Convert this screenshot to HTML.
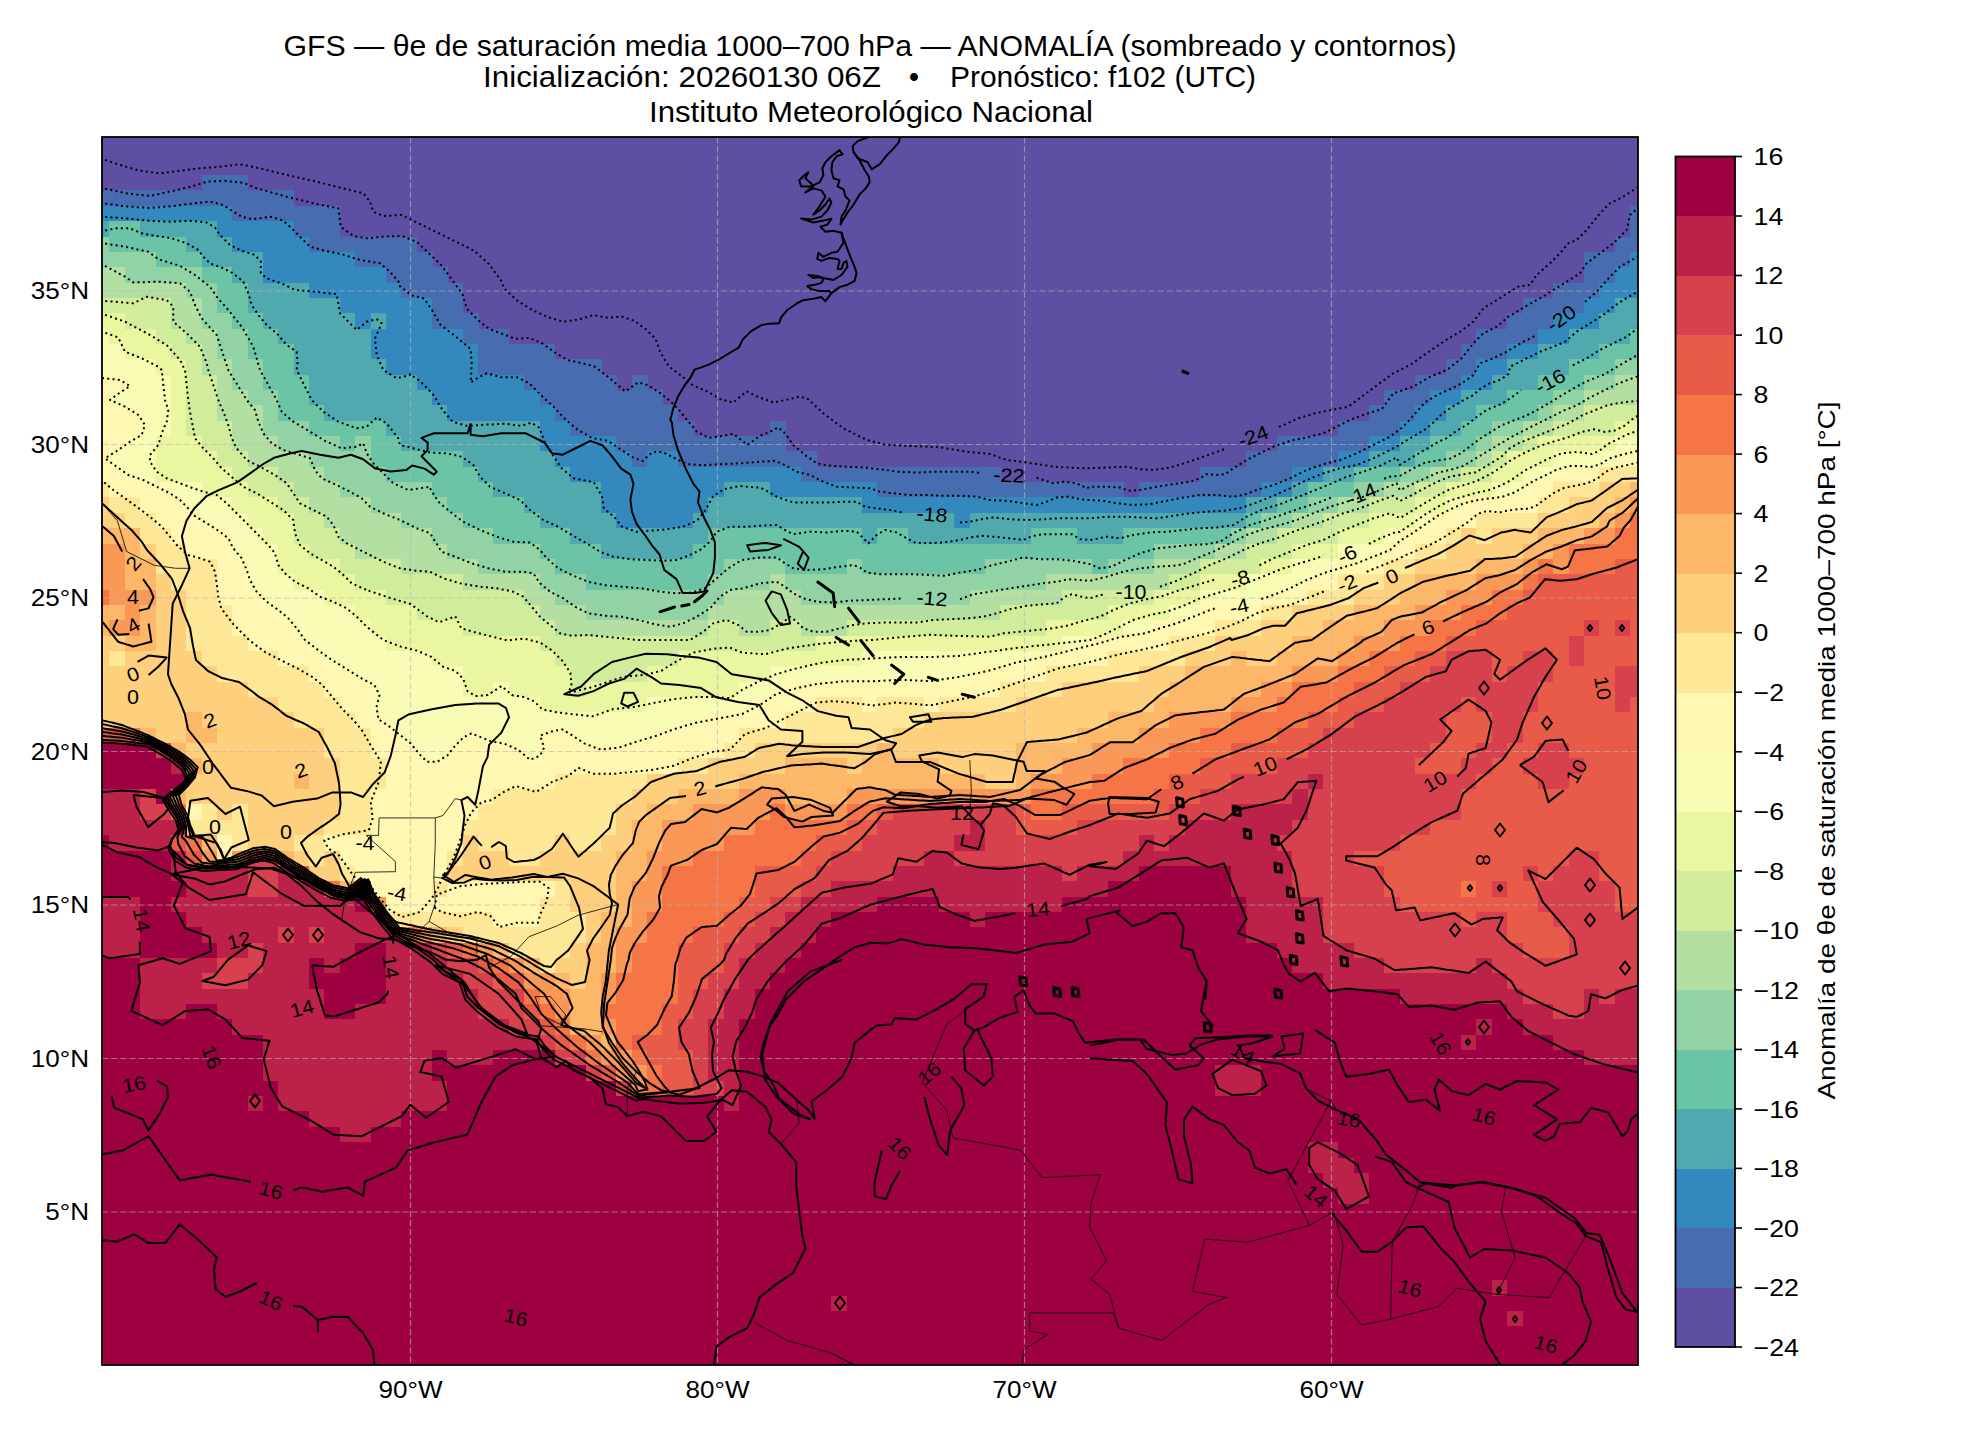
<!DOCTYPE html>
<html><head><meta charset="utf-8"><title>GFS</title>
<style>
html,body{margin:0;padding:0;background:#fff;}
body{width:1980px;height:1440px;overflow:hidden;font-family:"Liberation Sans",sans-serif;}
svg{display:block}
text{font-family:"Liberation Sans",sans-serif;fill:#000}
.cl{font-size:19.5px;text-anchor:middle;dominant-baseline:central}
.n{fill:none;stroke:#000;stroke-width:2;stroke-dasharray:2 3.3;stroke-linejoin:round}
.p{fill:none;stroke:#000;stroke-width:2;stroke-linejoin:round}
.c{fill:none;stroke:#000;stroke-width:2;stroke-linejoin:round;stroke-linecap:round}
.k{fill:none;stroke:#000;stroke-width:3;stroke-linejoin:round;stroke-linecap:round}
.b{fill:none;stroke:#000;stroke-width:0.8;stroke-linejoin:round}
.g line{stroke:#b8b8b8;stroke-width:1.2;stroke-dasharray:6.3 2.8;opacity:.6}
</style></head><body>
<svg width="1980" height="1440" viewBox="0 0 1980 1440">
<rect width="1980" height="1440" fill="#fff"/>
<text x="283.5" y="55.8" font-size="28.6" textLength="1173" lengthAdjust="spacingAndGlyphs">GFS — θe de saturación media 1000–700 hPa — ANOMALÍA (sombreado y contornos)</text>
<text x="483" y="86.6" font-size="28.6" textLength="398" lengthAdjust="spacingAndGlyphs">Inicialización: 20260130 06Z</text>
<text x="909" y="86.6" font-size="28.6">•</text>
<text x="950" y="86.6" font-size="28.6" textLength="306" lengthAdjust="spacingAndGlyphs">Pronóstico: f102 (UTC)</text>
<text x="649" y="121.8" font-size="28.6" textLength="444" lengthAdjust="spacingAndGlyphs">Instituto Meteorológico Nacional</text>
<defs><clipPath id="mc"><rect x="102" y="137" width="1536" height="1228"/></clipPath></defs>
<g clip-path="url(#mc)">
<rect x="102" y="137" width="1536" height="1228" fill="#5e4fa2"/>
<g shape-rendering="crispEdges">
<rect x="201.5" y="175.1" width="46.7" height="16.0" fill="#486cb0"/>
<rect x="101.7" y="190.4" width="192.6" height="16.0" fill="#486cb0"/>
<rect x="101.7" y="205.8" width="131.2" height="15.9" fill="#3389bd"/>
<rect x="232.3" y="205.8" width="108.1" height="15.9" fill="#486cb0"/>
<rect x="1630.0" y="205.8" width="8.3" height="15.9" fill="#486cb0"/>
<rect x="101.7" y="221.1" width="8.3" height="15.9" fill="#50a9af"/>
<rect x="109.4" y="221.1" width="31.3" height="15.9" fill="#6bc4a5"/>
<rect x="140.1" y="221.1" width="77.4" height="15.9" fill="#50a9af"/>
<rect x="216.9" y="221.1" width="77.4" height="15.9" fill="#3389bd"/>
<rect x="293.7" y="221.1" width="46.7" height="15.9" fill="#486cb0"/>
<rect x="1630.0" y="221.1" width="8.3" height="15.9" fill="#486cb0"/>
<rect x="101.7" y="236.5" width="8.3" height="16.0" fill="#91d3a4"/>
<rect x="109.4" y="236.5" width="77.4" height="16.0" fill="#6bc4a5"/>
<rect x="186.2" y="236.5" width="46.7" height="16.0" fill="#50a9af"/>
<rect x="232.3" y="236.5" width="77.4" height="16.0" fill="#3389bd"/>
<rect x="309.1" y="236.5" width="108.1" height="16.0" fill="#486cb0"/>
<rect x="1614.7" y="236.5" width="23.6" height="16.0" fill="#486cb0"/>
<rect x="101.7" y="251.8" width="54.4" height="15.9" fill="#91d3a4"/>
<rect x="155.5" y="251.8" width="46.7" height="15.9" fill="#6bc4a5"/>
<rect x="201.5" y="251.8" width="62.0" height="15.9" fill="#50a9af"/>
<rect x="263.0" y="251.8" width="92.8" height="15.9" fill="#3389bd"/>
<rect x="355.1" y="251.8" width="77.4" height="15.9" fill="#486cb0"/>
<rect x="1583.9" y="251.8" width="46.7" height="15.9" fill="#486cb0"/>
<rect x="1630.0" y="251.8" width="8.3" height="15.9" fill="#3389bd"/>
<rect x="101.7" y="267.2" width="23.6" height="15.9" fill="#b3e0a2"/>
<rect x="124.7" y="267.2" width="77.4" height="15.9" fill="#91d3a4"/>
<rect x="201.5" y="267.2" width="31.3" height="15.9" fill="#6bc4a5"/>
<rect x="232.3" y="267.2" width="31.3" height="15.9" fill="#50a9af"/>
<rect x="263.0" y="267.2" width="123.5" height="15.9" fill="#3389bd"/>
<rect x="385.9" y="267.2" width="62.0" height="15.9" fill="#486cb0"/>
<rect x="1583.9" y="267.2" width="31.3" height="15.9" fill="#486cb0"/>
<rect x="1614.7" y="267.2" width="23.6" height="15.9" fill="#3389bd"/>
<rect x="101.7" y="282.5" width="85.1" height="15.9" fill="#b3e0a2"/>
<rect x="186.2" y="282.5" width="31.3" height="15.9" fill="#91d3a4"/>
<rect x="216.9" y="282.5" width="31.3" height="15.9" fill="#6bc4a5"/>
<rect x="247.6" y="282.5" width="62.0" height="15.9" fill="#50a9af"/>
<rect x="309.1" y="282.5" width="92.8" height="15.9" fill="#3389bd"/>
<rect x="401.2" y="282.5" width="62.0" height="15.9" fill="#486cb0"/>
<rect x="1553.2" y="282.5" width="46.7" height="15.9" fill="#486cb0"/>
<rect x="1599.3" y="282.5" width="39.0" height="15.9" fill="#3389bd"/>
<rect x="101.7" y="297.9" width="69.7" height="16.0" fill="#d1ed9c"/>
<rect x="170.8" y="297.9" width="31.3" height="16.0" fill="#b3e0a2"/>
<rect x="201.5" y="297.9" width="16.0" height="16.0" fill="#91d3a4"/>
<rect x="216.9" y="297.9" width="31.3" height="16.0" fill="#6bc4a5"/>
<rect x="247.6" y="297.9" width="92.8" height="16.0" fill="#50a9af"/>
<rect x="339.8" y="297.9" width="92.8" height="16.0" fill="#3389bd"/>
<rect x="431.9" y="297.9" width="31.3" height="16.0" fill="#486cb0"/>
<rect x="1522.5" y="297.9" width="62.0" height="16.0" fill="#486cb0"/>
<rect x="1583.9" y="297.9" width="31.3" height="16.0" fill="#3389bd"/>
<rect x="1614.7" y="297.9" width="23.6" height="16.0" fill="#50a9af"/>
<rect x="101.7" y="313.2" width="23.6" height="15.9" fill="#ebf7a0"/>
<rect x="124.7" y="313.2" width="46.7" height="15.9" fill="#d1ed9c"/>
<rect x="170.8" y="313.2" width="31.3" height="15.9" fill="#b3e0a2"/>
<rect x="201.5" y="313.2" width="31.3" height="15.9" fill="#91d3a4"/>
<rect x="232.3" y="313.2" width="31.3" height="15.9" fill="#6bc4a5"/>
<rect x="263.0" y="313.2" width="92.8" height="15.9" fill="#50a9af"/>
<rect x="355.1" y="313.2" width="16.0" height="15.9" fill="#3389bd"/>
<rect x="370.5" y="313.2" width="16.0" height="15.9" fill="#50a9af"/>
<rect x="385.9" y="313.2" width="46.7" height="15.9" fill="#3389bd"/>
<rect x="431.9" y="313.2" width="46.7" height="15.9" fill="#486cb0"/>
<rect x="1507.1" y="313.2" width="46.7" height="15.9" fill="#486cb0"/>
<rect x="1553.2" y="313.2" width="46.7" height="15.9" fill="#3389bd"/>
<rect x="1599.3" y="313.2" width="39.0" height="15.9" fill="#50a9af"/>
<rect x="101.7" y="328.6" width="8.3" height="15.9" fill="#f8fcb4"/>
<rect x="109.4" y="328.6" width="46.7" height="15.9" fill="#ebf7a0"/>
<rect x="155.5" y="328.6" width="31.3" height="15.9" fill="#d1ed9c"/>
<rect x="186.2" y="328.6" width="31.3" height="15.9" fill="#b3e0a2"/>
<rect x="216.9" y="328.6" width="31.3" height="15.9" fill="#91d3a4"/>
<rect x="247.6" y="328.6" width="31.3" height="15.9" fill="#6bc4a5"/>
<rect x="278.3" y="328.6" width="92.8" height="15.9" fill="#50a9af"/>
<rect x="370.5" y="328.6" width="92.8" height="15.9" fill="#3389bd"/>
<rect x="462.7" y="328.6" width="46.7" height="15.9" fill="#486cb0"/>
<rect x="1476.4" y="328.6" width="62.0" height="15.9" fill="#486cb0"/>
<rect x="1537.9" y="328.6" width="31.3" height="15.9" fill="#3389bd"/>
<rect x="1568.6" y="328.6" width="62.0" height="15.9" fill="#50a9af"/>
<rect x="1630.0" y="328.6" width="8.3" height="15.9" fill="#6bc4a5"/>
<rect x="101.7" y="343.9" width="23.6" height="15.9" fill="#f8fcb4"/>
<rect x="124.7" y="343.9" width="46.7" height="15.9" fill="#ebf7a0"/>
<rect x="170.8" y="343.9" width="31.3" height="15.9" fill="#d1ed9c"/>
<rect x="201.5" y="343.9" width="16.0" height="15.9" fill="#b3e0a2"/>
<rect x="216.9" y="343.9" width="31.3" height="15.9" fill="#91d3a4"/>
<rect x="247.6" y="343.9" width="46.7" height="15.9" fill="#6bc4a5"/>
<rect x="293.7" y="343.9" width="77.4" height="15.9" fill="#50a9af"/>
<rect x="370.5" y="343.9" width="108.1" height="15.9" fill="#3389bd"/>
<rect x="478.0" y="343.9" width="77.4" height="15.9" fill="#486cb0"/>
<rect x="1461.1" y="343.9" width="46.7" height="15.9" fill="#486cb0"/>
<rect x="1507.1" y="343.9" width="31.3" height="15.9" fill="#3389bd"/>
<rect x="1537.9" y="343.9" width="62.0" height="15.9" fill="#50a9af"/>
<rect x="1599.3" y="343.9" width="39.0" height="15.9" fill="#6bc4a5"/>
<rect x="101.7" y="359.3" width="54.4" height="15.9" fill="#f8fcb4"/>
<rect x="155.5" y="359.3" width="31.3" height="15.9" fill="#ebf7a0"/>
<rect x="186.2" y="359.3" width="16.0" height="15.9" fill="#d1ed9c"/>
<rect x="201.5" y="359.3" width="31.3" height="15.9" fill="#b3e0a2"/>
<rect x="232.3" y="359.3" width="31.3" height="15.9" fill="#91d3a4"/>
<rect x="263.0" y="359.3" width="31.3" height="15.9" fill="#6bc4a5"/>
<rect x="293.7" y="359.3" width="92.8" height="15.9" fill="#50a9af"/>
<rect x="385.9" y="359.3" width="92.8" height="15.9" fill="#3389bd"/>
<rect x="478.0" y="359.3" width="123.5" height="15.9" fill="#486cb0"/>
<rect x="1445.7" y="359.3" width="31.3" height="15.9" fill="#486cb0"/>
<rect x="1476.4" y="359.3" width="31.3" height="15.9" fill="#3389bd"/>
<rect x="1507.1" y="359.3" width="62.0" height="15.9" fill="#50a9af"/>
<rect x="1568.6" y="359.3" width="46.7" height="15.9" fill="#6bc4a5"/>
<rect x="1614.7" y="359.3" width="23.6" height="15.9" fill="#91d3a4"/>
<rect x="101.7" y="374.6" width="23.6" height="16.0" fill="#fff7b2"/>
<rect x="124.7" y="374.6" width="46.7" height="16.0" fill="#f8fcb4"/>
<rect x="170.8" y="374.6" width="16.0" height="16.0" fill="#ebf7a0"/>
<rect x="186.2" y="374.6" width="31.3" height="16.0" fill="#d1ed9c"/>
<rect x="216.9" y="374.6" width="16.0" height="16.0" fill="#b3e0a2"/>
<rect x="232.3" y="374.6" width="31.3" height="16.0" fill="#91d3a4"/>
<rect x="263.0" y="374.6" width="46.7" height="16.0" fill="#6bc4a5"/>
<rect x="309.1" y="374.6" width="108.1" height="16.0" fill="#50a9af"/>
<rect x="416.6" y="374.6" width="108.1" height="16.0" fill="#3389bd"/>
<rect x="524.1" y="374.6" width="92.8" height="16.0" fill="#486cb0"/>
<rect x="631.6" y="374.6" width="16.0" height="16.0" fill="#486cb0"/>
<rect x="1415.0" y="374.6" width="46.7" height="16.0" fill="#486cb0"/>
<rect x="1461.1" y="374.6" width="31.3" height="16.0" fill="#3389bd"/>
<rect x="1491.8" y="374.6" width="46.7" height="16.0" fill="#50a9af"/>
<rect x="1537.9" y="374.6" width="46.7" height="16.0" fill="#6bc4a5"/>
<rect x="1583.9" y="374.6" width="31.3" height="16.0" fill="#91d3a4"/>
<rect x="1614.7" y="374.6" width="23.6" height="16.0" fill="#b3e0a2"/>
<rect x="101.7" y="390.0" width="8.3" height="15.9" fill="#fff7b2"/>
<rect x="109.4" y="390.0" width="62.0" height="15.9" fill="#f8fcb4"/>
<rect x="170.8" y="390.0" width="16.0" height="15.9" fill="#ebf7a0"/>
<rect x="186.2" y="390.0" width="31.3" height="15.9" fill="#d1ed9c"/>
<rect x="216.9" y="390.0" width="31.3" height="15.9" fill="#b3e0a2"/>
<rect x="247.6" y="390.0" width="31.3" height="15.9" fill="#91d3a4"/>
<rect x="278.3" y="390.0" width="31.3" height="15.9" fill="#6bc4a5"/>
<rect x="309.1" y="390.0" width="123.5" height="15.9" fill="#50a9af"/>
<rect x="431.9" y="390.0" width="108.1" height="15.9" fill="#3389bd"/>
<rect x="539.5" y="390.0" width="123.5" height="15.9" fill="#486cb0"/>
<rect x="1384.3" y="390.0" width="46.7" height="15.9" fill="#486cb0"/>
<rect x="1430.3" y="390.0" width="31.3" height="15.9" fill="#3389bd"/>
<rect x="1461.1" y="390.0" width="46.7" height="15.9" fill="#50a9af"/>
<rect x="1507.1" y="390.0" width="46.7" height="15.9" fill="#6bc4a5"/>
<rect x="1553.2" y="390.0" width="31.3" height="15.9" fill="#91d3a4"/>
<rect x="1583.9" y="390.0" width="54.4" height="15.9" fill="#b3e0a2"/>
<rect x="101.7" y="405.3" width="39.0" height="15.9" fill="#fff7b2"/>
<rect x="140.1" y="405.3" width="31.3" height="15.9" fill="#f8fcb4"/>
<rect x="170.8" y="405.3" width="16.0" height="15.9" fill="#ebf7a0"/>
<rect x="186.2" y="405.3" width="31.3" height="15.9" fill="#d1ed9c"/>
<rect x="216.9" y="405.3" width="46.7" height="15.9" fill="#b3e0a2"/>
<rect x="263.0" y="405.3" width="16.0" height="15.9" fill="#91d3a4"/>
<rect x="278.3" y="405.3" width="46.7" height="15.9" fill="#6bc4a5"/>
<rect x="324.4" y="405.3" width="123.5" height="15.9" fill="#50a9af"/>
<rect x="447.3" y="405.3" width="108.1" height="15.9" fill="#3389bd"/>
<rect x="554.8" y="405.3" width="123.5" height="15.9" fill="#486cb0"/>
<rect x="1368.9" y="405.3" width="46.7" height="15.9" fill="#486cb0"/>
<rect x="1415.0" y="405.3" width="31.3" height="15.9" fill="#3389bd"/>
<rect x="1445.7" y="405.3" width="31.3" height="15.9" fill="#50a9af"/>
<rect x="1476.4" y="405.3" width="62.0" height="15.9" fill="#6bc4a5"/>
<rect x="1537.9" y="405.3" width="16.0" height="15.9" fill="#91d3a4"/>
<rect x="1553.2" y="405.3" width="31.3" height="15.9" fill="#b3e0a2"/>
<rect x="1583.9" y="405.3" width="54.4" height="15.9" fill="#d1ed9c"/>
<rect x="101.7" y="420.7" width="39.0" height="16.0" fill="#fff7b2"/>
<rect x="140.1" y="420.7" width="31.3" height="16.0" fill="#f8fcb4"/>
<rect x="170.8" y="420.7" width="16.0" height="16.0" fill="#ebf7a0"/>
<rect x="186.2" y="420.7" width="46.7" height="16.0" fill="#d1ed9c"/>
<rect x="232.3" y="420.7" width="31.3" height="16.0" fill="#b3e0a2"/>
<rect x="263.0" y="420.7" width="46.7" height="16.0" fill="#91d3a4"/>
<rect x="309.1" y="420.7" width="77.4" height="16.0" fill="#6bc4a5"/>
<rect x="385.9" y="420.7" width="154.2" height="16.0" fill="#50a9af"/>
<rect x="539.5" y="420.7" width="31.3" height="16.0" fill="#3389bd"/>
<rect x="570.2" y="420.7" width="123.5" height="16.0" fill="#486cb0"/>
<rect x="769.9" y="420.7" width="16.0" height="16.0" fill="#486cb0"/>
<rect x="1338.2" y="420.7" width="62.0" height="16.0" fill="#486cb0"/>
<rect x="1399.6" y="420.7" width="31.3" height="16.0" fill="#3389bd"/>
<rect x="1430.3" y="420.7" width="31.3" height="16.0" fill="#50a9af"/>
<rect x="1461.1" y="420.7" width="31.3" height="16.0" fill="#6bc4a5"/>
<rect x="1491.8" y="420.7" width="31.3" height="16.0" fill="#91d3a4"/>
<rect x="1522.5" y="420.7" width="31.3" height="16.0" fill="#b3e0a2"/>
<rect x="1553.2" y="420.7" width="62.0" height="16.0" fill="#d1ed9c"/>
<rect x="1614.7" y="420.7" width="23.6" height="16.0" fill="#ebf7a0"/>
<rect x="101.7" y="436.0" width="23.6" height="16.0" fill="#fff7b2"/>
<rect x="124.7" y="436.0" width="31.3" height="16.0" fill="#f8fcb4"/>
<rect x="155.5" y="436.0" width="46.7" height="16.0" fill="#ebf7a0"/>
<rect x="201.5" y="436.0" width="31.3" height="16.0" fill="#d1ed9c"/>
<rect x="232.3" y="436.0" width="46.7" height="16.0" fill="#b3e0a2"/>
<rect x="278.3" y="436.0" width="62.0" height="16.0" fill="#91d3a4"/>
<rect x="339.8" y="436.0" width="16.0" height="16.0" fill="#6bc4a5"/>
<rect x="355.1" y="436.0" width="16.0" height="16.0" fill="#91d3a4"/>
<rect x="370.5" y="436.0" width="31.3" height="16.0" fill="#6bc4a5"/>
<rect x="401.2" y="436.0" width="138.8" height="16.0" fill="#50a9af"/>
<rect x="539.5" y="436.0" width="77.4" height="16.0" fill="#3389bd"/>
<rect x="616.3" y="436.0" width="169.6" height="16.0" fill="#486cb0"/>
<rect x="1276.7" y="436.0" width="92.8" height="16.0" fill="#486cb0"/>
<rect x="1368.9" y="436.0" width="31.3" height="16.0" fill="#3389bd"/>
<rect x="1399.6" y="436.0" width="31.3" height="16.0" fill="#50a9af"/>
<rect x="1430.3" y="436.0" width="46.7" height="16.0" fill="#6bc4a5"/>
<rect x="1476.4" y="436.0" width="16.0" height="16.0" fill="#91d3a4"/>
<rect x="1491.8" y="436.0" width="31.3" height="16.0" fill="#b3e0a2"/>
<rect x="1522.5" y="436.0" width="16.0" height="16.0" fill="#d1ed9c"/>
<rect x="1537.9" y="436.0" width="77.4" height="16.0" fill="#ebf7a0"/>
<rect x="1614.7" y="436.0" width="23.6" height="16.0" fill="#f8fcb4"/>
<rect x="101.7" y="451.4" width="8.3" height="15.9" fill="#fff7b2"/>
<rect x="109.4" y="451.4" width="46.7" height="15.9" fill="#f8fcb4"/>
<rect x="155.5" y="451.4" width="62.0" height="15.9" fill="#ebf7a0"/>
<rect x="216.9" y="451.4" width="31.3" height="15.9" fill="#d1ed9c"/>
<rect x="247.6" y="451.4" width="62.0" height="15.9" fill="#b3e0a2"/>
<rect x="309.1" y="451.4" width="62.0" height="15.9" fill="#91d3a4"/>
<rect x="370.5" y="451.4" width="92.8" height="15.9" fill="#6bc4a5"/>
<rect x="462.7" y="451.4" width="92.8" height="15.9" fill="#50a9af"/>
<rect x="554.8" y="451.4" width="77.4" height="15.9" fill="#3389bd"/>
<rect x="631.6" y="451.4" width="16.0" height="15.9" fill="#486cb0"/>
<rect x="647.0" y="451.4" width="31.3" height="15.9" fill="#3389bd"/>
<rect x="677.7" y="451.4" width="138.8" height="15.9" fill="#486cb0"/>
<rect x="1246.0" y="451.4" width="92.8" height="15.9" fill="#486cb0"/>
<rect x="1338.2" y="451.4" width="31.3" height="15.9" fill="#3389bd"/>
<rect x="1368.9" y="451.4" width="46.7" height="15.9" fill="#50a9af"/>
<rect x="1415.0" y="451.4" width="31.3" height="15.9" fill="#6bc4a5"/>
<rect x="1445.7" y="451.4" width="31.3" height="15.9" fill="#91d3a4"/>
<rect x="1476.4" y="451.4" width="16.0" height="15.9" fill="#b3e0a2"/>
<rect x="1491.8" y="451.4" width="16.0" height="15.9" fill="#d1ed9c"/>
<rect x="1507.1" y="451.4" width="46.7" height="15.9" fill="#ebf7a0"/>
<rect x="1553.2" y="451.4" width="62.0" height="15.9" fill="#f8fcb4"/>
<rect x="1614.7" y="451.4" width="23.6" height="15.9" fill="#fff7b2"/>
<rect x="101.7" y="466.7" width="23.6" height="16.0" fill="#fff7b2"/>
<rect x="124.7" y="466.7" width="31.3" height="16.0" fill="#f8fcb4"/>
<rect x="155.5" y="466.7" width="77.4" height="16.0" fill="#ebf7a0"/>
<rect x="232.3" y="466.7" width="46.7" height="16.0" fill="#d1ed9c"/>
<rect x="278.3" y="466.7" width="46.7" height="16.0" fill="#b3e0a2"/>
<rect x="324.4" y="466.7" width="62.0" height="16.0" fill="#91d3a4"/>
<rect x="385.9" y="466.7" width="92.8" height="16.0" fill="#6bc4a5"/>
<rect x="478.0" y="466.7" width="92.8" height="16.0" fill="#50a9af"/>
<rect x="570.2" y="466.7" width="231.0" height="16.0" fill="#3389bd"/>
<rect x="800.6" y="466.7" width="200.3" height="16.0" fill="#486cb0"/>
<rect x="1199.9" y="466.7" width="92.8" height="16.0" fill="#486cb0"/>
<rect x="1292.1" y="466.7" width="31.3" height="16.0" fill="#3389bd"/>
<rect x="1322.8" y="466.7" width="31.3" height="16.0" fill="#50a9af"/>
<rect x="1353.5" y="466.7" width="46.7" height="16.0" fill="#6bc4a5"/>
<rect x="1399.6" y="466.7" width="31.3" height="16.0" fill="#91d3a4"/>
<rect x="1430.3" y="466.7" width="31.3" height="16.0" fill="#b3e0a2"/>
<rect x="1461.1" y="466.7" width="31.3" height="16.0" fill="#d1ed9c"/>
<rect x="1491.8" y="466.7" width="31.3" height="16.0" fill="#ebf7a0"/>
<rect x="1522.5" y="466.7" width="31.3" height="16.0" fill="#f8fcb4"/>
<rect x="1553.2" y="466.7" width="46.7" height="16.0" fill="#fff7b2"/>
<rect x="1599.3" y="466.7" width="39.0" height="16.0" fill="#fee797"/>
<rect x="101.7" y="482.1" width="8.3" height="15.9" fill="#fee797"/>
<rect x="109.4" y="482.1" width="62.0" height="15.9" fill="#fff7b2"/>
<rect x="170.8" y="482.1" width="31.3" height="15.9" fill="#f8fcb4"/>
<rect x="201.5" y="482.1" width="46.7" height="15.9" fill="#ebf7a0"/>
<rect x="247.6" y="482.1" width="46.7" height="15.9" fill="#d1ed9c"/>
<rect x="293.7" y="482.1" width="46.7" height="15.9" fill="#b3e0a2"/>
<rect x="339.8" y="482.1" width="92.8" height="15.9" fill="#91d3a4"/>
<rect x="431.9" y="482.1" width="62.0" height="15.9" fill="#6bc4a5"/>
<rect x="493.4" y="482.1" width="108.1" height="15.9" fill="#50a9af"/>
<rect x="600.9" y="482.1" width="123.5" height="15.9" fill="#3389bd"/>
<rect x="723.8" y="482.1" width="46.7" height="15.9" fill="#50a9af"/>
<rect x="769.9" y="482.1" width="108.1" height="15.9" fill="#3389bd"/>
<rect x="877.4" y="482.1" width="246.4" height="15.9" fill="#486cb0"/>
<rect x="1138.5" y="482.1" width="123.5" height="15.9" fill="#486cb0"/>
<rect x="1261.4" y="482.1" width="31.3" height="15.9" fill="#3389bd"/>
<rect x="1292.1" y="482.1" width="16.0" height="15.9" fill="#50a9af"/>
<rect x="1307.5" y="482.1" width="46.7" height="15.9" fill="#6bc4a5"/>
<rect x="1353.5" y="482.1" width="31.3" height="15.9" fill="#91d3a4"/>
<rect x="1384.3" y="482.1" width="31.3" height="15.9" fill="#b3e0a2"/>
<rect x="1415.0" y="482.1" width="31.3" height="15.9" fill="#d1ed9c"/>
<rect x="1445.7" y="482.1" width="46.7" height="15.9" fill="#ebf7a0"/>
<rect x="1491.8" y="482.1" width="31.3" height="15.9" fill="#f8fcb4"/>
<rect x="1522.5" y="482.1" width="31.3" height="15.9" fill="#fff7b2"/>
<rect x="1553.2" y="482.1" width="46.7" height="15.9" fill="#fee797"/>
<rect x="1599.3" y="482.1" width="31.3" height="15.9" fill="#fed07e"/>
<rect x="1630.0" y="482.1" width="8.3" height="15.9" fill="#fdb768"/>
<rect x="101.7" y="497.4" width="8.3" height="16.0" fill="#fed07e"/>
<rect x="109.4" y="497.4" width="31.3" height="16.0" fill="#fee797"/>
<rect x="140.1" y="497.4" width="46.7" height="16.0" fill="#fff7b2"/>
<rect x="186.2" y="497.4" width="46.7" height="16.0" fill="#f8fcb4"/>
<rect x="232.3" y="497.4" width="46.7" height="16.0" fill="#ebf7a0"/>
<rect x="278.3" y="497.4" width="31.3" height="16.0" fill="#d1ed9c"/>
<rect x="309.1" y="497.4" width="62.0" height="16.0" fill="#b3e0a2"/>
<rect x="370.5" y="497.4" width="77.4" height="16.0" fill="#91d3a4"/>
<rect x="447.3" y="497.4" width="77.4" height="16.0" fill="#6bc4a5"/>
<rect x="524.1" y="497.4" width="77.4" height="16.0" fill="#50a9af"/>
<rect x="600.9" y="497.4" width="108.1" height="16.0" fill="#3389bd"/>
<rect x="708.4" y="497.4" width="154.2" height="16.0" fill="#50a9af"/>
<rect x="862.0" y="497.4" width="384.6" height="16.0" fill="#3389bd"/>
<rect x="1246.0" y="497.4" width="31.3" height="16.0" fill="#50a9af"/>
<rect x="1276.7" y="497.4" width="31.3" height="16.0" fill="#6bc4a5"/>
<rect x="1307.5" y="497.4" width="31.3" height="16.0" fill="#91d3a4"/>
<rect x="1338.2" y="497.4" width="31.3" height="16.0" fill="#b3e0a2"/>
<rect x="1368.9" y="497.4" width="46.7" height="16.0" fill="#d1ed9c"/>
<rect x="1415.0" y="497.4" width="31.3" height="16.0" fill="#ebf7a0"/>
<rect x="1445.7" y="497.4" width="16.0" height="16.0" fill="#f8fcb4"/>
<rect x="1461.1" y="497.4" width="77.4" height="16.0" fill="#fff7b2"/>
<rect x="1537.9" y="497.4" width="31.3" height="16.0" fill="#fee797"/>
<rect x="1568.6" y="497.4" width="46.7" height="16.0" fill="#fed07e"/>
<rect x="1614.7" y="497.4" width="16.0" height="16.0" fill="#fdb768"/>
<rect x="1630.0" y="497.4" width="8.3" height="16.0" fill="#fa9857"/>
<rect x="101.7" y="512.8" width="23.6" height="16.0" fill="#fed07e"/>
<rect x="124.7" y="512.8" width="31.3" height="16.0" fill="#fee797"/>
<rect x="155.5" y="512.8" width="46.7" height="16.0" fill="#fff7b2"/>
<rect x="201.5" y="512.8" width="46.7" height="16.0" fill="#f8fcb4"/>
<rect x="247.6" y="512.8" width="46.7" height="16.0" fill="#ebf7a0"/>
<rect x="293.7" y="512.8" width="31.3" height="16.0" fill="#d1ed9c"/>
<rect x="324.4" y="512.8" width="77.4" height="16.0" fill="#b3e0a2"/>
<rect x="401.2" y="512.8" width="62.0" height="16.0" fill="#91d3a4"/>
<rect x="462.7" y="512.8" width="77.4" height="16.0" fill="#6bc4a5"/>
<rect x="539.5" y="512.8" width="77.4" height="16.0" fill="#50a9af"/>
<rect x="616.3" y="512.8" width="77.4" height="16.0" fill="#3389bd"/>
<rect x="693.1" y="512.8" width="261.7" height="16.0" fill="#50a9af"/>
<rect x="954.2" y="512.8" width="16.0" height="16.0" fill="#3389bd"/>
<rect x="969.5" y="512.8" width="277.1" height="16.0" fill="#50a9af"/>
<rect x="1246.0" y="512.8" width="16.0" height="16.0" fill="#6bc4a5"/>
<rect x="1261.4" y="512.8" width="31.3" height="16.0" fill="#91d3a4"/>
<rect x="1292.1" y="512.8" width="31.3" height="16.0" fill="#b3e0a2"/>
<rect x="1322.8" y="512.8" width="46.7" height="16.0" fill="#d1ed9c"/>
<rect x="1368.9" y="512.8" width="46.7" height="16.0" fill="#ebf7a0"/>
<rect x="1415.0" y="512.8" width="16.0" height="16.0" fill="#f8fcb4"/>
<rect x="1430.3" y="512.8" width="46.7" height="16.0" fill="#fff7b2"/>
<rect x="1476.4" y="512.8" width="62.0" height="16.0" fill="#fee797"/>
<rect x="1537.9" y="512.8" width="62.0" height="16.0" fill="#fed07e"/>
<rect x="1599.3" y="512.8" width="16.0" height="16.0" fill="#fdb768"/>
<rect x="1614.7" y="512.8" width="16.0" height="16.0" fill="#fa9857"/>
<rect x="1630.0" y="512.8" width="8.3" height="16.0" fill="#f57547"/>
<rect x="101.7" y="528.1" width="39.0" height="15.9" fill="#fdb768"/>
<rect x="140.1" y="528.1" width="31.3" height="15.9" fill="#fee797"/>
<rect x="170.8" y="528.1" width="62.0" height="15.9" fill="#fff7b2"/>
<rect x="232.3" y="528.1" width="31.3" height="15.9" fill="#f8fcb4"/>
<rect x="263.0" y="528.1" width="31.3" height="15.9" fill="#ebf7a0"/>
<rect x="293.7" y="528.1" width="46.7" height="15.9" fill="#d1ed9c"/>
<rect x="339.8" y="528.1" width="92.8" height="15.9" fill="#b3e0a2"/>
<rect x="431.9" y="528.1" width="62.0" height="15.9" fill="#91d3a4"/>
<rect x="493.4" y="528.1" width="77.4" height="15.9" fill="#6bc4a5"/>
<rect x="570.2" y="528.1" width="138.8" height="15.9" fill="#50a9af"/>
<rect x="708.4" y="528.1" width="154.2" height="15.9" fill="#6bc4a5"/>
<rect x="862.0" y="528.1" width="16.0" height="15.9" fill="#50a9af"/>
<rect x="877.4" y="528.1" width="31.3" height="15.9" fill="#6bc4a5"/>
<rect x="908.1" y="528.1" width="123.5" height="15.9" fill="#50a9af"/>
<rect x="1031.0" y="528.1" width="46.7" height="15.9" fill="#6bc4a5"/>
<rect x="1077.1" y="528.1" width="46.7" height="15.9" fill="#50a9af"/>
<rect x="1123.1" y="528.1" width="108.1" height="15.9" fill="#6bc4a5"/>
<rect x="1230.7" y="528.1" width="16.0" height="15.9" fill="#91d3a4"/>
<rect x="1246.0" y="528.1" width="31.3" height="15.9" fill="#b3e0a2"/>
<rect x="1276.7" y="528.1" width="62.0" height="15.9" fill="#d1ed9c"/>
<rect x="1338.2" y="528.1" width="46.7" height="15.9" fill="#ebf7a0"/>
<rect x="1384.3" y="528.1" width="16.0" height="15.9" fill="#f8fcb4"/>
<rect x="1399.6" y="528.1" width="46.7" height="15.9" fill="#fff7b2"/>
<rect x="1445.7" y="528.1" width="16.0" height="15.9" fill="#fee797"/>
<rect x="1461.1" y="528.1" width="16.0" height="15.9" fill="#fed07e"/>
<rect x="1476.4" y="528.1" width="16.0" height="15.9" fill="#fee797"/>
<rect x="1491.8" y="528.1" width="46.7" height="15.9" fill="#fed07e"/>
<rect x="1537.9" y="528.1" width="46.7" height="15.9" fill="#fdb768"/>
<rect x="1583.9" y="528.1" width="31.3" height="15.9" fill="#fa9857"/>
<rect x="1614.7" y="528.1" width="23.6" height="15.9" fill="#f57547"/>
<rect x="101.7" y="543.5" width="23.6" height="16.0" fill="#fa9857"/>
<rect x="124.7" y="543.5" width="16.0" height="16.0" fill="#fdb768"/>
<rect x="140.1" y="543.5" width="16.0" height="16.0" fill="#fed07e"/>
<rect x="155.5" y="543.5" width="31.3" height="16.0" fill="#fee797"/>
<rect x="186.2" y="543.5" width="46.7" height="16.0" fill="#fff7b2"/>
<rect x="232.3" y="543.5" width="46.7" height="16.0" fill="#f8fcb4"/>
<rect x="278.3" y="543.5" width="31.3" height="16.0" fill="#ebf7a0"/>
<rect x="309.1" y="543.5" width="46.7" height="16.0" fill="#d1ed9c"/>
<rect x="355.1" y="543.5" width="92.8" height="16.0" fill="#b3e0a2"/>
<rect x="447.3" y="543.5" width="92.8" height="16.0" fill="#91d3a4"/>
<rect x="539.5" y="543.5" width="62.0" height="16.0" fill="#6bc4a5"/>
<rect x="600.9" y="543.5" width="92.8" height="16.0" fill="#50a9af"/>
<rect x="693.1" y="543.5" width="461.4" height="16.0" fill="#6bc4a5"/>
<rect x="1153.9" y="543.5" width="62.0" height="16.0" fill="#91d3a4"/>
<rect x="1215.3" y="543.5" width="31.3" height="16.0" fill="#b3e0a2"/>
<rect x="1246.0" y="543.5" width="46.7" height="16.0" fill="#d1ed9c"/>
<rect x="1292.1" y="543.5" width="46.7" height="16.0" fill="#ebf7a0"/>
<rect x="1338.2" y="543.5" width="46.7" height="16.0" fill="#f8fcb4"/>
<rect x="1384.3" y="543.5" width="31.3" height="16.0" fill="#fff7b2"/>
<rect x="1415.0" y="543.5" width="31.3" height="16.0" fill="#fee797"/>
<rect x="1445.7" y="543.5" width="77.4" height="16.0" fill="#fed07e"/>
<rect x="1522.5" y="543.5" width="31.3" height="16.0" fill="#fdb768"/>
<rect x="1553.2" y="543.5" width="16.0" height="16.0" fill="#fa9857"/>
<rect x="1568.6" y="543.5" width="69.7" height="16.0" fill="#f57547"/>
<rect x="101.7" y="558.8" width="23.6" height="15.9" fill="#fa9857"/>
<rect x="124.7" y="558.8" width="31.3" height="15.9" fill="#fdb768"/>
<rect x="155.5" y="558.8" width="62.0" height="15.9" fill="#fee797"/>
<rect x="216.9" y="558.8" width="31.3" height="15.9" fill="#fff7b2"/>
<rect x="247.6" y="558.8" width="31.3" height="15.9" fill="#f8fcb4"/>
<rect x="278.3" y="558.8" width="62.0" height="15.9" fill="#ebf7a0"/>
<rect x="339.8" y="558.8" width="62.0" height="15.9" fill="#d1ed9c"/>
<rect x="401.2" y="558.8" width="77.4" height="15.9" fill="#b3e0a2"/>
<rect x="478.0" y="558.8" width="77.4" height="15.9" fill="#91d3a4"/>
<rect x="554.8" y="558.8" width="169.6" height="15.9" fill="#6bc4a5"/>
<rect x="723.8" y="558.8" width="62.0" height="15.9" fill="#91d3a4"/>
<rect x="785.2" y="558.8" width="62.0" height="15.9" fill="#6bc4a5"/>
<rect x="846.7" y="558.8" width="16.0" height="15.9" fill="#91d3a4"/>
<rect x="862.0" y="558.8" width="123.5" height="15.9" fill="#6bc4a5"/>
<rect x="984.9" y="558.8" width="108.1" height="15.9" fill="#91d3a4"/>
<rect x="1092.4" y="558.8" width="16.0" height="15.9" fill="#6bc4a5"/>
<rect x="1107.8" y="558.8" width="46.7" height="15.9" fill="#91d3a4"/>
<rect x="1153.9" y="558.8" width="46.7" height="15.9" fill="#b3e0a2"/>
<rect x="1199.9" y="558.8" width="62.0" height="15.9" fill="#d1ed9c"/>
<rect x="1261.4" y="558.8" width="31.3" height="15.9" fill="#ebf7a0"/>
<rect x="1292.1" y="558.8" width="46.7" height="15.9" fill="#f8fcb4"/>
<rect x="1338.2" y="558.8" width="46.7" height="15.9" fill="#fff7b2"/>
<rect x="1384.3" y="558.8" width="31.3" height="15.9" fill="#fee797"/>
<rect x="1415.0" y="558.8" width="62.0" height="15.9" fill="#fed07e"/>
<rect x="1476.4" y="558.8" width="46.7" height="15.9" fill="#fdb768"/>
<rect x="1522.5" y="558.8" width="16.0" height="15.9" fill="#fa9857"/>
<rect x="1537.9" y="558.8" width="16.0" height="15.9" fill="#f57547"/>
<rect x="1553.2" y="558.8" width="16.0" height="15.9" fill="#fa9857"/>
<rect x="1568.6" y="558.8" width="46.7" height="15.9" fill="#f57547"/>
<rect x="1614.7" y="558.8" width="23.6" height="15.9" fill="#e85b48"/>
<rect x="101.7" y="574.2" width="23.6" height="16.0" fill="#fa9857"/>
<rect x="124.7" y="574.2" width="31.3" height="16.0" fill="#fdb768"/>
<rect x="155.5" y="574.2" width="16.0" height="16.0" fill="#fed07e"/>
<rect x="170.8" y="574.2" width="46.7" height="16.0" fill="#fee797"/>
<rect x="216.9" y="574.2" width="31.3" height="16.0" fill="#fff7b2"/>
<rect x="247.6" y="574.2" width="46.7" height="16.0" fill="#f8fcb4"/>
<rect x="293.7" y="574.2" width="62.0" height="16.0" fill="#ebf7a0"/>
<rect x="355.1" y="574.2" width="108.1" height="16.0" fill="#d1ed9c"/>
<rect x="462.7" y="574.2" width="77.4" height="16.0" fill="#b3e0a2"/>
<rect x="539.5" y="574.2" width="46.7" height="16.0" fill="#91d3a4"/>
<rect x="585.5" y="574.2" width="123.5" height="16.0" fill="#6bc4a5"/>
<rect x="708.4" y="574.2" width="62.0" height="16.0" fill="#91d3a4"/>
<rect x="769.9" y="574.2" width="16.0" height="16.0" fill="#b3e0a2"/>
<rect x="785.2" y="574.2" width="261.7" height="16.0" fill="#91d3a4"/>
<rect x="1046.3" y="574.2" width="123.5" height="16.0" fill="#b3e0a2"/>
<rect x="1169.2" y="574.2" width="31.3" height="16.0" fill="#d1ed9c"/>
<rect x="1199.9" y="574.2" width="46.7" height="16.0" fill="#ebf7a0"/>
<rect x="1246.0" y="574.2" width="62.0" height="16.0" fill="#f8fcb4"/>
<rect x="1307.5" y="574.2" width="31.3" height="16.0" fill="#fff7b2"/>
<rect x="1338.2" y="574.2" width="46.7" height="16.0" fill="#fee797"/>
<rect x="1384.3" y="574.2" width="31.3" height="16.0" fill="#fed07e"/>
<rect x="1415.0" y="574.2" width="62.0" height="16.0" fill="#fdb768"/>
<rect x="1476.4" y="574.2" width="46.7" height="16.0" fill="#fa9857"/>
<rect x="1522.5" y="574.2" width="16.0" height="16.0" fill="#f57547"/>
<rect x="1537.9" y="574.2" width="100.4" height="16.0" fill="#e85b48"/>
<rect x="101.7" y="589.5" width="8.3" height="16.0" fill="#f57547"/>
<rect x="109.4" y="589.5" width="46.7" height="16.0" fill="#fa9857"/>
<rect x="155.5" y="589.5" width="31.3" height="16.0" fill="#fed07e"/>
<rect x="186.2" y="589.5" width="31.3" height="16.0" fill="#fee797"/>
<rect x="216.9" y="589.5" width="46.7" height="16.0" fill="#fff7b2"/>
<rect x="263.0" y="589.5" width="62.0" height="16.0" fill="#f8fcb4"/>
<rect x="324.4" y="589.5" width="62.0" height="16.0" fill="#ebf7a0"/>
<rect x="385.9" y="589.5" width="138.8" height="16.0" fill="#d1ed9c"/>
<rect x="524.1" y="589.5" width="31.3" height="16.0" fill="#b3e0a2"/>
<rect x="554.8" y="589.5" width="169.6" height="16.0" fill="#91d3a4"/>
<rect x="723.8" y="589.5" width="77.4" height="16.0" fill="#b3e0a2"/>
<rect x="800.6" y="589.5" width="169.6" height="16.0" fill="#91d3a4"/>
<rect x="969.5" y="589.5" width="92.8" height="16.0" fill="#b3e0a2"/>
<rect x="1061.7" y="589.5" width="92.8" height="16.0" fill="#d1ed9c"/>
<rect x="1153.9" y="589.5" width="46.7" height="16.0" fill="#ebf7a0"/>
<rect x="1199.9" y="589.5" width="62.0" height="16.0" fill="#f8fcb4"/>
<rect x="1261.4" y="589.5" width="46.7" height="16.0" fill="#fff7b2"/>
<rect x="1307.5" y="589.5" width="46.7" height="16.0" fill="#fee797"/>
<rect x="1353.5" y="589.5" width="46.7" height="16.0" fill="#fed07e"/>
<rect x="1399.6" y="589.5" width="46.7" height="16.0" fill="#fdb768"/>
<rect x="1445.7" y="589.5" width="46.7" height="16.0" fill="#fa9857"/>
<rect x="1491.8" y="589.5" width="31.3" height="16.0" fill="#f57547"/>
<rect x="1522.5" y="589.5" width="115.8" height="16.0" fill="#e85b48"/>
<rect x="101.7" y="604.9" width="23.6" height="15.9" fill="#fdb768"/>
<rect x="124.7" y="604.9" width="16.0" height="15.9" fill="#fa9857"/>
<rect x="140.1" y="604.9" width="16.0" height="15.9" fill="#fdb768"/>
<rect x="155.5" y="604.9" width="31.3" height="15.9" fill="#fed07e"/>
<rect x="186.2" y="604.9" width="46.7" height="15.9" fill="#fee797"/>
<rect x="232.3" y="604.9" width="46.7" height="15.9" fill="#fff7b2"/>
<rect x="278.3" y="604.9" width="77.4" height="15.9" fill="#f8fcb4"/>
<rect x="355.1" y="604.9" width="62.0" height="15.9" fill="#ebf7a0"/>
<rect x="416.6" y="604.9" width="123.5" height="15.9" fill="#d1ed9c"/>
<rect x="539.5" y="604.9" width="46.7" height="15.9" fill="#b3e0a2"/>
<rect x="585.5" y="604.9" width="123.5" height="15.9" fill="#91d3a4"/>
<rect x="708.4" y="604.9" width="292.4" height="15.9" fill="#b3e0a2"/>
<rect x="1000.3" y="604.9" width="108.1" height="15.9" fill="#d1ed9c"/>
<rect x="1107.8" y="604.9" width="62.0" height="15.9" fill="#ebf7a0"/>
<rect x="1169.2" y="604.9" width="31.3" height="15.9" fill="#f8fcb4"/>
<rect x="1199.9" y="604.9" width="62.0" height="15.9" fill="#fff7b2"/>
<rect x="1261.4" y="604.9" width="31.3" height="15.9" fill="#fee797"/>
<rect x="1292.1" y="604.9" width="62.0" height="15.9" fill="#fed07e"/>
<rect x="1353.5" y="604.9" width="62.0" height="15.9" fill="#fdb768"/>
<rect x="1415.0" y="604.9" width="46.7" height="15.9" fill="#fa9857"/>
<rect x="1461.1" y="604.9" width="46.7" height="15.9" fill="#f57547"/>
<rect x="1507.1" y="604.9" width="131.2" height="15.9" fill="#e85b48"/>
<rect x="101.7" y="620.2" width="8.3" height="16.0" fill="#fdb768"/>
<rect x="109.4" y="620.2" width="31.3" height="16.0" fill="#fa9857"/>
<rect x="140.1" y="620.2" width="16.0" height="16.0" fill="#fdb768"/>
<rect x="155.5" y="620.2" width="31.3" height="16.0" fill="#fed07e"/>
<rect x="186.2" y="620.2" width="46.7" height="16.0" fill="#fee797"/>
<rect x="232.3" y="620.2" width="62.0" height="16.0" fill="#fff7b2"/>
<rect x="293.7" y="620.2" width="77.4" height="16.0" fill="#f8fcb4"/>
<rect x="370.5" y="620.2" width="92.8" height="16.0" fill="#ebf7a0"/>
<rect x="462.7" y="620.2" width="92.8" height="16.0" fill="#d1ed9c"/>
<rect x="554.8" y="620.2" width="154.2" height="16.0" fill="#b3e0a2"/>
<rect x="708.4" y="620.2" width="31.3" height="16.0" fill="#d1ed9c"/>
<rect x="739.1" y="620.2" width="31.3" height="16.0" fill="#b3e0a2"/>
<rect x="769.9" y="620.2" width="31.3" height="16.0" fill="#d1ed9c"/>
<rect x="800.6" y="620.2" width="46.7" height="16.0" fill="#b3e0a2"/>
<rect x="846.7" y="620.2" width="200.3" height="16.0" fill="#d1ed9c"/>
<rect x="1046.3" y="620.2" width="77.4" height="16.0" fill="#ebf7a0"/>
<rect x="1123.1" y="620.2" width="31.3" height="16.0" fill="#f8fcb4"/>
<rect x="1153.9" y="620.2" width="62.0" height="16.0" fill="#fff7b2"/>
<rect x="1215.3" y="620.2" width="46.7" height="16.0" fill="#fee797"/>
<rect x="1261.4" y="620.2" width="62.0" height="16.0" fill="#fed07e"/>
<rect x="1322.8" y="620.2" width="62.0" height="16.0" fill="#fdb768"/>
<rect x="1384.3" y="620.2" width="46.7" height="16.0" fill="#fa9857"/>
<rect x="1430.3" y="620.2" width="46.7" height="16.0" fill="#f57547"/>
<rect x="1476.4" y="620.2" width="108.1" height="16.0" fill="#e85b48"/>
<rect x="1583.9" y="620.2" width="16.0" height="16.0" fill="#d7414e"/>
<rect x="1599.3" y="620.2" width="16.0" height="16.0" fill="#e85b48"/>
<rect x="1614.7" y="620.2" width="16.0" height="16.0" fill="#d7414e"/>
<rect x="1630.0" y="620.2" width="8.3" height="16.0" fill="#e85b48"/>
<rect x="101.7" y="635.6" width="23.6" height="16.0" fill="#fed07e"/>
<rect x="124.7" y="635.6" width="31.3" height="16.0" fill="#fdb768"/>
<rect x="155.5" y="635.6" width="31.3" height="16.0" fill="#fed07e"/>
<rect x="186.2" y="635.6" width="62.0" height="16.0" fill="#fee797"/>
<rect x="247.6" y="635.6" width="62.0" height="16.0" fill="#fff7b2"/>
<rect x="309.1" y="635.6" width="77.4" height="16.0" fill="#f8fcb4"/>
<rect x="385.9" y="635.6" width="154.2" height="16.0" fill="#ebf7a0"/>
<rect x="539.5" y="635.6" width="277.1" height="16.0" fill="#d1ed9c"/>
<rect x="815.9" y="635.6" width="246.4" height="16.0" fill="#ebf7a0"/>
<rect x="1061.7" y="635.6" width="31.3" height="16.0" fill="#f8fcb4"/>
<rect x="1092.4" y="635.6" width="77.4" height="16.0" fill="#fff7b2"/>
<rect x="1169.2" y="635.6" width="46.7" height="16.0" fill="#fee797"/>
<rect x="1215.3" y="635.6" width="77.4" height="16.0" fill="#fed07e"/>
<rect x="1292.1" y="635.6" width="62.0" height="16.0" fill="#fdb768"/>
<rect x="1353.5" y="635.6" width="46.7" height="16.0" fill="#fa9857"/>
<rect x="1399.6" y="635.6" width="46.7" height="16.0" fill="#f57547"/>
<rect x="1445.7" y="635.6" width="123.5" height="16.0" fill="#e85b48"/>
<rect x="1568.6" y="635.6" width="16.0" height="16.0" fill="#d7414e"/>
<rect x="1583.9" y="635.6" width="54.4" height="16.0" fill="#e85b48"/>
<rect x="101.7" y="650.9" width="8.3" height="15.9" fill="#fed07e"/>
<rect x="109.4" y="650.9" width="16.0" height="15.9" fill="#fee797"/>
<rect x="124.7" y="650.9" width="77.4" height="15.9" fill="#fed07e"/>
<rect x="201.5" y="650.9" width="77.4" height="15.9" fill="#fee797"/>
<rect x="278.3" y="650.9" width="46.7" height="15.9" fill="#fff7b2"/>
<rect x="324.4" y="650.9" width="108.1" height="15.9" fill="#f8fcb4"/>
<rect x="431.9" y="650.9" width="123.5" height="15.9" fill="#ebf7a0"/>
<rect x="554.8" y="650.9" width="123.5" height="15.9" fill="#d1ed9c"/>
<rect x="677.7" y="650.9" width="184.9" height="15.9" fill="#ebf7a0"/>
<rect x="862.0" y="650.9" width="169.6" height="15.9" fill="#f8fcb4"/>
<rect x="1031.0" y="650.9" width="77.4" height="15.9" fill="#fff7b2"/>
<rect x="1107.8" y="650.9" width="77.4" height="15.9" fill="#fee797"/>
<rect x="1184.6" y="650.9" width="46.7" height="15.9" fill="#fed07e"/>
<rect x="1230.7" y="650.9" width="16.0" height="15.9" fill="#fdb768"/>
<rect x="1246.0" y="650.9" width="31.3" height="15.9" fill="#fed07e"/>
<rect x="1276.7" y="650.9" width="62.0" height="15.9" fill="#fdb768"/>
<rect x="1338.2" y="650.9" width="31.3" height="15.9" fill="#fa9857"/>
<rect x="1368.9" y="650.9" width="46.7" height="15.9" fill="#f57547"/>
<rect x="1415.0" y="650.9" width="31.3" height="15.9" fill="#e85b48"/>
<rect x="1445.7" y="650.9" width="46.7" height="15.9" fill="#d7414e"/>
<rect x="1491.8" y="650.9" width="31.3" height="15.9" fill="#e85b48"/>
<rect x="1522.5" y="650.9" width="31.3" height="15.9" fill="#d7414e"/>
<rect x="1553.2" y="650.9" width="16.0" height="15.9" fill="#e85b48"/>
<rect x="1568.6" y="650.9" width="16.0" height="15.9" fill="#d7414e"/>
<rect x="1583.9" y="650.9" width="54.4" height="15.9" fill="#e85b48"/>
<rect x="101.7" y="666.3" width="115.8" height="16.0" fill="#fed07e"/>
<rect x="216.9" y="666.3" width="92.8" height="16.0" fill="#fee797"/>
<rect x="309.1" y="666.3" width="46.7" height="16.0" fill="#fff7b2"/>
<rect x="355.1" y="666.3" width="108.1" height="16.0" fill="#f8fcb4"/>
<rect x="462.7" y="666.3" width="108.1" height="16.0" fill="#ebf7a0"/>
<rect x="570.2" y="666.3" width="77.4" height="16.0" fill="#d1ed9c"/>
<rect x="647.0" y="666.3" width="123.5" height="16.0" fill="#ebf7a0"/>
<rect x="769.9" y="666.3" width="200.3" height="16.0" fill="#f8fcb4"/>
<rect x="969.5" y="666.3" width="77.4" height="16.0" fill="#fff7b2"/>
<rect x="1046.3" y="666.3" width="92.8" height="16.0" fill="#fee797"/>
<rect x="1138.5" y="666.3" width="46.7" height="16.0" fill="#fed07e"/>
<rect x="1184.6" y="666.3" width="108.1" height="16.0" fill="#fdb768"/>
<rect x="1292.1" y="666.3" width="46.7" height="16.0" fill="#fa9857"/>
<rect x="1338.2" y="666.3" width="46.7" height="16.0" fill="#f57547"/>
<rect x="1384.3" y="666.3" width="46.7" height="16.0" fill="#e85b48"/>
<rect x="1430.3" y="666.3" width="62.0" height="16.0" fill="#d7414e"/>
<rect x="1491.8" y="666.3" width="16.0" height="16.0" fill="#e85b48"/>
<rect x="1507.1" y="666.3" width="46.7" height="16.0" fill="#d7414e"/>
<rect x="1553.2" y="666.3" width="62.0" height="16.0" fill="#e85b48"/>
<rect x="1614.7" y="666.3" width="23.6" height="16.0" fill="#d7414e"/>
<rect x="101.7" y="681.6" width="146.5" height="16.0" fill="#fed07e"/>
<rect x="247.6" y="681.6" width="77.4" height="16.0" fill="#fee797"/>
<rect x="324.4" y="681.6" width="46.7" height="16.0" fill="#fff7b2"/>
<rect x="370.5" y="681.6" width="92.8" height="16.0" fill="#f8fcb4"/>
<rect x="462.7" y="681.6" width="31.3" height="16.0" fill="#ebf7a0"/>
<rect x="493.4" y="681.6" width="16.0" height="16.0" fill="#f8fcb4"/>
<rect x="508.7" y="681.6" width="62.0" height="16.0" fill="#ebf7a0"/>
<rect x="570.2" y="681.6" width="16.0" height="16.0" fill="#d1ed9c"/>
<rect x="585.5" y="681.6" width="154.2" height="16.0" fill="#ebf7a0"/>
<rect x="739.1" y="681.6" width="46.7" height="16.0" fill="#f8fcb4"/>
<rect x="785.2" y="681.6" width="215.6" height="16.0" fill="#fff7b2"/>
<rect x="1000.3" y="681.6" width="62.0" height="16.0" fill="#fee797"/>
<rect x="1061.7" y="681.6" width="108.1" height="16.0" fill="#fed07e"/>
<rect x="1169.2" y="681.6" width="92.8" height="16.0" fill="#fdb768"/>
<rect x="1261.4" y="681.6" width="31.3" height="16.0" fill="#fa9857"/>
<rect x="1292.1" y="681.6" width="62.0" height="16.0" fill="#f57547"/>
<rect x="1353.5" y="681.6" width="46.7" height="16.0" fill="#e85b48"/>
<rect x="1399.6" y="681.6" width="138.8" height="16.0" fill="#d7414e"/>
<rect x="1537.9" y="681.6" width="77.4" height="16.0" fill="#e85b48"/>
<rect x="1614.7" y="681.6" width="23.6" height="16.0" fill="#d7414e"/>
<rect x="101.7" y="697.0" width="177.2" height="16.0" fill="#fed07e"/>
<rect x="278.3" y="697.0" width="62.0" height="16.0" fill="#fee797"/>
<rect x="339.8" y="697.0" width="31.3" height="16.0" fill="#fff7b2"/>
<rect x="370.5" y="697.0" width="169.6" height="16.0" fill="#f8fcb4"/>
<rect x="539.5" y="697.0" width="108.1" height="16.0" fill="#ebf7a0"/>
<rect x="647.0" y="697.0" width="108.1" height="16.0" fill="#f8fcb4"/>
<rect x="754.5" y="697.0" width="62.0" height="16.0" fill="#fff7b2"/>
<rect x="815.9" y="697.0" width="46.7" height="16.0" fill="#fee797"/>
<rect x="862.0" y="697.0" width="16.0" height="16.0" fill="#fff7b2"/>
<rect x="877.4" y="697.0" width="46.7" height="16.0" fill="#fee797"/>
<rect x="923.5" y="697.0" width="16.0" height="16.0" fill="#fff7b2"/>
<rect x="938.8" y="697.0" width="77.4" height="16.0" fill="#fee797"/>
<rect x="1015.6" y="697.0" width="138.8" height="16.0" fill="#fed07e"/>
<rect x="1153.9" y="697.0" width="77.4" height="16.0" fill="#fdb768"/>
<rect x="1230.7" y="697.0" width="46.7" height="16.0" fill="#fa9857"/>
<rect x="1276.7" y="697.0" width="62.0" height="16.0" fill="#f57547"/>
<rect x="1338.2" y="697.0" width="46.7" height="16.0" fill="#e85b48"/>
<rect x="1384.3" y="697.0" width="77.4" height="16.0" fill="#d7414e"/>
<rect x="1461.1" y="697.0" width="16.0" height="16.0" fill="#e85b48"/>
<rect x="1476.4" y="697.0" width="62.0" height="16.0" fill="#d7414e"/>
<rect x="1537.9" y="697.0" width="77.4" height="16.0" fill="#e85b48"/>
<rect x="1614.7" y="697.0" width="16.0" height="16.0" fill="#d7414e"/>
<rect x="1630.0" y="697.0" width="8.3" height="16.0" fill="#e85b48"/>
<rect x="101.7" y="712.3" width="85.1" height="16.0" fill="#fed07e"/>
<rect x="186.2" y="712.3" width="16.0" height="16.0" fill="#fdb768"/>
<rect x="201.5" y="712.3" width="92.8" height="16.0" fill="#fed07e"/>
<rect x="293.7" y="712.3" width="62.0" height="16.0" fill="#fee797"/>
<rect x="355.1" y="712.3" width="31.3" height="16.0" fill="#fff7b2"/>
<rect x="385.9" y="712.3" width="323.2" height="16.0" fill="#f8fcb4"/>
<rect x="708.4" y="712.3" width="77.4" height="16.0" fill="#fff7b2"/>
<rect x="785.2" y="712.3" width="138.8" height="16.0" fill="#fee797"/>
<rect x="923.5" y="712.3" width="184.9" height="16.0" fill="#fed07e"/>
<rect x="1107.8" y="712.3" width="62.0" height="16.0" fill="#fdb768"/>
<rect x="1169.2" y="712.3" width="62.0" height="16.0" fill="#fa9857"/>
<rect x="1230.7" y="712.3" width="77.4" height="16.0" fill="#f57547"/>
<rect x="1307.5" y="712.3" width="46.7" height="16.0" fill="#e85b48"/>
<rect x="1353.5" y="712.3" width="92.8" height="16.0" fill="#d7414e"/>
<rect x="1445.7" y="712.3" width="46.7" height="16.0" fill="#e85b48"/>
<rect x="1491.8" y="712.3" width="31.3" height="16.0" fill="#d7414e"/>
<rect x="1522.5" y="712.3" width="115.8" height="16.0" fill="#e85b48"/>
<rect x="101.7" y="727.7" width="23.6" height="15.9" fill="#e85b48"/>
<rect x="124.7" y="727.7" width="16.0" height="15.9" fill="#f57547"/>
<rect x="140.1" y="727.7" width="16.0" height="15.9" fill="#fdb768"/>
<rect x="155.5" y="727.7" width="31.3" height="15.9" fill="#fed07e"/>
<rect x="186.2" y="727.7" width="31.3" height="15.9" fill="#fdb768"/>
<rect x="216.9" y="727.7" width="108.1" height="15.9" fill="#fed07e"/>
<rect x="324.4" y="727.7" width="46.7" height="15.9" fill="#fee797"/>
<rect x="370.5" y="727.7" width="31.3" height="15.9" fill="#fff7b2"/>
<rect x="401.2" y="727.7" width="62.0" height="15.9" fill="#f8fcb4"/>
<rect x="462.7" y="727.7" width="16.0" height="15.9" fill="#fff7b2"/>
<rect x="478.0" y="727.7" width="62.0" height="15.9" fill="#f8fcb4"/>
<rect x="539.5" y="727.7" width="31.3" height="15.9" fill="#fff7b2"/>
<rect x="570.2" y="727.7" width="92.8" height="15.9" fill="#f8fcb4"/>
<rect x="662.3" y="727.7" width="77.4" height="15.9" fill="#fff7b2"/>
<rect x="739.1" y="727.7" width="154.2" height="15.9" fill="#fee797"/>
<rect x="892.7" y="727.7" width="184.9" height="15.9" fill="#fed07e"/>
<rect x="1077.1" y="727.7" width="62.0" height="15.9" fill="#fdb768"/>
<rect x="1138.5" y="727.7" width="62.0" height="15.9" fill="#fa9857"/>
<rect x="1199.9" y="727.7" width="77.4" height="15.9" fill="#f57547"/>
<rect x="1276.7" y="727.7" width="46.7" height="15.9" fill="#e85b48"/>
<rect x="1322.8" y="727.7" width="123.5" height="15.9" fill="#d7414e"/>
<rect x="1445.7" y="727.7" width="46.7" height="15.9" fill="#e85b48"/>
<rect x="1491.8" y="727.7" width="31.3" height="15.9" fill="#d7414e"/>
<rect x="1522.5" y="727.7" width="115.8" height="15.9" fill="#e85b48"/>
<rect x="101.7" y="743.0" width="54.4" height="16.0" fill="#9e0142"/>
<rect x="155.5" y="743.0" width="16.0" height="16.0" fill="#d7414e"/>
<rect x="170.8" y="743.0" width="16.0" height="16.0" fill="#fdb768"/>
<rect x="186.2" y="743.0" width="138.8" height="16.0" fill="#fed07e"/>
<rect x="324.4" y="743.0" width="46.7" height="16.0" fill="#fee797"/>
<rect x="370.5" y="743.0" width="46.7" height="16.0" fill="#fff7b2"/>
<rect x="416.6" y="743.0" width="31.3" height="16.0" fill="#f8fcb4"/>
<rect x="447.3" y="743.0" width="77.4" height="16.0" fill="#fff7b2"/>
<rect x="524.1" y="743.0" width="16.0" height="16.0" fill="#f8fcb4"/>
<rect x="539.5" y="743.0" width="184.9" height="16.0" fill="#fff7b2"/>
<rect x="723.8" y="743.0" width="31.3" height="16.0" fill="#fee797"/>
<rect x="754.5" y="743.0" width="123.5" height="16.0" fill="#fed07e"/>
<rect x="877.4" y="743.0" width="16.0" height="16.0" fill="#fdb768"/>
<rect x="892.7" y="743.0" width="123.5" height="16.0" fill="#fed07e"/>
<rect x="1015.6" y="743.0" width="77.4" height="16.0" fill="#fdb768"/>
<rect x="1092.4" y="743.0" width="77.4" height="16.0" fill="#fa9857"/>
<rect x="1169.2" y="743.0" width="62.0" height="16.0" fill="#f57547"/>
<rect x="1230.7" y="743.0" width="77.4" height="16.0" fill="#e85b48"/>
<rect x="1307.5" y="743.0" width="123.5" height="16.0" fill="#d7414e"/>
<rect x="1430.3" y="743.0" width="46.7" height="16.0" fill="#e85b48"/>
<rect x="1476.4" y="743.0" width="31.3" height="16.0" fill="#d7414e"/>
<rect x="1507.1" y="743.0" width="31.3" height="16.0" fill="#e85b48"/>
<rect x="1537.9" y="743.0" width="31.3" height="16.0" fill="#d7414e"/>
<rect x="1568.6" y="743.0" width="69.7" height="16.0" fill="#e85b48"/>
<rect x="101.7" y="758.4" width="69.7" height="16.0" fill="#9e0142"/>
<rect x="170.8" y="758.4" width="16.0" height="16.0" fill="#bc2249"/>
<rect x="186.2" y="758.4" width="16.0" height="16.0" fill="#fdb768"/>
<rect x="201.5" y="758.4" width="138.8" height="16.0" fill="#fed07e"/>
<rect x="339.8" y="758.4" width="46.7" height="16.0" fill="#fee797"/>
<rect x="385.9" y="758.4" width="292.4" height="16.0" fill="#fff7b2"/>
<rect x="677.7" y="758.4" width="31.3" height="16.0" fill="#fee797"/>
<rect x="708.4" y="758.4" width="77.4" height="16.0" fill="#fed07e"/>
<rect x="785.2" y="758.4" width="62.0" height="16.0" fill="#fdb768"/>
<rect x="846.7" y="758.4" width="16.0" height="16.0" fill="#fed07e"/>
<rect x="862.0" y="758.4" width="77.4" height="16.0" fill="#fdb768"/>
<rect x="938.8" y="758.4" width="77.4" height="16.0" fill="#fed07e"/>
<rect x="1015.6" y="758.4" width="46.7" height="16.0" fill="#fdb768"/>
<rect x="1061.7" y="758.4" width="62.0" height="16.0" fill="#fa9857"/>
<rect x="1123.1" y="758.4" width="77.4" height="16.0" fill="#f57547"/>
<rect x="1199.9" y="758.4" width="77.4" height="16.0" fill="#e85b48"/>
<rect x="1276.7" y="758.4" width="138.8" height="16.0" fill="#d7414e"/>
<rect x="1415.0" y="758.4" width="46.7" height="16.0" fill="#e85b48"/>
<rect x="1461.1" y="758.4" width="31.3" height="16.0" fill="#d7414e"/>
<rect x="1491.8" y="758.4" width="31.3" height="16.0" fill="#e85b48"/>
<rect x="1522.5" y="758.4" width="62.0" height="16.0" fill="#d7414e"/>
<rect x="1583.9" y="758.4" width="54.4" height="16.0" fill="#e85b48"/>
<rect x="101.7" y="773.7" width="85.1" height="16.0" fill="#9e0142"/>
<rect x="186.2" y="773.7" width="108.1" height="16.0" fill="#fed07e"/>
<rect x="293.7" y="773.7" width="16.0" height="16.0" fill="#fdb768"/>
<rect x="309.1" y="773.7" width="31.3" height="16.0" fill="#fed07e"/>
<rect x="339.8" y="773.7" width="46.7" height="16.0" fill="#fee797"/>
<rect x="385.9" y="773.7" width="169.6" height="16.0" fill="#fff7b2"/>
<rect x="554.8" y="773.7" width="92.8" height="16.0" fill="#fee797"/>
<rect x="647.0" y="773.7" width="92.8" height="16.0" fill="#fed07e"/>
<rect x="739.1" y="773.7" width="246.4" height="16.0" fill="#fdb768"/>
<rect x="984.9" y="773.7" width="31.3" height="16.0" fill="#fed07e"/>
<rect x="1015.6" y="773.7" width="16.0" height="16.0" fill="#fdb768"/>
<rect x="1031.0" y="773.7" width="62.0" height="16.0" fill="#fa9857"/>
<rect x="1092.4" y="773.7" width="77.4" height="16.0" fill="#f57547"/>
<rect x="1169.2" y="773.7" width="62.0" height="16.0" fill="#e85b48"/>
<rect x="1230.7" y="773.7" width="77.4" height="16.0" fill="#d7414e"/>
<rect x="1307.5" y="773.7" width="16.0" height="16.0" fill="#bc2249"/>
<rect x="1322.8" y="773.7" width="154.2" height="16.0" fill="#d7414e"/>
<rect x="1476.4" y="773.7" width="62.0" height="16.0" fill="#e85b48"/>
<rect x="1537.9" y="773.7" width="31.3" height="16.0" fill="#d7414e"/>
<rect x="1568.6" y="773.7" width="69.7" height="16.0" fill="#e85b48"/>
<rect x="101.7" y="789.1" width="39.0" height="16.0" fill="#bc2249"/>
<rect x="140.1" y="789.1" width="16.0" height="16.0" fill="#d7414e"/>
<rect x="155.5" y="789.1" width="16.0" height="16.0" fill="#9e0142"/>
<rect x="170.8" y="789.1" width="16.0" height="16.0" fill="#fdb768"/>
<rect x="186.2" y="789.1" width="154.2" height="16.0" fill="#fed07e"/>
<rect x="339.8" y="789.1" width="31.3" height="16.0" fill="#fee797"/>
<rect x="370.5" y="789.1" width="123.5" height="16.0" fill="#fff7b2"/>
<rect x="493.4" y="789.1" width="138.8" height="16.0" fill="#fee797"/>
<rect x="631.6" y="789.1" width="46.7" height="16.0" fill="#fed07e"/>
<rect x="677.7" y="789.1" width="62.0" height="16.0" fill="#fdb768"/>
<rect x="739.1" y="789.1" width="46.7" height="16.0" fill="#fa9857"/>
<rect x="785.2" y="789.1" width="62.0" height="16.0" fill="#fdb768"/>
<rect x="846.7" y="789.1" width="184.9" height="16.0" fill="#fa9857"/>
<rect x="1031.0" y="789.1" width="123.5" height="16.0" fill="#f57547"/>
<rect x="1153.9" y="789.1" width="46.7" height="16.0" fill="#e85b48"/>
<rect x="1199.9" y="789.1" width="92.8" height="16.0" fill="#d7414e"/>
<rect x="1292.1" y="789.1" width="16.0" height="16.0" fill="#bc2249"/>
<rect x="1307.5" y="789.1" width="154.2" height="16.0" fill="#d7414e"/>
<rect x="1461.1" y="789.1" width="177.2" height="16.0" fill="#e85b48"/>
<rect x="101.7" y="804.4" width="39.0" height="15.9" fill="#bc2249"/>
<rect x="140.1" y="804.4" width="31.3" height="15.9" fill="#d7414e"/>
<rect x="170.8" y="804.4" width="16.0" height="15.9" fill="#f57547"/>
<rect x="186.2" y="804.4" width="16.0" height="15.9" fill="#fff7b2"/>
<rect x="201.5" y="804.4" width="16.0" height="15.9" fill="#fee797"/>
<rect x="216.9" y="804.4" width="16.0" height="15.9" fill="#fed07e"/>
<rect x="232.3" y="804.4" width="16.0" height="15.9" fill="#fee797"/>
<rect x="247.6" y="804.4" width="92.8" height="15.9" fill="#fed07e"/>
<rect x="339.8" y="804.4" width="31.3" height="15.9" fill="#fee797"/>
<rect x="370.5" y="804.4" width="108.1" height="15.9" fill="#fff7b2"/>
<rect x="478.0" y="804.4" width="138.8" height="15.9" fill="#fee797"/>
<rect x="616.3" y="804.4" width="31.3" height="15.9" fill="#fed07e"/>
<rect x="647.0" y="804.4" width="46.7" height="15.9" fill="#fdb768"/>
<rect x="693.1" y="804.4" width="77.4" height="15.9" fill="#fa9857"/>
<rect x="769.9" y="804.4" width="16.0" height="15.9" fill="#f57547"/>
<rect x="785.2" y="804.4" width="62.0" height="15.9" fill="#fa9857"/>
<rect x="846.7" y="804.4" width="31.3" height="15.9" fill="#f57547"/>
<rect x="877.4" y="804.4" width="16.0" height="15.9" fill="#e85b48"/>
<rect x="892.7" y="804.4" width="123.5" height="15.9" fill="#d7414e"/>
<rect x="1015.6" y="804.4" width="16.0" height="15.9" fill="#e85b48"/>
<rect x="1031.0" y="804.4" width="31.3" height="15.9" fill="#f57547"/>
<rect x="1061.7" y="804.4" width="108.1" height="15.9" fill="#e85b48"/>
<rect x="1169.2" y="804.4" width="62.0" height="15.9" fill="#d7414e"/>
<rect x="1230.7" y="804.4" width="77.4" height="15.9" fill="#bc2249"/>
<rect x="1307.5" y="804.4" width="154.2" height="15.9" fill="#d7414e"/>
<rect x="1461.1" y="804.4" width="177.2" height="15.9" fill="#e85b48"/>
<rect x="101.7" y="819.8" width="85.1" height="16.0" fill="#bc2249"/>
<rect x="186.2" y="819.8" width="62.0" height="16.0" fill="#fee797"/>
<rect x="247.6" y="819.8" width="77.4" height="16.0" fill="#fed07e"/>
<rect x="324.4" y="819.8" width="46.7" height="16.0" fill="#fee797"/>
<rect x="370.5" y="819.8" width="92.8" height="16.0" fill="#fff7b2"/>
<rect x="462.7" y="819.8" width="154.2" height="16.0" fill="#fee797"/>
<rect x="616.3" y="819.8" width="16.0" height="16.0" fill="#fed07e"/>
<rect x="631.6" y="819.8" width="31.3" height="16.0" fill="#fdb768"/>
<rect x="662.3" y="819.8" width="92.8" height="16.0" fill="#fa9857"/>
<rect x="754.5" y="819.8" width="92.8" height="16.0" fill="#f57547"/>
<rect x="846.7" y="819.8" width="31.3" height="16.0" fill="#e85b48"/>
<rect x="877.4" y="819.8" width="92.8" height="16.0" fill="#d7414e"/>
<rect x="969.5" y="819.8" width="16.0" height="16.0" fill="#bc2249"/>
<rect x="984.9" y="819.8" width="31.3" height="16.0" fill="#d7414e"/>
<rect x="1015.6" y="819.8" width="62.0" height="16.0" fill="#e85b48"/>
<rect x="1077.1" y="819.8" width="108.1" height="16.0" fill="#d7414e"/>
<rect x="1184.6" y="819.8" width="108.1" height="16.0" fill="#bc2249"/>
<rect x="1292.1" y="819.8" width="138.8" height="16.0" fill="#d7414e"/>
<rect x="1430.3" y="819.8" width="208.0" height="16.0" fill="#e85b48"/>
<rect x="101.7" y="835.1" width="8.3" height="16.0" fill="#9e0142"/>
<rect x="109.4" y="835.1" width="62.0" height="16.0" fill="#bc2249"/>
<rect x="170.8" y="835.1" width="16.0" height="16.0" fill="#e85b48"/>
<rect x="186.2" y="835.1" width="16.0" height="16.0" fill="#f57547"/>
<rect x="201.5" y="835.1" width="16.0" height="16.0" fill="#fdb768"/>
<rect x="216.9" y="835.1" width="16.0" height="16.0" fill="#fff7b2"/>
<rect x="232.3" y="835.1" width="16.0" height="16.0" fill="#fee797"/>
<rect x="247.6" y="835.1" width="46.7" height="16.0" fill="#fed07e"/>
<rect x="293.7" y="835.1" width="31.3" height="16.0" fill="#fee797"/>
<rect x="324.4" y="835.1" width="138.8" height="16.0" fill="#fff7b2"/>
<rect x="462.7" y="835.1" width="16.0" height="16.0" fill="#fed07e"/>
<rect x="478.0" y="835.1" width="77.4" height="16.0" fill="#fee797"/>
<rect x="554.8" y="835.1" width="16.0" height="16.0" fill="#fed07e"/>
<rect x="570.2" y="835.1" width="31.3" height="16.0" fill="#fee797"/>
<rect x="600.9" y="835.1" width="31.3" height="16.0" fill="#fed07e"/>
<rect x="631.6" y="835.1" width="31.3" height="16.0" fill="#fdb768"/>
<rect x="662.3" y="835.1" width="62.0" height="16.0" fill="#fa9857"/>
<rect x="723.8" y="835.1" width="92.8" height="16.0" fill="#f57547"/>
<rect x="815.9" y="835.1" width="46.7" height="16.0" fill="#e85b48"/>
<rect x="862.0" y="835.1" width="92.8" height="16.0" fill="#d7414e"/>
<rect x="954.2" y="835.1" width="31.3" height="16.0" fill="#bc2249"/>
<rect x="984.9" y="835.1" width="154.2" height="16.0" fill="#d7414e"/>
<rect x="1138.5" y="835.1" width="16.0" height="16.0" fill="#bc2249"/>
<rect x="1153.9" y="835.1" width="16.0" height="16.0" fill="#d7414e"/>
<rect x="1169.2" y="835.1" width="108.1" height="16.0" fill="#bc2249"/>
<rect x="1276.7" y="835.1" width="123.5" height="16.0" fill="#d7414e"/>
<rect x="1399.6" y="835.1" width="238.7" height="16.0" fill="#e85b48"/>
<rect x="101.7" y="850.5" width="69.7" height="16.0" fill="#9e0142"/>
<rect x="170.8" y="850.5" width="16.0" height="16.0" fill="#bc2249"/>
<rect x="186.2" y="850.5" width="16.0" height="16.0" fill="#e85b48"/>
<rect x="201.5" y="850.5" width="16.0" height="16.0" fill="#fa9857"/>
<rect x="216.9" y="850.5" width="16.0" height="16.0" fill="#fee797"/>
<rect x="232.3" y="850.5" width="16.0" height="16.0" fill="#fa9857"/>
<rect x="247.6" y="850.5" width="31.3" height="16.0" fill="#d7414e"/>
<rect x="278.3" y="850.5" width="16.0" height="16.0" fill="#fdb768"/>
<rect x="293.7" y="850.5" width="16.0" height="16.0" fill="#fed07e"/>
<rect x="309.1" y="850.5" width="16.0" height="16.0" fill="#fee797"/>
<rect x="324.4" y="850.5" width="16.0" height="16.0" fill="#fed07e"/>
<rect x="339.8" y="850.5" width="108.1" height="16.0" fill="#fff7b2"/>
<rect x="447.3" y="850.5" width="16.0" height="16.0" fill="#fee797"/>
<rect x="462.7" y="850.5" width="46.7" height="16.0" fill="#fed07e"/>
<rect x="508.7" y="850.5" width="31.3" height="16.0" fill="#fee797"/>
<rect x="539.5" y="850.5" width="77.4" height="16.0" fill="#fed07e"/>
<rect x="616.3" y="850.5" width="31.3" height="16.0" fill="#fdb768"/>
<rect x="647.0" y="850.5" width="46.7" height="16.0" fill="#fa9857"/>
<rect x="693.1" y="850.5" width="108.1" height="16.0" fill="#f57547"/>
<rect x="800.6" y="850.5" width="31.3" height="16.0" fill="#e85b48"/>
<rect x="831.3" y="850.5" width="92.8" height="16.0" fill="#d7414e"/>
<rect x="923.5" y="850.5" width="31.3" height="16.0" fill="#bc2249"/>
<rect x="954.2" y="850.5" width="169.6" height="16.0" fill="#d7414e"/>
<rect x="1123.1" y="850.5" width="169.6" height="16.0" fill="#bc2249"/>
<rect x="1292.1" y="850.5" width="62.0" height="16.0" fill="#d7414e"/>
<rect x="1353.5" y="850.5" width="215.6" height="16.0" fill="#e85b48"/>
<rect x="1568.6" y="850.5" width="31.3" height="16.0" fill="#d7414e"/>
<rect x="1599.3" y="850.5" width="39.0" height="16.0" fill="#e85b48"/>
<rect x="101.7" y="865.8" width="69.7" height="16.0" fill="#9e0142"/>
<rect x="170.8" y="865.8" width="77.4" height="16.0" fill="#bc2249"/>
<rect x="247.6" y="865.8" width="31.3" height="16.0" fill="#d7414e"/>
<rect x="278.3" y="865.8" width="16.0" height="16.0" fill="#bc2249"/>
<rect x="293.7" y="865.8" width="16.0" height="16.0" fill="#e85b48"/>
<rect x="309.1" y="865.8" width="31.3" height="16.0" fill="#fed07e"/>
<rect x="339.8" y="865.8" width="16.0" height="16.0" fill="#fee797"/>
<rect x="355.1" y="865.8" width="92.8" height="16.0" fill="#fff7b2"/>
<rect x="447.3" y="865.8" width="169.6" height="16.0" fill="#fed07e"/>
<rect x="616.3" y="865.8" width="31.3" height="16.0" fill="#fdb768"/>
<rect x="647.0" y="865.8" width="16.0" height="16.0" fill="#fa9857"/>
<rect x="662.3" y="865.8" width="92.8" height="16.0" fill="#f57547"/>
<rect x="754.5" y="865.8" width="62.0" height="16.0" fill="#e85b48"/>
<rect x="815.9" y="865.8" width="77.4" height="16.0" fill="#d7414e"/>
<rect x="892.7" y="865.8" width="169.6" height="16.0" fill="#bc2249"/>
<rect x="1061.7" y="865.8" width="16.0" height="16.0" fill="#d7414e"/>
<rect x="1077.1" y="865.8" width="62.0" height="16.0" fill="#bc2249"/>
<rect x="1138.5" y="865.8" width="92.8" height="16.0" fill="#9e0142"/>
<rect x="1230.7" y="865.8" width="62.0" height="16.0" fill="#bc2249"/>
<rect x="1292.1" y="865.8" width="92.8" height="16.0" fill="#d7414e"/>
<rect x="1384.3" y="865.8" width="138.8" height="16.0" fill="#e85b48"/>
<rect x="1522.5" y="865.8" width="16.0" height="16.0" fill="#d7414e"/>
<rect x="1537.9" y="865.8" width="16.0" height="16.0" fill="#e85b48"/>
<rect x="1553.2" y="865.8" width="46.7" height="16.0" fill="#d7414e"/>
<rect x="1599.3" y="865.8" width="39.0" height="16.0" fill="#e85b48"/>
<rect x="101.7" y="881.2" width="85.1" height="15.9" fill="#9e0142"/>
<rect x="186.2" y="881.2" width="62.0" height="15.9" fill="#bc2249"/>
<rect x="247.6" y="881.2" width="31.3" height="15.9" fill="#d7414e"/>
<rect x="278.3" y="881.2" width="46.7" height="15.9" fill="#bc2249"/>
<rect x="324.4" y="881.2" width="16.0" height="15.9" fill="#f57547"/>
<rect x="339.8" y="881.2" width="16.0" height="15.9" fill="#fdb768"/>
<rect x="355.1" y="881.2" width="16.0" height="15.9" fill="#d7414e"/>
<rect x="370.5" y="881.2" width="62.0" height="15.9" fill="#fff7b2"/>
<rect x="431.9" y="881.2" width="16.0" height="15.9" fill="#fee797"/>
<rect x="447.3" y="881.2" width="108.1" height="15.9" fill="#fff7b2"/>
<rect x="554.8" y="881.2" width="16.0" height="15.9" fill="#fee797"/>
<rect x="570.2" y="881.2" width="46.7" height="15.9" fill="#fed07e"/>
<rect x="616.3" y="881.2" width="16.0" height="15.9" fill="#fdb768"/>
<rect x="631.6" y="881.2" width="31.3" height="15.9" fill="#fa9857"/>
<rect x="662.3" y="881.2" width="92.8" height="15.9" fill="#f57547"/>
<rect x="754.5" y="881.2" width="46.7" height="15.9" fill="#e85b48"/>
<rect x="800.6" y="881.2" width="31.3" height="15.9" fill="#d7414e"/>
<rect x="831.3" y="881.2" width="277.1" height="15.9" fill="#bc2249"/>
<rect x="1107.8" y="881.2" width="123.5" height="15.9" fill="#9e0142"/>
<rect x="1230.7" y="881.2" width="62.0" height="15.9" fill="#bc2249"/>
<rect x="1292.1" y="881.2" width="92.8" height="15.9" fill="#d7414e"/>
<rect x="1384.3" y="881.2" width="77.4" height="15.9" fill="#e85b48"/>
<rect x="1461.1" y="881.2" width="16.0" height="15.9" fill="#f57547"/>
<rect x="1476.4" y="881.2" width="16.0" height="15.9" fill="#e85b48"/>
<rect x="1491.8" y="881.2" width="16.0" height="15.9" fill="#d7414e"/>
<rect x="1507.1" y="881.2" width="31.3" height="15.9" fill="#e85b48"/>
<rect x="1537.9" y="881.2" width="77.4" height="15.9" fill="#d7414e"/>
<rect x="1614.7" y="881.2" width="23.6" height="15.9" fill="#e85b48"/>
<rect x="101.7" y="896.5" width="39.0" height="16.0" fill="#bc2249"/>
<rect x="140.1" y="896.5" width="31.3" height="16.0" fill="#9e0142"/>
<rect x="170.8" y="896.5" width="184.9" height="16.0" fill="#bc2249"/>
<rect x="355.1" y="896.5" width="16.0" height="16.0" fill="#9e0142"/>
<rect x="370.5" y="896.5" width="16.0" height="16.0" fill="#fa9857"/>
<rect x="385.9" y="896.5" width="154.2" height="16.0" fill="#fff7b2"/>
<rect x="539.5" y="896.5" width="31.3" height="16.0" fill="#fee797"/>
<rect x="570.2" y="896.5" width="46.7" height="16.0" fill="#fed07e"/>
<rect x="616.3" y="896.5" width="16.0" height="16.0" fill="#fdb768"/>
<rect x="631.6" y="896.5" width="31.3" height="16.0" fill="#fa9857"/>
<rect x="662.3" y="896.5" width="77.4" height="16.0" fill="#f57547"/>
<rect x="739.1" y="896.5" width="31.3" height="16.0" fill="#e85b48"/>
<rect x="769.9" y="896.5" width="31.3" height="16.0" fill="#d7414e"/>
<rect x="800.6" y="896.5" width="77.4" height="16.0" fill="#bc2249"/>
<rect x="877.4" y="896.5" width="62.0" height="16.0" fill="#9e0142"/>
<rect x="938.8" y="896.5" width="123.5" height="16.0" fill="#bc2249"/>
<rect x="1061.7" y="896.5" width="184.9" height="16.0" fill="#9e0142"/>
<rect x="1246.0" y="896.5" width="77.4" height="16.0" fill="#bc2249"/>
<rect x="1322.8" y="896.5" width="77.4" height="16.0" fill="#d7414e"/>
<rect x="1399.6" y="896.5" width="138.8" height="16.0" fill="#e85b48"/>
<rect x="1537.9" y="896.5" width="77.4" height="16.0" fill="#d7414e"/>
<rect x="1614.7" y="896.5" width="23.6" height="16.0" fill="#e85b48"/>
<rect x="101.7" y="911.9" width="39.0" height="16.0" fill="#bc2249"/>
<rect x="140.1" y="911.9" width="46.7" height="16.0" fill="#9e0142"/>
<rect x="186.2" y="911.9" width="200.3" height="16.0" fill="#bc2249"/>
<rect x="385.9" y="911.9" width="108.1" height="16.0" fill="#fee797"/>
<rect x="493.4" y="911.9" width="46.7" height="16.0" fill="#fff7b2"/>
<rect x="539.5" y="911.9" width="46.7" height="16.0" fill="#fee797"/>
<rect x="585.5" y="911.9" width="16.0" height="16.0" fill="#fed07e"/>
<rect x="600.9" y="911.9" width="31.3" height="16.0" fill="#fdb768"/>
<rect x="631.6" y="911.9" width="16.0" height="16.0" fill="#fa9857"/>
<rect x="647.0" y="911.9" width="77.4" height="16.0" fill="#f57547"/>
<rect x="723.8" y="911.9" width="31.3" height="16.0" fill="#e85b48"/>
<rect x="754.5" y="911.9" width="31.3" height="16.0" fill="#d7414e"/>
<rect x="785.2" y="911.9" width="46.7" height="16.0" fill="#bc2249"/>
<rect x="831.3" y="911.9" width="138.8" height="16.0" fill="#9e0142"/>
<rect x="969.5" y="911.9" width="16.0" height="16.0" fill="#bc2249"/>
<rect x="984.9" y="911.9" width="261.7" height="16.0" fill="#9e0142"/>
<rect x="1246.0" y="911.9" width="77.4" height="16.0" fill="#bc2249"/>
<rect x="1322.8" y="911.9" width="138.8" height="16.0" fill="#d7414e"/>
<rect x="1461.1" y="911.9" width="16.0" height="16.0" fill="#e85b48"/>
<rect x="1476.4" y="911.9" width="31.3" height="16.0" fill="#d7414e"/>
<rect x="1507.1" y="911.9" width="46.7" height="16.0" fill="#e85b48"/>
<rect x="1553.2" y="911.9" width="85.1" height="16.0" fill="#d7414e"/>
<rect x="101.7" y="927.2" width="39.0" height="16.0" fill="#bc2249"/>
<rect x="140.1" y="927.2" width="62.0" height="16.0" fill="#9e0142"/>
<rect x="201.5" y="927.2" width="77.4" height="16.0" fill="#bc2249"/>
<rect x="278.3" y="927.2" width="16.0" height="16.0" fill="#d7414e"/>
<rect x="293.7" y="927.2" width="16.0" height="16.0" fill="#bc2249"/>
<rect x="309.1" y="927.2" width="16.0" height="16.0" fill="#d7414e"/>
<rect x="324.4" y="927.2" width="77.4" height="16.0" fill="#bc2249"/>
<rect x="401.2" y="927.2" width="16.0" height="16.0" fill="#f57547"/>
<rect x="416.6" y="927.2" width="16.0" height="16.0" fill="#fa9857"/>
<rect x="431.9" y="927.2" width="16.0" height="16.0" fill="#fdb768"/>
<rect x="447.3" y="927.2" width="16.0" height="16.0" fill="#fed07e"/>
<rect x="462.7" y="927.2" width="123.5" height="16.0" fill="#fee797"/>
<rect x="585.5" y="927.2" width="16.0" height="16.0" fill="#fed07e"/>
<rect x="600.9" y="927.2" width="16.0" height="16.0" fill="#fdb768"/>
<rect x="616.3" y="927.2" width="31.3" height="16.0" fill="#fa9857"/>
<rect x="647.0" y="927.2" width="46.7" height="16.0" fill="#f57547"/>
<rect x="693.1" y="927.2" width="46.7" height="16.0" fill="#e85b48"/>
<rect x="739.1" y="927.2" width="31.3" height="16.0" fill="#d7414e"/>
<rect x="769.9" y="927.2" width="46.7" height="16.0" fill="#bc2249"/>
<rect x="815.9" y="927.2" width="430.7" height="16.0" fill="#9e0142"/>
<rect x="1246.0" y="927.2" width="77.4" height="16.0" fill="#bc2249"/>
<rect x="1322.8" y="927.2" width="184.9" height="16.0" fill="#d7414e"/>
<rect x="1507.1" y="927.2" width="62.0" height="16.0" fill="#e85b48"/>
<rect x="1568.6" y="927.2" width="69.7" height="16.0" fill="#d7414e"/>
<rect x="101.7" y="942.6" width="39.0" height="16.0" fill="#bc2249"/>
<rect x="140.1" y="942.6" width="77.4" height="16.0" fill="#9e0142"/>
<rect x="216.9" y="942.6" width="31.3" height="16.0" fill="#bc2249"/>
<rect x="247.6" y="942.6" width="16.0" height="16.0" fill="#d7414e"/>
<rect x="263.0" y="942.6" width="92.8" height="16.0" fill="#bc2249"/>
<rect x="355.1" y="942.6" width="31.3" height="16.0" fill="#9e0142"/>
<rect x="385.9" y="942.6" width="46.7" height="16.0" fill="#bc2249"/>
<rect x="431.9" y="942.6" width="16.0" height="16.0" fill="#d7414e"/>
<rect x="447.3" y="942.6" width="16.0" height="16.0" fill="#e85b48"/>
<rect x="462.7" y="942.6" width="16.0" height="16.0" fill="#f57547"/>
<rect x="478.0" y="942.6" width="16.0" height="16.0" fill="#fa9857"/>
<rect x="493.4" y="942.6" width="16.0" height="16.0" fill="#fdb768"/>
<rect x="508.7" y="942.6" width="62.0" height="16.0" fill="#fee797"/>
<rect x="570.2" y="942.6" width="16.0" height="16.0" fill="#fed07e"/>
<rect x="585.5" y="942.6" width="31.3" height="16.0" fill="#fdb768"/>
<rect x="616.3" y="942.6" width="16.0" height="16.0" fill="#fa9857"/>
<rect x="631.6" y="942.6" width="46.7" height="16.0" fill="#f57547"/>
<rect x="677.7" y="942.6" width="46.7" height="16.0" fill="#e85b48"/>
<rect x="723.8" y="942.6" width="31.3" height="16.0" fill="#d7414e"/>
<rect x="754.5" y="942.6" width="46.7" height="16.0" fill="#bc2249"/>
<rect x="800.6" y="942.6" width="476.8" height="16.0" fill="#9e0142"/>
<rect x="1276.7" y="942.6" width="77.4" height="16.0" fill="#bc2249"/>
<rect x="1353.5" y="942.6" width="169.6" height="16.0" fill="#d7414e"/>
<rect x="1522.5" y="942.6" width="46.7" height="16.0" fill="#e85b48"/>
<rect x="1568.6" y="942.6" width="69.7" height="16.0" fill="#d7414e"/>
<rect x="101.7" y="957.9" width="39.0" height="15.9" fill="#9e0142"/>
<rect x="140.1" y="957.9" width="77.4" height="15.9" fill="#bc2249"/>
<rect x="216.9" y="957.9" width="46.7" height="15.9" fill="#d7414e"/>
<rect x="263.0" y="957.9" width="46.7" height="15.9" fill="#bc2249"/>
<rect x="309.1" y="957.9" width="16.0" height="15.9" fill="#9e0142"/>
<rect x="324.4" y="957.9" width="16.0" height="15.9" fill="#bc2249"/>
<rect x="339.8" y="957.9" width="46.7" height="15.9" fill="#9e0142"/>
<rect x="385.9" y="957.9" width="62.0" height="15.9" fill="#bc2249"/>
<rect x="447.3" y="957.9" width="31.3" height="15.9" fill="#d7414e"/>
<rect x="478.0" y="957.9" width="16.0" height="15.9" fill="#e85b48"/>
<rect x="493.4" y="957.9" width="16.0" height="15.9" fill="#f57547"/>
<rect x="508.7" y="957.9" width="16.0" height="15.9" fill="#fa9857"/>
<rect x="524.1" y="957.9" width="16.0" height="15.9" fill="#fdb768"/>
<rect x="539.5" y="957.9" width="16.0" height="15.9" fill="#fee797"/>
<rect x="554.8" y="957.9" width="31.3" height="15.9" fill="#fed07e"/>
<rect x="585.5" y="957.9" width="31.3" height="15.9" fill="#fdb768"/>
<rect x="616.3" y="957.9" width="16.0" height="15.9" fill="#fa9857"/>
<rect x="631.6" y="957.9" width="46.7" height="15.9" fill="#f57547"/>
<rect x="677.7" y="957.9" width="46.7" height="15.9" fill="#e85b48"/>
<rect x="723.8" y="957.9" width="16.0" height="15.9" fill="#d7414e"/>
<rect x="739.1" y="957.9" width="46.7" height="15.9" fill="#bc2249"/>
<rect x="785.2" y="957.9" width="507.5" height="15.9" fill="#9e0142"/>
<rect x="1292.1" y="957.9" width="92.8" height="15.9" fill="#bc2249"/>
<rect x="1384.3" y="957.9" width="92.8" height="15.9" fill="#d7414e"/>
<rect x="1476.4" y="957.9" width="16.0" height="15.9" fill="#bc2249"/>
<rect x="1491.8" y="957.9" width="146.5" height="15.9" fill="#d7414e"/>
<rect x="101.7" y="973.3" width="39.0" height="16.0" fill="#9e0142"/>
<rect x="140.1" y="973.3" width="62.0" height="16.0" fill="#bc2249"/>
<rect x="201.5" y="973.3" width="46.7" height="16.0" fill="#d7414e"/>
<rect x="247.6" y="973.3" width="62.0" height="16.0" fill="#bc2249"/>
<rect x="309.1" y="973.3" width="77.4" height="16.0" fill="#9e0142"/>
<rect x="385.9" y="973.3" width="77.4" height="16.0" fill="#bc2249"/>
<rect x="462.7" y="973.3" width="31.3" height="16.0" fill="#d7414e"/>
<rect x="493.4" y="973.3" width="31.3" height="16.0" fill="#e85b48"/>
<rect x="524.1" y="973.3" width="31.3" height="16.0" fill="#fa9857"/>
<rect x="554.8" y="973.3" width="16.0" height="16.0" fill="#fdb768"/>
<rect x="570.2" y="973.3" width="16.0" height="16.0" fill="#fed07e"/>
<rect x="585.5" y="973.3" width="16.0" height="16.0" fill="#fdb768"/>
<rect x="600.9" y="973.3" width="16.0" height="16.0" fill="#fa9857"/>
<rect x="616.3" y="973.3" width="62.0" height="16.0" fill="#f57547"/>
<rect x="677.7" y="973.3" width="31.3" height="16.0" fill="#e85b48"/>
<rect x="708.4" y="973.3" width="31.3" height="16.0" fill="#d7414e"/>
<rect x="739.1" y="973.3" width="31.3" height="16.0" fill="#bc2249"/>
<rect x="769.9" y="973.3" width="553.6" height="16.0" fill="#9e0142"/>
<rect x="1322.8" y="973.3" width="184.9" height="16.0" fill="#bc2249"/>
<rect x="1507.1" y="973.3" width="131.2" height="16.0" fill="#d7414e"/>
<rect x="101.7" y="988.6" width="39.0" height="16.0" fill="#9e0142"/>
<rect x="140.1" y="988.6" width="184.9" height="16.0" fill="#bc2249"/>
<rect x="324.4" y="988.6" width="62.0" height="16.0" fill="#9e0142"/>
<rect x="385.9" y="988.6" width="92.8" height="16.0" fill="#bc2249"/>
<rect x="478.0" y="988.6" width="46.7" height="16.0" fill="#d7414e"/>
<rect x="524.1" y="988.6" width="16.0" height="16.0" fill="#f57547"/>
<rect x="539.5" y="988.6" width="31.3" height="16.0" fill="#fa9857"/>
<rect x="570.2" y="988.6" width="31.3" height="16.0" fill="#fdb768"/>
<rect x="600.9" y="988.6" width="16.0" height="16.0" fill="#fa9857"/>
<rect x="616.3" y="988.6" width="62.0" height="16.0" fill="#f57547"/>
<rect x="677.7" y="988.6" width="16.0" height="16.0" fill="#e85b48"/>
<rect x="693.1" y="988.6" width="31.3" height="16.0" fill="#d7414e"/>
<rect x="723.8" y="988.6" width="31.3" height="16.0" fill="#bc2249"/>
<rect x="754.5" y="988.6" width="645.7" height="16.0" fill="#9e0142"/>
<rect x="1399.6" y="988.6" width="123.5" height="16.0" fill="#bc2249"/>
<rect x="1522.5" y="988.6" width="62.0" height="16.0" fill="#d7414e"/>
<rect x="1583.9" y="988.6" width="16.0" height="16.0" fill="#bc2249"/>
<rect x="1599.3" y="988.6" width="16.0" height="16.0" fill="#d7414e"/>
<rect x="1614.7" y="988.6" width="23.6" height="16.0" fill="#bc2249"/>
<rect x="101.7" y="1004.0" width="39.0" height="16.0" fill="#9e0142"/>
<rect x="140.1" y="1004.0" width="46.7" height="16.0" fill="#bc2249"/>
<rect x="186.2" y="1004.0" width="31.3" height="16.0" fill="#9e0142"/>
<rect x="216.9" y="1004.0" width="108.1" height="16.0" fill="#bc2249"/>
<rect x="324.4" y="1004.0" width="31.3" height="16.0" fill="#9e0142"/>
<rect x="355.1" y="1004.0" width="123.5" height="16.0" fill="#bc2249"/>
<rect x="478.0" y="1004.0" width="46.7" height="16.0" fill="#d7414e"/>
<rect x="524.1" y="1004.0" width="16.0" height="16.0" fill="#e85b48"/>
<rect x="539.5" y="1004.0" width="16.0" height="16.0" fill="#f57547"/>
<rect x="554.8" y="1004.0" width="16.0" height="16.0" fill="#fa9857"/>
<rect x="570.2" y="1004.0" width="31.3" height="16.0" fill="#fdb768"/>
<rect x="600.9" y="1004.0" width="62.0" height="16.0" fill="#f57547"/>
<rect x="662.3" y="1004.0" width="31.3" height="16.0" fill="#e85b48"/>
<rect x="693.1" y="1004.0" width="31.3" height="16.0" fill="#d7414e"/>
<rect x="723.8" y="1004.0" width="31.3" height="16.0" fill="#bc2249"/>
<rect x="754.5" y="1004.0" width="753.2" height="16.0" fill="#9e0142"/>
<rect x="1507.1" y="1004.0" width="46.7" height="16.0" fill="#bc2249"/>
<rect x="1553.2" y="1004.0" width="31.3" height="16.0" fill="#d7414e"/>
<rect x="1583.9" y="1004.0" width="54.4" height="16.0" fill="#bc2249"/>
<rect x="101.7" y="1019.3" width="131.2" height="16.0" fill="#9e0142"/>
<rect x="232.3" y="1019.3" width="277.1" height="16.0" fill="#bc2249"/>
<rect x="508.7" y="1019.3" width="31.3" height="16.0" fill="#d7414e"/>
<rect x="539.5" y="1019.3" width="16.0" height="16.0" fill="#e85b48"/>
<rect x="554.8" y="1019.3" width="16.0" height="16.0" fill="#f57547"/>
<rect x="570.2" y="1019.3" width="31.3" height="16.0" fill="#fdb768"/>
<rect x="600.9" y="1019.3" width="16.0" height="16.0" fill="#fa9857"/>
<rect x="616.3" y="1019.3" width="46.7" height="16.0" fill="#f57547"/>
<rect x="662.3" y="1019.3" width="16.0" height="16.0" fill="#e85b48"/>
<rect x="677.7" y="1019.3" width="31.3" height="16.0" fill="#d7414e"/>
<rect x="708.4" y="1019.3" width="31.3" height="16.0" fill="#bc2249"/>
<rect x="739.1" y="1019.3" width="737.9" height="16.0" fill="#9e0142"/>
<rect x="1476.4" y="1019.3" width="16.0" height="16.0" fill="#bc2249"/>
<rect x="1491.8" y="1019.3" width="31.3" height="16.0" fill="#9e0142"/>
<rect x="1522.5" y="1019.3" width="115.8" height="16.0" fill="#bc2249"/>
<rect x="101.7" y="1034.7" width="161.9" height="15.9" fill="#9e0142"/>
<rect x="263.0" y="1034.7" width="277.1" height="15.9" fill="#bc2249"/>
<rect x="539.5" y="1034.7" width="16.0" height="15.9" fill="#d7414e"/>
<rect x="554.8" y="1034.7" width="16.0" height="15.9" fill="#e85b48"/>
<rect x="570.2" y="1034.7" width="16.0" height="15.9" fill="#f57547"/>
<rect x="585.5" y="1034.7" width="16.0" height="15.9" fill="#fa9857"/>
<rect x="600.9" y="1034.7" width="16.0" height="15.9" fill="#fdb768"/>
<rect x="616.3" y="1034.7" width="16.0" height="15.9" fill="#f57547"/>
<rect x="631.6" y="1034.7" width="46.7" height="15.9" fill="#e85b48"/>
<rect x="677.7" y="1034.7" width="31.3" height="15.9" fill="#d7414e"/>
<rect x="708.4" y="1034.7" width="31.3" height="15.9" fill="#bc2249"/>
<rect x="739.1" y="1034.7" width="722.5" height="15.9" fill="#9e0142"/>
<rect x="1461.1" y="1034.7" width="16.0" height="15.9" fill="#bc2249"/>
<rect x="1476.4" y="1034.7" width="77.4" height="15.9" fill="#9e0142"/>
<rect x="1553.2" y="1034.7" width="85.1" height="15.9" fill="#bc2249"/>
<rect x="101.7" y="1050.0" width="161.9" height="16.0" fill="#9e0142"/>
<rect x="263.0" y="1050.0" width="169.6" height="16.0" fill="#bc2249"/>
<rect x="431.9" y="1050.0" width="16.0" height="16.0" fill="#9e0142"/>
<rect x="447.3" y="1050.0" width="46.7" height="16.0" fill="#bc2249"/>
<rect x="493.4" y="1050.0" width="62.0" height="16.0" fill="#9e0142"/>
<rect x="554.8" y="1050.0" width="31.3" height="16.0" fill="#d7414e"/>
<rect x="585.5" y="1050.0" width="16.0" height="16.0" fill="#f57547"/>
<rect x="600.9" y="1050.0" width="31.3" height="16.0" fill="#fa9857"/>
<rect x="631.6" y="1050.0" width="16.0" height="16.0" fill="#f57547"/>
<rect x="647.0" y="1050.0" width="46.7" height="16.0" fill="#e85b48"/>
<rect x="693.1" y="1050.0" width="16.0" height="16.0" fill="#d7414e"/>
<rect x="708.4" y="1050.0" width="31.3" height="16.0" fill="#bc2249"/>
<rect x="739.1" y="1050.0" width="845.4" height="16.0" fill="#9e0142"/>
<rect x="1583.9" y="1050.0" width="54.4" height="16.0" fill="#bc2249"/>
<rect x="101.7" y="1065.4" width="161.9" height="16.0" fill="#9e0142"/>
<rect x="263.0" y="1065.4" width="169.6" height="16.0" fill="#bc2249"/>
<rect x="431.9" y="1065.4" width="154.2" height="16.0" fill="#9e0142"/>
<rect x="585.5" y="1065.4" width="16.0" height="16.0" fill="#d7414e"/>
<rect x="600.9" y="1065.4" width="16.0" height="16.0" fill="#e85b48"/>
<rect x="616.3" y="1065.4" width="31.3" height="16.0" fill="#fa9857"/>
<rect x="647.0" y="1065.4" width="16.0" height="16.0" fill="#f57547"/>
<rect x="662.3" y="1065.4" width="31.3" height="16.0" fill="#e85b48"/>
<rect x="693.1" y="1065.4" width="16.0" height="16.0" fill="#d7414e"/>
<rect x="708.4" y="1065.4" width="31.3" height="16.0" fill="#bc2249"/>
<rect x="739.1" y="1065.4" width="476.8" height="16.0" fill="#9e0142"/>
<rect x="1215.3" y="1065.4" width="46.7" height="16.0" fill="#bc2249"/>
<rect x="1261.4" y="1065.4" width="376.9" height="16.0" fill="#9e0142"/>
<rect x="101.7" y="1080.7" width="177.2" height="16.0" fill="#9e0142"/>
<rect x="278.3" y="1080.7" width="169.6" height="16.0" fill="#bc2249"/>
<rect x="447.3" y="1080.7" width="169.6" height="16.0" fill="#9e0142"/>
<rect x="616.3" y="1080.7" width="16.0" height="16.0" fill="#d7414e"/>
<rect x="631.6" y="1080.7" width="16.0" height="16.0" fill="#fa9857"/>
<rect x="647.0" y="1080.7" width="16.0" height="16.0" fill="#f57547"/>
<rect x="662.3" y="1080.7" width="31.3" height="16.0" fill="#e85b48"/>
<rect x="693.1" y="1080.7" width="31.3" height="16.0" fill="#d7414e"/>
<rect x="723.8" y="1080.7" width="16.0" height="16.0" fill="#bc2249"/>
<rect x="739.1" y="1080.7" width="476.8" height="16.0" fill="#9e0142"/>
<rect x="1215.3" y="1080.7" width="46.7" height="16.0" fill="#bc2249"/>
<rect x="1261.4" y="1080.7" width="376.9" height="16.0" fill="#9e0142"/>
<rect x="101.7" y="1096.1" width="146.5" height="16.0" fill="#9e0142"/>
<rect x="247.6" y="1096.1" width="16.0" height="16.0" fill="#bc2249"/>
<rect x="263.0" y="1096.1" width="16.0" height="16.0" fill="#9e0142"/>
<rect x="278.3" y="1096.1" width="169.6" height="16.0" fill="#bc2249"/>
<rect x="447.3" y="1096.1" width="277.1" height="16.0" fill="#9e0142"/>
<rect x="723.8" y="1096.1" width="16.0" height="16.0" fill="#bc2249"/>
<rect x="739.1" y="1096.1" width="899.2" height="16.0" fill="#9e0142"/>
<rect x="101.7" y="1111.4" width="208.0" height="15.9" fill="#9e0142"/>
<rect x="309.1" y="1111.4" width="92.8" height="15.9" fill="#bc2249"/>
<rect x="401.2" y="1111.4" width="1237.1" height="15.9" fill="#9e0142"/>
<rect x="101.7" y="1126.8" width="238.7" height="16.0" fill="#9e0142"/>
<rect x="339.8" y="1126.8" width="31.3" height="16.0" fill="#bc2249"/>
<rect x="370.5" y="1126.8" width="1267.8" height="16.0" fill="#9e0142"/>
<rect x="101.7" y="1142.1" width="1206.4" height="16.0" fill="#9e0142"/>
<rect x="1307.5" y="1142.1" width="31.3" height="16.0" fill="#bc2249"/>
<rect x="1338.2" y="1142.1" width="300.1" height="16.0" fill="#9e0142"/>
<rect x="101.7" y="1157.5" width="1206.4" height="16.0" fill="#9e0142"/>
<rect x="1307.5" y="1157.5" width="46.7" height="16.0" fill="#bc2249"/>
<rect x="1353.5" y="1157.5" width="284.8" height="16.0" fill="#9e0142"/>
<rect x="101.7" y="1172.8" width="1221.7" height="15.9" fill="#9e0142"/>
<rect x="1322.8" y="1172.8" width="46.7" height="15.9" fill="#bc2249"/>
<rect x="1368.9" y="1172.8" width="269.4" height="15.9" fill="#9e0142"/>
<rect x="101.7" y="1188.2" width="1237.1" height="16.0" fill="#9e0142"/>
<rect x="1338.2" y="1188.2" width="31.3" height="16.0" fill="#bc2249"/>
<rect x="1368.9" y="1188.2" width="269.4" height="16.0" fill="#9e0142"/>
<rect x="101.7" y="1203.5" width="1536.6" height="15.9" fill="#9e0142"/>
<rect x="101.7" y="1218.9" width="1536.6" height="15.9" fill="#9e0142"/>
<rect x="101.7" y="1234.2" width="1536.6" height="16.0" fill="#9e0142"/>
<rect x="101.7" y="1249.6" width="1536.6" height="15.9" fill="#9e0142"/>
<rect x="101.7" y="1264.9" width="1536.6" height="16.0" fill="#9e0142"/>
<rect x="101.7" y="1280.3" width="1390.7" height="15.9" fill="#9e0142"/>
<rect x="1491.8" y="1280.3" width="16.0" height="15.9" fill="#bc2249"/>
<rect x="1507.1" y="1280.3" width="131.2" height="15.9" fill="#9e0142"/>
<rect x="101.7" y="1295.6" width="730.2" height="15.9" fill="#9e0142"/>
<rect x="831.3" y="1295.6" width="16.0" height="15.9" fill="#bc2249"/>
<rect x="846.7" y="1295.6" width="791.6" height="15.9" fill="#9e0142"/>
<rect x="101.7" y="1311.0" width="1406.0" height="16.0" fill="#9e0142"/>
<rect x="1507.1" y="1311.0" width="16.0" height="16.0" fill="#bc2249"/>
<rect x="1522.5" y="1311.0" width="115.8" height="16.0" fill="#9e0142"/>
<rect x="101.7" y="1326.3" width="1536.6" height="15.9" fill="#9e0142"/>
<rect x="101.7" y="1341.7" width="1536.6" height="16.0" fill="#9e0142"/>
<rect x="101.7" y="1357.0" width="1536.6" height="8.3" fill="#9e0142"/>
</g>
<g class="g"><line x1="410.5" y1="137" x2="410.5" y2="1365"/><line x1="717.5" y1="137" x2="717.5" y2="1365"/><line x1="1024.5" y1="137" x2="1024.5" y2="1365"/><line x1="1331.5" y1="137" x2="1331.5" y2="1365"/><line x1="102" y1="291.0" x2="1638" y2="291.0"/><line x1="102" y1="444.5" x2="1638" y2="444.5"/><line x1="102" y1="598.0" x2="1638" y2="598.0"/><line x1="102" y1="751.5" x2="1638" y2="751.5"/><line x1="102" y1="905.0" x2="1638" y2="905.0"/><line x1="102" y1="1058.5" x2="1638" y2="1058.5"/><line x1="102" y1="1212.0" x2="1638" y2="1212.0"/></g>
<path class="n" d="M100.0 158.7 L103.3 159.3 L106.6 160.4 L110.0 161.6 L113.3 162.7 L116.7 163.9 L120.0 165.0 L123.3 165.9 L126.7 166.9 L130.0 167.8 L133.3 168.8 L136.7 169.8 L140.0 170.7 L143.3 171.1 L146.7 171.6 L150.0 172.0 L153.3 172.4 L156.7 172.9 L160.0 173.3 L163.3 172.9 L166.7 172.4 L170.0 172.0 L173.3 171.6 L176.7 171.1 L180.0 170.7 L183.3 170.3 L186.7 169.9 L190.0 169.5 L193.3 169.1 L196.7 168.7 L200.0 168.3 L203.3 168.0 L206.7 167.8 L210.0 167.5 L213.3 167.2 L216.7 167.0 L220.0 166.7 L223.3 166.3 L226.7 165.9 L230.0 165.5 L233.3 165.1 L236.7 164.7 L240.0 164.3 L243.3 165.0 L246.7 165.6 L250.0 166.3 L253.3 167.0 L256.7 167.6 L260.0 168.3 L263.0 169.0 L265.9 169.8 L268.9 170.5 L271.9 171.3 L274.8 172.0 L277.8 172.8 L280.8 173.5 L283.7 174.3 L286.7 175.0 L289.7 175.7 L292.7 176.3 L295.7 177.0 L298.7 177.7 L301.7 178.3 L304.7 179.0 L307.7 179.7 L310.7 180.4 L313.7 181.0 L316.7 181.7 L319.7 182.5 L322.7 183.2 L325.7 184.0 L328.7 184.7 L331.7 185.5 L334.7 186.3 L337.7 187.0 L340.7 187.8 L343.7 188.5 L346.7 189.3 L350.0 190.1 L353.3 190.9 L356.7 191.7 L360.0 192.5 L363.3 193.3 L365.5 196.1 L367.8 198.9 L370.0 201.7 L371.1 205.0 L372.2 208.4 L373.3 211.7 L376.6 213.1 L380.0 214.6 L383.3 216.0 L386.4 215.8 L389.4 215.7 L392.5 215.5 L395.6 215.3 L398.6 215.2 L401.7 215.0 L404.4 216.3 L407.1 217.7 L409.8 219.0 L412.5 220.3 L415.2 221.7 L417.9 223.0 L420.6 224.3 L423.3 225.7 L426.0 227.0 L428.7 228.3 L431.4 229.7 L434.1 231.0 L436.8 232.3 L439.6 233.7 L442.3 235.0 L445.0 236.3 L447.7 237.7 L450.4 239.0 L453.1 240.3 L455.8 241.7 L458.5 243.0 L461.2 244.3 L463.9 245.7 L466.6 247.0 L469.3 248.3 L472.0 249.7 L474.7 251.0 L477.1 253.2 L479.4 255.4 L481.8 257.6 L484.2 259.7 L486.5 261.9 L488.9 264.1 L490.9 266.8 L492.9 269.5 L494.9 272.2 L497.0 274.9 L499.0 277.6 L501.0 280.3 L502.5 284.4 L504.0 288.4 L506.6 290.8 L509.3 293.2 L511.9 295.7 L514.6 298.1 L517.2 300.5 L519.9 302.2 L522.6 303.9 L525.2 305.6 L527.9 307.2 L530.6 308.9 L533.3 310.6 L536.5 312.0 L539.8 313.4 L543.0 314.9 L546.3 316.3 L549.5 317.7 L553.0 318.7 L556.5 319.7 L560.1 320.7 L563.6 321.7 L567.1 321.2 L570.7 320.7 L574.2 320.2 L577.8 319.7 L580.8 318.8 L583.8 317.9 L586.9 316.9 L589.9 316.0 L592.9 315.1 L595.9 315.6 L599.0 316.1 L602.0 316.7 L605.1 317.2 L608.1 317.7 L611.6 317.4 L615.2 317.2 L618.7 316.9 L622.2 316.7 L625.2 317.7 L628.2 318.7 L631.3 319.7 L634.3 320.7 L636.7 322.5 L639.2 324.3 L641.6 326.2 L644.1 328.0 L646.5 329.8 L648.8 332.1 L651.0 334.4 L653.3 336.6 L655.6 338.9 L656.9 342.4 L658.1 345.9 L659.4 349.5 L660.6 353.0 L662.2 355.6 L663.8 358.3 L665.5 360.9 L667.1 363.6 L668.7 366.2 L671.1 368.0 L673.5 369.8 L676.0 371.7 L678.4 373.5 L680.8 375.3 L683.2 377.3 L685.6 379.3 L688.1 381.4 L690.5 383.4 L692.9 385.4 L695.7 386.6 L698.6 387.8 L701.4 389.0 L704.3 390.2 L707.1 391.4 L709.9 393.0 L712.7 394.6 L715.6 396.3 L718.4 397.9 L721.2 399.5 L724.2 400.2 L727.2 401.0 L730.3 401.8 L733.3 402.5 L735.9 400.3 L738.6 398.1 L741.2 395.8 L743.9 393.6 L746.5 391.4 L749.8 392.9 L753.0 394.4 L756.3 396.0 L759.6 397.5 L763.1 398.8 L766.7 400.0 L770.2 401.2 L773.7 402.5 L777.2 401.8 L780.8 401.0 L784.4 400.2 L787.9 399.5 L790.9 398.8 L794.0 398.0 L797.0 397.2 L800.0 396.5 L804.1 397.9 L808.3 399.3 L810.8 401.6 L813.3 404.0 L815.8 406.3 L818.3 408.6 L820.8 411.0 L823.3 413.3 L825.8 415.2 L828.3 417.1 L830.8 418.9 L833.3 420.8 L835.8 422.7 L838.3 424.6 L840.8 426.4 L843.3 428.3 L846.2 429.8 L849.1 431.2 L852.1 432.7 L855.0 434.1 L857.9 435.6 L860.9 437.1 L863.8 438.5 L866.7 440.0 L870.0 440.8 L873.4 441.7 L876.7 442.5 L880.0 443.3 L883.4 444.2 L886.7 445.0 L890.0 445.1 L893.4 445.2 L896.7 445.4 L900.0 445.5 L903.3 445.6 L906.6 445.8 L910.0 445.9 L913.3 446.0 L916.6 446.2 L920.0 446.3 L923.3 446.5 L926.6 446.6 L930.0 446.8 L933.3 447.0 L936.7 447.1 L940.0 447.3 L943.0 447.8 L945.9 448.3 L948.9 448.8 L951.9 449.3 L954.8 449.7 L957.8 450.2 L960.8 450.7 L963.7 451.2 L966.7 451.7 L970.0 452.0 L973.4 452.4 L976.7 452.7 L980.0 453.0 L983.3 453.3 L986.7 453.7 L990.0 454.0 L993.3 455.2 L996.7 456.4 L1000.0 457.6 L1003.4 458.8 L1006.7 460.0 L1010.0 460.4 L1013.4 460.8 L1016.7 461.1 L1020.0 461.5 L1023.4 461.9 L1026.7 462.3 L1030.0 462.9 L1033.3 463.4 L1036.7 463.9 L1040.0 464.5 L1043.3 465.1 L1046.7 465.6 L1050.0 466.1 L1053.3 466.7 L1056.3 466.9 L1059.3 467.0 L1062.3 467.2 L1065.3 467.3 L1068.3 467.5 L1071.3 467.7 L1074.3 467.8 L1077.3 468.0 L1080.3 468.1 L1083.3 468.3 L1086.7 468.3 L1090.0 468.3 L1093.3 468.1 L1096.7 468.0 L1100.0 467.8 L1103.4 467.7 L1106.7 467.5 L1110.0 467.4 L1113.4 467.2 L1116.7 467.1 L1120.0 467.0 L1123.4 466.8 L1126.7 466.7 L1130.0 467.3 L1133.3 467.9 L1136.7 468.6 L1140.0 469.2 L1143.3 469.4 L1146.7 469.6 L1150.0 469.8 L1153.3 470.0 L1156.6 469.5 L1160.0 469.0 L1163.3 468.5 L1166.7 468.0 L1170.0 467.5 L1173.3 466.5 L1176.7 465.5 L1180.0 464.5 L1183.4 463.5 L1186.7 462.5 L1190.0 461.3 L1193.3 460.2 L1196.7 459.0 L1200.0 457.9 L1203.3 456.7 L1206.6 455.5 L1210.0 454.3 L1213.3 453.2 L1216.7 452.0 L1220.0 450.8 L1223.3 449.5 L1226.7 448.2 M1278.9 426.9 L1281.7 425.8 L1284.5 424.6 L1287.2 423.3 L1290.0 422.1 L1292.8 420.8 L1295.5 419.6 L1298.3 418.3 L1301.6 417.3 L1305.0 416.3 L1308.3 415.3 L1311.7 414.3 L1315.0 413.3 L1318.3 412.6 L1321.7 412.0 L1325.0 411.3 L1328.4 410.7 L1331.7 410.0 L1335.0 409.3 L1338.3 408.7 L1341.7 408.0 L1345.0 407.4 L1348.3 406.7 L1350.7 404.9 L1353.2 403.1 L1355.6 401.2 L1358.0 399.4 L1360.4 397.6 L1362.9 395.8 L1365.3 394.0 L1367.7 392.2 L1370.1 390.3 L1372.6 388.5 L1375.0 386.7 L1377.6 384.8 L1380.2 382.9 L1382.8 381.0 L1385.5 379.0 L1388.1 377.1 L1390.7 375.2 L1393.3 373.3 L1396.1 371.9 L1398.9 370.5 L1401.7 369.1 L1404.4 367.8 L1407.2 366.4 L1410.0 365.0 L1412.8 363.1 L1415.6 361.1 L1418.3 359.1 L1421.1 357.2 L1423.9 355.2 L1426.7 353.3 L1429.5 351.4 L1432.2 349.4 L1435.0 347.5 L1437.8 345.6 L1440.5 343.6 L1443.3 341.7 L1446.1 340.0 L1448.9 338.4 L1451.7 336.7 L1454.4 335.0 L1457.2 333.4 L1460.0 331.7 L1462.7 329.7 L1465.3 327.7 L1468.0 325.7 L1470.6 323.7 L1473.3 321.7 L1475.3 319.0 L1477.3 316.3 L1479.3 313.7 L1481.3 311.0 L1483.3 308.3 L1486.0 306.6 L1488.7 305.0 L1491.3 303.3 L1494.0 301.7 L1496.7 300.0 L1499.4 298.3 L1502.0 296.7 L1504.7 295.0 L1507.3 293.4 L1510.0 291.7 L1512.8 290.0 L1515.5 288.4 L1518.3 286.7 L1522.2 286.1 L1526.1 285.6 L1530.0 285.0 L1531.7 282.5 L1533.3 280.0 L1535.0 277.5 L1536.7 275.0 L1539.4 272.7 L1542.0 270.3 L1544.7 268.0 L1547.3 265.6 L1550.0 263.3 L1552.5 260.8 L1555.0 258.3 L1557.5 255.8 L1560.0 253.3 L1562.1 250.8 L1564.2 248.3 L1566.2 245.8 L1568.3 243.3 L1571.1 242.2 L1573.9 241.1 L1576.7 240.0 L1579.2 237.5 L1581.7 235.0 L1584.2 232.5 L1586.7 230.0 L1588.6 227.6 L1590.5 225.2 L1592.4 222.8 L1594.3 220.5 L1596.2 218.1 L1598.1 215.7 L1600.0 213.3 L1602.5 210.8 L1605.0 208.3 L1607.5 205.8 L1610.0 203.3 L1613.3 201.7 L1616.7 200.0 L1620.0 198.3 L1623.3 196.7 L1626.1 194.9 L1629.0 193.0 L1631.8 191.2 L1634.7 189.3 L1637.5 187.5 L1640.0 185.8"/>
<path class="n" d="M100.0 187.3 L103.3 188.3 L106.6 189.0 L110.0 189.7 L113.3 190.4 L116.7 191.2 L120.0 191.9 L123.4 192.6 L126.7 193.3 L130.0 193.7 L133.4 194.1 L136.7 194.5 L140.0 194.8 L143.3 195.2 L146.7 195.6 L150.0 196.0 L153.0 195.3 L155.9 194.7 L158.9 194.0 L161.9 193.3 L164.8 192.7 L167.8 192.0 L170.8 191.3 L173.7 190.7 L176.7 190.0 L180.0 189.2 L183.4 188.3 L186.7 187.5 L190.0 186.7 L193.4 185.8 L196.7 185.0 L200.0 183.9 L203.4 182.8 L206.7 181.7 L210.0 181.5 L213.3 181.3 L216.7 181.1 L220.0 180.9 L223.3 180.7 L226.6 181.0 L230.0 181.4 L233.3 181.7 L236.6 182.0 L240.0 182.4 L243.3 182.7 L246.7 184.1 L250.0 185.5 L253.3 186.9 L256.7 188.3 L259.7 189.1 L262.7 190.0 L265.7 190.8 L268.7 191.7 L271.7 192.5 L274.7 193.3 L277.7 194.2 L280.7 195.0 L283.7 195.9 L286.7 196.7 L289.7 197.4 L292.7 198.2 L295.7 198.9 L298.7 199.6 L301.7 200.3 L304.7 201.1 L307.7 201.8 L310.7 202.5 L313.7 203.3 L316.7 204.0 L319.8 204.6 L322.9 205.2 L326.0 205.8 L329.0 206.5 L332.1 207.1 L335.2 207.7 L338.3 208.3 L338.7 211.4 L339.1 214.4 L339.5 217.5 L339.9 220.6 L340.3 223.6 L340.7 226.7 L343.2 228.6 L345.7 230.4 L348.3 232.3 L350.8 234.1 L353.3 236.0 L356.6 236.6 L360.0 237.2 L363.4 237.7 L366.7 238.3 L370.0 238.0 L373.3 237.7 L376.7 237.3 L380.0 237.0 L383.3 236.7 L386.4 236.6 L389.4 236.5 L392.5 236.3 L395.6 236.2 L398.6 236.1 L401.7 236.0 L404.7 237.1 L407.7 238.3 L410.7 239.4 L413.7 240.6 L416.7 241.7 L419.1 243.9 L421.4 246.2 L423.8 248.4 L426.2 250.7 L428.5 252.9 L430.9 255.1 L433.3 257.4 L435.7 259.6 L438.0 261.9 L440.4 264.1 L442.4 266.8 L444.4 269.5 L446.4 272.2 L448.5 274.9 L450.5 277.6 L452.5 280.3 L454.5 283.1 L456.5 285.9 L458.6 288.8 L460.6 291.6 L462.6 294.4 L463.6 297.9 L464.6 301.5 L465.7 305.1 L466.7 308.6 L469.1 311.0 L471.5 313.4 L474.0 315.9 L476.4 318.3 L478.8 320.7 L481.3 322.7 L483.9 324.8 L486.4 326.8 L488.9 328.8 L492.1 330.0 L495.4 331.2 L498.6 332.4 L501.9 333.6 L505.1 334.8 L508.5 336.2 L511.8 337.5 L515.2 338.9 L518.7 338.6 L522.2 338.4 L525.8 338.1 L529.3 337.9 L532.3 339.1 L535.3 340.4 L538.4 341.6 L541.4 342.9 L544.2 344.9 L547.1 346.9 L549.9 349.0 L552.8 351.0 L555.6 353.0 L558.6 354.8 L561.7 356.6 L564.7 358.3 L567.7 360.1 L571.2 360.9 L574.8 361.6 L578.3 362.4 L581.8 363.1 L584.8 363.9 L587.8 364.6 L590.9 365.4 L593.9 366.2 L596.3 368.0 L598.8 369.8 L601.2 371.7 L603.7 373.5 L606.1 375.3 L608.5 377.3 L610.9 379.3 L613.4 381.4 L615.8 383.4 L618.2 385.4 L620.6 387.4 L622.9 389.4 L625.3 391.4 L627.9 389.6 L630.5 387.8 L633.2 385.9 L635.8 384.1 L638.4 382.3 L641.8 383.3 L645.1 384.4 L648.5 385.4 L651.5 387.4 L654.5 389.4 L657.6 391.4 L660.6 393.4 L663.1 395.4 L665.7 397.4 L668.2 399.5 L670.7 401.5 L673.4 404.2 L676.1 406.9 L678.8 409.6 L680.8 412.1 L682.8 414.6 L684.9 417.2 L686.9 419.7 L688.9 422.1 L690.9 424.5 L693.0 427.0 L695.0 429.4 L697.0 431.8 L700.0 433.3 L703.0 434.9 L706.1 436.4 L709.1 437.9 L712.6 437.4 L716.2 436.9 L719.7 436.4 L723.2 435.9 L726.6 435.2 L729.9 434.5 L733.3 433.8 L735.7 435.6 L738.0 437.5 L740.4 439.4 L742.8 441.2 L745.1 443.0 L747.5 444.9 L750.0 443.1 L752.5 441.3 L755.0 439.4 L757.5 437.6 L760.0 435.8 L763.3 434.4 L766.7 433.1 L770.0 431.7 L772.8 430.3 L775.5 428.9 L778.3 427.5 L781.6 430.4 L785.0 433.3 L787.1 436.2 L789.1 439.1 L791.2 442.1 L793.3 445.0 L795.6 447.0 L798.0 449.0 L800.3 451.0 L802.7 453.0 L805.0 455.0 L807.9 457.1 L810.9 459.1 L813.8 461.2 L816.7 463.3 L820.0 463.9 L823.4 464.6 L826.7 465.2 L830.0 465.8 L833.3 466.0 L836.7 466.2 L840.0 466.3 L843.4 466.5 L846.7 466.7 L850.0 466.9 L853.3 467.0 L856.7 467.2 L860.0 467.3 L863.3 467.5 L866.6 467.8 L870.0 468.2 L873.3 468.5 L876.7 468.9 L880.0 469.2 L883.0 469.6 L886.1 470.0 L889.1 470.4 L892.2 470.9 L895.2 471.3 L898.3 471.7 L901.4 471.8 L904.4 472.0 L907.5 472.1 L910.6 472.2 L913.6 472.4 L916.7 472.5 L919.8 472.4 L922.8 472.2 L925.9 472.1 L928.9 472.0 L932.0 471.8 L935.0 471.7 L938.3 471.7 L941.7 471.7 L945.0 471.7 L948.4 471.7 L951.7 471.7 L954.8 471.7 L957.8 471.7 L960.9 471.7 L963.9 471.7 L967.0 471.7 L970.0 471.7 L973.3 472.1 L976.6 472.5 L980.0 472.9 M1036.6 477.8 L1040.0 478.9 L1043.3 480.0 L1046.6 481.1 L1050.0 482.2 L1053.3 483.3 L1057.2 482.8 L1061.1 482.2 L1065.0 481.7 L1068.9 482.2 L1072.8 482.8 L1076.7 483.3 L1080.0 485.0 L1083.4 486.6 L1086.7 488.3 L1090.0 486.7 L1093.3 486.7 L1096.7 486.7 L1100.0 486.7 L1103.4 486.7 L1106.7 486.7 L1110.0 486.9 L1113.3 487.1 L1116.7 487.3 L1120.0 487.5 L1124.2 489.1 L1128.3 490.8 L1132.2 490.5 L1136.1 490.3 L1140.0 490.0 L1143.3 489.3 L1146.7 488.7 L1150.0 488.0 L1153.4 487.4 L1156.7 486.7 L1160.0 486.2 L1163.3 485.7 L1166.7 485.2 L1170.0 484.7 L1173.3 484.2 L1176.6 483.7 L1180.0 483.2 L1183.3 482.7 L1186.7 482.2 L1190.0 481.7 L1193.3 480.6 L1196.7 479.4 L1200.0 478.3 L1203.3 476.2 L1206.7 474.2 L1210.0 474.5 L1213.4 474.7 L1216.7 475.0 L1220.8 474.6 L1225.0 474.2 L1227.8 472.2 L1230.5 470.3 L1233.3 468.3 L1236.0 466.6 L1238.7 465.0 L1241.3 463.3 L1244.0 461.7 L1246.7 460.0 L1250.0 458.3 L1253.3 456.6 L1256.7 455.0 L1260.0 453.3 L1263.3 451.6 L1266.7 450.0 L1270.0 448.4 L1273.3 446.7 L1276.6 445.5 L1280.0 444.3 L1283.3 443.2 L1286.7 442.0 L1290.0 440.8 L1293.3 440.1 L1296.7 439.5 L1300.0 438.8 L1303.4 438.2 L1306.7 437.5 L1310.0 436.7 L1313.3 435.8 L1316.7 435.0 L1320.0 434.1 L1323.3 433.3 L1326.7 431.6 L1330.0 430.0 L1333.3 428.4 L1336.7 426.7 L1340.0 425.0 L1343.3 423.4 L1346.7 421.7 L1350.0 420.0 L1353.0 418.8 L1356.0 417.7 L1359.0 416.5 L1362.0 415.4 L1365.0 414.2 L1368.3 413.2 L1371.7 412.2 L1375.0 411.2 L1378.4 410.2 L1381.7 409.2 L1383.6 406.6 L1385.6 403.9 L1387.5 401.2 L1389.4 398.6 L1391.4 395.9 L1393.3 393.3 L1396.2 392.4 L1399.0 391.4 L1401.9 390.5 L1404.7 389.5 L1407.6 388.6 L1410.4 387.6 L1413.3 386.7 L1416.1 385.0 L1418.9 383.4 L1421.7 381.7 L1424.4 380.0 L1427.2 378.4 L1430.0 376.7 L1433.3 375.4 L1436.7 374.0 L1440.0 372.7 L1443.4 371.3 L1446.7 370.0 L1449.2 368.1 L1451.7 366.1 L1454.2 364.1 L1456.7 362.2 L1459.2 360.2 L1461.7 358.3 L1463.6 355.8 L1465.6 353.3 L1467.5 350.8 L1469.4 348.3 L1471.4 345.8 L1473.3 343.3 L1475.8 340.8 L1478.3 338.3 L1480.8 335.8 L1483.3 333.3 L1486.7 331.6 L1490.0 330.0 L1493.3 328.4 L1496.7 326.7 L1499.0 324.7 L1501.3 322.7 L1503.7 320.7 L1506.0 318.7 L1508.3 316.7 L1511.1 315.0 L1513.9 313.4 L1516.7 311.7 L1519.4 310.0 L1522.2 308.4 L1525.0 306.7 L1528.0 305.0 L1531.0 303.3 L1534.0 301.7 L1537.0 300.0 L1540.0 298.3 L1542.7 296.6 L1545.3 295.0 L1548.0 293.3 L1550.6 291.7 L1553.3 290.0 L1556.0 288.3 L1558.7 286.7 L1561.3 285.0 L1564.0 283.4 L1566.7 281.7 L1569.4 280.0 L1572.0 278.3 L1574.7 276.7 L1577.3 275.0 L1580.0 273.3 L1581.7 270.8 L1583.3 268.3 L1585.0 265.8 L1586.7 263.3 L1589.4 261.3 L1592.0 259.3 L1594.7 257.3 L1597.3 255.3 L1600.0 253.3 L1602.7 251.3 L1605.3 249.3 L1608.0 247.3 L1610.6 245.3 L1613.3 243.3 L1615.5 241.1 L1617.8 238.9 L1620.0 236.7 L1622.2 234.4 L1624.5 232.2 L1626.7 230.0 L1627.4 227.0 L1628.0 224.0 L1628.7 221.0 L1629.3 218.0 L1630.0 215.0 L1632.5 212.8 L1635.0 210.5 L1637.5 208.3 L1640.0 206.7"/>
<path class="n" d="M100.0 203.0 L103.3 203.3 L106.4 203.7 L109.5 204.2 L112.6 204.6 L115.7 205.0 L118.8 205.4 L121.9 205.9 L125.0 206.3 L128.1 206.5 L131.2 206.7 L134.4 206.9 L137.5 207.2 L140.6 207.4 L143.8 207.6 L146.9 207.8 L150.0 208.0 L153.1 207.7 L156.2 207.4 L159.4 207.2 L162.5 206.9 L165.6 206.6 L168.8 206.4 L171.9 206.1 L175.0 205.8 L178.1 205.4 L181.2 205.0 L184.3 204.6 L187.4 204.2 L190.5 203.8 L193.6 203.4 L196.7 203.0 L200.0 202.7 L203.3 202.3 L206.7 202.0 L210.0 201.7 L213.3 202.5 L216.7 203.3 L220.0 204.2 L223.3 205.0 L225.8 206.7 L228.3 208.3 L230.8 210.0 L233.3 211.7 L236.1 213.4 L238.9 215.0 L241.7 216.7 L245.6 217.5 L249.4 218.4 L253.3 219.2 L256.4 218.8 L259.4 218.4 L262.5 217.9 L265.6 217.5 L268.6 217.1 L271.7 216.7 L274.6 217.7 L277.5 218.8 L280.4 219.8 L283.3 220.8 L286.1 223.3 L288.9 225.8 L291.7 228.3 L294.5 231.1 L297.2 233.9 L300.0 236.7 L302.5 239.2 L305.0 241.7 L307.5 244.2 L310.0 246.7 L313.0 247.5 L316.0 248.3 L319.0 249.2 L322.0 250.0 L325.0 250.8 L328.3 251.5 L331.7 252.2 L335.0 252.8 L338.4 253.5 L341.7 254.2 L344.8 255.2 L347.8 256.1 L350.9 257.1 L353.9 258.1 L356.9 259.0 L360.0 260.0 L363.3 260.6 L366.7 261.1 L370.0 261.6 L373.3 262.2 L376.7 262.8 L380.0 263.3 L382.5 265.4 L385.0 267.5 L387.5 269.6 L390.0 271.7 L392.0 274.0 L394.0 276.3 L396.0 278.7 L398.0 281.0 L400.0 283.3 L400.0 286.4 L402.4 288.2 L404.8 290.0 L407.3 291.9 L409.7 293.7 L412.1 295.5 L415.1 296.2 L418.1 297.0 L421.2 297.8 L424.2 298.5 L426.2 301.5 L428.2 304.6 L430.3 307.6 L432.3 310.6 L433.9 313.4 L435.5 316.2 L437.2 319.1 L438.8 321.9 L440.4 324.7 L443.0 326.7 L445.6 328.8 L448.2 330.8 L450.8 332.8 L453.4 334.8 L456.0 336.9 L458.6 338.9 L461.0 340.9 L463.4 342.9 L465.9 345.0 L468.3 347.0 L470.7 349.0 L470.9 352.5 L471.2 356.1 L471.4 359.6 L471.7 363.1 L471.5 366.3 L471.4 369.5 L471.2 372.7 L471.0 375.9 L470.9 379.1 L470.7 382.3 L473.4 380.6 L476.1 379.0 L478.8 377.3 L481.5 375.9 L484.2 374.6 L486.9 373.2 L490.4 374.2 L493.9 375.2 L497.5 376.3 L501.0 377.3 L504.2 377.3 L507.5 377.3 L510.7 377.3 L514.0 377.3 L517.2 377.3 L520.2 378.8 L523.2 380.3 L526.3 381.8 L529.3 383.3 L531.7 385.7 L534.1 388.2 L536.6 390.6 L539.0 393.1 L541.4 395.5 L543.8 397.7 L546.2 399.9 L548.7 402.2 L551.1 404.4 L553.5 406.6 L555.9 409.2 L558.4 411.8 L560.8 414.5 L563.3 417.1 L565.7 419.7 L568.1 421.7 L570.5 423.7 L573.0 425.8 L575.4 427.8 L577.8 429.8 L580.6 431.4 L583.4 433.0 L586.3 434.7 L589.1 436.3 L591.9 437.9 L595.1 438.5 L598.4 439.1 L601.6 439.7 L604.9 440.3 L608.1 440.9 L611.1 442.9 L614.2 444.9 L617.2 447.0 L620.2 449.0 L623.2 451.0 L626.2 453.1 L629.3 455.1 L632.3 457.1 L635.7 458.4 L639.0 459.8 L642.4 461.1 L644.9 458.8 L647.5 456.6 L650.0 454.3 L652.5 452.0 L655.9 452.0 L659.2 452.0 L662.6 452.0 L665.6 453.5 L668.7 455.1 L671.7 456.6 L674.7 458.1 L677.8 459.6 L680.8 461.1 L683.9 462.6 L686.9 464.1 L690.1 464.3 L693.3 464.5 L696.6 464.8 L699.8 465.0 L703.0 465.2 L706.4 465.0 L709.7 464.8 L713.1 464.6 L716.5 464.5 L719.8 464.3 L723.2 464.1 L726.6 463.9 L729.9 463.8 L733.3 463.6 L736.7 463.4 L740.0 463.3 L743.4 463.1 L746.7 462.8 L750.0 462.5 L753.4 462.3 L756.7 462.0 L760.0 461.7 L763.0 461.5 L766.0 461.3 L769.0 461.2 L772.0 461.0 L775.0 460.8 L778.3 462.2 L781.7 463.6 L785.0 465.0 L787.9 466.7 L790.9 468.4 L793.8 470.0 L796.7 471.7 L800.0 472.5 L803.4 473.4 L806.7 474.2 L810.0 475.0 L813.3 476.7 L816.6 478.4 L820.0 480.0 L823.3 481.7 L826.6 482.9 L830.0 484.2 L833.4 485.4 L836.7 486.7 L840.0 486.9 L843.3 487.0 L846.7 487.2 L850.0 487.3 L853.3 487.5 L856.6 487.7 L860.0 487.8 L863.3 488.0 L866.7 488.1 L870.0 488.3 L873.3 489.4 L876.7 490.6 L880.0 491.7 L883.3 492.1 L886.6 492.5 L890.0 492.9 L893.3 493.3 L896.6 493.6 L900.0 494.0 L903.3 494.3 L906.7 494.7 L910.0 495.0 L913.3 495.0 L916.7 495.0 L920.0 495.0 L923.4 495.0 L926.7 495.0 L930.0 495.2 L933.3 495.3 L936.7 495.5 L940.0 495.6 L943.3 495.8 L946.6 495.8 L950.0 495.8 L953.3 495.8 L956.7 495.8 L960.0 495.8 L963.3 496.0 L966.7 496.2 L970.0 496.3 L973.4 496.5 L976.7 496.7 L980.0 497.5 L983.4 498.4 L986.7 499.2 L990.0 500.0 L993.3 500.2 L996.7 500.3 L1000.0 500.5 L1003.4 500.6 L1006.7 500.8 L1010.0 501.3 L1013.3 501.8 L1016.7 502.3 L1020.0 502.8 L1023.3 503.3 L1026.7 503.7 L1030.0 504.1 L1033.3 504.6 L1036.7 505.0 L1040.0 503.9 L1043.4 502.8 L1046.7 501.7 L1050.0 500.3 L1053.4 498.9 L1056.7 497.5 L1060.6 497.2 L1064.4 497.0 L1068.3 496.7 L1072.2 497.5 L1076.1 498.4 L1080.0 499.2 L1083.3 499.5 L1086.7 499.7 L1090.0 500.0 L1093.3 500.2 L1096.7 500.4 L1100.0 500.6 L1103.3 500.8 L1106.7 501.4 L1110.0 502.1 L1113.3 502.7 L1116.7 503.3 L1120.0 503.6 L1123.3 504.0 L1126.7 504.3 L1130.0 504.7 L1133.3 505.0 L1136.6 504.8 L1140.0 504.7 L1143.3 504.5 L1146.7 504.4 L1150.0 504.2 L1153.3 503.5 L1156.7 502.8 L1160.0 502.2 L1163.4 501.5 L1166.7 500.8 L1170.0 500.1 L1173.3 499.5 L1176.7 498.8 L1180.0 498.2 L1183.3 497.5 L1186.6 497.0 L1190.0 496.5 L1193.3 496.0 L1196.7 495.5 L1200.0 495.0 L1203.3 495.0 L1206.7 495.0 L1210.0 495.0 L1213.4 495.0 L1216.7 495.0 L1220.0 495.3 L1223.3 495.7 L1226.7 496.0 L1230.0 496.4 L1233.3 496.7 L1236.6 496.1 L1240.0 495.6 L1243.3 495.0 L1246.7 493.8 L1250.0 492.5 L1253.3 491.2 L1256.7 490.0 L1260.0 489.0 L1263.3 488.0 L1266.7 487.0 L1270.0 486.0 L1273.3 485.0 L1276.6 483.7 L1280.0 482.3 L1283.3 481.0 L1286.7 479.6 L1290.0 478.3 L1292.8 476.9 L1295.6 475.5 L1298.3 474.1 L1301.1 472.8 L1303.9 471.4 L1306.7 470.0 L1310.0 468.8 L1313.3 467.7 L1316.7 466.5 L1320.0 465.4 L1323.3 464.2 L1326.6 463.4 L1330.0 462.5 L1333.3 461.7 L1336.7 460.8 L1340.0 460.0 L1343.3 458.7 L1346.7 457.3 L1350.0 456.0 L1353.4 454.6 L1356.7 453.3 L1359.5 451.9 L1362.2 450.5 L1365.0 449.1 L1367.8 447.8 L1370.5 446.4 L1373.3 445.0 L1376.1 443.6 L1378.9 442.2 L1381.7 440.9 L1384.4 439.5 L1387.2 438.1 L1390.0 436.7 L1392.7 434.7 L1395.3 432.7 L1398.0 430.7 L1400.6 428.7 L1403.3 426.7 L1405.5 424.2 L1407.7 421.8 L1409.9 419.3 L1412.1 416.9 L1414.3 414.4 L1416.5 412.0 L1418.7 409.6 L1420.9 407.1 L1423.1 404.6 L1425.3 402.2 L1428.5 400.3 L1431.6 398.4 L1434.8 396.5 L1437.9 394.6 L1441.1 393.2 L1444.2 391.8 L1447.3 390.3 L1450.5 388.9 L1453.7 387.3 L1456.8 385.8 L1459.9 384.2 L1463.1 382.6 L1465.6 380.7 L1468.2 378.9 L1470.7 377.0 L1473.2 375.1 L1474.9 372.2 L1476.6 369.2 L1478.3 366.2 L1480.0 363.3 L1483.3 362.1 L1486.7 360.8 L1490.0 359.6 L1493.3 358.3 L1496.7 356.6 L1500.0 355.0 L1503.3 353.4 L1506.7 351.7 L1509.5 350.0 L1512.2 348.4 L1515.0 346.7 L1517.8 345.0 L1520.5 343.4 L1523.3 341.7 L1526.7 340.0 L1530.0 338.4 L1533.3 336.7 L1536.7 335.0 M1585.0 301.7 L1587.3 299.7 L1589.7 297.7 L1592.0 295.7 L1594.4 293.7 L1596.7 291.7 L1598.9 289.2 L1601.1 286.7 L1603.3 284.2 L1605.6 281.7 L1607.8 279.2 L1610.0 276.7 L1612.5 274.2 L1615.0 271.7 L1617.5 269.2 L1620.0 266.7 L1622.9 265.0 L1625.8 263.4 L1628.8 261.7 L1631.7 260.0 L1634.6 258.4 L1637.5 256.7 L1640.0 255.0"/>
<path class="n" d="M100.0 215.8 L103.3 216.7 L106.4 216.9 L109.5 217.2 L112.6 217.4 L115.7 217.6 L118.8 217.8 L121.9 218.1 L125.0 218.3 L128.1 218.6 L131.2 218.9 L134.4 219.2 L137.5 219.6 L140.6 219.9 L143.8 220.2 L146.9 220.5 L150.0 220.8 L153.3 221.0 L156.7 221.1 L160.0 221.2 L163.3 221.4 L166.7 221.5 L170.0 221.7 L173.3 221.5 L176.7 221.4 L180.0 221.2 L183.3 221.1 L186.7 221.0 L190.0 220.8 L193.3 221.1 L196.7 221.5 L200.0 221.8 L203.4 222.2 L206.7 222.5 L209.5 224.2 L212.2 225.8 L215.0 227.5 L216.7 230.0 L218.3 232.5 L220.0 235.0 L222.5 237.5 L225.0 240.0 L227.5 242.5 L230.0 245.0 L232.9 246.4 L235.8 247.9 L238.8 249.4 L241.7 250.8 L245.0 251.9 L248.3 252.9 L251.7 253.9 L255.0 255.0 L257.9 258.4 L260.8 261.7 L260.8 265.6 L260.8 269.4 L260.8 273.3 L263.8 275.8 L266.7 278.3 L270.0 279.5 L273.3 280.7 L276.7 281.8 L280.0 283.0 L283.3 284.2 L286.2 285.6 L289.1 287.1 L292.1 288.6 L295.0 290.0 L298.3 290.3 L301.7 290.6 L305.0 290.9 L308.3 291.1 L311.7 291.4 L315.0 291.7 L318.1 292.1 L321.2 292.4 L324.3 292.8 L327.4 293.1 L330.5 293.5 L333.6 293.8 L336.7 294.2 L337.2 297.4 L337.8 300.6 L338.4 303.8 L338.9 306.9 L339.4 310.1 L340.0 313.3 L342.4 315.7 L344.8 318.1 L347.2 320.5 L349.5 322.8 L351.9 325.2 L354.3 327.6 L356.7 330.0 L359.2 327.9 L361.7 325.9 L364.2 323.8 L366.7 321.7 L370.0 320.9 L373.4 320.0 L376.7 319.2 L379.2 321.2 L381.7 323.3 L380.4 326.3 L379.0 329.3 L377.7 332.3 L376.3 335.3 L375.0 338.3 L375.3 341.6 L375.7 345.0 L376.0 348.3 L376.4 351.7 L376.7 355.0 L378.0 358.0 L379.3 361.0 L380.7 364.0 L382.0 367.0 L383.3 370.0 L383.3 370.0 L386.0 371.7 L388.7 373.3 L391.3 375.0 L394.0 376.6 L396.7 378.3 L400.0 377.5 L403.4 376.6 L406.7 375.8 L410.0 375.0 L410.1 374.2 L412.6 376.0 L415.1 377.8 L417.7 379.5 L420.2 381.3 L422.6 383.7 L425.0 386.1 L427.5 388.6 L429.9 391.0 L432.3 393.4 L434.0 396.1 L435.7 398.8 L437.4 401.5 L439.0 404.2 L440.7 406.9 L442.4 409.6 L444.4 412.0 L446.4 414.4 L448.5 416.9 L450.5 419.3 L452.5 421.7 L456.1 422.7 L459.6 423.8 L463.1 424.8 L466.7 425.8 L469.7 425.6 L472.7 425.4 L475.8 425.2 L478.8 425.1 L481.8 424.9 L484.8 424.7 L488.2 424.5 L491.6 424.4 L495.0 424.2 L498.3 424.0 L501.7 423.9 L505.1 423.7 L508.3 424.1 L511.5 424.5 L514.8 425.0 L518.0 425.4 L521.2 425.8 L524.6 424.8 L527.9 423.7 L531.3 422.7 L534.0 424.4 L536.7 426.1 L539.4 427.8 L540.6 431.0 L541.8 434.2 L543.1 437.5 L544.3 440.7 L545.5 443.9 L547.5 446.9 L549.5 450.0 L551.5 453.1 L553.5 456.1 L555.5 459.1 L557.5 462.1 L559.6 465.2 L561.6 468.2 L564.0 470.2 L566.4 472.2 L568.9 474.3 L571.3 476.3 L573.7 478.3 L577.1 479.0 L580.4 479.6 L583.8 480.3 L587.2 481.0 L590.5 481.6 L593.9 482.3 L595.5 485.1 L597.1 488.0 L598.8 490.8 L600.4 493.7 L602.0 496.5 L602.5 499.5 L603.0 502.6 L603.5 505.6 L604.0 508.6 L606.5 510.6 L609.0 512.7 L611.6 514.7 L614.1 516.7 L616.1 519.2 L618.2 521.8 L620.2 524.3 L622.2 526.8 L625.0 527.8 L627.9 528.8 L630.7 529.8 L633.6 530.8 L636.4 531.8 L639.7 531.5 L643.0 531.3 L646.2 531.0 L649.5 530.8 L652.8 530.5 L656.0 530.3 L659.3 530.0 L662.6 529.8 L666.0 529.3 L669.3 528.8 L672.7 528.3 L676.1 527.8 L679.4 527.3 L682.8 526.8 L685.6 525.6 L688.5 524.4 L691.3 523.1 L694.2 521.9 L697.0 520.7 L699.0 518.2 L701.0 515.7 L703.1 513.1 L705.1 510.6 L706.7 507.8 L708.3 505.0 L709.9 502.1 L711.5 499.3 L713.1 496.5 L715.6 494.7 L718.2 492.9 L720.7 491.2 L723.2 489.4 L726.4 488.7 L729.7 488.0 L732.9 487.4 L736.2 486.7 L739.4 486.0 L742.6 486.3 L745.9 486.6 L749.1 486.8 L752.4 487.1 L755.6 487.4 L760.0 487.5 L762.8 488.9 L765.5 490.3 L768.3 491.7 L771.1 493.4 L773.9 495.0 L776.7 496.7 L780.0 497.9 L783.3 499.0 L786.7 500.2 L790.0 501.3 L793.3 502.5 L796.6 502.5 L800.0 502.5 L803.3 502.5 L806.7 502.5 L810.0 502.5 L813.3 502.5 L816.7 502.5 L820.0 502.5 L823.4 502.5 L826.7 502.5 L830.0 502.3 L833.3 502.2 L836.7 502.0 L840.0 501.9 L843.3 501.7 L846.6 501.7 L850.0 501.7 L853.4 501.7 L856.7 501.7 L859.5 503.4 L862.2 505.0 L865.0 506.7 L868.9 507.2 L872.8 507.8 L876.7 508.3 L880.0 508.7 L883.4 509.1 L886.7 509.6 L890.0 510.0 L893.3 510.7 L896.7 511.3 L900.0 512.0 L903.4 512.6 M960.0 522.5 L963.3 522.2 L966.7 522.0 L970.0 521.7 L973.9 520.9 L977.8 520.0 L981.7 519.2 L985.6 518.6 L989.4 518.1 L993.3 517.5 L996.6 517.8 L1000.0 518.2 L1003.3 518.5 L1006.7 518.9 L1010.0 519.2 L1013.3 519.4 L1016.7 519.5 L1020.0 519.7 L1023.4 519.8 L1026.7 520.0 L1030.0 519.8 L1033.3 519.7 L1036.7 519.5 L1040.0 519.4 L1043.3 519.2 L1046.6 519.0 L1050.0 518.8 L1053.3 518.7 L1056.7 518.5 L1060.0 518.3 L1063.3 518.3 L1066.7 518.3 L1070.0 518.3 L1073.4 518.3 L1076.7 518.3 L1080.0 518.3 L1083.3 518.3 L1086.7 518.3 L1090.0 518.3 L1093.3 518.0 L1096.7 517.7 L1100.0 517.3 L1103.4 517.0 L1106.7 516.7 L1110.0 516.7 L1113.3 516.7 L1116.7 516.7 L1120.0 516.7 L1123.3 516.7 L1126.6 516.9 L1130.0 517.0 L1133.3 517.2 L1136.7 517.3 L1140.0 517.5 L1143.3 517.7 L1146.7 517.8 L1150.0 518.0 L1153.4 518.1 L1156.7 518.3 L1160.0 517.8 L1163.3 517.3 L1166.7 516.8 L1170.0 516.3 L1173.3 515.8 L1176.6 515.3 L1180.0 514.8 L1183.3 514.3 L1186.7 513.8 L1190.0 513.3 L1193.3 513.0 L1196.7 512.7 L1200.0 512.3 L1203.4 512.0 L1206.7 511.7 L1210.0 511.5 L1213.3 511.3 L1216.7 511.2 L1220.0 511.0 L1223.3 510.8 L1226.6 510.3 L1230.0 509.8 L1233.3 509.3 L1236.7 508.8 L1240.0 508.3 L1243.3 507.1 L1246.7 506.0 L1250.0 504.8 L1253.4 503.7 L1256.7 502.5 L1260.0 501.2 L1263.3 499.8 L1266.7 498.5 L1270.0 497.1 L1273.3 495.8 L1276.1 494.6 L1278.9 493.3 L1281.7 492.1 L1284.4 490.8 L1287.2 489.6 L1290.0 488.3 L1292.8 486.9 L1295.6 485.5 L1298.3 484.1 L1301.1 482.8 L1303.9 481.4 L1306.7 480.0 L1310.0 478.7 L1313.3 477.3 L1316.7 476.0 L1320.0 474.6 L1323.3 473.3 L1326.6 472.3 L1330.0 471.3 L1333.3 470.3 L1336.7 469.3 L1340.0 468.3 L1343.3 467.6 L1346.7 467.0 L1350.0 466.3 L1353.4 465.7 L1356.7 465.0 L1360.0 463.7 L1363.3 462.3 L1366.7 461.0 L1370.0 459.6 L1373.3 458.3 L1376.1 456.9 L1378.9 455.5 L1381.7 454.1 L1384.4 452.8 L1387.2 451.4 L1390.0 450.0 L1393.3 448.2 L1396.7 446.3 L1400.0 444.5 L1403.2 442.6 L1406.3 440.7 L1409.4 438.8 L1412.6 436.9 L1415.8 435.0 L1418.9 433.1 L1422.1 431.2 L1425.3 429.3 L1427.8 427.2 L1430.3 425.1 L1432.8 423.0 L1435.0 420.8 L1437.2 418.6 L1439.5 416.4 L1441.7 414.2 L1444.6 412.1 L1447.6 410.0 L1450.5 407.9 L1453.7 406.0 L1456.8 404.1 L1459.9 402.2 L1463.1 400.3 L1466.5 398.6 L1469.8 397.0 L1473.2 395.3 L1475.8 392.8 L1478.3 390.2 L1481.7 388.1 L1485.0 386.0 L1488.4 383.9 L1491.6 382.8 L1494.7 381.7 L1497.8 380.6 L1501.0 379.5 L1503.5 377.6 L1506.1 375.7 L1508.6 373.8 L1509.3 370.2 L1510.0 366.7 L1513.3 365.0 L1516.7 363.4 L1520.0 361.7 L1523.3 360.0 L1526.1 358.6 L1528.9 357.2 L1531.7 355.9 L1534.4 354.5 L1537.2 353.1 L1540.0 351.7 L1543.3 350.4 L1546.7 349.2 L1550.0 347.9 L1553.3 346.7 L1556.2 345.4 L1559.2 344.2 L1562.1 342.9 L1565.0 341.7 L1567.3 339.7 L1569.7 337.7 L1572.0 335.7 L1574.4 333.7 L1576.7 331.7 L1579.4 330.0 L1582.0 328.3 L1584.7 326.7 L1587.3 325.0 L1590.0 323.3 L1592.7 321.6 L1595.3 320.0 L1598.0 318.3 L1600.6 316.7 L1603.3 315.0 L1605.8 312.9 L1608.3 310.9 L1610.8 308.8 L1613.3 306.7 L1615.8 305.0 L1618.3 303.4 L1620.8 301.7 L1623.3 300.0 L1626.1 298.3 L1629.0 296.7 L1631.8 295.0 L1634.7 293.4 L1637.5 291.7 L1640.0 290.0"/>
<path class="n" d="M100.0 231.7 L103.3 230.8 L106.7 230.2 L110.0 229.6 L113.3 228.9 L116.7 228.3 L120.0 228.3 L123.3 228.3 L126.7 228.3 L130.0 228.3 L132.9 229.6 L135.8 230.8 L138.8 232.1 L141.7 233.3 L145.0 233.9 L148.3 234.6 L151.7 235.2 L155.0 235.8 L158.3 236.3 L161.7 236.8 L165.0 237.3 L168.4 237.8 L171.7 238.3 L174.7 239.3 L177.7 240.3 L180.7 241.3 L183.7 242.3 L186.7 243.3 L189.6 245.0 L192.5 246.7 L195.4 248.3 L198.3 250.0 L200.8 253.3 L203.3 256.7 L205.5 258.9 L207.8 261.1 L210.0 263.3 L213.3 264.6 L216.7 265.8 L220.0 267.1 L223.3 268.3 L226.6 270.0 L230.0 271.6 L233.3 273.3 L235.8 275.4 L238.3 277.5 L240.8 279.6 L243.3 281.7 L244.6 284.6 L245.8 287.5 L247.1 290.4 L248.3 293.3 L249.2 296.2 L250.0 299.1 L250.8 302.1 L251.7 305.0 L253.9 308.3 L256.1 311.7 L258.3 315.0 L260.4 317.5 L262.5 320.0 L264.6 322.5 L266.7 325.0 L269.2 327.1 L271.7 329.1 L274.2 331.2 L276.7 333.3 L278.7 335.6 L280.7 338.0 L282.7 340.3 L284.7 342.7 L286.7 345.0 L289.2 346.7 L291.7 348.4 L294.2 350.0 L296.7 351.7 L297.0 355.6 L297.2 359.4 L297.5 363.3 L297.1 366.6 L296.7 370.0 L298.1 372.7 L299.4 375.5 L300.8 378.2 L302.2 380.9 L303.5 383.6 L304.9 386.4 L306.2 389.1 L307.6 391.8 L309.0 394.5 L310.3 397.3 L311.7 400.0 L314.0 402.3 L316.3 404.7 L318.7 407.0 L321.0 409.4 L323.3 411.7 L325.8 413.4 L328.3 415.0 L330.8 416.7 L333.3 418.4 L335.8 420.0 L338.3 421.7 L341.4 422.8 L344.4 423.9 L347.5 425.0 L350.6 426.1 L353.6 427.2 L356.7 428.3 L360.0 427.8 L363.4 427.2 L366.7 426.7 L369.2 424.4 L371.7 422.1 L374.2 419.8 L376.7 417.5 L380.0 419.4 L383.4 421.4 L386.7 423.3 L388.6 425.8 L390.6 428.3 L392.5 430.8 L394.4 433.3 L396.4 435.8 L398.3 438.3 L399.1 441.6 L400.0 444.9 L403.0 445.7 L406.0 446.4 L409.0 447.2 L412.0 447.9 L415.0 448.7 L418.0 449.5 L421.0 450.2 L424.0 451.0 L427.0 451.7 L430.0 452.5 L433.3 452.7 L436.7 452.8 L440.0 453.0 L443.4 453.1 L446.7 453.3 L449.7 454.0 L452.7 454.7 L455.7 455.3 L458.7 456.0 L461.7 456.7 L464.6 458.8 L467.5 460.9 L470.4 462.9 L473.3 465.0 L475.0 467.9 L476.6 470.9 L478.3 473.8 L480.0 476.7 L482.5 479.2 L485.0 481.7 L487.5 484.2 L490.0 486.7 L493.0 488.0 L496.0 489.3 L499.0 490.7 L502.0 492.0 L505.0 493.3 L508.0 494.6 L511.0 496.0 L514.0 497.3 L517.0 498.7 L520.0 500.0 L522.5 502.5 L525.0 505.0 L527.5 507.5 L530.0 510.0 L532.7 512.0 L535.3 514.0 L538.0 516.0 L540.6 518.0 L543.3 520.0 L546.3 521.3 L549.3 522.7 L552.3 524.0 L555.3 525.4 L558.3 526.7 L561.0 528.4 L563.7 530.0 L566.3 531.7 L569.0 533.3 L571.7 535.0 L574.7 536.7 L577.7 538.3 L580.7 540.0 L583.7 541.6 L586.7 543.3 L589.4 545.0 L592.0 546.7 L594.7 548.3 L597.3 550.0 L600.0 551.7 L603.3 553.0 L606.6 554.2 L610.0 555.5 L613.3 556.7 L616.6 557.2 L620.0 557.7 L623.3 558.2 L626.7 558.7 L630.0 559.2 L633.3 559.4 L636.7 559.5 L640.0 559.7 L643.4 559.8 L646.7 560.0 L650.0 560.2 L653.3 560.3 L656.7 560.5 L660.0 560.6 L663.3 560.8 L666.6 560.6 L670.0 560.4 L673.4 560.2 L676.7 560.0 L680.0 558.8 L683.4 557.5 L686.7 556.2 L690.0 555.0 L693.3 553.3 L696.7 551.7 L700.0 550.0 L702.5 547.9 L705.0 545.9 L707.5 543.8 L710.0 541.7 L711.7 539.2 L713.4 536.7 L715.0 534.2 L716.7 531.7 L720.0 530.5 L723.4 529.2 L726.7 528.0 L730.0 526.7 L733.3 526.7 L736.7 526.7 L740.0 526.7 L743.4 526.7 L746.7 526.7 L750.0 526.5 L753.4 526.2 L756.7 526.0 L760.0 525.8 L763.3 525.6 L766.7 525.5 L770.0 525.3 L773.4 525.2 L776.7 525.0 L779.5 526.7 L782.2 528.3 L785.0 530.0 L787.8 531.4 L790.5 532.8 L793.3 534.2 L796.6 533.7 L800.0 533.2 L803.3 532.7 L806.7 532.2 L810.0 531.7 L813.3 531.9 L816.7 532.0 L820.0 532.2 L823.4 532.3 L826.7 532.5 L830.0 532.2 L833.3 531.8 L836.7 531.5 L840.0 531.1 L843.3 530.8 L846.6 531.0 L850.0 531.2 L853.4 531.5 L856.7 531.7 L858.9 533.9 L861.1 536.1 L863.3 538.3 L865.8 540.8 L868.3 543.3 L871.1 540.5 L873.9 537.8 L876.7 535.0 L879.5 533.3 L882.2 531.7 L885.0 530.0 L888.9 530.8 L892.8 531.7 L896.7 532.5 L900.0 534.4 L903.4 536.4 L906.7 538.3 L909.5 539.7 L912.2 541.1 L915.0 542.5 L918.9 542.8 L922.8 543.0 L926.7 543.3 L930.0 543.1 L933.3 543.0 L936.7 542.8 L940.0 542.7 L943.3 542.5 L946.6 542.0 L950.0 541.5 L953.3 541.0 L956.7 540.5 L960.0 540.0 L963.3 539.2 L966.7 538.3 L970.0 537.5 L973.9 536.9 L977.8 536.4 L981.7 535.8 L985.6 536.1 L989.4 536.4 L993.3 536.7 L996.6 537.0 L1000.0 537.3 L1003.3 537.7 L1006.7 538.0 L1010.0 538.3 L1013.3 538.7 L1016.6 539.1 L1020.0 539.6 L1023.3 540.0 L1026.6 538.6 L1030.0 537.2 L1033.3 535.8 L1036.6 535.3 L1040.0 534.7 L1043.3 534.2 L1046.6 534.2 L1050.0 534.2 L1053.3 534.2 L1056.7 534.2 L1060.0 534.2 L1063.9 534.2 L1067.8 534.2 L1071.7 534.2 L1074.5 535.9 L1077.2 537.5 L1080.0 539.2 L1083.3 539.5 L1086.7 539.7 L1090.0 540.0 L1093.3 539.3 L1096.7 538.7 L1100.0 538.0 L1103.4 537.4 L1106.7 536.7 L1110.0 537.1 L1113.3 537.5 L1116.7 537.9 L1120.0 538.3 L1123.3 537.5 L1126.7 536.6 L1130.0 535.8 L1133.3 535.0 L1136.6 534.5 L1140.0 534.0 L1143.3 533.5 L1146.7 533.0 L1150.0 532.5 L1153.3 532.3 L1156.7 532.2 L1160.0 532.0 L1163.4 531.9 L1166.7 531.7 L1170.0 531.4 L1173.3 531.0 L1176.7 530.7 L1180.0 530.3 L1183.3 530.0 L1186.6 529.7 L1190.0 529.3 L1193.3 529.0 L1196.7 528.6 L1200.0 528.3 L1203.3 528.1 L1206.7 528.0 L1210.0 527.8 L1213.4 527.7 L1216.7 527.5 L1220.0 527.0 L1223.3 526.5 L1226.7 526.0 L1230.0 525.5 L1233.3 525.0 L1236.0 523.3 L1238.7 521.7 L1241.3 520.0 L1244.0 518.4 L1246.7 516.7 L1249.5 515.5 L1252.2 514.2 L1255.0 513.0 L1257.8 511.7 L1260.5 510.4 L1263.3 509.2 L1266.6 508.2 L1270.0 507.2 L1273.3 506.2 L1276.7 505.2 L1280.0 504.2 L1283.3 502.9 L1286.7 501.5 L1290.0 500.2 L1293.4 498.8 L1296.7 497.5 L1300.0 496.2 L1303.3 494.8 L1306.7 493.5 L1310.0 492.1 L1313.3 490.8 L1316.6 489.5 L1320.0 488.2 L1323.3 486.8 L1326.7 485.5 L1330.0 484.2 L1332.8 482.9 L1335.6 481.7 L1338.3 480.4 L1341.1 479.2 L1343.9 477.9 L1346.7 476.7 L1350.0 475.7 L1353.3 474.7 L1356.7 473.7 L1360.0 472.7 L1363.3 471.7 L1366.6 470.5 L1370.0 469.3 L1373.3 468.2 L1376.7 467.0 L1380.0 465.8 L1382.8 464.4 L1385.6 463.0 L1388.3 461.6 L1391.1 460.3 L1393.9 458.9 L1396.7 457.5 L1398.3 461.1 L1400.0 464.7 L1403.2 462.8 L1406.3 460.9 L1409.4 459.0 L1412.6 457.1 L1415.8 455.2 L1418.9 453.3 L1422.1 451.4 L1425.3 449.5 L1428.5 447.6 L1431.6 445.8 L1434.8 443.9 L1437.9 442.0 L1440.8 440.7 L1443.8 439.5 L1446.7 438.2 L1449.2 436.3 L1451.8 434.4 L1454.3 432.5 L1456.8 430.6 L1460.0 428.7 L1463.1 426.8 L1466.2 424.9 L1469.4 423.0 L1472.4 420.5 L1475.3 418.0 L1478.3 415.5 L1481.7 413.4 L1485.0 411.2 L1488.4 409.1 L1491.6 407.9 L1494.7 406.6 L1497.8 405.4 L1501.0 404.1 L1504.4 402.0 L1507.7 399.9 L1511.1 397.8 L1513.6 395.9 L1516.2 394.0 L1518.7 392.1 L1521.2 390.2 M1572.8 365.3 L1575.6 363.9 L1578.3 362.5 L1581.1 361.1 L1583.9 359.7 L1586.7 358.3 L1589.4 356.6 L1592.0 355.0 L1594.7 353.3 L1597.3 351.7 L1600.0 350.0 L1603.3 348.3 L1606.7 346.6 L1610.0 345.0 L1613.3 343.3 L1616.7 341.6 L1620.0 340.0 L1623.3 338.4 L1626.7 336.7 L1629.4 334.6 L1632.1 332.5 L1634.8 330.4 L1637.5 328.3 L1640.0 326.7"/>
<path class="n" d="M100.0 242.5 L103.3 243.3 L106.4 243.8 L109.5 244.3 L112.6 244.8 L115.7 245.2 L118.8 245.7 L121.9 246.2 L125.0 246.7 L128.3 247.4 L131.7 248.1 L135.0 248.8 L138.3 249.6 L141.6 250.3 L145.0 251.0 L148.3 251.7 L150.8 253.6 L153.3 255.4 L155.8 257.3 L158.3 259.2 L161.4 260.1 L164.5 261.1 L167.6 262.0 L170.7 263.0 L173.8 263.9 L176.9 264.9 L180.0 265.8 L183.0 267.6 L186.0 269.5 L189.0 271.3 L192.0 273.2 L195.0 275.0 L197.5 276.9 L200.0 278.9 L202.5 280.9 L205.0 282.8 L207.5 284.8 L210.0 286.7 L211.7 289.2 L213.3 291.7 L215.0 294.2 L216.7 296.7 L219.0 299.4 L221.3 302.0 L223.7 304.7 L226.0 307.3 L228.3 310.0 L230.2 312.4 L232.1 314.8 L234.0 317.2 L236.0 319.5 L237.9 321.9 L239.8 324.3 L241.7 326.7 L243.4 329.6 L245.0 332.4 L246.7 335.3 L248.3 338.1 L250.0 341.0 L251.6 343.8 L253.3 346.7 L254.1 349.6 L255.0 352.5 L255.8 355.4 L256.6 358.4 L257.5 361.3 L258.3 364.2 L259.2 367.1 L260.0 370.0 L261.5 372.7 L263.0 375.5 L264.6 378.2 L266.1 380.9 L267.6 383.6 L269.1 386.4 L270.6 389.1 L272.1 391.8 L273.7 394.5 L275.2 397.3 L276.7 400.0 L277.9 402.9 L279.2 405.9 L280.4 408.8 L281.7 411.7 L284.0 413.7 L286.3 415.7 L288.7 417.7 L291.0 419.7 L293.3 421.7 L296.1 423.4 L298.9 425.0 L301.6 426.7 L304.4 428.4 L307.2 430.0 L310.0 431.7 L313.0 433.5 L316.0 435.3 L319.0 437.2 L322.0 439.0 L325.0 440.8 L327.8 442.1 L330.6 443.3 L333.4 444.6 L336.1 445.8 L338.9 447.1 L341.7 448.3 L344.7 448.0 L347.7 447.7 L350.7 447.3 L353.7 447.0 L356.7 446.7 L360.0 445.0 L363.3 443.3 L364.4 446.6 L365.6 450.0 L366.7 453.3 L368.9 456.6 L371.1 460.0 L373.3 463.3 L375.8 465.8 L378.3 468.3 L380.8 470.8 L383.3 473.3 L385.8 475.8 L388.3 478.3 L390.8 480.8 L393.3 483.3 L396.3 484.6 L399.3 486.0 L402.3 487.3 L405.3 488.7 L408.3 490.0 L412.2 489.4 L416.1 488.9 L420.0 488.3 L423.3 487.8 L426.7 487.2 L430.0 486.7 L430.0 488.3 L431.7 491.0 L433.3 493.7 L435.0 496.3 L436.6 499.0 L438.3 501.7 L440.6 503.7 L443.0 505.7 L445.3 507.7 L447.7 509.7 L450.0 511.7 L452.7 513.7 L455.3 515.7 L458.0 517.7 L460.6 519.7 L463.3 521.7 L466.1 523.1 L468.9 524.5 L471.6 525.9 L474.4 527.2 L477.2 528.6 L480.0 530.0 L483.3 531.3 L486.7 532.7 L490.0 534.0 L493.4 535.4 L496.7 536.7 L500.0 537.7 L503.3 538.7 L506.7 539.7 L510.0 540.7 L513.3 541.7 L516.6 541.9 L520.0 542.0 L523.3 542.2 L526.7 542.3 L530.0 542.5 L532.5 544.4 L535.0 546.2 L537.5 548.1 L540.0 550.0 L542.2 552.8 L544.5 555.5 L546.7 558.3 L549.0 560.3 L551.3 562.3 L553.7 564.3 L556.0 566.3 L558.3 568.3 L561.6 570.0 L565.0 571.6 L568.4 573.3 L571.7 575.0 L575.0 576.3 L578.3 577.7 L581.7 579.0 L585.0 580.4 L588.3 581.7 L591.3 582.4 L594.3 583.0 L597.3 583.7 L600.3 584.3 L603.3 585.0 L606.4 585.3 L609.4 585.6 L612.5 585.9 L615.6 586.1 L618.6 586.4 L621.7 586.7 L625.0 587.0 L628.4 587.2 L631.7 587.5 L635.0 587.8 L638.4 588.0 L641.7 588.3 L644.8 588.9 L647.8 589.4 L650.9 590.0 L653.9 590.6 L657.0 591.1 L660.0 591.7 L663.3 592.0 L666.7 592.3 L670.0 592.7 L673.4 593.0 L676.7 593.3 L679.7 593.1 L682.7 593.0 L685.7 592.8 L688.7 592.7 L691.7 592.5 L695.0 591.5 L698.4 590.4 L701.7 589.3 L705.0 588.3 L707.3 586.3 L709.7 584.3 L712.0 582.3 L714.4 580.3 L716.7 578.3 L719.0 576.3 L721.3 574.3 L723.7 572.3 L726.0 570.3 L728.3 568.3 L731.0 566.6 L733.7 565.0 L736.3 563.3 L739.0 561.7 L741.7 560.0 L744.8 559.6 L747.8 559.2 L750.9 558.8 L753.9 558.3 L757.0 557.9 L760.0 557.5 L763.3 557.5 L766.7 557.5 L770.0 557.5 L773.4 557.5 L776.7 557.5 L779.5 559.4 L782.2 561.4 L785.0 563.3 L787.8 565.0 L790.5 566.6 L793.3 568.3 L796.6 568.7 L800.0 569.1 L803.4 569.6 L806.7 570.0 L810.0 569.8 L813.3 569.7 L816.7 569.5 L820.0 569.4 L823.3 569.2 L826.6 568.7 L830.0 568.2 L833.3 567.7 L836.7 567.2 L840.0 566.7 L843.3 566.3 L846.6 565.9 L850.0 565.4 L853.3 565.0 L856.6 566.2 L860.0 567.5 L863.4 570.0 L866.7 572.5 L870.0 572.9 L873.4 573.4 L876.7 573.8 L880.0 574.2 L883.3 574.2 L886.7 574.2 L890.0 574.2 L893.4 574.2 L896.7 574.2 L900.0 574.2 L903.3 574.2 L906.7 574.2 L910.0 574.2 L913.3 574.2 L916.6 574.4 L920.0 574.5 L923.3 574.7 L926.7 574.8 L930.0 575.0 L933.0 575.2 L936.0 575.3 L939.0 575.5 L942.0 575.6 L945.0 575.8 L948.0 575.1 L951.0 574.5 L954.0 573.8 L957.0 573.2 L960.0 572.5 L963.3 572.0 L966.7 571.5 L970.0 571.0 L973.4 570.5 L976.7 570.0 L980.0 569.0 L983.4 567.9 L986.7 566.8 L990.0 565.8 L993.3 565.0 L996.7 564.2 L1000.0 563.3 L1003.4 562.5 L1006.7 561.7 L1010.0 560.9 L1013.3 560.0 L1016.7 559.2 L1020.0 558.3 L1023.3 557.5 L1026.6 557.8 L1030.0 558.2 L1033.3 558.5 L1036.7 558.9 L1040.0 559.2 L1043.3 559.2 L1046.7 559.2 L1050.0 559.2 L1053.4 559.2 L1056.7 559.2 L1060.0 559.5 L1063.3 559.8 L1066.7 560.2 L1070.0 560.5 L1073.3 560.8 L1076.6 561.5 L1080.0 562.2 L1083.3 562.8 L1086.7 563.5 L1090.0 564.2 L1093.3 565.6 L1096.7 566.9 L1100.0 568.3 L1103.9 567.8 L1107.8 567.2 L1111.7 566.7 L1114.6 565.2 L1117.5 563.8 L1120.4 562.3 L1123.3 560.8 L1126.1 559.5 L1128.9 558.3 L1131.7 557.0 L1134.4 555.8 L1137.2 554.5 L1140.0 553.3 L1143.3 552.3 L1146.7 551.3 L1150.0 550.3 L1153.4 549.3 L1156.7 548.3 L1160.0 548.0 L1163.3 547.7 L1166.7 547.3 L1170.0 547.0 L1173.3 546.7 L1176.6 546.4 L1180.0 546.0 L1183.3 545.7 L1186.7 545.3 L1190.0 545.0 L1193.3 544.8 L1196.7 544.7 L1200.0 544.5 L1203.4 544.4 L1206.7 544.2 L1210.0 543.6 L1213.3 543.0 L1216.7 542.3 L1220.0 541.7 L1222.7 540.0 L1225.3 538.3 L1228.0 536.7 L1230.6 535.0 L1233.3 533.3 L1236.1 531.9 L1238.9 530.5 L1241.7 529.1 L1244.4 527.8 L1247.2 526.4 L1250.0 525.0 L1253.3 524.0 L1256.7 523.0 L1260.0 522.0 L1263.4 521.0 L1266.7 520.0 L1270.0 518.8 L1273.3 517.7 L1276.7 516.5 L1280.0 515.4 L1283.3 514.2 L1286.6 513.0 L1290.0 511.8 L1293.3 510.7 L1296.7 509.5 L1300.0 508.3 L1303.3 507.3 L1306.7 506.3 L1310.0 505.3 L1313.4 504.3 L1316.7 503.3 L1320.0 502.0 L1323.3 500.7 L1326.7 499.3 L1330.0 498.0 L1333.3 496.7 M1384.2 478.7 L1387.1 477.7 L1390.0 476.7 L1393.3 476.4 L1396.7 476.1 L1400.0 475.8 L1403.2 474.1 L1406.3 472.3 L1409.4 470.6 L1412.6 468.8 L1415.8 467.2 L1418.9 465.6 L1422.1 464.1 L1425.3 462.5 L1428.5 462.0 L1431.6 461.5 L1434.8 461.0 L1437.9 460.4 L1441.0 459.9 L1444.2 459.4 L1447.3 458.9 L1450.5 458.4 L1453.9 456.7 L1457.2 455.0 L1460.6 453.3 L1463.1 451.4 L1465.7 449.6 L1468.2 447.7 L1470.7 445.8 L1473.2 443.9 L1475.8 442.0 L1478.3 440.1 L1480.8 438.2 L1484.2 436.1 L1487.5 434.0 L1490.9 431.9 L1494.3 429.8 L1497.6 427.7 L1501.0 425.6 L1504.2 424.3 L1507.3 423.1 L1510.4 421.8 L1513.6 420.5 L1516.8 419.2 L1519.9 418.0 L1523.1 416.8 L1526.3 415.5 L1529.5 413.9 L1532.6 412.3 L1535.8 410.7 L1538.9 409.1 L1542.1 407.2 L1545.2 405.4 L1548.3 403.5 L1551.5 401.6 L1554.7 399.7 L1557.8 397.8 L1560.9 395.9 L1564.1 394.0 L1567.3 392.1 L1570.4 390.2 L1573.6 388.3 L1576.8 386.4 L1580.0 384.8 L1583.1 383.2 L1586.2 381.7 L1589.4 380.1 L1592.6 378.9 L1595.7 377.6 L1598.8 376.4 L1602.0 375.1 L1603.3 375.0 L1606.1 373.3 L1608.9 371.7 L1611.7 370.0 L1614.4 368.3 L1617.2 366.7 L1620.0 365.0 L1622.9 363.3 L1625.8 361.7 L1628.8 360.0 L1631.7 358.3 L1634.6 356.7 L1637.5 355.0 L1640.0 353.3"/>
<path class="n" d="M100.0 264.2 L103.3 265.0 L106.0 266.5 L108.7 267.9 L111.4 269.4 L114.2 270.9 L116.9 272.3 L119.6 273.8 L122.3 275.2 L125.0 276.7 L127.8 278.6 L130.5 280.6 L133.3 282.5 L136.4 282.4 L139.6 282.3 L142.7 282.2 L145.8 282.1 L148.9 282.0 L152.1 281.9 L155.2 281.8 L158.3 281.7 L161.4 281.9 L164.5 282.2 L167.6 282.4 L170.7 282.6 L173.8 282.8 L176.9 283.1 L180.0 283.3 L182.5 285.4 L185.0 287.5 L187.5 289.6 L190.0 291.7 L191.2 295.0 L192.5 298.4 L193.8 301.7 L195.0 305.0 L196.7 308.3 L198.3 311.6 L200.0 315.0 L201.7 318.3 L203.8 320.7 L206.0 323.1 L208.1 325.5 L210.3 327.8 L212.4 330.2 L214.6 332.6 L216.7 335.0 L217.6 337.9 L218.6 340.7 L219.5 343.6 L220.5 346.4 L221.4 349.3 L222.4 352.1 L223.3 355.0 L224.3 358.0 L225.3 361.0 L226.3 364.0 L227.3 367.0 L228.3 370.0 L230.0 372.7 L231.6 375.5 L233.3 378.2 L235.0 380.9 L236.7 383.6 L238.3 386.4 L240.0 389.1 L241.7 391.8 L243.4 394.5 L245.0 397.3 L246.7 400.0 L248.8 402.5 L250.8 405.0 L252.9 407.5 L255.0 410.0 L255.8 412.9 L256.6 415.9 L257.5 418.8 L258.3 421.7 L259.6 424.6 L260.8 427.5 L262.1 430.4 L263.3 433.3 L265.4 435.8 L267.5 438.3 L269.6 440.8 L271.7 443.3 L274.6 445.0 L277.5 446.6 L280.4 448.3 L283.3 450.0 L286.6 451.0 L290.0 452.0 L293.3 453.0 L296.7 454.0 L300.0 455.0 L303.3 456.1 L306.7 457.2 L310.0 458.3 L311.2 461.2 L312.5 464.1 L313.8 467.1 L315.0 470.0 L317.2 472.8 L319.5 475.5 L321.7 478.3 L324.7 479.6 L327.7 481.0 L330.7 482.3 L333.7 483.7 L336.7 485.0 L340.0 486.7 L343.4 488.4 L346.7 490.0 L350.0 491.7 L352.9 493.4 L355.9 495.0 L358.8 496.6 L361.7 498.3 L364.5 501.1 L367.2 503.9 L370.0 506.7 L373.3 508.3 L376.6 510.0 L380.0 511.6 L383.3 513.3 L386.6 514.6 L390.0 516.0 L393.3 517.3 L396.7 518.7 L400.0 520.0 L402.8 521.4 L405.6 522.8 L408.4 524.1 L411.1 525.5 L413.9 526.9 L416.7 528.3 L420.0 529.5 L423.4 530.8 L426.7 532.0 L430.0 533.3 L431.7 535.9 L433.3 538.6 L435.0 541.2 L436.7 543.8 L438.4 546.4 L440.0 549.1 L441.7 551.7 L445.0 553.0 L448.4 554.2 L451.7 555.5 L455.0 556.7 L458.3 558.0 L461.7 559.3 L465.0 560.7 L468.4 562.0 L471.7 563.3 L475.0 564.3 L478.3 565.3 L481.7 566.3 L485.0 567.3 L488.3 568.3 L491.6 569.0 L495.0 569.7 L498.3 570.3 L501.7 571.0 L505.0 571.7 L508.1 571.7 L511.1 571.7 L514.1 571.7 L517.2 571.7 L520.2 571.7 L523.3 571.7 L526.6 572.2 L530.0 572.8 L533.3 573.3 L535.0 575.8 L536.6 578.3 L538.3 580.8 L540.0 583.3 L542.5 585.4 L545.0 587.5 L547.5 589.6 L550.0 591.7 L553.3 593.4 L556.6 595.0 L560.0 596.6 L563.3 598.3 L566.2 600.4 L569.1 602.5 L572.1 604.6 L575.0 606.7 L578.3 608.4 L581.6 610.0 L585.0 611.6 L588.3 613.3 L591.6 613.8 L595.0 614.3 L598.3 614.8 L601.7 615.3 L605.0 615.8 L608.3 616.0 L611.7 616.2 L615.0 616.3 L618.4 616.5 L621.7 616.7 L625.0 617.4 L628.3 618.0 L631.7 618.7 L635.0 619.3 L638.3 620.0 L641.6 620.8 L645.0 621.7 L648.3 622.5 L651.7 623.4 L655.0 624.2 L658.0 624.7 L661.0 625.2 L664.0 625.7 L667.0 626.2 L670.0 626.7 L673.3 625.9 L676.6 625.0 L680.0 624.1 L683.3 623.3 L686.6 621.6 L690.0 620.0 L693.4 618.4 L696.7 616.7 L699.4 615.0 L702.0 613.3 L704.7 611.7 L707.3 610.0 L710.0 608.3 L712.0 606.0 L714.0 603.7 L716.0 601.3 L718.0 599.0 L720.0 596.7 L722.5 595.0 L725.0 593.4 L727.5 591.7 L730.0 590.0 L733.3 589.6 L736.6 589.1 L740.0 588.7 L743.3 588.3 L746.6 587.3 L750.0 586.3 L753.3 585.3 L756.7 584.3 L760.0 583.3 L763.3 583.0 L766.7 582.7 L770.0 582.3 L773.4 582.0 L776.7 581.7 L779.5 583.4 L782.2 585.0 L785.0 586.7 L787.8 588.9 L790.5 591.1 L793.3 593.3 L796.6 595.0 L800.0 596.6 L803.3 598.3 L806.6 599.1 L810.0 600.0 L813.4 600.9 L816.7 601.7 L820.0 601.9 L823.3 602.0 L826.7 602.2 L830.0 602.3 L833.3 602.5 L836.6 602.2 L840.0 601.8 L843.3 601.5 L846.7 601.1 L850.0 600.8 L853.3 600.6 L856.7 600.5 L860.0 600.3 L863.4 600.2 L866.7 600.0 L870.0 599.9 L873.4 599.7 L876.7 599.6 L880.0 599.5 L883.4 599.3 L886.7 599.2 L890.0 599.1 L893.4 598.9 L896.7 598.8 L900.0 598.6 L903.4 598.4 M960.0 599.2 L963.3 598.0 L966.6 596.7 L970.0 595.5 L973.3 594.2 L976.6 593.7 L980.0 593.2 L983.3 592.7 L986.7 592.2 L990.0 591.7 L993.3 591.1 L996.7 590.6 L1000.0 590.0 L1003.3 589.4 L1006.7 588.9 L1010.0 588.3 L1013.3 587.8 L1016.7 587.3 L1020.0 586.8 L1023.4 586.3 L1026.7 585.8 L1030.0 585.3 L1033.3 584.8 L1036.7 584.3 L1040.0 583.8 L1043.3 583.3 L1046.7 582.9 L1050.0 582.5 L1053.3 582.1 L1056.7 581.7 L1060.6 580.9 L1064.4 580.0 L1068.3 579.2 L1072.2 579.5 L1076.1 579.7 L1080.0 580.0 L1083.3 580.3 L1086.7 580.5 L1090.0 580.8 L1093.3 580.0 L1096.7 579.2 L1100.0 578.3 L1103.4 577.5 L1106.7 576.7 L1110.0 575.7 L1113.3 574.7 L1116.7 573.7 L1120.0 572.7 L1123.3 571.7 L1126.6 571.0 L1130.0 570.3 L1133.3 569.7 L1136.7 569.0 L1140.0 568.3 L1143.3 568.0 L1146.7 567.7 L1150.0 567.3 L1153.4 567.0 L1156.7 566.7 L1160.0 566.5 L1163.3 566.3 L1166.7 566.2 L1170.0 566.0 L1173.3 565.8 L1176.6 565.3 L1180.0 564.7 L1183.3 564.2 L1186.7 562.7 L1190.0 561.2 L1193.3 559.8 L1196.7 558.3 L1200.0 557.0 L1203.3 555.7 L1206.7 554.3 L1210.0 553.0 L1213.3 551.7 L1216.1 550.3 L1218.9 548.9 L1221.7 547.5 L1224.4 546.1 L1227.2 544.7 L1230.0 543.3 L1232.8 541.9 L1235.6 540.5 L1238.3 539.1 L1241.1 537.8 L1243.9 536.4 L1246.7 535.0 L1250.0 533.8 L1253.3 532.7 L1256.7 531.5 L1260.0 530.4 L1263.3 529.2 L1266.6 528.4 L1270.0 527.5 L1273.3 526.7 L1276.7 525.8 L1280.0 525.0 L1283.3 524.0 L1286.7 523.0 L1290.0 522.0 L1293.4 521.0 L1296.7 520.0 L1300.0 518.7 L1303.3 517.3 L1306.7 516.0 L1310.0 514.6 L1313.3 513.3 L1316.6 512.0 L1320.0 510.7 L1323.3 509.3 L1326.7 508.0 L1330.0 506.7 L1333.3 505.7 L1336.7 504.7 L1340.0 503.7 L1343.4 502.7 L1346.7 501.7 L1350.0 500.7 L1353.3 499.7 L1356.7 498.7 L1360.0 497.7 L1363.3 496.7 L1366.6 495.4 L1370.0 494.0 L1373.3 492.7 L1376.7 491.3 L1380.0 490.0 L1383.3 488.7 L1386.7 487.3 L1390.0 486.0 L1393.4 484.6 L1396.7 483.3 L1398.3 486.8 L1400.0 490.3 L1403.2 488.7 L1406.3 487.1 L1409.4 485.6 L1412.6 484.0 L1415.8 482.6 L1418.9 481.1 L1422.1 479.7 L1425.3 478.3 L1428.5 476.9 L1431.6 475.5 L1434.8 474.0 L1437.9 472.6 L1441.1 471.9 L1444.2 471.1 L1447.3 470.4 L1450.5 469.7 L1453.7 468.8 L1456.8 467.9 L1459.9 466.9 L1463.1 466.0 L1466.3 464.1 L1469.4 462.2 L1472.6 460.3 L1475.8 458.4 L1479.0 456.5 L1482.1 454.6 L1485.2 452.7 L1488.4 450.8 L1491.6 448.9 L1494.7 447.0 L1497.8 445.1 L1501.0 443.2 L1504.2 441.3 L1507.3 439.4 L1510.4 437.6 L1513.6 435.7 L1516.8 434.1 L1519.9 432.5 L1523.1 430.9 L1526.3 429.3 L1529.5 427.7 L1532.6 426.1 L1535.8 424.6 L1538.9 423.0 L1542.1 421.4 L1545.2 419.9 L1548.3 418.3 L1551.5 416.7 L1554.7 415.1 L1557.8 413.5 L1560.9 412.0 L1564.1 410.4 L1567.3 409.1 L1570.4 407.9 L1573.6 406.6 L1576.8 405.4 L1580.0 403.5 L1583.1 401.6 L1586.2 399.7 L1589.4 397.8 L1592.6 396.2 L1595.7 394.6 L1598.8 393.1 L1602.0 391.5 L1605.2 389.9 L1608.3 388.4 L1611.4 386.8 L1614.6 385.2 L1617.8 383.9 L1620.9 382.6 L1624.1 381.4 L1627.3 380.1 L1630.9 378.8 L1634.4 377.6 L1638.0 376.3 L1642.4 374.4"/>
<path class="n" d="M100.0 300.3 L103.3 300.8 L106.3 301.1 L109.3 301.3 L112.3 301.6 L115.3 301.8 L118.3 302.1 L121.3 302.3 L124.3 302.6 L127.3 302.8 L130.3 303.1 L133.3 303.3 L136.7 301.6 L140.0 300.0 L143.3 298.4 L146.7 296.7 L150.0 297.2 L153.4 297.8 L156.7 298.4 L160.0 298.9 L163.4 299.4 L166.7 300.0 L168.9 302.2 L171.1 304.5 L173.3 306.7 L173.3 309.7 L173.3 312.7 L173.3 315.7 L173.3 318.7 L173.3 321.7 L176.0 324.0 L178.7 326.3 L181.3 328.7 L184.0 331.0 L186.7 333.3 L188.9 335.5 L191.1 337.8 L193.3 340.0 L195.6 342.2 L197.8 344.5 L200.0 346.7 L201.3 350.0 L202.7 353.3 L204.0 356.7 L205.4 360.0 L206.7 363.3 L207.5 366.6 L208.3 370.0 L209.3 373.0 L210.3 376.0 L211.3 379.0 L212.3 382.0 L213.3 385.0 L214.3 388.0 L215.3 391.0 L216.3 394.0 L217.3 397.0 L218.3 400.0 L219.6 402.9 L220.8 405.9 L222.1 408.8 L223.3 411.7 L224.6 415.0 L225.8 418.4 L227.1 421.7 L228.3 425.0 L229.2 428.3 L230.0 431.6 L230.8 435.0 L231.7 438.3 L233.4 441.6 L235.0 445.0 L236.7 448.3 L238.7 450.6 L240.7 453.0 L242.7 455.3 L244.7 457.7 L246.7 460.0 L250.0 461.7 L253.3 463.4 L256.7 465.0 L260.0 466.7 L263.0 468.4 L266.0 470.0 L269.0 471.7 L272.0 473.3 L275.0 475.0 L277.9 477.1 L280.9 479.1 L283.8 481.2 L286.7 483.3 L288.9 486.6 L291.1 490.0 L293.3 493.3 L295.0 495.8 L296.6 498.3 L298.3 500.8 L300.0 503.3 L303.3 505.0 L306.6 506.6 L310.0 508.3 L313.3 510.0 L316.6 511.7 L320.0 513.4 L323.4 515.0 L326.7 516.7 L328.9 519.5 L331.1 522.2 L333.3 525.0 L334.6 527.9 L335.8 530.9 L337.1 533.8 L338.3 536.7 L341.1 538.9 L343.9 541.1 L346.7 543.3 L350.0 545.0 L353.4 546.6 L356.7 548.3 L360.0 550.0 L363.3 551.7 L366.6 553.4 L370.0 555.0 L373.3 556.7 L376.6 558.4 L380.0 560.0 L383.4 561.6 L386.7 563.3 L390.0 564.5 L393.4 565.8 L396.7 567.0 L400.0 568.3 L403.3 568.8 L406.7 569.3 L410.0 569.8 L413.4 570.3 L416.7 570.8 L420.0 571.0 L423.4 571.2 L426.7 571.5 L430.0 571.7 L433.3 573.4 L436.6 575.0 L440.0 576.6 L443.3 578.3 L446.6 579.3 L450.0 580.3 L453.3 581.3 L456.7 582.3 L460.0 583.3 L463.3 583.9 L466.7 584.4 L470.0 585.0 L473.3 585.6 L476.7 586.1 L480.0 586.7 L483.3 587.0 L486.7 587.3 L490.0 587.7 L493.4 588.0 L496.7 588.3 L500.0 589.0 L503.3 589.7 L506.7 590.3 L510.0 591.0 L513.3 591.7 L516.6 593.4 L520.0 595.0 L523.3 596.7 L525.4 599.2 L527.5 601.7 L529.6 604.2 L531.7 606.7 L533.8 609.2 L535.9 611.7 L537.9 614.2 L540.0 616.7 L542.5 618.8 L545.0 620.9 L547.5 622.9 L550.0 625.0 L552.5 627.1 L555.0 629.1 L557.5 631.2 L560.0 633.3 L563.9 634.1 L567.8 635.0 L571.7 635.8 L575.0 635.6 L578.3 635.5 L581.7 635.3 L585.0 635.2 L588.3 635.0 L591.6 635.3 L595.0 635.7 L598.3 636.0 L601.7 636.4 L605.0 636.7 L608.3 637.0 L611.7 637.3 L615.0 637.7 L618.4 638.0 L621.7 638.3 L625.0 638.6 L628.3 639.0 L631.7 639.3 L635.0 639.7 L638.3 640.0 L641.3 640.0 L644.4 640.0 L647.4 640.0 L650.5 640.0 L653.5 640.0 L656.5 640.0 L659.6 640.0 L662.6 640.0 L665.7 640.0 L668.7 640.0 L671.8 640.0 L674.8 640.0 L677.8 640.0 L680.9 640.0 L683.9 640.0 L687.0 640.0 L690.0 640.0 L692.7 638.3 L695.3 636.7 L698.0 635.0 L700.6 633.4 L703.3 631.7 L705.8 629.6 L708.3 627.5 L710.8 625.4 L713.3 623.3 L716.6 622.5 L720.0 621.6 L723.4 620.8 L726.7 620.0 L729.6 621.2 L732.5 622.5 L735.4 623.8 L738.3 625.0 L741.1 627.2 L743.9 629.5 L746.7 631.7 L750.0 631.7 L753.4 631.7 L756.7 631.7 L760.0 631.7 L763.3 631.1 L766.7 630.6 L770.0 630.0 L772.9 628.3 L775.9 626.6 L778.8 625.0 L781.7 623.3 L784.5 621.1 L787.2 618.9 L790.0 616.7 L793.4 619.2 L796.7 621.7 L798.9 623.9 L801.1 626.1 L803.3 628.3 L806.6 629.4 L810.0 630.6 L813.3 631.7 L816.6 631.7 L820.0 631.7 L823.4 631.7 L826.7 631.7 L830.0 630.9 L833.4 630.0 L836.7 629.1 L840.0 628.3 L843.3 627.5 L846.6 626.6 L850.0 625.8 L853.3 625.0 L856.6 624.6 L860.0 624.1 L863.4 623.7 L866.7 623.3 L870.0 623.1 L873.3 623.0 L876.7 622.8 L880.0 622.7 L883.3 622.5 L886.6 622.5 L890.0 622.5 L893.3 622.5 L896.7 622.5 L900.0 622.5 L903.3 622.5 L906.7 622.5 L910.0 622.5 L913.4 622.5 L916.7 622.5 L920.0 622.0 L923.3 621.5 L926.7 621.0 L930.0 620.5 L933.3 620.0 L936.6 619.8 L940.0 619.7 L943.3 619.5 L946.7 619.4 L950.0 619.2 L953.3 619.0 L956.7 618.8 L960.0 618.7 L963.4 618.5 L966.7 618.3 L970.0 618.0 L973.3 617.7 L976.7 617.3 L980.0 617.0 L983.3 616.7 L986.6 615.9 L990.0 615.0 L993.4 614.1 L996.7 613.3 L1000.0 612.3 L1003.4 611.2 L1006.7 610.2 L1010.0 609.2 L1013.3 608.5 L1016.7 607.8 L1020.0 607.2 L1023.4 606.5 L1026.7 605.8 L1030.0 605.5 L1033.3 605.2 L1036.7 604.8 L1040.0 604.5 L1043.3 604.2 L1046.7 604.0 L1050.0 603.8 L1053.3 603.5 L1056.7 603.3 L1059.5 601.1 L1062.2 598.9 L1065.0 596.7 L1068.3 595.5 L1071.7 594.2 L1075.0 595.0 L1078.4 595.9 L1081.7 596.7 L1085.8 597.5 L1090.0 598.3 L1093.3 597.2 L1096.7 596.1 L1100.0 595.0 L1103.0 594.6 M1160.0 586.7 L1163.3 585.5 L1166.7 584.3 L1170.0 583.2 L1173.4 582.0 L1176.7 580.8 L1179.5 579.5 L1182.2 578.3 L1185.0 577.0 L1187.8 575.8 L1190.5 574.5 L1193.3 573.3 L1196.1 571.9 L1198.9 570.5 L1201.7 569.1 L1204.4 567.8 L1207.2 566.4 L1210.0 565.0 L1213.3 563.7 L1216.7 562.3 L1220.0 561.0 L1223.4 559.6 L1226.7 558.3 L1229.5 556.9 L1232.2 555.5 L1235.0 554.1 L1237.8 552.8 L1240.5 551.4 L1243.3 550.0 L1246.6 548.7 L1250.0 547.3 L1253.3 546.0 L1256.7 544.6 L1260.0 543.3 L1263.3 542.3 L1266.7 541.3 L1270.0 540.3 L1273.4 539.3 L1276.7 538.3 L1280.0 537.0 L1283.3 535.7 L1286.7 534.3 L1290.0 533.0 L1293.3 531.7 L1296.6 530.5 L1300.0 529.3 L1303.3 528.2 L1306.7 527.0 L1310.0 525.8 L1313.3 524.6 L1316.7 523.5 L1320.0 522.3 L1323.4 521.2 L1326.7 520.0 L1330.0 518.7 L1333.3 517.3 L1336.7 516.0 L1340.0 514.6 L1343.3 513.3 L1346.6 512.3 L1350.0 511.3 L1353.3 510.3 L1356.7 509.3 L1360.0 508.3 L1363.3 507.0 L1366.7 505.7 L1370.0 504.3 L1373.4 503.0 L1376.7 501.7 L1380.0 500.5 L1383.3 499.3 L1386.7 498.2 L1390.0 497.0 L1393.3 495.8 L1396.7 498.4 L1400.0 501.0 L1403.2 499.4 L1406.3 497.9 L1409.4 496.3 L1412.6 494.7 L1415.8 493.0 L1418.9 491.2 L1422.1 489.5 L1425.3 487.8 L1428.5 486.2 L1431.6 484.6 L1434.8 483.1 L1437.9 481.5 L1441.1 480.2 L1444.2 478.9 L1447.3 477.7 L1450.5 476.4 L1453.7 475.9 L1456.8 475.4 L1460.0 474.9 L1463.2 474.4 L1466.3 473.8 L1469.5 473.3 L1472.6 472.8 L1475.8 472.3 L1479.0 470.4 L1482.1 468.5 L1485.2 466.6 L1488.4 464.7 L1491.6 462.8 L1494.7 460.9 L1497.8 459.0 L1501.0 457.1 L1503.2 454.9 L1505.4 452.7 L1507.6 450.5 L1509.8 448.3 L1512.8 446.6 L1515.7 444.9 L1518.7 443.2 L1521.8 441.9 L1525.0 440.7 L1528.2 439.4 L1531.3 438.2 L1534.5 436.9 L1537.6 435.6 L1540.8 434.4 L1543.9 433.1 L1547.1 431.9 L1550.2 430.6 L1553.4 429.4 L1556.6 428.1 L1559.8 426.8 L1562.9 425.6 L1566.0 424.3 L1569.2 423.0 L1572.3 421.1 L1575.5 419.2 L1578.7 417.4 L1581.8 415.5 L1585.0 414.2 L1588.1 412.9 L1591.2 411.7 L1594.4 410.4 L1597.6 409.1 L1600.8 407.9 L1603.9 406.6 L1607.1 405.4 L1610.2 404.8 L1613.4 404.1 L1616.5 403.4 L1619.7 402.8 L1623.1 402.4 L1626.4 402.0 L1629.8 401.6 L1633.9 401.2 L1638.0 400.9 L1642.4 400.7"/>
<path class="n" d="M100.0 313.3 L103.3 314.2 L106.4 315.3 L109.5 316.3 L112.6 317.4 L115.7 318.5 L118.8 319.6 L121.9 320.6 L125.0 321.7 L127.8 323.2 L130.6 324.7 L133.3 326.1 L136.1 327.6 L138.9 329.1 L141.7 330.6 L144.4 332.0 L147.2 333.5 L150.0 335.0 L152.8 336.7 L155.6 338.3 L158.3 340.0 L161.1 341.7 L163.9 343.3 L166.7 345.0 L168.9 347.5 L171.1 350.0 L173.3 352.5 L175.6 355.0 L177.8 357.5 L180.0 360.0 L181.7 363.3 L183.3 366.7 L185.0 370.0 L185.3 373.0 L185.7 376.0 L186.0 379.0 L186.3 382.0 L186.7 385.0 L187.0 388.0 L187.3 391.0 L187.6 394.0 L188.0 397.0 L188.3 400.0 L188.9 403.9 L189.4 407.8 L190.0 411.7 L190.6 415.0 L191.2 418.4 L191.9 421.7 L192.5 425.0 L193.1 428.3 L193.8 431.6 L194.4 435.0 L195.0 438.3 L197.1 440.8 L199.2 443.3 L201.2 445.8 L203.3 448.3 L205.8 450.8 L208.3 453.3 L210.8 455.8 L213.3 458.3 L215.4 460.8 L217.5 463.3 L219.6 465.8 L221.7 468.3 L224.0 470.3 L226.3 472.3 L228.7 474.3 L231.0 476.3 L233.3 478.3 L235.8 480.4 L238.3 482.5 L240.8 484.6 L243.3 486.7 L246.7 488.4 L250.0 490.0 L253.3 491.6 L256.7 493.3 L259.4 495.0 L262.0 496.7 L264.7 498.3 L267.3 500.0 L270.0 501.7 L272.7 503.4 L275.3 505.0 L278.0 506.7 L280.6 508.3 L283.3 510.0 L285.8 512.5 L288.3 515.0 L290.8 517.5 L293.3 520.0 L293.7 523.3 L294.1 526.6 L294.6 530.0 L295.0 533.3 L296.2 536.2 L297.5 539.1 L298.8 542.1 L300.0 545.0 L302.5 547.1 L305.0 549.1 L307.5 551.2 L310.0 553.3 L312.9 555.0 L315.9 556.6 L318.8 558.3 L321.7 560.0 L324.6 561.7 L327.5 563.4 L330.4 565.0 L333.3 566.7 L336.1 568.9 L338.9 571.1 L341.7 573.3 L344.2 575.8 L346.7 578.3 L349.2 580.8 L351.7 583.3 L354.7 584.6 L357.7 586.0 L360.7 587.3 L363.7 588.7 L366.7 590.0 L366.4 590.0 L369.4 591.0 L372.4 592.0 L375.5 593.0 L378.5 594.0 L381.5 595.1 L384.6 596.1 L387.6 597.1 L390.6 598.1 L393.5 599.0 L396.4 599.8 L399.3 600.7 L402.1 601.5 L405.0 602.4 L407.9 603.2 L410.8 604.1 L413.5 606.1 L416.2 608.2 L418.9 610.2 L421.6 612.2 L424.3 614.3 L427.0 616.3 L430.0 617.8 L433.1 619.3 L436.1 620.8 L439.1 622.3 L442.3 621.1 L445.6 619.9 L448.8 618.7 L452.1 617.5 L455.3 616.3 L456.8 619.3 L458.3 622.3 L459.8 625.4 L461.3 628.4 L464.9 629.4 L468.4 630.4 L471.9 631.4 L475.5 632.4 L478.7 633.2 L481.9 634.0 L485.2 634.9 L488.4 635.7 L491.6 636.5 L494.8 637.3 L498.1 638.1 L501.3 638.9 L504.6 639.7 L507.8 640.5 L511.0 640.1 L514.2 639.7 L517.5 639.3 L520.7 638.9 L523.9 638.5 L527.1 639.3 L530.4 640.1 L533.6 640.9 L536.9 641.7 L540.1 642.5 L543.1 644.5 L546.2 646.5 L549.2 648.6 L552.2 650.6 L554.7 653.1 L557.2 655.7 L559.8 658.2 L562.3 660.7 L564.3 663.7 L566.3 666.8 L568.4 669.8 L570.4 672.8 L570.6 675.8 L570.9 678.8 L571.1 681.9 L571.4 684.9 L569.9 689.0 L568.4 693.0 L571.4 692.2 L574.5 691.5 L577.5 690.8 L580.5 690.0 L583.5 689.2 L586.5 688.5 L589.6 687.8 L592.6 687.0 L595.6 686.0 L598.7 685.0 L601.7 684.0 L604.7 683.0 L607.8 682.0 L610.8 680.9 L613.8 679.9 L616.8 678.9 L619.9 677.9 L622.9 676.9 L626.1 676.6 L629.3 676.3 L632.5 676.0 L635.6 675.7 L638.8 675.4 L642.0 675.1 L645.2 674.8 L648.4 674.0 L651.6 673.2 L654.9 672.4 L658.1 671.6 L661.3 670.8 L664.0 669.1 L666.7 667.4 L669.4 665.8 L672.1 664.1 L674.8 662.4 L677.5 660.7 L680.2 659.4 L682.9 658.0 L685.5 656.7 L688.2 655.3 L690.9 654.0 L693.6 652.6 L697.0 651.9 L700.3 651.3 L703.7 650.6 L707.1 649.9 L710.4 649.3 L713.8 648.6 L717.0 648.4 L720.3 648.2 L723.5 648.0 L726.8 647.8 L730.0 647.6 L733.0 648.9 L736.1 650.2 L739.2 651.4 L742.2 652.7 L745.5 652.9 L748.7 653.1 L752.0 653.3 L755.2 653.6 L758.5 653.8 L761.7 654.0 L765.0 654.2 L768.3 653.4 L771.5 652.6 L774.8 651.8 L778.0 650.9 L781.3 650.1 L784.5 649.3 L787.8 648.5 L791.0 648.0 L794.1 647.5 L797.3 647.1 L800.4 646.6 L803.6 646.1 L806.7 645.6 L809.9 645.2 L813.0 644.7 L816.2 644.2 L819.4 643.9 L822.5 643.6 L825.7 643.3 L828.9 643.0 L832.0 642.6 L835.2 642.3 L838.4 642.0 L841.5 641.7 L844.7 641.4 L847.9 641.2 L851.0 641.1 L854.2 640.9 L857.4 640.7 L860.5 640.6 L863.7 640.4 L866.9 640.2 L870.0 640.1 L873.2 639.9 L876.4 639.6 L879.5 639.3 L882.7 639.0 L885.8 638.7 L889.0 638.3 L892.1 638.0 L895.3 637.7 L898.4 637.4 L901.6 637.1 L904.8 636.8 L907.9 636.6 L911.1 636.3 L914.3 636.1 L917.4 635.8 L920.6 635.6 L923.8 635.3 L926.9 635.1 L930.1 634.8 L933.4 634.9 L936.7 635.1 L940.1 635.2 L943.4 635.3 L946.7 635.5 L950.0 635.6 L953.4 635.7 L956.7 635.9 L960.0 636.0 L963.0 636.1 L966.0 636.1 L969.0 636.2 L972.0 636.3 L975.0 636.4 L978.0 636.4 L981.0 636.5 L984.0 636.6 L987.0 636.6 L990.0 636.7 L993.3 635.9 L996.6 635.0 L1000.0 634.1 L1003.3 633.3 L1006.6 633.0 L1010.0 632.7 L1013.3 632.3 L1016.7 632.0 L1020.0 631.7 L1023.3 631.4 L1026.7 631.0 L1030.0 630.7 L1033.4 630.3 L1036.7 630.0 L1040.0 629.7 L1043.3 629.3 L1046.7 629.0 L1050.0 628.6 L1053.3 628.3 L1056.6 627.6 L1060.0 627.0 L1063.3 626.3 L1066.7 625.7 L1070.0 625.0 L1073.3 623.9 L1076.7 622.8 L1080.0 621.7 L1083.3 620.9 L1086.7 620.0 L1090.0 619.2 L1093.3 618.4 L1096.7 617.5 L1100.0 616.7 L1103.3 615.0 L1106.7 613.4 L1110.0 611.7 L1113.3 610.0 L1116.6 608.7 L1120.0 607.3 L1123.3 606.0 L1126.7 604.6 L1130.0 603.3 L1133.3 602.5 L1136.7 601.7 L1140.0 600.8 L1143.4 600.0 L1146.7 599.2 L1150.0 598.5 L1153.3 597.8 L1156.7 597.2 L1160.0 596.5 L1163.3 595.8 L1166.6 594.6 L1170.0 593.5 L1173.3 592.3 L1176.7 591.2 L1180.0 590.0 L1183.3 589.0 L1186.7 588.0 L1190.0 587.0 L1193.4 586.0 L1196.7 585.0 L1200.0 584.0 L1203.3 583.0 L1206.7 582.0 L1210.0 581.0 L1213.3 580.0 L1216.3 579.0 M1259.5 565.3 L1262.2 563.9 L1265.0 562.5 L1267.8 561.1 L1270.5 559.7 L1273.3 558.3 L1276.6 557.0 L1280.0 555.7 L1283.3 554.3 L1286.7 553.0 L1290.0 551.7 L1293.3 550.4 L1296.7 549.0 L1300.0 547.7 L1303.4 546.3 L1306.7 545.0 L1310.0 544.0 L1313.3 543.0 L1316.7 542.0 L1320.0 541.0 L1323.3 540.0 L1326.1 538.6 L1328.9 537.2 L1331.7 535.9 L1334.4 534.5 L1337.2 533.1 L1340.0 531.7 L1343.3 530.4 L1346.7 529.0 L1350.0 527.7 L1353.4 526.3 L1356.7 525.0 L1360.0 523.7 L1363.3 522.3 L1366.7 521.0 L1370.0 519.6 L1373.3 518.3 L1376.6 517.3 L1380.0 516.3 L1383.3 515.3 L1386.7 514.3 L1390.0 513.3 L1393.3 514.9 L1396.7 516.5 L1400.0 518.1 L1403.2 516.2 L1406.3 514.3 L1409.4 512.4 L1412.6 510.5 L1415.8 508.6 L1418.9 506.7 L1422.1 504.8 L1425.3 502.9 L1428.5 501.0 L1431.6 499.1 L1434.8 497.3 L1437.9 495.4 L1441.1 493.8 L1444.2 492.2 L1447.3 490.6 L1450.5 489.0 L1453.7 488.1 L1456.8 487.1 L1459.9 486.2 L1463.1 485.3 L1466.3 484.4 L1469.4 483.4 L1472.6 482.4 L1475.8 481.5 L1478.7 480.0 L1481.7 478.4 L1484.6 476.9 L1487.5 475.4 L1490.5 473.8 L1493.4 472.3 L1495.9 470.6 L1498.5 468.9 L1501.0 467.2 L1503.9 465.1 L1506.9 463.0 L1509.8 460.9 L1512.8 459.2 L1515.7 457.6 L1518.7 455.9 L1521.8 454.3 L1525.0 452.7 L1528.2 451.1 L1531.3 449.5 L1534.5 448.2 L1537.6 447.0 L1540.8 445.8 L1543.9 444.5 L1547.1 443.6 L1550.2 442.6 L1553.4 441.6 L1556.6 440.7 L1559.8 439.8 L1562.9 438.8 L1566.0 437.8 L1569.2 436.9 L1572.3 435.6 L1575.5 434.4 L1578.7 433.1 L1581.8 431.9 L1585.0 431.2 L1588.1 430.6 L1591.2 429.9 L1594.4 429.3 L1597.8 430.2 L1601.1 431.0 L1604.5 431.9 L1607.9 431.5 L1611.2 431.0 L1614.6 430.6 L1618.0 428.9 L1621.3 427.3 L1624.7 425.6 L1627.2 423.5 L1629.8 421.3 L1632.3 419.2 L1635.2 417.4 L1638.0 415.5 L1642.4 412.9"/>
<path class="n" d="M100.0 332.5 L103.3 332.9 L106.7 333.3 L109.6 334.4 L112.5 335.4 L115.4 336.4 L118.3 337.5 L119.6 340.3 L121.0 343.2 L122.3 346.0 L123.7 348.9 L125.0 351.7 L128.3 353.0 L131.7 354.3 L135.0 355.7 L138.4 357.0 L141.7 358.3 L144.5 359.7 L147.2 361.1 L150.0 362.5 L152.8 363.9 L155.5 365.3 L158.3 366.7 L161.7 370.0 L162.0 373.0 L162.4 376.0 L162.7 379.0 L163.0 382.0 L163.3 385.0 L163.7 388.0 L164.0 391.0 L164.3 394.0 L164.7 397.0 L165.0 400.0 L166.1 403.3 L167.2 406.7 L168.3 410.0 L167.8 413.9 L167.2 417.8 L166.7 421.7 L165.4 424.6 L164.2 427.5 L162.9 430.4 L161.7 433.3 L160.8 436.2 L160.0 439.1 L159.2 442.1 L158.3 445.0 L156.2 447.5 L154.2 450.0 L152.1 452.5 L150.0 455.0 L150.0 458.4 L150.0 461.7 L151.7 464.2 L153.3 466.7 L155.0 469.2 L156.7 471.7 L160.0 473.9 L163.4 476.1 L166.7 478.3 L170.0 479.6 L173.3 480.8 L176.7 482.1 L180.0 483.3 L183.3 484.6 L186.7 485.8 L190.0 487.1 L193.3 488.3 L196.6 489.4 L200.0 490.6 L203.3 491.7 L206.7 492.5 L210.0 493.4 L213.3 494.2 L216.7 495.0 L219.2 497.1 L221.7 499.1 L224.2 501.2 L226.7 503.3 L229.2 505.8 L231.7 508.3 L234.2 510.8 L236.7 513.3 L239.2 515.8 L241.7 518.3 L244.2 520.8 L246.7 523.3 L249.0 525.6 L251.3 528.0 L253.7 530.3 L256.0 532.7 L258.3 535.0 L260.8 537.5 L263.3 540.0 L265.8 542.5 L268.3 545.0 L270.5 547.8 L272.8 550.5 L275.0 553.3 L275.8 556.2 L276.6 559.1 L277.5 562.1 L278.3 565.0 L280.5 567.8 L282.8 570.5 L285.0 573.3 L287.5 575.4 L290.0 577.5 L292.5 579.6 L295.0 581.7 L298.3 583.4 L301.6 585.0 L305.0 586.6 L308.3 588.3 L311.2 590.4 L314.1 592.5 L317.1 594.6 L320.0 596.7 L323.3 598.0 L326.6 599.2 L330.0 600.5 L333.3 601.7 L336.6 603.4 L340.0 605.0 L343.4 606.6 L346.7 608.3 L349.2 610.4 L351.7 612.5 L354.2 614.6 L356.7 616.7 L359.2 619.2 L361.7 621.7 L364.2 624.2 L366.7 626.7 L369.5 628.9 L372.2 631.1 L375.0 633.3 L377.8 635.5 L380.5 637.8 L383.3 640.0 L386.2 641.1 L389.1 642.2 L392.0 643.3 L394.9 644.4 L397.8 645.5 L400.7 646.6 L403.9 647.4 L407.2 648.2 L410.4 649.0 L413.7 649.8 L416.9 650.6 L419.7 651.8 L422.5 653.0 L425.4 654.3 L428.2 655.5 L431.0 656.7 L433.4 658.7 L435.8 660.7 L438.3 662.8 L440.7 664.8 L443.1 666.8 L446.2 667.8 L449.2 668.8 L452.2 669.8 L455.3 670.8 L458.0 673.5 L460.6 676.2 L463.3 678.9 L464.3 681.9 L465.4 685.0 L466.4 688.0 L467.4 691.0 L470.1 692.7 L472.8 694.4 L475.5 696.1 L478.5 695.9 L481.6 695.6 L484.6 695.4 L487.6 695.1 L490.4 693.3 L493.2 691.5 L496.1 689.6 L498.9 687.8 L501.7 686.0 L504.2 688.3 L506.8 690.5 L509.3 692.8 L511.8 695.1 L514.8 695.6 L517.9 696.1 L520.9 696.6 L523.9 697.1 L527.3 698.4 L530.6 699.8 L534.0 701.1 L536.7 703.8 L539.4 706.5 L542.1 709.2 L545.6 710.0 L549.2 710.7 L552.8 711.5 L556.3 712.2 L559.5 712.6 L562.7 713.0 L566.0 713.4 L569.2 713.8 L572.4 714.2 L575.8 714.6 L579.1 714.9 L582.5 715.2 L585.9 715.6 L589.2 715.9 L592.6 716.3 L595.5 715.3 L598.4 714.3 L601.3 713.3 L604.1 712.2 L607.0 711.2 L609.9 710.2 L612.8 709.2 L616.2 708.9 L619.5 708.5 L622.9 708.2 L626.3 707.9 L629.6 707.5 L633.0 707.2 L636.4 706.5 L639.7 705.8 L643.1 705.2 L646.5 704.5 L649.8 703.8 L653.2 703.1 L656.6 702.4 L659.9 701.8 L663.3 701.1 L666.7 700.4 L670.0 699.8 L673.4 699.1 L676.8 698.8 L680.1 698.4 L683.5 698.1 L686.9 697.8 L690.2 697.4 L693.6 697.1 L697.0 697.1 L700.3 697.1 L703.7 697.1 L707.1 697.1 L710.4 697.1 L713.8 697.1 L717.0 697.3 L720.3 697.5 L723.5 697.7 L726.8 697.9 L730.0 698.1 L733.0 696.0 L736.1 694.0 L739.2 691.9 L742.2 689.8 L745.1 688.4 L747.9 686.9 L750.8 685.5 L753.6 684.1 L756.4 682.6 L759.3 681.2 L762.1 680.0 L765.0 678.8 L767.8 677.7 L770.7 676.5 L773.5 675.3 L776.4 674.1 L779.7 673.1 L783.0 672.2 L786.3 671.2 L789.7 670.3 L793.0 669.4 L796.3 668.4 L799.5 667.7 L802.7 667.0 L805.9 666.3 L809.1 665.5 L812.3 664.8 L815.5 664.1 L818.7 663.4 L821.9 662.7 L825.2 662.3 L828.4 661.9 L831.7 661.5 L834.9 661.1 L838.2 660.7 L841.4 660.3 L844.7 659.9 L847.9 659.7 L851.0 659.6 L854.2 659.4 L857.4 659.2 L860.5 659.1 L863.7 658.9 L866.9 658.7 L870.0 658.6 L873.2 658.4 L876.4 658.2 L879.5 658.1 L882.7 657.9 L885.8 657.8 L889.0 657.6 L892.1 657.5 L895.3 657.3 L898.4 657.2 L901.6 657.0 L904.8 657.0 L907.9 657.0 L911.1 657.0 L914.3 657.0 L917.4 657.0 L920.6 657.0 L923.8 657.0 L926.9 657.0 L930.1 657.0 L933.3 656.9 L936.4 656.8 L939.6 656.7 L942.8 656.6 L945.9 656.4 L949.1 656.3 L952.3 656.2 L955.4 656.1 L958.6 656.0 L961.8 655.6 L964.9 655.1 L968.1 654.7 L971.2 654.2 L974.4 653.8 L977.5 653.3 L980.7 652.9 L983.8 652.4 L987.0 652.0 L990.2 651.6 L993.3 651.1 L996.5 650.7 L999.7 650.2 L1002.8 649.8 L1006.0 649.3 L1009.2 648.9 L1012.3 648.4 L1015.5 648.0 L1018.7 647.7 L1021.8 647.3 L1025.0 647.0 L1028.2 646.7 L1031.3 646.3 L1034.5 646.0 L1037.7 645.7 L1040.8 645.3 L1044.0 645.0 L1047.2 644.7 L1050.3 644.3 L1053.5 644.0 L1056.7 643.7 L1059.8 643.3 L1063.0 643.0 L1066.2 642.7 L1069.3 642.3 L1072.5 642.0 L1076.0 641.6 L1079.5 641.2 L1083.0 640.8 L1086.5 640.4 L1090.0 640.0 L1093.3 638.8 L1096.7 637.5 L1100.0 636.2 L1103.3 635.0 L1106.7 633.3 L1110.0 631.6 L1113.3 630.0 L1116.7 628.3 L1119.5 626.9 L1122.2 625.5 L1125.0 624.1 L1127.8 622.8 L1130.5 621.4 L1133.3 620.0 L1136.6 619.0 L1140.0 618.0 L1143.3 617.0 L1146.7 616.0 L1150.0 615.0 L1153.3 614.3 L1156.7 613.7 L1160.0 613.0 L1163.4 612.4 L1166.7 611.7 L1170.0 610.5 L1173.3 609.3 L1176.7 608.2 L1180.0 607.0 L1183.3 605.8 L1186.1 604.5 L1188.9 603.3 L1191.7 602.0 L1194.4 600.8 L1197.2 599.5 L1200.0 598.3 L1203.3 597.3 L1206.7 596.3 L1210.0 595.3 L1213.4 594.3 L1216.7 593.3 L1220.0 592.3 L1223.3 591.3 L1226.7 590.3 L1230.0 589.3 L1233.3 588.3 L1236.6 587.0 L1240.0 585.7 L1243.3 584.3 L1246.7 583.0 L1250.0 581.7 L1253.3 580.4 L1256.7 579.0 L1260.0 577.7 L1263.4 576.3 L1266.7 575.0 L1270.0 573.7 L1273.3 572.3 L1276.7 571.0 L1280.0 569.6 L1283.3 568.3 L1286.6 567.3 L1290.0 566.3 L1293.3 565.3 L1296.7 564.3 L1300.0 563.3 L1303.3 562.3 L1306.7 561.3 L1310.0 560.3 L1313.4 559.3 L1316.7 558.3 L1320.0 557.0 L1323.3 555.7 M1368.9 543.9 L1371.7 542.5 L1374.4 541.1 L1377.2 539.7 L1380.0 538.3 L1383.3 537.0 L1386.7 535.7 L1390.0 534.3 L1393.4 533.0 L1396.7 531.7 L1400.0 532.0 L1402.5 530.2 L1405.0 528.4 L1407.6 526.7 L1410.1 524.9 L1412.6 523.1 L1415.1 521.3 L1417.7 519.6 L1420.2 517.8 L1422.8 516.1 L1425.3 514.3 L1428.5 512.4 L1431.6 510.5 L1434.8 508.6 L1437.9 506.7 L1441.1 505.1 L1444.2 503.5 L1447.3 502.0 L1450.5 500.4 L1453.7 499.4 L1456.8 498.5 L1459.9 497.6 L1463.1 496.6 L1466.3 495.7 L1469.4 494.7 L1472.6 493.8 L1475.8 492.8 L1479.0 492.2 L1482.1 491.6 L1485.2 490.9 L1488.4 490.3 L1491.6 489.1 L1494.7 487.8 L1497.8 486.6 L1501.0 485.3 L1504.4 483.6 L1507.7 481.9 L1511.1 480.2 L1513.6 478.4 L1516.2 476.6 L1518.7 474.8 L1521.2 473.1 L1523.8 471.4 L1526.3 469.7 L1529.7 468.0 L1533.0 466.4 L1536.4 464.7 L1539.6 463.1 L1542.7 461.5 L1545.8 460.0 L1549.0 458.4 L1552.2 457.1 L1555.3 455.9 L1558.4 454.6 L1561.6 453.3 L1564.8 453.0 L1567.9 452.7 L1571.0 452.4 L1574.2 452.1 L1578.7 452.4 L1583.1 452.7 L1587.5 453.4 L1591.9 454.0 L1595.7 452.4 L1599.5 450.8 L1602.0 448.7 L1604.6 446.6 L1607.1 444.5 L1610.5 442.8 L1613.8 441.1 L1617.2 439.4 L1620.6 437.7 L1623.9 436.1 L1627.3 434.4 L1630.9 433.1 L1634.4 431.9 L1638.0 430.6 L1642.4 428.7"/>
<path class="n" d="M102.0 378.0 L105.0 378.3 L108.0 378.7 L111.0 379.0 L114.0 379.3 L117.0 379.7 L120.0 380.0 L123.3 382.0 L126.7 384.0 L130.0 386.0 L127.0 388.0 L124.0 390.0 L121.0 392.0 L118.0 394.0 L115.3 396.0 L112.7 398.0 L110.0 400.0 L113.0 401.3 L116.0 402.7 L119.0 404.0 L122.0 405.4 L125.0 406.7 L127.7 408.4 L130.3 410.0 L133.0 411.7 L135.6 413.3 L138.3 415.0 L140.0 417.5 L141.7 420.0 L143.3 422.5 L145.0 425.0 L143.9 428.3 L142.8 431.7 L141.7 435.0 L138.8 436.7 L135.8 438.4 L132.9 440.0 L130.0 441.7 L127.1 443.8 L124.2 445.9 L121.2 447.9 L118.3 450.0 L115.6 451.7 L113.0 453.3 L110.3 455.0 L107.7 456.6 L105.0 458.3 L107.9 460.4 L110.8 462.5 L113.8 464.6 L116.7 466.7 L119.6 468.8 L122.5 470.9 L125.4 472.9 L128.3 475.0 L131.3 476.0 L134.3 477.0 L137.3 478.0 L140.3 479.0 L143.3 480.0 L146.7 481.7 L150.0 483.4 L153.3 485.0 L156.7 486.7 L160.0 488.4 L163.3 490.0 L166.7 491.6 L170.0 493.3 L172.5 495.0 L175.0 496.6 L177.5 498.3 L180.0 500.0 L182.2 502.2 L184.5 504.5 L186.7 506.7 L188.9 509.5 L191.1 512.2 L193.3 515.0 L196.0 516.7 L198.7 518.3 L201.3 520.0 L204.0 521.6 L206.7 523.3 L209.4 525.0 L212.0 526.7 L214.7 528.3 L217.3 530.0 L220.0 531.7 L222.8 533.9 L225.5 536.1 L228.3 538.3 L230.0 541.6 L231.6 545.0 L233.3 548.3 L235.4 550.8 L237.5 553.3 L239.6 555.8 L241.7 558.3 L242.9 561.2 L244.2 564.1 L245.4 567.1 L246.7 570.0 L247.8 573.3 L248.9 576.7 L250.0 580.0 L251.7 582.9 L253.3 585.9 L255.0 588.8 L256.7 591.7 L259.2 594.2 L261.7 596.7 L264.2 599.2 L266.7 601.7 L269.6 603.8 L272.5 605.9 L275.4 607.9 L278.3 610.0 L280.8 612.1 L283.3 614.1 L285.8 616.2 L288.3 618.3 L290.4 620.8 L292.5 623.3 L294.6 625.8 L296.7 628.3 L298.8 631.2 L300.9 634.1 L302.9 637.1 L305.0 640.0 L307.6 642.0 L310.2 644.0 L312.8 646.0 L315.4 648.0 L318.0 650.0 L321.0 652.2 L324.0 654.4 L327.0 656.5 L330.0 658.7 L332.7 660.4 L335.4 662.1 L338.1 663.8 L340.8 665.4 L343.5 667.1 L346.2 668.8 L348.9 670.5 L351.6 672.2 L354.2 673.8 L356.9 675.5 L359.6 677.2 L362.3 678.9 L365.3 680.4 L368.4 681.9 L371.4 683.4 L374.4 684.9 L376.1 688.3 L377.8 691.7 L379.5 695.1 L378.8 698.1 L378.0 701.2 L377.2 704.2 L376.5 707.2 L377.0 710.2 L377.5 713.2 L378.0 716.3 L378.5 719.3 L381.5 721.3 L384.6 723.3 L387.6 725.4 L390.6 727.4 L393.1 729.4 L395.6 731.5 L398.2 733.5 L400.7 735.5 L403.2 737.5 L405.8 739.5 L408.3 741.5 L410.8 743.5 L412.8 746.0 L414.9 748.5 L416.9 751.1 L418.9 753.6 L421.6 756.3 L424.3 759.0 L427.0 761.7 L430.4 761.7 L433.7 761.7 L437.1 761.7 L440.5 759.7 L443.8 757.7 L447.2 755.7 L449.2 753.2 L451.2 750.7 L453.3 748.1 L455.3 745.6 L458.0 742.9 L460.6 740.2 L463.3 737.5 L466.0 736.1 L468.7 734.8 L471.4 733.4 L474.8 734.8 L478.1 736.1 L481.5 737.5 L484.9 738.8 L488.2 740.2 L491.6 741.5 L494.6 742.0 L497.6 742.5 L500.7 743.0 L503.7 743.5 L506.5 744.7 L509.4 745.9 L512.2 747.2 L515.1 748.4 L517.9 749.6 L520.3 751.6 L522.7 753.6 L525.2 755.7 L527.6 757.7 L530.0 759.7 L533.4 758.4 L536.7 757.0 L540.1 755.7 L541.4 753.0 L542.8 750.3 L544.1 747.6 L543.1 744.6 L542.1 741.5 L541.1 738.5 L540.1 735.5 L543.1 734.5 L546.2 733.5 L549.2 732.4 L552.2 731.4 L555.6 730.7 L558.9 730.1 L562.3 729.4 L565.7 731.4 L569.0 733.5 L572.4 735.5 L575.4 737.5 L578.5 739.5 L581.5 741.5 L584.5 743.5 L587.7 744.7 L591.0 745.9 L594.2 747.2 L597.5 748.4 L600.7 749.6 L603.7 749.3 L606.8 748.9 L609.8 748.6 L612.8 748.3 L615.9 747.9 L618.9 747.6 L621.9 746.6 L625.0 745.6 L628.0 744.5 L631.0 743.5 L634.1 742.5 L637.1 741.5 L640.0 740.6 L642.9 739.8 L645.8 738.9 L648.6 738.1 L651.5 737.2 L654.4 736.4 L657.3 735.5 L660.5 734.3 L663.7 733.1 L667.0 731.8 L670.2 730.6 L673.4 729.4 L676.3 728.5 L679.2 727.7 L682.1 726.8 L684.9 725.9 L687.8 725.0 L690.7 724.2 L693.6 723.3 L697.0 722.6 L700.3 722.0 L703.7 721.3 L707.1 720.6 L710.4 720.0 L713.8 719.3 L717.0 718.7 L720.3 718.1 L723.5 717.5 L726.8 716.9 L730.0 716.3 L733.0 715.7 L736.1 715.1 L739.2 714.6 L742.2 714.0 L745.1 712.6 L747.9 711.1 L750.8 709.7 L753.6 708.3 L756.4 706.8 L759.3 705.4 L762.1 703.5 L765.0 701.6 L767.8 699.7 L770.7 697.8 L773.5 695.9 L776.4 694.0 L779.7 693.0 L783.0 692.1 L786.3 691.1 L789.7 690.2 L793.0 689.2 L796.3 688.3 L799.6 687.6 L802.9 686.9 L806.2 686.2 L809.6 685.5 L812.9 684.8 L816.2 684.1 L819.4 683.8 L822.5 683.5 L825.7 683.1 L828.9 682.8 L832.0 682.5 L835.2 682.2 L838.4 681.8 L841.5 681.5 L844.7 681.2 L847.9 681.2 L851.0 681.2 L854.2 681.2 L857.4 681.2 L860.5 681.2 L863.7 681.2 L866.9 681.2 L870.0 681.2 L873.2 681.2 L876.4 681.0 L879.5 680.9 L882.7 680.7 L885.8 680.6 L889.0 680.4 L892.1 680.3 L895.3 680.1 L898.4 680.0 L901.6 679.8 L904.8 680.0 L907.9 680.1 L911.1 680.3 L914.3 680.4 L917.4 680.6 L920.6 680.7 L923.8 680.9 L926.9 681.0 L930.1 681.2 L933.3 680.7 L936.4 680.2 L939.6 679.8 L942.8 679.3 L945.9 678.8 L949.1 678.3 L952.3 677.9 L955.4 677.4 L958.6 676.9 L961.8 676.3 L964.9 675.6 L968.1 675.0 L971.2 674.4 L974.4 673.7 L977.5 673.1 L980.7 672.5 L983.8 671.8 L987.0 671.2 L990.2 670.3 L993.3 669.3 L996.5 668.4 L999.7 667.4 L1002.8 666.5 L1006.0 665.5 L1009.2 664.6 L1012.3 663.6 L1015.5 662.7 L1018.7 662.1 L1021.8 661.4 L1025.0 660.8 L1028.2 660.2 L1031.3 659.5 L1034.5 658.9 L1037.7 658.3 L1040.8 657.6 L1044.0 657.0 L1047.2 656.2 L1050.3 655.4 L1053.5 654.6 L1056.7 653.8 L1059.8 653.1 L1063.0 652.3 L1066.2 651.5 L1069.3 650.7 L1072.5 649.9 L1075.7 649.1 L1078.8 648.3 L1082.0 647.5 L1085.1 646.7 L1088.3 646.0 L1091.4 645.2 L1094.6 644.4 L1097.7 643.6 L1100.9 642.8 L1104.1 641.8 L1107.3 640.9 L1110.5 639.9 L1113.6 638.9 L1116.8 638.0 L1120.0 637.0 L1123.1 636.5 L1126.2 636.1 L1129.4 635.6 L1132.5 635.1 L1135.6 634.7 L1138.8 634.2 L1141.9 633.8 L1145.0 633.3 L1148.0 632.3 L1151.0 631.3 L1154.0 630.3 L1157.0 629.3 L1160.0 628.3 L1163.3 627.3 L1166.7 626.3 L1170.0 625.3 L1173.4 624.3 L1176.7 623.3 L1180.0 622.0 L1183.3 620.7 L1186.7 619.3 L1190.0 618.0 L1193.3 616.7 L1196.6 615.4 L1200.0 614.0 L1203.3 612.7 L1206.7 611.3 L1210.0 610.0 L1213.3 609.0 L1216.7 608.0 M1261.3 599.0 L1264.3 598.0 L1267.3 597.0 L1270.3 596.0 L1273.3 595.0 L1276.6 593.7 L1280.0 592.3 L1283.3 591.0 L1286.7 589.6 L1290.0 588.3 L1292.8 586.9 L1295.6 585.5 L1298.3 584.1 L1301.1 582.8 L1303.9 581.4 L1306.7 580.0 L1310.0 578.7 L1313.3 577.3 L1316.7 576.0 L1320.0 574.6 L1323.3 573.3 L1326.6 572.3 L1330.0 571.3 L1333.3 570.3 L1336.7 569.3 L1340.0 568.3 L1343.3 567.3 L1346.7 566.3 L1350.0 565.3 L1353.4 564.3 L1356.7 563.3 L1360.0 562.0 L1363.3 560.7 L1366.7 559.3 L1370.0 558.0 L1373.3 556.7 L1376.6 555.4 L1380.0 554.0 L1383.3 552.7 L1386.7 551.3 L1390.0 550.0 L1392.5 547.7 L1395.0 545.4 L1397.5 543.1 L1400.0 540.8 L1403.2 538.9 L1406.3 537.0 L1409.4 535.1 L1412.6 533.2 L1415.1 531.4 L1417.7 529.7 L1420.2 527.9 L1422.8 526.2 L1425.3 524.4 L1427.8 522.6 L1430.3 520.9 L1432.9 519.1 L1435.4 517.4 L1437.9 515.6 L1441.1 514.0 L1444.2 512.4 L1447.3 510.8 L1450.5 509.2 L1453.7 507.8 L1456.8 506.4 L1459.9 505.0 L1463.1 503.6 L1466.3 502.8 L1469.4 502.0 L1472.6 501.2 L1475.8 500.4 L1479.0 499.9 L1482.1 499.4 L1485.2 499.0 L1488.4 498.5 L1491.6 498.2 L1494.7 497.9 L1497.8 497.5 L1501.0 497.2 L1504.2 496.1 L1507.3 495.0 L1510.4 493.9 L1513.6 492.8 L1517.0 490.9 L1520.3 489.0 L1523.7 487.1 L1527.1 485.0 L1530.4 482.9 L1533.8 480.8 L1537.0 479.3 L1540.2 477.8 L1543.3 476.3 L1546.5 474.8 L1549.9 473.1 L1553.2 471.4 L1556.6 469.7 L1559.8 468.8 L1562.9 467.9 L1566.0 466.9 L1569.2 466.0 L1572.3 466.0 L1575.5 466.0 L1578.7 466.0 L1581.8 466.0 L1585.6 466.6 L1589.4 467.2 L1592.8 466.4 L1596.1 465.5 L1599.5 464.7 L1602.9 462.6 L1606.2 460.5 L1609.6 458.4 L1612.8 457.4 L1615.9 456.5 L1619.0 455.6 L1622.2 454.6 L1625.4 453.8 L1628.5 453.1 L1631.7 452.3 L1634.8 451.6 L1638.0 450.8 L1642.4 449.5"/>
<path class="n" d="M100.0 479.2 L103.3 481.7 L105.8 483.8 L108.3 485.9 L110.8 487.9 L113.3 490.0 L116.2 492.1 L119.2 494.1 L122.1 496.2 L125.0 498.3 L127.9 500.4 L130.8 502.5 L133.8 504.6 L136.7 506.7 L139.4 508.7 L142.0 510.7 L144.7 512.7 L147.3 514.7 L150.0 516.7 L152.3 518.7 L154.7 520.7 L157.0 522.7 L159.4 524.7 L161.7 526.7 L163.8 529.2 L165.8 531.7 L167.9 534.2 L170.0 536.7 L172.1 539.2 L174.2 541.7 L176.2 544.2 L178.3 546.7 L180.8 548.8 L183.3 550.9 L185.8 552.9 L188.3 555.0 L191.2 555.8 L194.2 556.6 L197.1 557.5 L200.0 558.3 L203.3 559.4 L206.7 560.6 L210.0 561.7 L211.7 565.0 L213.3 568.4 L215.0 571.7 L215.6 575.6 L216.1 579.4 L216.7 583.3 L217.1 586.6 L217.5 590.0 L217.9 593.4 L218.3 596.7 L219.3 600.5 L220.2 604.3 L221.2 608.1 L223.2 610.8 L225.2 613.5 L227.2 616.2 L229.3 618.8 L231.3 621.5 L233.3 624.2 L235.6 626.5 L237.9 628.8 L240.2 631.1 L242.6 633.5 L244.9 635.8 L247.2 638.1 L249.5 640.4 L252.2 642.4 L254.9 644.4 L257.6 646.5 L260.3 648.5 L263.0 650.5 L265.7 652.5 L268.4 653.9 L271.1 655.2 L273.8 656.5 L276.4 657.9 L279.1 659.2 L281.8 660.6 L284.5 662.0 L287.2 663.3 L289.9 664.7 L292.6 666.0 L295.3 667.4 L298.0 668.7 L300.8 670.3 L303.6 671.9 L306.5 673.6 L309.3 675.2 L312.1 676.8 L314.6 678.8 L317.1 680.8 L319.7 682.8 L322.2 684.8 L324.2 687.2 L326.2 689.7 L328.3 692.1 L330.3 694.6 L332.3 697.0 L334.3 699.4 L336.3 701.8 L338.4 704.3 L340.4 706.7 L342.4 709.1 L344.8 711.5 L347.2 713.9 L349.7 716.4 L352.1 718.8 L354.5 721.2 L356.5 723.7 L358.6 726.2 L360.6 728.8 L362.6 731.3 L364.2 734.1 L365.8 737.0 L367.5 739.8 L369.1 742.7 L370.7 745.5 L372.4 748.2 L374.1 750.9 L375.8 753.5 L377.4 756.2 L379.1 758.9 L380.8 761.6 L380.5 765.0 L380.1 768.3 L379.8 771.7 L379.5 775.1 L379.1 778.4 L378.8 781.8 L377.6 784.7 L376.5 787.6 L375.3 790.5 L374.2 793.3 L373.0 796.2 L371.9 799.1 L370.7 802.0 L371.1 805.2 L371.5 808.5 L371.9 811.7 L372.3 815.0 L372.7 818.2 L371.7 821.2 L370.7 824.2 L369.7 827.3 L368.7 830.3 L365.4 830.8 L362.1 831.3 L358.8 831.8 L355.5 832.3 L352.3 832.8 L349.0 833.3 L345.7 833.8 L342.4 834.3 L339.4 835.3 L336.3 836.3 L333.3 837.3 L330.3 838.4 L327.2 839.4 L324.2 840.4 L325.6 843.1 L326.9 845.8 L328.3 848.5 L331.7 850.5 L335.0 852.5 L338.4 854.5 L340.4 857.3 L342.4 860.2 L344.5 863.0 L346.5 865.9 L348.5 868.7 L350.5 871.5 L352.5 874.3 L354.6 877.2 L356.6 880.0 L358.6 882.8 L362.3 881.4 L366.0 880.0 L368.0 882.7 L370.0 885.3 L372.0 888.0 L374.0 890.7 L376.0 893.3 L378.0 896.0 L380.0 898.3 L382.0 900.7 L384.0 903.0 L386.0 905.3 L388.0 907.7 L390.0 910.0 L393.0 911.8 L396.0 913.5 L399.0 915.2 L402.0 917.0 L405.0 916.2 L408.0 915.3 L411.0 914.5 L414.0 913.7 L417.0 912.8 L420.0 912.0 L422.0 909.7 L424.0 907.3 L426.0 905.0 L428.0 902.7 L430.0 900.3 L432.0 898.0 L434.0 894.7 L436.0 891.3 L438.0 888.0 L439.6 884.0 L441.1 880.1 L443.1 876.5 L445.2 872.8 L446.8 870.0 L448.4 867.2 L450.0 864.3 L451.6 861.5 L453.2 858.7 L454.4 855.5 L455.6 852.2 L456.9 849.0 L458.1 845.7 L459.3 842.5 L460.3 839.5 L461.3 836.4 L462.4 833.4 L463.4 830.4 L464.4 827.3 L465.4 824.3 L466.9 821.3 L468.4 818.2 L469.9 815.2 L471.4 812.2 L473.9 809.7 L476.4 807.2 L479.0 804.6 L481.5 802.1 L484.9 801.4 L488.2 800.8 L491.6 800.1 L494.6 798.1 L497.6 796.0 L500.7 794.0 L503.7 792.0 L506.8 790.5 L509.8 789.0 L512.9 787.5 L515.9 786.0 L518.8 786.9 L521.7 787.7 L524.6 788.6 L527.4 789.4 L530.3 790.3 L533.2 791.1 L536.1 792.0 L538.8 790.3 L541.5 788.6 L544.2 787.0 L546.8 785.3 L549.5 783.6 L552.2 781.9 L555.4 780.7 L558.7 779.5 L561.9 778.3 L565.2 777.1 L568.4 775.9 L570.9 773.9 L573.5 771.8 L576.0 769.8 L578.5 767.8 L581.3 769.0 L584.1 770.2 L587.0 771.4 L589.8 772.6 L592.6 773.8 L596.0 773.8 L599.3 773.8 L602.7 773.8 L606.1 773.8 L609.4 773.8 L612.8 773.8 L616.2 773.5 L619.5 773.1 L622.9 772.8 L626.3 772.5 L629.6 772.1 L633.0 771.8 L636.4 771.5 L639.7 771.1 L643.1 770.8 L646.5 770.5 L649.8 770.1 L653.2 769.8 L656.6 769.1 L659.9 768.5 L663.3 767.8 L666.7 767.1 L670.0 766.5 L673.4 765.8 L676.3 764.6 L679.2 763.5 L682.1 762.3 L684.9 761.2 L687.8 760.0 L690.7 758.9 L693.6 757.7 L696.5 756.8 L699.4 756.0 L702.3 755.1 L705.1 754.2 L708.0 753.3 L710.9 752.5 L713.8 751.6 L717.0 751.2 L720.3 750.8 L723.5 750.4 L726.8 750.0 L730.0 749.6 L732.2 747.4 L734.3 745.1 L736.5 742.9 L738.6 740.6 L740.8 738.4 L742.9 736.1 L745.1 733.9 L748.4 733.0 L751.7 732.0 L755.0 731.0 L758.4 730.1 L761.7 729.2 L765.0 728.2 L767.9 726.8 L770.7 725.4 L773.5 723.9 L776.4 722.5 L779.2 721.1 L782.1 719.6 L784.9 718.2 L787.8 716.8 L790.6 715.4 L793.5 714.0 L796.3 712.5 L799.1 711.1 L802.0 709.7 L804.8 708.3 L807.6 706.9 L810.5 705.5 L813.4 704.0 L816.2 702.6 L819.6 702.3 L823.0 702.0 L826.5 701.7 L829.9 701.4 L833.3 701.1 L836.7 701.4 L840.1 701.7 L843.6 702.0 L847.0 702.3 L850.4 702.6 L853.7 703.0 L856.9 703.4 L860.2 703.8 L863.4 704.2 L866.7 704.6 L869.9 705.0 L873.2 705.4 L876.4 705.0 L879.7 704.6 L882.9 704.2 L886.2 703.8 L889.4 703.4 L892.7 703.0 L895.9 702.6 L899.2 702.8 L902.6 703.1 L905.9 703.3 L909.2 703.5 L912.6 703.8 L915.9 704.0 L919.5 704.4 L923.0 704.7 L926.5 705.0 L930.1 705.4 L933.6 704.7 L937.2 704.0 L940.8 703.3 L944.3 702.6 L947.5 702.0 L950.6 701.3 L953.8 700.7 L957.0 700.1 L960.1 699.4 L963.3 698.8 L966.5 698.2 L969.6 697.5 L972.8 696.9 L976.0 695.9 L979.1 695.0 L982.3 694.0 L985.5 693.1 L988.6 692.1 L991.8 691.2 L995.0 690.2 L998.1 689.3 L1001.3 688.3 L1004.1 687.3 L1007.0 686.3 L1009.8 685.3 L1012.7 684.3 L1015.5 683.3 L1018.4 682.4 L1021.2 681.4 L1024.1 680.4 L1027.0 679.4 L1029.8 678.4 L1032.6 677.4 L1035.5 676.4 L1038.3 675.4 L1041.2 674.4 L1044.0 673.4 L1046.8 672.4 L1049.7 671.4 L1052.5 670.4 L1055.4 669.4 L1058.2 668.4 L1061.4 667.8 L1064.5 667.1 L1067.7 666.5 L1070.9 665.9 L1074.0 665.2 L1077.2 664.6 L1080.4 664.0 L1083.5 663.3 L1086.7 662.7 L1089.7 661.9 L1092.8 661.2 L1095.8 660.4 L1098.8 659.6 L1101.8 658.8 L1104.9 658.1 L1107.9 657.3 L1110.9 656.5 L1113.9 655.7 L1117.0 655.0 L1120.0 654.2 L1123.0 653.6 L1126.0 653.0 L1129.0 652.3 L1132.0 651.7 L1135.0 651.1 L1138.0 650.5 L1141.0 649.9 L1144.0 649.2 L1147.0 648.6 L1150.0 648.0 L1153.0 647.2 L1156.0 646.5 L1159.0 645.7 L1161.9 644.9 L1164.9 644.1 L1167.9 643.4 L1170.9 642.6 L1173.9 641.8 L1176.9 641.0 L1179.8 640.3 L1182.8 639.5 L1185.8 638.7 L1188.8 637.9 L1191.8 637.2 L1194.8 636.4 L1197.7 635.6 L1200.7 634.8 L1203.7 634.1 L1206.7 633.3 L1210.0 632.3 L1213.3 631.3 L1216.7 630.3 L1220.0 629.3 L1223.3 628.3 L1226.6 627.0 L1230.0 625.7 L1233.3 624.3 L1236.7 623.0 L1240.0 621.7 L1242.8 620.3 L1245.6 618.9 L1248.3 617.5 L1251.1 616.1 L1253.9 614.7 L1256.7 613.3 L1260.0 612.3 L1263.3 611.3 L1266.7 610.3 L1270.0 609.3 L1273.3 608.3 L1276.6 607.6 L1280.0 607.0 L1283.3 606.3 L1286.7 605.7 L1290.0 605.0 L1293.3 603.7 L1296.7 602.3 L1300.0 601.0 L1303.4 599.6 L1306.7 598.3 L1310.0 597.0 L1313.3 595.7 L1316.7 594.3 L1320.0 593.0 L1323.3 591.7 L1326.7 590.5 M1366.7 571.7 L1370.0 570.4 L1373.3 569.0 L1376.7 567.7 L1380.0 566.3 L1383.3 565.0 L1386.6 563.7 L1390.0 562.3 L1393.3 561.0 L1396.7 559.6 L1400.0 558.3 L1403.8 556.0 L1406.7 554.7 L1409.7 553.5 L1412.6 552.2 L1415.8 550.9 L1418.9 549.7 L1422.1 548.4 L1425.3 547.1 L1428.5 545.5 L1431.6 544.0 L1434.8 542.4 L1437.9 540.8 L1441.1 538.9 L1444.2 537.0 L1447.3 535.1 L1450.5 533.2 L1453.9 531.1 L1457.2 529.0 L1460.6 526.9 L1463.1 525.2 L1465.7 523.6 L1468.2 521.9 L1470.7 519.8 L1473.3 517.7 L1475.8 515.6 L1478.9 513.7 L1482.1 511.8 L1485.2 511.5 L1488.4 511.1 L1492.2 511.5 L1495.9 512.0 L1499.7 512.4 L1502.7 511.8 L1505.6 511.1 L1508.6 510.5 L1512.0 510.1 L1515.3 509.6 L1518.7 509.2 L1522.1 509.0 L1525.4 508.8 L1528.8 508.6 L1532.6 507.1 L1536.4 505.5 L1539.3 503.4 L1542.3 501.2 L1545.2 499.1 L1548.1 497.0 L1551.1 494.9 L1554.0 492.8 L1557.4 491.1 L1560.7 489.5 L1564.1 487.8 L1567.5 487.2 L1570.8 486.5 L1574.2 485.9 L1577.4 485.3 L1580.6 484.6 L1583.7 484.0 L1586.9 483.4 L1590.3 481.9 L1593.6 480.4 L1597.0 478.9 L1599.5 476.8 L1602.0 474.7 L1604.5 472.6 L1607.9 470.9 L1611.2 469.3 L1614.6 467.6 L1617.8 467.0 L1620.9 466.4 L1624.1 465.7 L1627.3 465.1 L1630.9 464.2 L1634.4 463.4 L1638.0 462.5 L1642.4 461.5"/>
<path class="p" d="M100.0 502.0 L102.8 504.0 L105.3 506.3 L107.9 508.7 L110.4 511.0 L112.9 513.3 L115.5 515.7 L118.0 518.0 L120.3 520.1 L122.7 522.2 L125.0 524.2 L127.3 526.3 L129.7 528.4 L132.0 530.5 L134.4 533.3 L136.8 536.1 L139.3 538.9 L141.7 541.7 L143.5 544.5 L145.2 547.2 L147.0 550.0 L149.3 552.5 L151.7 555.0 L154.0 557.5 L156.3 560.0 L158.7 562.5 L161.0 565.0 L163.2 567.8 L165.4 570.6 L167.6 573.4 L169.8 576.2 L172.0 579.0 L173.2 582.0 L174.3 585.0 L175.5 588.0 L176.6 591.0 L177.8 594.0 L178.8 597.4 L179.9 600.8 L180.9 604.2 L182.0 607.6 L183.0 611.0 L184.2 613.8 L185.3 616.7 L186.5 619.5 L187.7 622.3 L188.8 625.2 L190.0 628.0 L190.5 631.0 L191.0 634.0 L191.5 637.0 L192.0 640.0 L192.5 643.0 L193.0 646.0 L193.8 649.5 L194.5 653.0 L195.2 656.5 L196.0 660.0 L198.4 662.2 L200.8 664.4 L203.2 666.6 L205.6 668.8 L208.0 671.0 L210.8 672.4 L213.6 673.8 L216.4 675.2 L219.2 676.6 L222.0 678.0 L225.4 678.8 L228.8 679.6 L232.2 680.4 L235.6 681.2 L239.0 682.0 L241.8 684.0 L244.6 686.0 L247.4 688.0 L250.2 690.0 L253.0 692.0 L257.5 695.8 L260.4 697.6 L263.3 699.3 L266.2 701.1 L269.1 702.8 L272.0 704.6 L274.4 706.5 L276.9 708.4 L279.4 710.3 L281.8 712.2 L284.2 714.1 L286.7 716.0 L289.6 717.2 L292.5 718.5 L295.4 719.8 L298.2 721.0 L301.1 722.2 L304.0 723.5 L307.0 725.2 L309.9 726.9 L312.9 728.6 L315.8 730.3 L318.8 732.0 L320.2 734.7 L321.7 737.3 L323.1 740.0 L324.6 742.7 L326.1 745.3 L327.5 748.0 L329.0 751.0 L330.4 754.0 L331.9 757.0 L333.3 760.0 L334.8 763.0 L335.5 766.3 L336.2 769.7 L336.9 773.0 L337.6 776.3 L338.3 779.7 L339.0 783.0 L339.3 786.5 L339.5 789.9 L339.8 793.4 L340.1 796.9 L340.3 800.3 L340.6 803.8 L340.1 807.2 L339.5 810.6 L339.0 814.0 L336.0 816.3 L333.0 818.7 L330.0 821.0 L327.2 822.9 L324.4 824.8 L321.6 826.6 L318.8 828.5 L315.9 830.6 L312.9 832.8 L309.9 834.9 L307.0 837.0 L304.0 840.0 L301.0 843.0 L302.5 846.0 L304.0 848.9 L305.5 851.8 L307.0 854.8 L309.2 857.7 L311.4 860.6 L313.6 863.6 L315.8 866.5 L317.8 863.6 L319.7 860.6 L321.7 857.7 L325.5 856.5 L329.2 855.2 L333.0 854.0 L334.5 856.8 L336.0 859.5 L337.5 862.2 L339.0 865.0 L340.0 867.9 L341.0 870.8 L342.0 873.7 L344.0 877.1 L346.0 880.6 L348.0 884.0 L350.5 889.0 L353.4 887.0 L356.2 885.0 L359.1 883.0 L361.9 881.0 L364.8 879.0 L366.2 881.8 L367.7 884.6 L369.1 887.4 L370.6 890.2 L372.0 893.0 L373.8 895.7 L375.6 898.4 L377.4 901.1 L379.3 903.9 L381.1 906.6 L382.9 909.3 L384.7 912.0 L387.0 914.0 L389.2 916.0 L391.5 918.0 L393.7 920.0 L396.0 922.0 L399.1 922.7 L402.2 923.3 L405.2 924.0 L408.3 924.7 L411.4 925.3 L414.5 926.0 L417.6 926.7 L420.7 927.3 L423.8 928.0 L426.8 928.7 L429.9 929.3 L433.0 930.0 L436.1 930.5 L439.2 931.0 L442.2 931.5 L445.3 932.0 L448.4 932.5 L451.5 933.0 L454.6 933.5 L457.7 934.0 L460.8 934.5 L463.8 935.0 L466.9 935.5 L470.0 936.0 L473.2 936.8 L476.4 937.6 L479.5 938.3 L482.7 939.1 L485.9 939.9 L489.1 940.7 L492.2 941.4 L495.4 942.2 L498.6 943.0 L501.4 944.2 L504.2 945.5 L507.0 946.8 L509.8 948.0 L512.6 949.2 L515.4 950.5 L518.2 951.8 L521.0 953.0 L523.9 954.6 L526.8 956.2 L529.6 957.9 L532.5 959.5 L535.4 961.1 L538.2 962.8 L541.1 964.4 L544.0 966.0 L547.5 966.5 L551.0 967.0 L553.8 963.5 L556.5 960.0 L559.4 957.7 L562.2 955.4 L565.1 953.0 L568.0 950.7 L569.9 948.0 L571.8 945.3 L573.6 942.6 L575.5 939.9 L577.4 937.1 L579.2 934.4 L581.1 931.7 L583.0 929.0 L582.4 925.9 L581.9 922.9 L581.3 919.8 L580.7 916.8 L580.1 913.7 L579.6 910.7 L579.0 907.6 L577.7 904.5 L576.4 901.4 L575.1 898.3 L573.9 895.3 L572.6 892.2 L571.3 889.1 L570.0 886.0 L568.0 883.2 L566.0 880.3 L564.0 877.5 L560.6 877.4 L557.2 877.3 L553.8 877.2 L550.4 877.1 L547.0 877.0 L543.7 876.2 L540.4 875.5 L537.1 874.8 L533.8 874.0 L530.7 874.5 L527.6 875.0 L524.5 875.5 L521.3 876.0 L518.2 876.5 L515.1 877.0 L512.0 877.5 L509.0 877.8 L505.9 878.1 L502.9 878.4 L499.8 878.8 L496.8 879.1 L493.7 879.4 L490.7 879.7 L487.5 879.1 L484.3 878.5 L481.1 877.9 L477.9 877.4 L474.6 876.8 L471.4 876.2 L468.2 875.6 L465.0 875.0 L462.2 876.8 L459.5 878.5 L456.8 880.2 L454.0 882.0 L451.2 880.2 L448.5 878.5 L445.8 876.8 L443.0 875.0 L447.6 873.0 L449.5 870.6 L451.3 868.1 L453.2 865.7 L455.0 863.3 L456.9 860.9 L458.7 858.4 L460.6 856.0 L462.4 853.2 L464.3 850.5 L466.1 847.7 L468.0 844.9 L469.8 842.1 L471.7 839.4 L473.5 836.6 L475.6 838.9 L477.7 841.3 L479.8 843.6 L481.8 845.9 M491.2 847.2 L493.8 845.4 L496.4 843.7 L499.0 842.0 L502.4 844.0 L505.8 846.0 L506.1 849.0 L506.3 852.0 L506.6 855.0 L506.8 858.0 L510.4 860.0 L514.0 862.0 L517.3 861.7 L520.6 861.3 L523.9 861.0 L527.2 860.7 L530.5 860.3 L533.8 860.0 L536.9 858.5 L540.0 857.0 L543.0 855.0 L545.9 853.0 L548.8 851.0 L551.8 849.0 L553.7 846.5 L555.5 843.9 L557.4 841.4 L559.3 838.8 L561.1 836.2 L563.0 833.7 L564.9 836.7 L566.9 839.6 L568.8 842.5 L570.7 845.5 L572.6 848.3 L574.5 851.1 L576.5 853.9 L578.4 856.7 L580.8 854.6 L583.3 852.5 L585.7 850.4 L588.1 848.2 L590.6 846.1 L593.0 844.0 L595.4 841.7 L597.8 839.4 L600.2 837.1 L602.5 834.7 L604.9 832.4 L607.3 830.1 L609.7 827.8 L610.5 824.2 L611.4 820.7 L612.2 817.1 L613.0 813.6 L615.4 811.5 L617.8 809.3 L620.2 807.1 L622.6 805.0 L625.6 803.0 L628.5 801.0 L631.5 799.0 L634.5 797.0 L636.9 794.9 L639.2 792.7 L641.6 790.6 L643.9 788.4 L646.3 786.3 L648.6 784.1 L651.0 782.0 L653.9 781.0 L656.8 779.9 L659.6 778.9 L662.5 777.9 L665.4 776.8 L668.2 775.8 L671.1 774.7 L674.0 773.7 L677.2 773.3 L680.5 772.9 L683.7 772.5 L687.0 772.2 L690.2 771.8 L693.5 771.4 L696.7 771.0 L699.5 769.9 L702.4 768.8 L705.2 767.6 L708.0 766.5 L710.9 765.4 L713.7 764.2 L716.6 763.1 L719.4 762.0 L722.6 761.3 L725.8 760.7 L729.0 760.0 L732.2 759.4 L735.4 758.7 L738.6 758.0 L741.8 757.4 L745.0 756.7 L747.8 755.0 L750.6 753.2 L753.4 751.5 L756.2 749.7 L759.0 748.0 L762.3 747.3 L765.7 746.6 L769.0 745.9 L772.3 745.2 L775.7 744.5 L779.0 743.8 L782.1 744.1 L785.2 744.5 L788.3 744.8 L791.4 745.2 L794.5 745.5 L797.6 745.7 L800.6 745.8 L803.7 746.0 L806.7 746.2 L809.8 746.3 L812.8 746.5 L815.9 746.7 L818.9 746.8 L822.0 747.0 L825.0 747.0 L828.0 747.0 L831.0 747.0 L834.0 747.0 L837.0 747.0 L840.0 747.0 L843.0 747.0 L846.0 747.0 L849.0 747.0 L852.0 747.0 L855.0 747.0 L858.0 747.0 L860.9 746.0 L863.9 745.0 L866.8 744.0 L869.8 743.0 L872.7 742.0 L875.7 741.0 L878.6 740.0 L881.6 739.0 L884.5 738.0 L887.9 737.2 L891.3 736.4 L894.8 735.6 L898.2 734.8 L901.6 734.0 L904.5 732.2 L907.4 730.4 L910.2 728.6 L913.1 726.8 L916.0 725.0 L918.8 723.9 L921.6 722.8 L924.4 721.8 L927.2 720.7 L930.0 719.6 L933.5 719.2 L937.0 718.8 L940.5 718.4 L944.0 718.0 L947.2 717.9 L950.4 717.7 L953.6 717.6 L956.8 717.5 L960.0 717.3 L963.2 717.2 L966.4 717.1 L969.6 716.9 L972.8 716.8 L975.9 716.0 L979.1 715.2 L982.2 714.4 L985.3 713.6 L988.5 712.9 L991.6 712.1 L994.7 711.3 L997.9 710.5 L1001.0 709.7 L1003.9 708.7 L1006.8 707.7 L1009.6 706.7 L1012.5 705.7 L1015.4 704.7 L1018.3 703.7 L1021.2 702.7 L1024.0 701.7 L1026.9 700.7 L1029.8 699.7 L1032.9 698.6 L1036.1 697.5 L1039.2 696.4 L1042.3 695.3 L1045.5 694.2 L1048.6 693.1 L1051.7 692.0 L1054.9 690.9 L1058.0 689.8 L1061.2 689.2 L1064.4 688.5 L1067.6 687.9 L1070.8 687.2 L1073.9 686.6 L1077.1 685.9 L1080.3 685.3 L1083.5 684.6 L1086.7 684.0 L1089.9 683.3 L1093.1 682.6 L1096.2 681.9 L1099.4 681.2 L1102.6 680.5 L1105.8 679.7 L1109.0 679.0 L1112.1 678.3 L1115.3 677.6 L1118.5 676.9 L1121.7 676.2 L1124.8 675.6 L1128.0 674.9 L1131.2 674.3 L1134.3 673.6 L1137.5 673.0 L1140.7 672.3 L1143.8 671.7 L1147.0 671.0 L1149.8 669.8 L1152.7 668.7 L1155.5 667.5 L1158.3 666.3 L1161.2 665.2 L1164.0 664.0 L1166.8 662.8 L1169.7 661.7 L1172.5 660.5 L1175.3 659.3 L1178.2 658.2 L1181.0 657.0 L1183.9 656.0 L1186.7 655.0 L1189.6 654.0 L1192.4 653.0 L1195.3 652.0 L1198.2 651.0 L1201.0 650.0 L1203.9 649.0 L1206.7 648.0 L1209.6 647.0 L1212.5 645.7 L1215.4 644.4 L1218.3 643.1 L1221.3 641.9 L1224.2 640.6 L1227.1 639.3 L1230.0 638.0 L1231.7 640.0 L1235.0 639.0 L1238.3 638.0 L1241.7 637.0 L1245.0 636.0 L1248.3 635.0 L1251.3 633.7 L1254.3 632.3 L1257.3 631.0 L1260.3 629.6 L1263.3 628.3 L1266.6 627.5 L1270.0 626.6 L1273.3 625.8 L1277.2 625.8 L1281.1 625.8 L1285.0 625.8 L1287.3 623.3 L1289.7 620.8 L1292.0 618.3 L1294.4 615.8 L1296.7 613.3 L1300.0 612.5 L1303.3 611.7 L1306.7 610.8 L1310.0 610.0 L1313.3 609.2 L1316.6 608.4 L1320.0 607.5 L1323.3 606.7 L1326.7 605.8 L1330.0 605.0 L1333.0 603.9 L1336.1 602.8 L1339.2 601.6 L1342.2 600.5 L1345.2 599.4 L1348.3 598.3 L1350.8 596.6 L1353.3 595.0 L1355.8 593.3 L1358.3 591.6 L1360.8 590.0 L1363.3 588.3 L1366.3 587.1 L1369.3 586.0 L1372.3 584.8 L1375.3 583.7 L1378.3 582.5 M1405.1 568.0 L1408.0 566.7 L1411.0 565.5 L1413.9 564.2 L1416.8 562.9 L1419.8 561.7 L1422.7 560.4 L1425.7 559.1 L1428.8 557.9 L1431.8 556.6 L1434.9 555.4 L1437.9 554.1 L1440.9 552.5 L1443.9 550.8 L1447.0 549.2 L1450.0 547.5 L1453.0 545.9 L1455.7 544.2 L1458.5 542.4 L1461.2 540.7 L1463.9 539.0 L1466.7 537.2 L1469.4 535.5 L1472.4 536.4 L1475.5 537.4 L1478.5 538.3 L1481.6 539.3 L1484.6 540.2 L1487.3 538.9 L1490.1 537.7 L1492.8 536.4 L1495.5 535.1 L1498.3 533.9 L1501.0 532.6 L1504.5 531.9 L1508.0 531.2 L1511.4 530.5 L1514.9 529.8 L1518.1 530.4 L1521.2 530.9 L1524.4 531.5 L1527.5 532.0 L1530.7 532.6 L1533.0 530.4 L1535.2 528.3 L1537.5 526.1 L1539.7 523.9 L1542.0 521.7 L1544.2 519.6 L1546.5 517.4 L1549.5 516.1 L1552.5 514.9 L1555.6 513.6 L1558.6 512.4 L1561.6 511.1 L1564.6 509.7 L1567.7 508.3 L1570.7 507.0 L1573.8 505.6 L1576.8 504.2 L1579.8 503.4 L1582.8 502.7 L1585.9 501.9 L1588.9 501.2 L1591.9 500.4 L1594.4 498.6 L1597.0 496.8 L1599.5 495.0 L1602.0 493.3 L1604.6 491.5 L1607.1 489.7 L1609.6 487.9 L1612.1 486.1 L1614.7 484.3 L1617.2 482.5 L1619.7 480.7 L1622.2 478.9 L1625.4 478.8 L1628.5 478.7 L1631.7 478.5 L1634.8 478.4 L1638.0 478.3 L1642.4 478.3"/>
<path class="p" d="M98.0 719.2 L101.0 719.9 L104.0 720.7 L107.0 721.4 L110.0 722.1 L112.9 722.8 L115.9 723.5 L118.9 724.3 L121.9 725.0 L124.8 726.1 L127.7 727.3 L130.6 728.4 L133.5 729.5 L136.5 730.7 L139.4 731.8 L142.3 732.9 L145.2 734.1 L148.1 735.2 L151.0 736.7 L153.9 738.1 L156.8 739.6 L159.8 741.1 L162.7 742.5 L165.6 744.0 L168.2 745.5 L170.9 746.9 L173.5 748.4 L176.2 749.8 L178.8 751.3 L181.7 753.5 L184.6 755.6 L187.5 757.8 L190.4 760.0 L192.8 762.4 L195.3 764.9 L197.7 767.3 L196.7 770.7 L195.8 774.1 L194.8 777.5 L192.4 780.4 L189.9 783.4 L187.5 786.3 L185.3 788.5 L183.2 790.6 L181.0 792.8 L178.8 795.0 L179.8 798.4 L180.7 801.8 L181.7 805.2 L183.6 808.6 L185.6 812.0 L187.5 815.4 L188.5 818.8 L189.4 822.2 L190.4 825.6 L191.9 829.0 L193.3 832.4 L194.8 835.8 L198.0 835.5 L201.2 835.2 L204.4 835.0 L207.6 834.7 L210.8 834.4 L212.5 837.1 L214.2 839.7 L215.9 842.4 L217.6 845.1 L219.3 847.7 L221.0 850.4 L222.0 853.3 L223.0 856.3 L224.0 859.2 L227.7 858.5 L231.3 857.7 L234.9 855.9 L238.5 854.1 L241.4 852.9 L244.3 851.7 L247.3 850.6 L250.2 849.4 L253.1 848.2 L257.0 847.7 L260.9 847.3 L264.8 846.8 L268.2 847.5 L271.6 848.3 L275.0 849.0 L277.9 851.0 L280.8 853.1 L283.8 855.1 L286.7 857.2 L289.6 859.2 L292.5 860.9 L295.4 862.7 L298.4 864.4 L301.3 866.2 L304.2 867.9 L307.1 869.9 L310.0 872.0 L313.0 874.0 L315.9 876.1 L318.8 878.1 L321.7 879.6 L324.6 881.0 L327.5 882.5 L330.4 883.9 L333.3 885.4 L336.9 886.1 L340.6 886.8 L344.2 887.6 L347.9 888.3 L350.5 886.3 L353.1 884.2 L355.8 882.2 L358.4 880.1 L361.0 878.1 L363.2 880.6 L365.4 883.2 L367.6 885.8 L369.8 888.3 L366.6 888.8 L363.5 889.3 L360.3 889.7 L357.2 890.2 L354.0 890.7 L356.4 888.8 L358.7 886.9 L361.1 885.0 L363.5 883.2 L365.8 881.3 L368.2 879.4 L369.3 882.2 L370.5 885.1 L371.6 887.9 L372.8 890.8 L373.9 893.6 L375.7 896.1 L377.4 898.6 L379.2 901.1 L381.0 903.5 L382.8 906.0 L384.6 908.5 L386.3 911.0 L388.1 913.5 L390.0 915.9 L391.9 918.3 L393.8 920.6 L395.7 923.0 L397.6 925.4 L399.5 927.8 L402.5 928.2 L405.6 928.7 L408.6 929.1 L411.7 929.5 L414.7 930.0 L417.8 930.4 L420.8 930.9 L423.9 931.3 L426.9 931.7 L430.0 932.2 L433.0 932.6 L436.1 933.1 L439.2 933.6 L442.2 934.1 L445.3 934.6 L448.4 935.1 L451.5 935.5 L454.6 936.0 L457.7 936.5 L460.8 937.0 L463.8 937.5 L466.9 938.0 L470.0 938.5 L473.2 939.3 L476.4 940.2 L479.5 941.0 L482.7 941.8 L485.9 942.7 L489.1 943.5 L492.2 944.3 L495.4 945.2 L498.6 946.0 L501.4 947.4 L504.2 948.8 L507.0 950.1 L509.8 951.5 L512.6 952.9 L515.4 954.2 L518.2 955.6 L521.0 957.0 L523.9 958.8 L526.8 960.5 L529.6 962.2 L532.5 964.0 L535.4 965.8 L538.2 967.5 L541.1 969.2 L544.0 971.0 L547.0 972.8 L550.0 974.5 L553.0 976.2 L556.0 978.0 L559.2 979.4 L562.4 980.8 L565.6 982.2 L568.8 983.6 L572.0 985.0 L575.2 984.2 L578.5 983.5 L581.8 982.8 L585.0 982.0 L585.7 978.9 L586.3 975.7 L587.0 972.6 L587.6 969.4 L588.3 966.3 L588.9 963.1 L589.6 960.0 L588.7 956.9 L587.9 953.7 L587.0 950.6 L588.5 947.6 L590.0 944.7 L591.5 941.8 L593.0 938.8 L595.1 935.8 L597.2 932.9 L599.3 930.0 L601.4 927.0 L603.5 924.0 L605.5 921.0 L607.6 918.0 L609.7 915.0 L610.3 912.0 L610.9 909.0 L611.4 906.0 L612.0 903.0 L611.2 900.0 L610.5 897.0 L609.7 894.0 L609.5 890.8 L609.2 887.7 L609.0 884.5 L609.6 881.3 L610.2 878.2 L610.8 875.0 L612.4 871.9 L614.0 868.7 L615.6 865.6 L617.4 863.0 L619.1 860.3 L620.9 857.6 L622.6 855.0 L624.7 852.6 L626.8 850.2 L628.8 847.8 L630.9 845.4 L633.0 843.0 L633.6 840.0 L634.3 837.0 L635.0 834.0 L635.6 831.0 L636.7 828.0 L637.9 825.0 L639.0 822.0 L641.3 819.7 L643.7 817.3 L646.0 815.0 L649.0 812.9 L652.0 810.8 L655.0 808.6 L658.0 806.5 L661.0 804.4 L664.0 802.2 L667.0 800.1 L670.0 798.0 L673.2 797.6 L676.4 797.2 L679.6 796.8 L682.8 796.4 L686.0 796.0 M715.3 786.5 L718.2 785.5 L721.2 784.7 L724.1 783.9 L727.0 783.1 L730.0 782.3 L733.0 781.5 L735.9 780.7 L738.8 779.9 L741.8 779.1 L744.9 778.1 L748.0 777.0 L751.1 776.0 L754.3 774.9 L757.4 773.9 L760.5 772.8 L763.6 771.8 L766.6 771.1 L769.7 770.4 L772.7 769.7 L775.7 769.0 L778.8 768.3 L781.8 767.6 L784.8 766.9 L787.9 766.2 L790.9 765.5 L794.0 765.3 L797.1 765.1 L800.2 764.9 L803.3 764.7 L806.3 764.5 L809.4 764.4 L812.5 764.2 L815.6 764.0 L818.7 763.8 L821.8 763.6 L824.8 764.0 L827.7 764.4 L830.7 764.9 L833.7 765.3 L836.7 765.7 L839.6 766.1 L842.6 766.5 L845.6 766.9 L848.6 767.4 L851.5 767.8 L854.5 768.2 L857.2 766.6 L860.0 765.0 L862.8 763.4 L865.5 761.8 L868.5 759.4 L871.5 756.9 L874.5 754.5 L877.8 753.4 L881.1 752.3 L884.3 751.3 L887.6 750.2 L890.9 749.1 L892.2 752.3 L893.5 755.5 L894.7 758.8 L896.0 762.0 L899.1 762.0 L902.2 762.0 L905.3 762.0 L908.4 762.0 L911.5 762.0 L914.5 762.0 L917.6 762.0 L920.7 762.0 L923.8 762.0 L926.9 762.0 L930.0 762.0 L932.9 763.2 L935.7 764.3 L938.6 765.5 L941.4 766.7 L944.3 767.9 L947.2 769.0 L950.0 770.2 L952.9 771.4 L955.7 772.5 L958.6 773.7 L961.8 774.6 L964.9 775.5 L968.1 776.5 L971.2 777.4 L974.4 778.3 L977.5 779.2 L980.7 780.2 L983.8 781.1 L987.0 782.0 L990.2 782.0 L993.4 782.0 L996.6 782.0 L999.9 782.0 L1003.1 782.0 L1006.3 782.0 L1009.5 782.0 L1012.7 782.0 L1013.4 778.7 L1014.1 775.3 L1014.9 772.0 L1015.6 768.7 L1016.3 765.3 L1017.0 762.0 L1018.4 759.1 L1019.9 756.3 L1021.3 753.4 L1022.7 750.6 L1024.1 747.7 L1025.6 744.9 L1027.0 742.0 L1030.1 741.8 L1033.2 741.5 L1036.3 741.3 L1039.4 741.0 L1042.5 740.8 L1045.6 740.6 L1048.7 740.3 L1051.8 740.1 L1054.9 739.8 L1058.0 739.6 L1061.2 738.8 L1064.4 738.0 L1067.6 737.2 L1070.8 736.4 L1073.9 735.7 L1077.1 734.9 L1080.3 734.1 L1083.5 733.3 L1086.7 732.5 L1089.6 731.2 L1092.5 729.9 L1095.4 728.6 L1098.3 727.3 L1101.2 726.0 L1104.0 724.6 L1106.9 723.3 L1109.8 722.0 L1112.7 720.7 L1115.6 719.4 L1118.5 718.1 L1121.7 717.1 L1125.0 716.1 L1128.2 715.1 L1131.5 714.0 L1134.7 713.0 L1138.0 712.0 L1141.2 711.0 L1143.7 708.9 L1146.2 706.8 L1148.7 704.6 L1151.2 702.5 L1153.7 700.4 L1156.2 698.2 L1158.7 696.1 L1161.2 694.0 L1164.0 692.2 L1166.9 690.4 L1169.8 688.6 L1172.6 686.9 L1175.5 685.1 L1178.3 683.3 L1181.2 681.5 L1184.0 679.7 L1186.8 677.9 L1189.7 676.0 L1192.5 674.2 L1195.4 672.4 L1198.2 670.6 L1201.1 668.7 L1203.9 666.9 L1206.7 665.9 L1209.6 664.9 L1212.4 663.9 L1215.3 662.9 L1218.1 661.9 L1220.9 660.9 L1223.8 659.9 L1226.6 658.9 L1229.5 657.9 L1232.3 656.9 L1235.4 657.3 L1238.5 657.6 L1241.6 658.0 L1244.7 658.3 L1247.8 658.7 L1250.8 659.0 L1253.9 659.4 L1257.0 659.8 L1260.1 660.1 L1263.2 660.5 L1266.3 660.8 L1269.4 661.2 L1272.0 659.4 L1274.5 657.5 L1277.1 655.7 L1279.6 653.8 L1282.2 652.0 L1284.8 650.1 L1287.3 648.2 L1289.9 646.4 L1292.4 644.6 L1295.0 642.7 L1298.3 642.2 L1301.7 641.6 L1305.0 641.1 L1308.4 640.5 L1311.7 640.0 L1314.5 638.0 L1317.2 636.1 L1320.0 634.1 L1322.8 632.2 L1325.5 630.2 L1328.3 628.3 L1330.9 626.5 L1333.6 624.7 L1336.2 622.9 L1338.8 621.2 L1341.4 619.4 L1344.1 617.6 L1346.7 615.8 L1350.0 615.0 L1353.3 614.2 L1356.7 613.3 L1360.0 612.5 L1363.3 611.7 L1366.7 610.9 L1370.0 610.0 L1373.3 609.1 L1376.7 608.3 L1379.4 606.6 L1382.0 605.0 L1384.7 603.3 L1387.3 601.7 L1390.0 600.0 L1392.5 598.3 L1395.0 596.6 L1397.5 595.0 L1400.0 593.3 L1402.9 591.8 L1405.8 590.4 L1408.7 589.0 L1411.7 587.5 L1414.6 586.0 L1417.5 584.6 L1420.4 583.2 L1423.3 581.7 L1426.2 581.0 L1429.2 580.2 L1432.1 579.5 L1435.0 578.8 L1437.9 578.0 L1440.8 577.3 L1443.8 576.5 L1446.7 575.8 L1450.0 575.1 L1453.4 574.4 L1456.7 573.7 L1460.0 572.9 L1463.3 572.2 L1466.7 571.5 L1470.0 570.8 L1472.5 568.9 L1475.0 566.9 L1477.5 565.0 L1480.0 563.1 L1482.5 561.1 L1485.0 559.2 L1484.6 559.1 L1487.9 559.0 L1491.2 558.9 L1494.4 558.7 L1497.7 558.6 L1501.0 558.5 L1504.6 558.0 L1508.2 557.5 L1511.9 557.1 L1515.5 556.6 L1518.1 554.8 L1520.8 553.0 L1523.4 551.2 L1526.0 549.5 L1528.7 547.7 L1531.3 545.9 L1533.8 544.2 L1536.4 542.5 L1538.9 540.8 L1541.4 539.2 L1544.0 537.5 L1546.5 535.8 L1549.5 534.7 L1552.5 533.5 L1555.6 532.4 L1558.6 531.2 L1561.6 530.1 L1564.6 529.3 L1567.7 528.6 L1570.7 527.8 L1573.8 527.1 L1576.8 526.3 L1579.8 525.4 L1582.8 524.5 L1585.9 523.7 L1588.9 522.8 L1591.9 521.9 L1594.4 519.6 L1597.0 517.3 L1599.5 515.0 L1602.0 512.6 L1604.6 510.3 L1607.1 508.0 L1610.1 506.5 L1613.1 505.0 L1616.2 503.4 L1619.2 501.9 L1622.2 500.4 L1624.8 498.6 L1627.5 496.8 L1630.1 495.0 L1632.7 493.3 L1635.4 491.5 L1638.0 489.7 L1642.4 488.4"/>
<path class="p" d="M98.0 723.3 L101.0 723.9 L104.0 724.5 L107.0 725.1 L110.0 725.8 L112.9 726.4 L115.9 727.0 L118.9 727.6 L121.9 728.2 L124.8 729.2 L127.7 730.2 L130.6 731.1 L133.5 732.1 L136.5 733.1 L139.4 734.1 L142.3 735.0 L145.2 736.0 L148.1 737.0 L150.9 738.4 L153.6 739.8 L156.4 741.2 L159.2 742.7 L161.9 744.1 L164.7 745.5 L167.9 747.3 L171.1 749.1 L174.4 750.9 L177.6 752.7 L180.4 754.9 L183.2 757.1 L186.1 759.3 L188.9 761.5 L191.2 764.0 L193.4 766.5 L195.7 769.0 L194.6 772.2 L193.6 775.5 L192.5 778.7 L189.9 781.5 L187.2 784.4 L184.6 787.2 L182.4 789.3 L180.2 791.4 L178.1 793.5 L175.9 795.6 L177.1 798.9 L178.2 802.2 L179.4 805.5 L180.9 808.1 L182.4 810.8 L184.0 813.4 L185.5 816.0 L186.5 819.4 L187.4 822.8 L188.4 826.2 L189.1 829.5 L189.7 832.8 L190.4 836.1 L193.4 836.2 L196.5 836.4 L199.6 836.6 L202.6 836.7 L204.5 839.7 L206.4 842.8 L208.2 845.8 L210.1 848.9 L212.0 851.9 L213.6 854.7 L215.1 857.6 L216.7 860.4 L219.8 860.2 L222.9 860.1 L226.0 859.9 L229.1 859.1 L232.2 858.2 L235.4 857.4 L238.5 856.6 L241.4 855.4 L244.3 854.2 L247.3 853.1 L250.2 851.9 L253.1 850.7 L257.0 850.1 L260.9 849.6 L264.8 849.0 L268.2 849.8 L271.6 850.5 L275.0 851.3 L277.9 853.3 L280.8 855.4 L283.8 857.4 L286.7 859.5 L289.6 861.5 L292.5 863.2 L295.4 865.0 L298.4 866.7 L301.3 868.5 L304.2 870.2 L307.1 872.2 L310.0 874.2 L313.0 876.1 L315.9 878.1 L318.8 880.1 L321.7 881.6 L324.6 883.0 L327.5 884.5 L330.4 885.9 L333.3 887.4 L336.9 888.1 L340.6 888.8 L344.2 889.6 L347.9 890.3 L350.5 888.4 L353.0 886.5 L355.6 884.7 L358.1 882.8 L360.7 880.9 L362.7 883.2 L364.6 885.5 L366.6 887.8 L368.6 890.1 L365.4 890.5 L362.2 890.9 L359.0 891.3 L355.8 891.7 L352.6 892.1 L355.0 890.2 L357.3 888.3 L359.7 886.5 L362.1 884.6 L364.4 882.7 L366.8 880.8 L367.9 883.6 L369.1 886.5 L370.2 889.3 L371.4 892.2 L372.5 895.0 L374.3 897.5 L376.1 900.0 L377.8 902.5 L379.6 905.0 L381.4 907.4 L383.1 909.9 L384.9 912.4 L386.7 914.9 L388.6 917.3 L390.5 919.7 L392.4 922.0 L394.3 924.4 L396.2 926.8 L398.1 929.2 L401.3 929.8 L404.5 930.4 L407.7 931.1 L410.9 931.7 L414.1 932.3 L417.4 932.9 L420.6 933.5 L423.8 934.2 L427.0 934.8 L430.2 935.4 L433.3 935.9 L436.4 936.4 L439.5 937.0 L442.6 937.5 L445.7 938.0 L448.9 938.5 L452.0 939.0 L455.1 939.5 L458.2 940.1 L461.3 940.6 L464.4 941.1 L467.6 942.1 L470.7 943.0 L473.9 944.0 L477.1 944.9 L480.2 945.9 L483.4 946.8 L486.6 947.8 L489.7 948.7 L492.9 949.7 L495.8 951.1 L498.6 952.6 L501.4 954.0 L504.3 955.4 L507.2 956.8 L510.0 958.2 L512.9 959.7 L515.7 961.1 L518.5 962.9 L521.4 964.8 L524.2 966.6 L527.1 968.4 L529.9 970.2 L532.8 972.1 L535.6 973.9 L538.4 975.5 L541.3 977.2 L544.1 978.8 L547.0 980.4 L549.8 982.0 L552.7 983.7 L555.5 985.3 L558.4 987.4 L561.2 989.5 L564.0 991.7 L566.9 993.8 L568.0 996.6 L569.2 999.5 L570.3 1002.3 L571.5 1005.2 L572.6 1008.0 L570.7 1010.9 L568.8 1013.7 L566.9 1016.5 L565.0 1019.4 L563.1 1022.2 L561.2 1025.1 L564.5 1025.9 L567.7 1026.7 L571.0 1027.5 L574.2 1028.4 L577.5 1029.2 L580.7 1030.0 L584.0 1030.8 L586.4 1032.8 L588.9 1034.9 L591.3 1036.9 L593.8 1039.0 L596.2 1041.0 L598.7 1043.1 L601.1 1045.1 L603.2 1047.2 L605.4 1049.3 L607.5 1051.5 L609.6 1053.6 L611.7 1055.7 L613.9 1057.8 L616.0 1060.0 L618.1 1062.1 L620.2 1064.5 L622.2 1066.9 L624.3 1069.2 L626.4 1071.6 L628.4 1074.0 L630.5 1076.4 L632.6 1078.7 L634.6 1081.1 L636.7 1083.5 L639.5 1085.0 L642.2 1086.5 L645.0 1088.0 L642.3 1085.3 L639.7 1082.7 L637.0 1080.0 L634.9 1077.5 L632.7 1075.1 L630.6 1072.6 L628.4 1070.1 L626.3 1067.6 L624.1 1065.2 L622.0 1062.7 L620.1 1059.9 L618.3 1057.1 L616.4 1054.3 L614.6 1051.4 L612.7 1048.6 L610.9 1045.8 L609.0 1043.0 L608.0 1040.2 L607.0 1037.3 L606.0 1034.5 L605.0 1031.7 L604.0 1028.8 L603.0 1026.0 L603.1 1023.0 L603.3 1020.0 L603.4 1017.0 L603.6 1014.0 L603.7 1011.0 L603.9 1008.0 L604.0 1005.0 L604.5 1001.7 L605.0 998.3 L605.5 995.0 L606.0 991.7 L606.5 988.3 L607.0 985.0 L607.5 981.9 L608.0 978.8 L608.4 975.6 L608.9 972.5 L609.4 969.4 L609.8 966.2 L610.3 963.1 L610.8 960.0 L611.1 957.0 L611.4 954.0 L611.7 951.0 L612.0 948.0 L613.2 944.5 L614.4 941.1 L615.6 937.6 L617.1 934.4 L618.5 931.2 L620.0 928.0 L621.9 924.8 L623.7 921.5 L625.5 918.2 L627.4 915.0 L627.9 911.7 L628.3 908.4 L628.8 905.2 L629.2 901.9 L629.7 898.6 L630.9 895.6 L632.1 892.7 L633.3 889.8 L634.5 886.8 L636.4 884.4 L638.3 882.1 L640.2 879.7 L642.2 877.3 L644.1 875.0 L646.0 872.6 L647.4 869.8 L648.8 867.0 L650.2 864.1 L651.6 861.3 L653.0 858.5 L654.2 855.4 L655.4 852.3 L656.6 849.2 L657.8 846.1 L659.0 843.0 L660.5 840.0 L662.0 837.0 L663.5 834.0 L665.0 831.0 L667.0 828.7 L669.0 826.3 L671.0 824.0 L674.5 823.5 L678.0 823.0 L681.5 822.5 L685.0 822.0 L687.4 820.1 L689.8 818.3 L692.2 816.4 L694.5 814.6 L696.9 812.7 L699.3 810.9 L701.7 809.0 L704.8 809.7 L707.8 810.4 L710.9 811.0 L713.9 811.7 L717.0 812.4 L720.0 811.2 L723.0 810.0 L726.0 808.9 L729.0 807.7 L731.9 805.9 L734.9 804.1 L737.8 802.4 L740.7 800.6 L743.7 798.8 L746.6 797.0 L749.1 795.4 L751.7 793.8 L754.2 792.1 L756.7 790.5 L759.3 788.9 L761.8 787.3 L765.1 787.7 L768.4 788.0 L771.6 788.4 L774.9 788.7 L778.2 789.1 L780.6 790.9 L783.1 792.7 L785.5 794.5 L787.0 797.2 L788.5 800.0 L790.0 802.7 L791.5 805.4 L793.0 808.2 L794.5 810.9 L797.4 809.6 L800.3 808.3 L803.3 807.1 L806.2 805.8 L809.1 804.5 L812.0 805.8 L814.9 807.1 L817.8 808.3 L820.7 809.6 L823.6 810.9 L826.6 811.5 L829.7 812.1 L832.7 812.7 L834.9 810.5 L837.1 808.3 L839.2 806.2 L841.4 804.0 L843.6 801.8 L845.7 799.7 L847.9 797.6 L850.0 795.5 L852.1 793.3 L854.3 791.2 L856.4 789.1 L859.6 788.6 L862.8 788.2 L865.9 787.8 L869.1 787.3 L872.4 787.8 L875.7 788.4 L878.9 788.9 L882.2 789.5 L885.5 790.0 L888.5 791.5 L891.5 793.0 L894.5 794.5 L897.7 794.7 L901.0 795.0 L904.2 795.2 L907.4 795.4 L910.6 795.6 L913.9 795.9 L917.1 796.1 L920.3 796.3 L923.5 796.5 L926.8 796.8 L930.0 797.0 L933.0 796.8 L936.0 796.6 L939.0 796.4 L942.0 796.2 L945.0 796.0 L948.0 795.8 L951.0 795.6 L954.0 795.4 L957.0 795.2 L960.0 795.0 L963.0 795.2 L966.0 795.4 L969.0 795.6 L972.0 795.8 L975.0 796.0 L978.0 796.2 L981.0 796.4 L984.0 796.6 L987.0 796.8 L990.0 797.0 L993.0 796.3 L996.0 795.6 L999.0 794.9 L1002.0 794.2 L1005.0 793.5 L1008.0 792.8 L1011.0 792.1 L1014.0 791.4 L1017.0 790.7 L1020.0 790.0 L1022.5 788.1 L1025.0 786.2 L1027.5 784.4 L1030.0 782.5 L1032.5 780.6 L1035.0 778.8 L1037.5 776.9 L1040.0 775.0 L1042.8 773.6 L1045.6 772.1 L1048.3 770.7 L1051.1 769.2 L1053.9 767.8 L1056.7 766.3 L1059.4 764.9 L1062.2 763.4 L1065.0 762.0 L1068.1 761.1 L1071.2 760.2 L1074.4 759.4 L1077.5 758.5 L1080.6 757.6 L1083.8 756.8 L1086.9 755.9 L1090.0 755.0 L1092.8 753.2 L1095.7 751.4 L1098.5 749.6 L1101.4 747.7 L1104.2 745.9 L1107.1 744.1 L1109.9 742.3 L1113.2 742.3 L1116.4 742.3 L1119.7 742.3 L1122.9 742.3 L1126.2 742.3 L1129.4 742.3 L1132.7 742.3 L1135.2 740.4 L1137.8 738.5 L1140.3 736.6 L1142.8 734.7 L1145.4 732.9 L1147.9 731.0 L1150.4 729.1 L1153.0 727.2 L1155.5 725.3 L1158.3 723.9 L1161.2 722.4 L1164.0 721.0 L1166.9 719.6 L1169.7 718.2 L1172.6 716.7 L1175.4 715.3 L1178.7 714.9 L1181.9 714.5 L1185.2 714.1 L1188.4 713.7 L1191.7 713.3 L1194.9 712.9 L1198.2 712.5 L1201.4 712.1 L1204.6 711.8 L1207.8 711.4 L1211.0 711.0 L1214.2 710.7 L1217.4 710.3 L1220.6 710.0 L1223.8 709.6 L1226.3 707.6 L1228.8 705.7 L1231.3 703.8 L1233.8 701.8 L1236.2 699.9 L1238.7 697.9 L1241.2 696.0 L1243.7 694.0 L1246.5 692.9 L1249.4 691.9 L1252.2 690.8 L1255.1 689.7 L1258.0 688.6 L1260.8 687.5 L1263.7 686.5 L1266.5 685.4 L1269.3 684.3 L1272.2 683.1 L1275.0 682.0 L1277.9 680.8 L1280.8 679.7 L1283.6 678.6 L1286.5 677.4 L1289.3 676.3 L1292.2 675.1 L1295.0 674.0 L1297.5 672.3 L1300.1 670.5 L1302.6 668.8 L1305.1 667.1 L1307.7 665.3 L1310.2 663.6 L1312.7 661.9 L1315.3 660.1 L1317.8 658.4 L1321.3 659.1 L1324.9 659.8 L1328.5 660.5 L1332.0 661.2 L1334.6 659.5 L1337.2 657.8 L1339.8 656.2 L1342.4 654.5 L1345.0 652.8 L1347.5 651.1 L1350.1 649.4 L1352.7 647.7 L1355.3 646.1 L1357.9 644.4 L1360.5 642.7 L1363.3 640.0 L1366.4 638.6 L1369.4 637.2 L1372.5 635.9 L1375.6 634.5 L1378.6 633.1 L1381.7 631.7 L1383.7 629.4 L1385.7 627.0 L1387.7 624.7 L1389.7 622.3 L1391.7 620.0 L1395.8 618.4 L1400.0 616.7 L1403.1 616.1 L1406.2 615.5 L1409.3 614.9 L1412.4 614.3 L1415.5 613.7 L1418.6 613.1 L1421.7 612.5 L1424.6 611.0 L1427.4 609.4 L1430.3 607.9 L1433.1 606.3 L1436.0 604.8 L1438.8 603.2 L1441.7 601.7 L1444.5 600.4 L1447.3 599.1 L1450.0 597.8 L1452.8 596.5 L1455.6 595.2 L1458.4 593.9 L1461.1 592.6 L1463.9 591.3 L1466.7 590.0 L1469.3 588.3 L1471.9 586.7 L1474.5 585.0 L1477.2 583.3 L1479.8 581.6 L1482.4 580.0 L1485.0 578.3 L1488.0 577.6 L1491.0 577.0 L1494.0 576.3 L1497.0 575.7 L1500.0 575.0 L1503.0 574.0 L1506.0 573.0 L1509.0 572.0 L1512.0 571.0 L1515.0 570.0 L1517.7 568.3 L1520.4 566.6 L1523.2 564.9 L1525.9 563.1 L1528.6 561.4 L1531.3 559.7 L1534.3 558.1 L1537.4 556.4 L1540.4 554.8 L1543.5 553.1 L1546.5 551.5 L1549.5 550.5 L1552.5 549.5 L1555.6 548.5 L1558.6 547.5 L1561.6 546.5 L1564.6 545.2 L1567.7 544.0 L1570.7 542.7 L1573.8 541.5 L1576.8 540.2 L1579.8 539.4 L1582.8 538.7 L1585.9 537.9 L1588.9 537.2 L1591.9 536.4 L1594.4 534.7 L1597.0 533.0 L1599.5 531.3 L1602.0 529.7 L1604.6 528.0 L1607.1 526.3 L1608.3 523.5 L1609.6 520.6 L1612.8 518.7 L1615.9 516.8 L1619.0 514.9 L1622.2 513.0 L1624.5 510.9 L1626.7 508.9 L1629.0 506.8 L1631.2 504.7 L1633.5 502.6 L1635.7 500.6 L1638.0 498.5 L1642.4 496.6"/>
<path class="p" d="M98.0 727.4 L101.0 727.9 L104.0 728.4 L107.0 728.9 L110.0 729.4 L112.9 729.9 L115.9 730.4 L118.9 730.9 L121.9 731.4 L124.8 732.2 L127.7 733.0 L130.6 733.8 L133.5 734.6 L136.5 735.5 L139.4 736.3 L142.3 737.1 L145.2 737.9 L148.1 738.7 L151.3 740.3 L154.4 742.0 L157.6 743.6 L160.7 745.3 L163.9 746.9 L167.0 748.7 L170.2 750.5 L173.3 752.4 L176.4 754.2 L179.2 756.4 L181.9 758.5 L184.7 760.7 L187.5 762.9 L189.5 765.5 L191.6 768.2 L193.6 770.8 L192.4 773.8 L191.3 776.8 L190.1 779.8 L187.3 782.5 L184.5 785.3 L181.7 788.0 L178.8 790.7 L175.9 793.5 L173.0 796.2 L174.3 799.4 L175.7 802.6 L177.0 805.8 L178.6 808.5 L180.2 811.2 L181.8 813.9 L183.4 816.6 L184.4 820.0 L185.3 823.4 L186.3 826.8 L186.2 830.0 L186.1 833.2 L186.0 836.4 L190.2 837.7 L194.5 839.0 L196.2 841.9 L197.9 844.7 L199.5 847.6 L201.2 850.4 L202.9 853.3 L205.1 856.0 L207.2 858.8 L209.4 861.5 L213.2 861.7 L217.0 861.9 L220.8 862.1 L224.3 861.5 L227.9 860.9 L231.4 860.3 L235.0 859.7 L238.5 859.1 L241.4 857.9 L244.3 856.7 L247.3 855.6 L250.2 854.4 L253.1 853.2 L257.0 852.5 L260.9 851.9 L264.8 851.2 L268.2 852.0 L271.6 852.8 L275.0 853.6 L277.9 855.6 L280.8 857.7 L283.8 859.7 L286.7 861.8 L289.6 863.8 L292.5 865.6 L295.4 867.3 L298.4 869.1 L301.3 870.8 L304.2 872.6 L307.1 874.5 L310.0 876.4 L313.0 878.4 L315.9 880.3 L318.8 882.2 L321.7 883.7 L324.6 885.1 L327.5 886.6 L330.4 888.0 L333.3 889.5 L336.9 890.2 L340.6 891.0 L344.2 891.7 L347.9 892.4 L350.4 890.7 L352.9 888.9 L355.4 887.2 L357.9 885.4 L360.4 883.7 L362.8 886.4 L365.1 889.1 L367.5 891.8 L364.2 892.1 L361.0 892.5 L357.7 892.8 L354.5 893.2 L351.2 893.5 L353.6 891.6 L356.0 889.7 L358.4 887.8 L360.7 885.9 L363.1 884.0 L365.5 882.1 L366.6 884.9 L367.7 887.8 L368.9 890.6 L370.0 893.5 L371.1 896.3 L372.9 898.8 L374.7 901.3 L376.5 903.8 L378.2 906.3 L380.0 908.8 L381.8 911.3 L383.6 913.8 L385.4 916.3 L387.3 918.7 L389.2 921.0 L391.1 923.4 L393.0 925.8 L394.9 928.1 L396.8 930.5 L399.9 931.3 L402.9 932.1 L406.0 932.8 L409.0 933.6 L412.1 934.4 L415.2 935.2 L418.2 936.0 L421.3 936.7 L424.3 937.5 L427.4 938.3 L430.5 938.9 L433.7 939.4 L436.8 940.0 L439.9 940.6 L443.0 941.1 L446.2 941.7 L449.3 942.3 L452.4 942.9 L455.6 943.4 L458.7 944.0 L461.6 945.0 L464.4 946.0 L467.2 947.0 L470.1 948.0 L472.9 949.0 L475.8 950.0 L478.6 951.0 L481.5 952.0 L484.3 953.0 L487.2 954.0 L490.1 955.4 L492.9 956.8 L495.8 958.2 L498.6 959.6 L501.4 961.1 L504.3 962.5 L507.1 963.9 L510.0 965.3 L512.4 967.3 L514.9 969.4 L517.3 971.4 L519.7 973.5 L522.1 975.5 L524.6 977.6 L527.0 979.6 L529.4 981.6 L531.9 983.7 L534.3 985.7 L536.8 987.7 L539.2 989.7 L541.7 991.8 L544.1 993.8 L545.8 996.6 L547.5 999.5 L549.3 1002.3 L551.0 1005.2 L552.7 1008.0 L554.7 1010.4 L556.8 1012.9 L558.8 1015.3 L560.8 1017.8 L562.8 1020.2 L564.9 1022.7 L566.9 1025.1 L569.4 1027.0 L572.0 1028.9 L574.5 1030.8 L577.0 1032.7 L579.6 1034.6 L582.1 1036.5 L584.6 1038.4 L587.2 1040.3 L589.7 1042.2 L592.0 1044.5 L594.3 1046.8 L596.5 1049.0 L598.8 1051.3 L601.1 1053.6 L603.4 1055.9 L605.7 1058.2 L607.9 1060.4 L610.2 1062.7 L612.5 1065.0 L614.8 1067.0 L617.0 1069.0 L619.3 1071.0 L621.6 1073.0 L623.9 1075.0 L626.1 1076.9 L628.4 1078.9 L630.7 1080.9 L632.9 1082.9 L635.2 1084.9 L636.7 1088.1 L638.1 1091.2 L641.2 1090.6 L644.4 1090.1 L647.5 1089.5 L646.2 1085.8 L645.0 1082.0 L643.5 1079.2 L642.0 1076.5 L640.5 1073.8 L639.0 1071.0 L637.0 1067.8 L635.0 1064.7 L633.0 1061.5 L631.1 1059.1 L629.3 1056.8 L627.5 1054.4 L625.6 1052.0 L623.5 1049.2 L621.3 1046.5 L619.1 1043.8 L617.0 1041.0 L615.5 1037.6 L614.0 1034.2 L612.5 1030.9 L611.0 1027.5 L609.8 1024.4 L608.5 1021.2 L607.2 1018.1 L606.0 1015.0 L606.4 1012.0 L606.7 1009.0 L607.0 1006.0 L607.4 1003.0 L609.5 1000.2 L611.6 997.5 L613.8 994.8 L615.9 992.0 L617.7 989.0 L619.5 986.0 L621.4 983.0 L623.2 980.0 L623.9 976.9 L624.6 973.7 L625.4 970.6 L626.1 967.4 L626.8 964.3 L628.5 960.0 L629.1 956.5 L629.7 953.0 L631.3 949.8 L632.9 946.7 L634.5 943.5 L636.5 940.5 L638.6 937.6 L640.7 934.7 L642.7 931.7 L644.8 929.4 L646.8 927.0 L648.9 924.7 L650.9 922.3 L653.0 920.0 L654.8 917.0 L656.5 914.0 L658.2 911.0 L660.0 908.0 L659.8 905.0 L659.5 902.0 L659.2 899.0 L659.0 896.0 L659.9 892.9 L660.7 889.9 L661.6 886.8 L663.1 883.8 L664.5 880.9 L666.0 878.0 L667.5 875.0 L668.7 871.9 L669.8 868.7 L671.0 865.6 L674.3 864.4 L677.6 863.2 L681.0 862.1 L684.3 860.9 L687.6 859.7 L690.4 857.8 L693.2 855.8 L696.1 853.9 L698.9 851.9 L701.7 850.0 L704.8 848.8 L707.8 847.6 L710.9 846.4 L713.9 845.2 L717.0 844.0 L719.0 841.7 L721.0 839.4 L723.0 837.1 L725.0 834.7 L727.0 832.4 L729.0 830.1 L731.0 827.8 L734.1 828.0 L737.2 828.3 L740.4 828.5 L743.5 828.8 L746.6 829.0 L748.9 826.8 L751.2 824.6 L753.4 822.4 L755.7 820.2 L758.0 818.0 L761.1 816.4 L764.1 814.7 L767.2 813.1 L770.3 811.5 L773.3 809.8 L776.4 808.2 L778.7 810.2 L781.0 812.3 L783.2 814.4 L785.5 816.4 L787.8 819.1 L790.0 821.8 L792.2 824.6 L794.5 827.3 L797.5 827.0 L800.6 826.7 L803.6 826.4 L806.6 826.1 L809.7 825.8 L812.7 825.5 L815.7 825.0 L818.8 824.5 L821.8 824.0 L824.8 823.5 L827.9 822.9 L830.9 822.4 L833.9 821.9 L837.0 821.4 L840.0 820.9 L842.9 818.9 L845.8 816.9 L848.7 814.9 L851.6 812.9 L854.5 810.9 L857.4 809.1 L860.3 807.3 L863.3 805.4 L866.2 803.6 L869.1 801.8 L872.4 801.1 L875.7 800.4 L878.9 799.6 L882.2 798.9 L885.5 798.2 L888.7 798.4 L891.9 798.6 L895.0 798.8 L898.2 799.0 L901.4 799.2 L904.6 799.4 L907.8 799.6 L910.9 799.8 L914.1 800.0 L917.3 800.2 L920.5 800.4 L923.6 800.6 L926.8 800.8 L930.0 801.0 L933.0 800.8 L936.0 800.6 L939.0 800.4 L942.0 800.2 L945.0 800.0 L948.0 799.8 L951.0 799.6 L954.0 799.4 L957.0 799.2 L960.0 799.0 L963.0 799.2 L966.0 799.4 L969.0 799.6 L972.0 799.8 L975.0 800.0 L978.0 800.2 L981.0 800.4 L984.0 800.6 L987.0 800.8 L990.0 801.0 L993.0 800.9 L996.0 800.8 L999.0 800.7 L1002.0 800.6 L1005.0 800.5 L1008.0 800.4 L1011.0 800.3 L1014.0 800.2 L1017.0 800.1 L1020.0 800.0 L1023.0 799.2 L1026.0 798.4 L1029.0 797.6 L1032.0 796.8 L1035.0 796.0 L1038.0 795.2 L1041.0 794.4 L1044.0 793.6 L1047.0 792.8 L1050.0 792.0 L1053.1 791.2 L1056.2 790.5 L1059.2 789.7 L1062.3 788.9 L1065.4 788.2 L1068.5 787.4 L1071.5 786.6 L1074.6 785.8 L1077.7 785.1 L1080.8 784.3 L1083.8 783.5 L1086.9 782.8 L1090.0 782.0 L1093.5 781.7 L1097.1 781.4 L1100.7 781.1 L1104.2 780.8 L1107.1 779.0 L1109.9 777.1 L1112.8 775.3 L1115.6 773.5 L1118.5 771.7 L1121.3 769.8 L1124.2 768.0 L1127.0 766.9 L1129.9 765.9 L1132.7 764.8 L1135.6 763.7 L1138.4 762.6 L1141.2 761.5 L1144.1 760.5 L1146.9 759.4 L1149.8 758.0 L1152.6 756.5 L1155.5 755.1 L1158.3 753.7 L1161.2 752.3 L1164.0 750.9 L1166.9 749.4 L1169.7 748.0 L1172.5 746.9 L1175.4 745.9 L1178.2 744.8 L1181.1 743.8 L1184.0 742.7 L1186.8 741.6 L1189.7 740.6 L1192.5 739.5 L1195.8 738.7 L1199.0 737.9 L1202.3 737.1 L1205.5 736.2 L1208.8 735.4 L1212.0 734.6 L1215.3 733.8 L1218.1 732.0 L1221.0 730.2 L1223.8 728.5 L1226.7 726.7 L1229.5 724.9 L1232.3 723.1 L1235.2 721.4 L1238.0 719.6 L1240.8 718.4 L1243.7 717.1 L1246.5 715.9 L1249.4 714.6 L1252.2 713.4 L1255.1 712.1 L1258.0 710.9 L1260.8 709.6 L1264.1 708.6 L1267.3 707.6 L1270.6 706.6 L1273.8 705.5 L1277.1 704.5 L1280.3 703.5 L1283.6 702.5 L1286.0 700.3 L1288.5 698.0 L1290.9 695.8 L1293.4 693.5 L1295.8 691.3 L1298.3 689.0 L1300.7 686.8 L1303.9 686.3 L1307.1 685.8 L1310.3 685.2 L1313.5 684.7 L1316.7 684.2 L1319.9 683.6 L1323.1 683.1 L1326.3 682.6 L1329.1 681.0 L1332.0 679.4 L1334.8 677.8 L1337.7 676.2 L1340.5 674.7 L1343.4 673.1 L1346.2 671.5 L1349.1 669.9 L1351.9 668.3 L1354.8 666.9 L1357.6 665.4 L1360.5 664.0 L1363.3 662.6 L1366.2 661.2 L1369.0 659.8 L1371.9 658.3 L1374.7 656.9 L1377.5 655.1 L1380.4 653.4 L1383.2 651.6 L1386.1 649.8 L1389.0 648.0 L1391.8 646.2 L1394.7 644.5 L1397.5 642.7 L1400.3 641.3 L1403.2 639.9 L1406.0 638.4 L1408.9 637.0 L1411.7 635.6 L1414.5 634.3 M1443.0 621.4 L1445.9 620.0 L1448.8 618.6 L1451.7 617.2 L1454.6 615.9 L1457.5 614.5 L1460.4 613.1 L1463.3 611.7 L1466.2 610.5 L1469.2 609.2 L1472.1 608.0 L1475.0 606.7 L1477.9 605.5 L1480.8 604.2 L1483.8 603.0 L1486.7 601.7 L1489.4 599.9 L1492.0 598.0 L1494.7 596.2 L1497.3 594.3 L1500.0 592.5 L1502.8 591.1 L1505.6 589.7 L1508.3 588.4 L1511.1 587.0 L1513.9 585.6 L1516.7 584.2 L1519.2 582.2 L1521.7 580.3 L1524.2 578.4 L1526.7 576.4 L1529.2 574.5 L1531.7 572.5 L1534.7 570.8 L1537.7 569.2 L1540.7 567.5 L1543.7 565.9 L1546.7 564.2 L1546.5 564.2 L1549.5 565.2 L1552.5 566.2 L1555.6 567.2 L1558.6 568.2 L1561.6 569.2 L1564.8 568.0 L1567.9 566.7 L1569.3 563.4 L1570.7 560.1 L1572.1 556.9 L1573.5 553.6 L1574.9 550.3 L1578.3 549.9 L1581.7 549.5 L1585.1 549.2 L1588.5 548.8 L1591.9 548.4 L1594.9 548.0 L1598.0 547.6 L1601.0 547.3 L1604.1 546.9 L1607.1 546.5 L1609.6 544.4 L1612.1 542.2 L1614.7 540.1 L1617.2 537.9 L1619.7 535.8 L1621.6 532.0 L1623.5 528.2 L1626.0 525.2 L1628.6 522.3 L1631.1 519.3 L1632.8 516.1 L1634.5 513.0 L1636.3 509.8 L1638.0 506.7 L1642.4 502.9"/>
<path class="p" d="M98.0 731.4 L101.0 731.8 L104.0 732.2 L107.0 732.6 L110.0 733.0 L112.9 733.4 L115.9 733.8 L118.9 734.2 L121.9 734.6 L125.2 735.3 L128.4 736.1 L131.7 736.8 L135.0 737.5 L138.3 738.3 L141.6 739.0 L144.8 739.8 L148.1 740.5 L151.1 742.1 L154.1 743.7 L157.0 745.2 L160.0 746.8 L163.0 748.4 L166.1 750.2 L169.2 752.0 L172.2 753.8 L175.3 755.6 L178.0 757.8 L180.7 760.0 L183.3 762.2 L186.0 764.4 L187.9 767.1 L189.7 769.8 L191.6 772.5 L190.3 775.3 L189.1 778.2 L187.8 781.0 L185.5 783.0 L183.2 785.0 L181.0 786.9 L178.7 788.9 L175.8 791.5 L172.9 794.1 L170.0 796.7 L171.6 799.8 L173.1 803.0 L174.7 806.1 L176.4 808.9 L178.1 811.6 L179.7 814.4 L181.4 817.1 L182.4 820.5 L183.3 823.9 L184.3 827.3 L183.4 830.4 L182.6 833.6 L181.7 836.7 L184.0 839.0 L186.3 841.4 L187.8 844.1 L189.3 846.8 L190.9 849.4 L192.4 852.1 L193.9 854.8 L196.6 857.4 L199.4 860.1 L202.1 862.7 L205.4 863.1 L208.8 863.5 L212.2 863.8 L215.5 864.2 L218.8 863.8 L222.1 863.4 L225.4 863.0 L228.6 862.7 L231.9 862.3 L235.2 861.9 L238.5 861.5 L241.4 860.3 L244.3 859.1 L247.3 858.0 L250.2 856.8 L253.1 855.6 L257.0 854.8 L260.9 854.1 L264.8 853.3 L268.2 854.2 L271.6 855.1 L275.0 856.0 L277.9 858.0 L280.8 860.1 L283.8 862.1 L286.7 864.2 L289.6 866.2 L292.5 867.9 L295.4 869.7 L298.4 871.4 L301.3 873.2 L304.2 874.9 L307.1 876.8 L310.0 878.6 L313.0 880.5 L315.9 882.3 L318.8 884.2 L321.7 885.7 L324.6 887.1 L327.5 888.6 L330.4 890.0 L333.3 891.5 L336.9 892.2 L340.6 893.0 L344.2 893.7 L347.9 894.4 L351.0 892.4 L354.0 890.4 L357.1 888.4 L360.2 886.4 L362.2 888.8 L364.3 891.2 L366.3 893.6 L363.0 893.8 L359.7 894.1 L356.5 894.3 L353.2 894.6 L349.9 894.8 L352.3 892.9 L354.6 891.0 L357.0 889.1 L359.4 887.3 L361.7 885.4 L364.1 883.5 L365.2 886.3 L366.4 889.2 L367.5 892.0 L368.7 894.9 L369.8 897.7 L371.6 900.2 L373.4 902.7 L375.1 905.2 L376.9 907.7 L378.7 910.1 L380.4 912.6 L382.2 915.1 L384.0 917.6 L385.9 920.0 L387.8 922.4 L389.7 924.8 L391.6 927.1 L393.5 929.5 L395.4 931.9 L398.3 932.8 L401.2 933.7 L404.2 934.7 L407.1 935.6 L410.0 936.5 L412.9 937.4 L415.8 938.3 L418.8 939.3 L421.7 940.2 L424.6 941.1 L427.8 941.9 L430.9 942.7 L434.1 943.5 L437.2 944.3 L440.4 945.1 L443.5 945.9 L446.7 946.7 L449.8 947.5 L453.0 948.3 L456.2 949.4 L459.4 950.4 L462.6 951.5 L465.8 952.5 L469.0 953.6 L472.2 954.7 L475.4 955.7 L478.6 956.8 L481.5 958.4 L484.3 960.1 L487.2 961.7 L490.0 963.3 L492.9 964.9 L495.7 966.6 L498.6 968.2 L501.1 970.0 L503.6 971.8 L506.1 973.5 L508.6 975.3 L511.0 977.1 L513.5 978.9 L516.0 980.6 L518.5 982.4 L520.4 984.8 L522.3 987.2 L524.2 989.5 L526.1 991.9 L528.0 994.3 L529.9 996.7 L531.8 999.5 L533.7 1002.4 L535.6 1005.2 L537.5 1008.0 L539.4 1010.9 L541.3 1013.7 L543.7 1016.1 L546.0 1018.5 L548.4 1020.9 L550.8 1023.2 L553.1 1025.6 L555.5 1028.0 L557.8 1030.0 L560.1 1032.0 L562.3 1034.0 L564.6 1036.0 L566.9 1038.0 L569.2 1039.9 L571.5 1041.9 L573.7 1043.9 L576.0 1045.9 L578.3 1047.9 L580.8 1049.8 L583.4 1051.7 L585.9 1053.6 L588.4 1055.5 L591.0 1057.4 L593.5 1059.3 L596.0 1061.2 L598.6 1063.1 L601.1 1065.0 L603.7 1066.7 L606.2 1068.4 L608.8 1070.1 L611.3 1071.8 L613.9 1073.5 L616.5 1075.3 L619.0 1077.0 L621.6 1078.7 L624.1 1080.4 L626.7 1082.1 L629.0 1084.5 L631.3 1086.9 L633.5 1089.2 L635.8 1091.6 L638.1 1094.0 L641.2 1093.8 L644.4 1093.6 L647.5 1093.4 L650.6 1093.2 L653.8 1093.0 L656.9 1092.8 L660.0 1092.6 L663.1 1092.4 L666.3 1092.2 L669.4 1092.0 L667.3 1089.5 L665.1 1087.1 L663.0 1084.6 L660.7 1081.4 L658.3 1078.2 L656.0 1075.0 L654.5 1072.2 L653.0 1069.5 L651.5 1066.8 L650.0 1064.0 L648.5 1061.2 L646.9 1058.5 L645.3 1055.8 L643.8 1053.0 L642.3 1050.2 L640.8 1047.5 L639.3 1044.8 L637.8 1042.0 L640.2 1040.2 L642.6 1038.4 L645.1 1036.6 L647.5 1034.8 L649.9 1032.3 L652.2 1029.9 L654.6 1027.5 L657.0 1025.0 L658.5 1021.8 L660.0 1018.6 L661.5 1015.4 L663.0 1012.2 L664.5 1009.0 L666.3 1005.8 L668.1 1002.5 L670.0 999.2 L671.8 996.0 L672.2 992.8 L672.7 989.6 L673.1 986.4 L673.6 983.2 L674.0 980.0 L674.3 976.8 L674.6 973.6 L674.8 970.4 L675.1 967.2 L675.4 964.0 L677.0 960.0 L677.9 957.0 L678.8 954.0 L679.6 951.0 L680.5 948.0 L682.5 944.5 L684.4 941.1 L686.4 937.6 L689.0 935.8 L691.5 934.1 L694.0 932.3 L696.6 930.5 L699.2 928.8 L701.7 927.0 L704.8 926.8 L707.8 926.5 L710.9 926.3 L713.9 926.0 L717.0 925.8 L719.4 923.6 L721.8 921.5 L724.2 919.3 L726.6 917.2 L729.0 915.0 L731.9 912.7 L734.9 910.4 L737.8 908.0 L740.7 905.7 L743.0 902.8 L745.4 899.9 L747.7 896.9 L750.0 894.0 L751.0 890.9 L752.0 887.8 L753.0 884.7 L754.0 881.6 L755.0 878.5 L756.4 873.6 L759.5 873.1 L762.6 872.6 L765.7 872.1 L768.9 871.5 L772.0 871.0 L775.1 870.5 L778.2 870.0 L780.9 868.6 L783.6 867.3 L786.4 865.9 L789.1 864.5 L791.8 863.2 L794.5 861.8 L796.8 859.8 L799.0 857.7 L801.3 855.7 L803.6 853.6 L805.9 851.6 L808.2 849.6 L810.4 847.5 L812.7 845.5 L815.4 843.2 L818.2 841.0 L820.9 838.7 L823.6 836.4 L826.9 835.7 L830.2 834.9 L833.4 834.2 L836.7 833.4 L840.0 832.7 L843.0 831.2 L846.1 829.7 L849.1 828.2 L852.1 826.6 L855.2 825.1 L858.2 823.6 L860.6 821.5 L863.0 819.4 L865.5 817.2 L867.9 815.1 L870.3 813.0 L872.7 810.9 L876.3 809.7 L880.0 808.5 L883.6 807.3 L886.9 807.4 L890.3 807.6 L893.6 807.8 L896.9 807.9 L900.3 808.1 L903.6 808.2 L906.9 807.7 L910.2 807.2 L913.5 806.6 L916.8 806.1 L920.1 805.6 L923.4 805.0 L926.7 804.5 L930.0 804.0 L933.2 803.8 L936.4 803.6 L939.5 803.3 L942.7 803.1 L945.9 802.9 L949.1 802.7 L952.2 802.4 L955.4 802.2 L958.6 802.0 L961.9 802.0 L965.2 802.0 L968.5 802.0 L971.8 802.0 L975.1 802.0 L978.4 802.0 L981.7 802.0 L985.0 802.0 L988.2 801.5 L991.3 801.0 L994.5 800.5 L997.7 800.0 L1000.8 799.5 L1004.0 799.0 L1007.2 800.4 L1010.4 801.8 L1013.6 803.2 L1016.8 804.6 L1020.0 806.0 L1023.0 807.8 L1026.0 809.6 L1029.0 811.4 L1032.0 813.2 L1035.0 815.0 L1038.1 815.0 L1041.2 815.0 L1044.4 815.0 L1047.5 815.0 L1050.6 815.0 L1053.8 815.0 L1056.9 815.0 L1060.0 815.0 L1062.7 813.7 L1065.5 812.4 L1068.2 811.1 L1070.9 809.8 L1073.6 808.5 L1076.4 807.2 L1079.1 805.9 L1081.8 804.6 L1084.5 803.3 L1087.3 802.0 L1090.0 800.7 L1093.3 800.2 L1096.6 799.8 L1100.0 799.3 L1103.3 798.8 L1106.6 798.4 L1109.9 797.9 L1113.0 798.0 L1116.1 798.1 L1119.2 798.2 L1122.2 798.4 L1125.3 798.5 L1128.4 798.6 L1131.5 798.7 L1134.6 798.8 L1137.7 798.9 L1140.7 799.1 L1143.8 799.2 L1146.9 799.3 L1149.8 797.3 L1152.6 795.3 L1155.5 793.3 L1158.3 791.3 L1161.2 789.3 M1192.5 773.7 L1195.3 771.9 L1198.2 770.1 L1201.0 768.3 L1203.9 766.5 L1206.8 764.8 L1209.6 763.0 L1212.5 761.2 L1215.3 759.4 L1218.1 758.3 L1221.0 757.3 L1223.8 756.2 L1226.7 755.1 L1229.5 754.1 L1232.3 753.0 L1235.2 752.0 L1238.0 750.9 L1240.9 749.9 L1243.7 748.8 L1246.6 747.8 L1249.4 746.8 L1252.3 745.7 L1255.1 744.7 L1258.0 743.6 L1260.8 742.6 L1263.7 741.6 L1266.5 740.5 L1269.4 739.5 L1272.0 737.8 L1274.5 736.1 L1277.1 734.4 L1279.6 732.7 L1282.2 731.0 L1284.8 729.2 L1287.3 727.5 L1289.9 725.8 L1292.4 724.1 L1295.0 722.4 L1297.8 721.3 L1300.7 720.3 L1303.5 719.2 L1306.4 718.1 L1309.2 717.1 L1312.1 716.0 L1315.0 715.0 L1317.8 713.9 L1320.4 712.3 L1323.0 710.8 L1325.5 709.2 L1328.1 707.7 L1330.7 706.1 L1333.3 704.6 L1335.9 703.0 L1338.5 701.5 L1341.0 699.9 L1343.6 698.4 L1346.2 696.8 L1349.0 695.4 L1351.9 694.0 L1354.8 692.5 L1357.6 691.1 L1360.5 689.7 L1363.3 688.3 L1366.2 686.9 L1369.0 685.4 L1371.9 684.0 L1374.7 682.6 L1377.3 681.0 L1379.9 679.5 L1382.5 677.9 L1385.1 676.4 L1387.7 674.8 L1390.2 673.3 L1392.8 671.7 L1395.4 670.2 L1398.0 668.6 L1400.6 667.1 L1403.2 665.5 L1406.0 664.4 L1408.9 663.2 L1411.7 662.1 L1414.6 660.9 L1417.4 659.8 L1420.2 658.7 L1423.1 657.5 L1425.9 656.4 L1428.8 655.2 L1431.6 654.1 L1434.4 652.3 L1437.3 650.5 L1440.2 648.8 L1443.0 647.0 L1445.8 645.2 L1448.7 643.5 L1451.6 641.7 L1454.4 639.9 L1457.0 638.2 L1459.6 636.6 L1462.2 634.9 L1464.9 633.2 L1467.5 631.6 L1470.1 629.9 L1473.4 628.6 L1476.7 627.3 L1480.1 625.9 L1483.4 624.6 L1486.7 623.3 L1489.4 621.3 L1492.0 619.3 L1494.7 617.3 L1497.3 615.3 L1500.0 613.3 L1502.8 611.6 L1505.6 610.0 L1508.3 608.3 L1511.1 606.6 L1513.9 605.0 L1516.7 603.3 L1520.0 601.8 L1523.3 600.4 L1526.7 599.0 L1530.0 597.5 L1532.1 594.9 L1534.3 592.3 L1536.4 589.7 L1538.6 587.0 L1540.7 584.4 L1542.9 581.8 L1545.0 579.2 L1548.0 579.5 L1551.0 579.8 L1554.0 580.2 L1557.0 580.5 L1560.0 580.8 L1563.3 580.5 L1566.7 580.2 L1570.0 579.8 L1573.4 579.5 L1576.7 579.2 L1579.7 578.2 L1582.7 577.2 L1585.7 576.2 L1588.7 575.2 L1591.7 574.2 L1594.8 573.4 L1598.0 572.5 L1601.1 571.7 L1604.2 570.9 L1607.3 570.0 L1610.5 569.2 L1613.6 568.3 L1616.7 567.5 L1619.7 566.3 L1622.7 565.1 L1625.7 563.9 L1628.8 562.8 L1631.8 561.6 L1634.8 560.4 L1637.8 559.2 L1641.7 558.0"/>
<path class="p" d="M98.0 735.5 L101.0 735.8 L104.0 736.1 L107.0 736.4 L110.0 736.6 L112.9 736.9 L115.9 737.2 L118.9 737.5 L121.9 737.8 L125.2 738.3 L128.4 738.9 L131.7 739.5 L135.0 740.0 L138.3 740.5 L141.6 741.1 L144.8 741.7 L148.1 742.2 L150.9 743.7 L153.7 745.2 L156.6 746.8 L159.4 748.3 L162.2 749.8 L165.2 751.6 L168.1 753.5 L171.1 755.3 L174.1 757.1 L176.7 759.3 L179.3 761.5 L182.0 763.6 L184.6 765.8 L186.2 768.6 L187.9 771.5 L189.5 774.3 L187.4 778.2 L185.4 782.1 L183.0 784.0 L180.6 785.9 L178.2 787.8 L175.8 789.7 L172.9 792.2 L170.0 794.8 L167.1 797.3 L168.8 800.3 L170.6 803.4 L172.3 806.4 L174.1 809.2 L175.8 812.0 L177.6 814.9 L179.3 817.7 L180.3 821.1 L181.2 824.5 L182.2 827.9 L180.6 830.9 L178.9 834.0 L177.3 837.0 L177.8 840.4 L178.2 843.7 L179.8 846.8 L181.5 850.0 L183.2 853.1 L184.8 856.2 L187.3 858.1 L189.8 860.0 L192.3 861.9 L194.8 863.8 L197.9 864.3 L201.0 864.8 L204.1 865.4 L207.2 865.9 L210.3 866.4 L213.4 866.1 L216.6 865.9 L219.7 865.6 L222.8 865.3 L226.0 865.1 L229.1 864.8 L232.2 864.5 L235.4 864.3 L238.5 864.0 L241.4 862.8 L244.3 861.6 L247.3 860.5 L250.2 859.3 L253.1 858.1 L257.0 857.2 L260.9 856.4 L264.8 855.5 L268.2 856.4 L271.6 857.4 L275.0 858.3 L277.9 860.3 L280.8 862.4 L283.8 864.4 L286.7 866.5 L289.6 868.5 L292.5 870.3 L295.4 872.0 L298.4 873.8 L301.3 875.5 L304.2 877.3 L307.1 879.1 L310.0 880.9 L313.0 882.7 L315.9 884.5 L318.8 886.3 L321.7 887.8 L324.6 889.2 L327.5 890.7 L330.4 892.1 L333.3 893.6 L336.9 894.3 L340.6 895.0 L344.2 895.8 L347.9 896.5 L350.9 894.7 L353.9 892.9 L356.9 891.0 L359.9 889.2 L362.5 892.2 L365.2 895.3 L361.9 895.5 L358.5 895.7 L355.2 895.8 L351.8 896.0 L348.5 896.2 L350.9 894.3 L353.3 892.4 L355.6 890.5 L358.0 888.6 L360.4 886.7 L362.8 884.8 L363.9 887.6 L365.0 890.5 L366.2 893.3 L367.3 896.2 L368.4 899.0 L370.2 901.5 L372.0 904.0 L373.8 906.5 L375.5 909.0 L377.3 911.5 L379.1 914.0 L380.9 916.5 L382.7 919.0 L384.6 921.4 L386.5 923.7 L388.4 926.1 L390.3 928.5 L392.2 930.8 L394.1 933.2 L397.2 934.4 L400.3 935.6 L403.4 936.7 L406.5 937.9 L409.6 939.1 L412.7 940.2 L415.8 941.4 L418.9 942.6 L421.7 943.7 L424.6 944.7 L427.4 945.8 L430.2 946.9 L433.1 947.9 L435.9 949.0 L438.8 950.0 L441.6 951.1 L444.5 952.2 L447.3 953.2 L450.1 954.3 L453.0 955.4 L455.9 956.4 L458.7 957.5 L461.5 958.5 L464.4 959.6 L467.2 961.0 L470.1 962.5 L472.9 963.9 L475.8 965.3 L478.6 966.8 L481.5 968.2 L484.4 970.1 L487.2 972.0 L490.1 973.9 L492.9 975.8 L495.8 977.7 L498.6 979.6 L501.0 981.6 L503.5 983.7 L505.9 985.7 L508.4 987.7 L510.8 989.7 L513.3 991.8 L515.7 993.8 L516.8 996.6 L518.0 999.5 L519.1 1002.3 L520.3 1005.2 L521.4 1008.0 L523.8 1010.4 L526.1 1012.8 L528.5 1015.1 L530.9 1017.5 L533.2 1019.9 L535.6 1022.3 L537.7 1024.4 L539.9 1026.5 L542.0 1028.7 L544.1 1030.8 L546.5 1032.8 L549.0 1034.9 L551.4 1036.9 L553.9 1039.0 L556.3 1041.0 L558.8 1043.1 L561.2 1045.1 L563.8 1046.9 L566.4 1048.7 L569.0 1050.5 L571.6 1052.3 L574.2 1054.1 L576.7 1056.0 L579.3 1057.8 L581.9 1059.6 L584.5 1061.4 L587.1 1063.2 L589.7 1065.0 L592.3 1066.6 L594.9 1068.1 L597.4 1069.7 L600.0 1071.2 L602.6 1072.8 L605.2 1074.3 L607.8 1075.9 L610.4 1077.4 L612.9 1079.0 L615.5 1080.5 L618.1 1082.1 L620.6 1083.8 L623.1 1085.5 L625.6 1087.2 L628.1 1088.9 L630.6 1090.6 L633.1 1092.3 L635.6 1094.0 L638.1 1095.7 L641.2 1095.3 L644.3 1094.9 L647.3 1094.5 L650.4 1094.2 L653.5 1093.8 L656.6 1093.4 L659.7 1093.0 L662.7 1092.6 L665.8 1092.2 L668.9 1091.8 L672.0 1091.5 L675.1 1091.1 L678.1 1090.7 L681.2 1090.3 L684.3 1089.9 L687.4 1089.5 L690.5 1089.2 L693.5 1088.8 L696.6 1088.4 L699.7 1088.0 L698.5 1085.2 L697.3 1082.3 L696.1 1079.5 L694.9 1076.7 L693.7 1073.8 L692.5 1071.0 L691.8 1067.6 L691.0 1064.2 L690.3 1060.8 L689.5 1057.4 L688.8 1054.0 L687.0 1051.0 L685.1 1048.0 L683.3 1045.0 L681.5 1042.0 L680.9 1038.4 L680.2 1034.8 L679.6 1031.1 L679.0 1027.5 L681.0 1024.6 L682.9 1021.7 L684.9 1018.8 L686.8 1015.9 L688.8 1013.0 L690.2 1009.8 L691.7 1006.6 L693.1 1003.4 L694.6 1000.2 L696.0 997.0 L697.0 994.0 L698.0 991.0 L699.0 988.0 L700.0 985.0 L701.0 982.0 L702.0 979.0 L704.6 976.9 L707.3 974.7 L709.9 972.6 L712.5 970.4 L715.1 968.3 L717.8 966.1 L720.4 964.0 L724.0 960.0 L725.2 956.5 L726.5 953.0 L728.1 950.4 L729.7 947.9 L731.2 945.3 L732.8 942.7 L734.4 940.2 L736.0 937.6 L738.0 935.2 L739.9 932.9 L741.9 930.5 L743.9 928.1 L745.8 925.8 L747.8 923.4 L750.7 921.6 L753.5 919.8 L756.4 918.0 L759.1 916.2 L761.9 914.4 L764.6 912.6 L767.3 910.8 L770.0 909.0 L772.8 907.2 L775.5 905.4 L778.2 903.6 L780.5 901.5 L782.9 899.5 L785.2 897.4 L787.5 895.3 L789.8 893.2 L792.2 891.2 L794.5 889.1 L797.4 887.5 L800.2 886.0 L803.1 884.4 L805.9 882.9 L808.8 881.3 L811.6 879.8 L814.5 878.2 L816.6 875.6 L818.7 873.0 L820.8 870.4 L822.8 867.8 L824.9 865.2 L827.0 862.6 L829.1 860.0 L832.1 858.5 L835.2 857.0 L838.2 855.5 L841.2 853.9 L844.3 852.4 L847.3 850.9 L849.7 848.8 L852.1 846.7 L854.5 844.5 L857.0 842.4 L859.4 840.3 L861.8 838.2 L863.9 835.8 L866.0 833.3 L868.1 830.9 L870.3 828.5 L872.4 826.0 L874.5 823.6 L876.8 820.9 L879.0 818.2 L881.3 815.4 L883.6 812.7 L886.8 812.5 L890.1 812.2 L893.3 812.0 L896.5 811.7 L899.8 811.5 L903.0 811.2 L906.2 811.0 L909.5 810.7 L912.7 810.5 L915.7 810.4 L918.8 810.2 L921.8 810.0 L924.8 809.9 L927.9 809.8 L930.9 809.6 L933.9 809.5 L937.0 809.3 L940.0 809.2 L943.0 809.0 L946.1 808.9 L949.1 808.7 L952.1 808.6 L955.2 808.5 L958.2 808.4 L961.2 808.2 L964.3 808.1 L967.3 808.0 L970.3 807.9 L973.4 807.8 L976.4 807.6 L979.4 807.5 L982.5 807.4 L985.5 807.3 L988.6 807.1 L991.7 806.9 L994.8 806.6 L997.8 806.4 L1000.9 806.2 L1004.0 806.0 L1006.3 808.1 L1008.6 810.2 L1010.9 812.3 L1013.2 814.4 L1015.5 816.5 L1017.4 819.3 L1019.3 822.2 L1021.2 825.0 L1023.2 827.8 L1025.1 830.7 L1027.0 833.5 L1030.2 834.3 L1033.5 835.1 L1036.7 835.9 L1040.0 836.6 L1043.2 837.4 L1046.5 838.2 L1049.7 839.0 L1052.5 838.0 L1055.4 836.9 L1058.2 835.9 L1061.1 834.9 L1064.0 833.8 L1066.8 832.8 L1069.7 831.7 L1072.5 830.7 L1075.4 829.8 L1078.3 828.8 L1081.2 827.9 L1084.2 826.9 L1087.1 826.0 L1090.0 825.0 L1092.8 823.9 L1095.7 822.7 L1098.5 821.5 L1101.4 820.4 L1104.2 819.2 L1107.1 818.1 L1110.0 817.0 L1112.8 815.8 L1115.7 814.6 L1118.5 813.5 L1121.7 814.0 L1124.8 814.5 L1128.0 814.9 L1131.1 815.4 L1134.3 815.9 L1137.4 816.4 L1140.6 816.8 L1143.7 817.3 L1146.9 817.8 L1150.2 817.2 L1153.4 816.6 L1156.7 816.0 L1159.9 815.3 L1163.2 814.7 L1166.4 814.1 L1169.7 813.5 L1172.2 811.7 L1174.7 810.0 L1177.2 808.2 L1179.7 806.4 L1182.1 804.6 L1184.6 802.8 L1187.1 801.1 L1189.6 799.3 L1192.8 798.3 L1195.9 797.4 L1199.1 796.4 L1202.3 795.5 L1205.4 794.5 L1208.6 793.6 L1211.8 792.6 L1214.9 791.7 L1218.1 790.7 L1220.9 789.1 L1223.8 787.5 L1226.6 785.9 L1229.5 784.2 L1232.3 782.6 L1235.2 781.0 L1238.0 779.4 L1240.8 778.2 L1243.7 777.0 M1286.5 759.2 L1289.3 758.0 L1292.1 756.6 L1295.0 755.1 L1297.8 753.7 L1300.7 752.3 L1303.5 750.9 L1306.4 749.4 L1309.2 748.0 L1312.0 746.2 L1314.9 744.5 L1317.8 742.7 L1320.6 740.9 L1323.5 739.1 L1326.3 737.3 L1329.2 735.6 L1332.0 733.8 L1334.5 731.9 L1337.1 730.0 L1339.6 728.1 L1342.1 726.2 L1344.7 724.3 L1347.2 722.4 L1349.7 720.5 L1352.3 718.6 L1354.8 716.7 L1357.6 715.3 L1360.5 713.9 L1363.3 712.4 L1366.2 711.0 L1369.0 709.6 L1371.9 708.2 L1374.7 706.8 L1377.6 705.4 L1380.4 703.9 L1383.3 702.5 L1386.1 701.1 L1388.9 699.4 L1391.8 697.8 L1394.7 696.1 L1397.5 694.4 L1400.3 692.8 L1403.2 691.1 L1406.0 689.3 L1408.9 687.5 L1411.7 685.8 L1414.6 684.0 L1417.4 682.2 L1420.2 680.5 L1423.1 678.7 L1425.9 676.9 L1429.2 676.0 L1432.6 675.0 L1435.9 674.0 L1439.2 673.1 L1442.6 672.2 L1445.9 671.2 L1447.3 668.4 L1448.8 665.5 L1450.2 662.6 L1451.6 659.8 L1454.4 658.4 L1457.3 656.9 L1460.1 655.5 L1462.9 654.1 L1465.8 652.6 L1468.6 651.2 L1472.0 650.9 L1475.4 650.6 L1478.9 650.4 L1482.3 650.1 L1485.7 649.8 L1488.6 651.8 L1491.4 653.8 L1494.3 655.8 L1497.1 657.8 L1500.0 659.8 L1498.9 662.6 L1497.7 665.5 L1496.6 668.3 L1495.4 671.2 L1494.3 674.0 L1497.2 676.9 L1500.0 679.7 L1502.6 677.9 L1505.1 676.0 L1507.7 674.2 L1510.2 672.3 L1512.8 670.5 L1515.4 668.6 L1517.9 666.8 L1520.5 664.9 L1523.0 663.1 L1525.6 661.2 L1528.4 659.4 L1531.3 657.5 L1534.1 655.7 L1537.0 653.9 L1539.8 652.1 L1542.7 650.2 L1545.5 648.4 L1547.8 650.7 L1550.1 653.0 L1552.3 655.2 L1554.6 657.5 L1556.9 659.8 L1555.0 662.6 L1553.1 665.5 L1551.2 668.3 L1549.3 671.2 L1547.4 674.0 L1545.5 676.9 L1543.9 679.7 L1542.2 682.6 L1540.6 685.4 L1539.0 688.3 L1537.4 691.1 L1535.7 694.0 L1534.1 696.8 L1532.8 699.6 L1531.6 702.5 L1530.3 705.3 L1529.0 708.2 L1527.8 711.0 L1526.5 713.9 L1525.2 716.7 L1524.0 719.6 L1522.7 722.4 L1521.8 725.2 L1520.8 728.1 L1519.8 731.0 L1518.9 733.8 L1518.0 736.6 L1517.0 739.5 L1515.2 742.0 L1513.5 744.5 L1511.7 747.0 L1509.9 749.5 L1508.1 751.9 L1506.3 754.4 L1504.6 756.9 L1502.8 759.4 L1500.3 761.5 L1497.8 763.7 L1495.3 765.8 L1492.8 768.0 L1490.4 770.1 L1487.9 772.2 L1485.4 774.4 L1482.9 776.5 L1480.4 778.6 L1477.9 780.8 L1475.4 782.9 L1473.0 785.0 L1470.5 787.2 L1468.0 789.3 L1465.5 791.5 L1463.0 793.6 L1462.0 796.5 L1461.1 799.3 L1460.2 802.2 L1459.2 805.0 L1458.2 807.9 L1457.3 810.7 L1454.4 812.0 L1451.6 813.2 L1448.7 814.5 L1445.9 815.8 L1443.0 817.0 L1440.2 818.3 L1437.3 819.6 L1434.5 820.8 L1431.6 822.1 L1428.8 823.9 L1425.9 825.6 L1423.1 827.4 L1420.2 829.2 L1417.4 831.0 L1414.6 832.8 L1411.7 834.5 L1408.9 836.3 L1406.1 838.2 L1403.2 840.1 L1400.3 842.0 L1397.5 843.9 L1394.7 845.8 L1391.8 847.7 L1388.9 849.4 L1386.1 851.1 L1383.2 852.8 L1380.4 854.5 L1377.5 856.2 L1374.4 856.2 L1371.2 856.2 L1368.1 856.2 L1365.0 856.2 L1361.8 856.2 L1358.7 856.2 L1355.6 856.2 L1352.5 856.2 L1349.3 856.2 L1346.2 856.2 L1346.2 860.5 L1349.4 861.3 L1352.5 862.1 L1355.7 862.9 L1358.9 863.7 L1362.0 864.4 L1365.2 865.2 L1368.4 866.0 L1371.5 866.8 L1374.7 867.6 L1376.6 870.5 L1378.5 873.3 L1380.4 876.2 L1382.3 879.0 L1384.2 881.9 L1386.1 884.7 L1388.9 887.5 L1391.8 890.4 L1392.5 893.7 L1393.2 897.0 L1393.9 900.3 L1394.6 903.7 L1395.3 907.0 L1396.0 910.3 L1399.1 909.8 L1402.2 909.4 L1405.3 908.9 L1408.4 908.4 L1411.5 908.0 L1414.6 907.5 L1416.0 910.7 L1417.4 913.9 L1418.8 917.1 L1420.2 920.3 L1423.3 919.7 L1426.4 919.0 L1429.5 918.4 L1432.6 917.7 L1435.7 917.1 L1438.9 916.4 L1442.0 915.8 L1445.1 915.1 L1448.2 914.5 L1451.3 913.8 L1454.4 913.2 L1457.2 915.1 L1460.1 917.0 L1463.0 918.9 L1465.8 920.8 L1468.7 922.7 L1471.5 924.6 L1474.3 923.2 L1477.2 921.8 L1480.1 920.3 L1482.9 918.9 L1486.2 918.6 L1489.5 918.4 L1492.8 918.1 L1496.2 917.9 L1499.5 917.6 L1502.8 917.4 L1501.4 920.6 L1499.9 923.8 L1498.5 927.0 L1497.1 930.2 L1499.4 932.5 L1501.7 934.8 L1503.9 937.0 L1506.2 939.3 L1508.5 941.6 L1511.3 943.6 L1514.2 945.6 L1517.0 947.6 L1519.9 949.6 L1522.7 951.6 L1525.5 953.4 L1528.4 955.1 L1531.2 956.9 L1534.1 958.7 L1537.0 960.5 L1539.8 962.2 L1542.7 964.0 L1545.5 965.8 L1548.3 964.8 L1551.2 963.7 L1554.0 962.7 L1556.9 961.7 L1559.7 960.6 L1562.6 959.6 L1565.4 958.5 L1568.3 957.5 L1571.1 956.5 L1574.0 955.4 L1576.8 954.4 L1576.2 951.3 L1575.7 948.2 L1575.1 945.0 L1574.6 941.9 L1574.0 938.8 L1572.0 936.4 L1569.9 933.9 L1567.9 931.5 L1565.9 929.0 L1563.9 926.6 L1561.8 924.1 L1559.8 921.7 L1557.7 919.2 L1555.5 916.7 L1553.4 914.2 L1551.2 911.8 L1549.1 909.3 L1547.0 906.8 L1544.8 904.3 L1542.7 901.8 L1541.4 899.0 L1540.1 896.1 L1538.8 893.3 L1537.5 890.4 L1536.2 887.6 L1534.9 884.7 L1533.6 881.9 L1532.3 879.0 L1531.0 876.2 L1529.7 873.3 L1528.4 870.5 L1531.2 871.9 L1534.1 873.3 L1537.0 874.8 L1539.8 876.2 L1542.7 877.6 L1545.5 879.0 L1547.9 876.6 L1550.3 874.3 L1552.7 871.9 L1555.0 869.5 L1557.4 867.2 L1559.8 864.8 L1561.9 862.7 L1564.0 860.5 L1566.2 858.4 L1568.3 856.2 L1570.4 854.1 L1572.5 852.0 L1574.7 849.8 L1576.8 847.7 L1579.7 849.6 L1582.5 851.5 L1585.3 853.4 L1588.2 855.3 L1591.1 857.2 L1593.9 859.1 L1595.8 861.5 L1597.7 863.8 L1599.6 866.2 L1601.5 868.6 L1603.4 870.9 L1605.3 873.3 L1607.7 875.7 L1610.0 878.0 L1612.4 880.4 L1614.8 882.8 L1617.1 885.1 L1619.5 887.5 L1619.8 890.6 L1620.1 893.8 L1620.4 896.9 L1620.7 900.1 L1621.0 903.2 L1621.2 906.3 L1621.5 909.5 L1621.8 912.6 L1622.1 915.8 L1622.4 918.9 L1625.0 917.0 L1627.6 915.1 L1630.2 913.2 L1632.8 911.3 L1635.4 909.4 L1638.0 907.5 L1642.3 906.0"/>
<path class="p" d="M98.0 739.6 L101.4 739.8 L104.8 740.0 L108.2 740.2 L111.7 740.4 L115.1 740.6 L118.5 740.8 L121.9 741.0 L125.2 741.4 L128.4 741.8 L131.7 742.1 L135.0 742.5 L138.3 742.9 L141.6 743.2 L144.8 743.6 L148.1 744.0 L150.7 745.5 L153.4 746.9 L156.0 748.4 L158.7 749.8 L161.3 751.3 L164.2 753.1 L167.1 754.9 L170.0 756.7 L172.9 758.5 L175.4 760.7 L178.0 762.9 L180.6 765.1 L183.1 767.3 L184.6 770.2 L186.0 773.1 L187.5 776.0 L185.3 779.6 L183.1 783.3 L180.6 785.1 L178.0 787.0 L175.4 788.8 L172.9 790.6 L170.0 793.0 L167.1 795.5 L164.2 797.9 L166.1 800.8 L168.1 803.8 L170.0 806.7 L171.8 809.6 L173.7 812.5 L175.5 815.4 L177.3 818.3 L178.3 821.7 L179.2 825.1 L180.2 828.5 L177.8 831.4 L175.3 834.4 L172.9 837.3 L171.9 840.2 L171.0 843.1 L170.0 846.0 L171.4 848.9 L172.9 851.9 L174.4 854.8 L175.8 857.7 L178.7 859.5 L181.7 861.4 L184.6 863.2 L187.5 865.0 L191.0 865.7 L194.5 866.4 L198.0 867.2 L201.5 867.9 L205.0 868.6 L208.0 868.4 L211.1 868.2 L214.1 868.0 L217.2 867.8 L220.2 867.6 L223.3 867.5 L226.3 867.3 L229.4 867.1 L232.4 866.9 L235.5 866.7 L238.5 866.5 L241.4 865.3 L244.3 864.1 L247.3 863.0 L250.2 861.8 L253.1 860.6 L256.0 859.9 L258.9 859.2 L261.9 858.4 L264.8 857.7 L268.2 858.7 L271.6 859.6 L275.0 860.6 L277.9 862.6 L280.8 864.7 L283.8 866.7 L286.7 868.8 L289.6 870.8 L292.5 872.6 L295.4 874.3 L298.4 876.1 L301.3 877.8 L304.2 879.6 L307.1 881.3 L310.0 883.1 L313.0 884.8 L315.9 886.6 L318.8 888.3 L321.7 889.8 L324.6 891.2 L327.5 892.7 L330.4 894.1 L333.3 895.6 L336.9 896.3 L340.6 897.0 L344.2 897.8 L347.9 898.5 L350.8 896.9 L353.8 895.2 L356.7 893.6 L359.6 892.0 L361.8 894.5 L364.0 897.1 L360.6 897.2 L357.2 897.3 L353.9 897.4 L350.5 897.5 L347.1 897.6 L349.5 895.7 L351.9 893.8 L354.2 891.9 L356.6 890.0 L359.0 888.1 L361.4 886.2 L362.5 889.0 L363.6 891.9 L364.8 894.7 L365.9 897.6 L367.0 900.4 L368.8 902.9 L370.6 905.4 L372.4 907.9 L374.1 910.4 L375.9 912.9 L377.7 915.4 L379.5 917.9 L381.3 920.4 L383.2 922.8 L385.1 925.1 L387.0 927.5 L388.9 929.9 L390.8 932.2 L392.7 934.6 L395.6 936.1 L398.6 937.7 L401.5 939.2 L404.4 940.8 L407.3 942.3 L410.3 943.9 L413.2 945.4 L415.7 947.2 L418.2 949.0 L420.7 950.7 L423.1 952.5 L425.6 954.3 L428.1 956.0 L430.6 957.8 L433.1 959.6 L435.4 961.9 L437.7 964.2 L439.9 966.4 L442.2 968.7 L444.5 971.0 L447.4 972.4 L450.2 973.9 L453.1 975.3 L455.9 976.7 L458.8 978.2 L461.6 979.6 L462.6 982.5 L463.5 985.3 L464.5 988.2 L465.4 991.0 L466.4 993.9 L467.3 996.7 L469.6 999.0 L471.8 1001.2 L474.1 1003.5 L476.3 1005.7 L478.6 1008.0 L481.1 1010.0 L483.6 1011.9 L486.1 1013.9 L488.6 1015.9 L491.1 1017.8 L493.6 1019.8 L496.1 1021.7 L498.6 1023.7 L501.4 1025.1 L504.3 1026.6 L507.1 1028.0 L510.0 1029.4 L512.8 1030.8 L515.7 1032.3 L518.5 1033.7 L521.8 1034.2 L525.1 1034.6 L528.5 1035.1 L531.8 1035.6 L535.1 1036.0 L538.4 1036.5 L540.3 1039.4 L542.2 1042.2 L544.1 1045.1 L546.4 1047.4 L548.7 1049.6 L550.9 1051.9 L553.2 1054.1 L555.5 1056.4 L558.4 1057.8 L561.2 1059.3 L564.0 1060.7 L566.9 1062.1 L569.8 1063.6 L572.6 1065.0 L575.5 1066.4 L578.3 1067.8 L581.1 1069.3 L584.0 1070.7 L586.9 1072.1 L589.7 1073.5 L592.5 1075.0 L595.4 1076.4 L598.2 1077.8 L601.1 1079.2 L604.0 1080.6 L606.8 1082.1 L609.6 1083.5 L612.5 1084.9 L615.3 1086.3 L618.2 1087.7 L621.0 1089.2 L623.9 1090.6 L626.7 1092.0 L629.6 1093.4 L632.4 1094.9 L635.3 1096.3 L638.1 1097.7 L641.2 1097.5 L644.4 1097.3 L647.5 1097.0 L650.6 1096.8 L653.8 1096.6 L656.9 1096.4 L660.0 1096.2 L663.1 1095.9 L666.3 1095.7 L669.4 1095.5 L672.4 1095.7 L675.5 1095.8 L678.5 1096.0 L681.5 1096.2 L684.6 1096.3 L687.6 1096.5 L690.7 1096.6 L693.7 1096.8 L697.0 1096.4 L700.3 1096.0 L703.6 1095.6 L706.9 1095.2 L710.2 1094.8 L713.5 1094.4 L716.8 1094.0 L719.2 1091.0 L721.6 1088.0 L720.2 1085.2 L718.7 1082.3 L717.3 1079.5 L715.9 1076.7 L714.4 1073.8 L713.0 1071.0 L712.8 1067.6 L712.6 1064.2 L712.4 1060.8 L712.2 1057.4 L712.0 1054.0 L712.5 1051.0 L713.0 1048.0 L713.5 1045.0 L714.0 1042.0 L713.2 1038.4 L712.4 1034.8 L711.5 1031.1 L710.7 1027.5 L712.2 1024.6 L713.6 1021.7 L715.1 1018.8 L716.5 1015.9 L718.0 1013.0 L719.4 1009.8 L720.8 1006.5 L722.2 1003.2 L723.6 1000.0 L725.2 997.1 L726.7 994.3 L728.3 991.4 L729.8 988.6 L731.4 985.7 L732.9 982.9 L734.5 980.0 L736.3 977.3 L738.1 974.5 L740.0 971.8 L741.8 969.1 L743.6 966.4 L745.5 963.7 L747.3 960.9 L749.1 958.2 L751.4 956.2 L753.6 954.1 L755.9 952.0 L758.2 950.0 L760.5 948.0 L762.8 945.9 L765.0 943.8 L767.3 941.8 L769.6 939.8 L771.8 937.7 L774.1 935.7 L776.4 933.6 L778.7 931.6 L781.0 929.6 L783.2 927.5 L785.5 925.5 L787.8 923.5 L790.0 921.4 L792.3 919.4 L794.5 917.3 L796.8 915.2 L799.1 913.2 L801.3 911.1 L803.6 909.1 L805.9 907.1 L808.1 905.0 L810.4 903.0 L812.7 900.9 L815.0 898.9 L817.2 896.8 L819.5 894.8 L821.8 892.7 L824.8 892.0 L827.7 891.4 L830.7 890.7 L833.6 890.0 L836.6 889.3 L839.6 888.6 L842.5 888.0 L845.5 887.3 L848.7 886.8 L851.9 886.4 L855.0 885.9 L858.2 885.5 L861.4 885.0 L864.5 884.5 L867.7 884.1 L870.9 883.6 L874.0 882.3 L877.1 881.0 L880.2 879.7 L883.4 878.4 L886.5 877.1 L889.6 875.8 L892.7 874.5 L893.8 871.2 L894.9 868.0 L896.0 864.7 L897.1 861.5 L898.2 858.2 L901.2 858.8 L904.3 859.4 L907.3 860.0 L910.3 860.6 L913.4 861.2 L916.4 861.8 L919.1 860.0 L921.8 858.2 L924.5 856.3 L927.3 854.5 L930.0 852.7 L932.7 850.9 L936.4 851.4 L940.0 851.8 L943.6 852.2 L947.3 852.7 L949.7 854.5 L952.1 856.3 L954.5 858.2 L957.0 860.0 L959.4 861.8 L961.8 863.6 L965.1 864.3 L968.4 865.1 L971.6 865.8 L974.9 866.6 L978.2 867.3 L981.3 867.6 L984.4 867.8 L987.5 868.1 L990.7 868.3 L993.8 868.6 L996.9 868.8 L1000.0 869.1 L1003.1 868.8 L1006.2 868.5 L1009.3 868.3 L1012.4 868.0 L1015.5 867.7 L1018.7 867.2 L1021.8 866.7 L1025.0 866.3 L1028.2 865.8 L1031.3 865.3 L1034.5 864.8 L1037.7 864.4 L1040.8 863.9 L1044.0 863.4 L1046.8 864.7 L1049.7 865.9 L1052.5 867.2 L1055.4 868.5 L1058.2 869.7 L1061.1 871.0 L1063.9 872.3 L1066.8 873.5 L1069.6 874.8 L1072.4 873.4 L1075.3 871.9 L1078.1 870.5 L1081.0 869.1 L1083.8 867.7 L1086.7 866.2 L1089.5 864.8 L1092.9 864.2 L1096.3 863.7 L1099.8 863.1 L1103.2 862.6 L1106.6 862.0 L1103.3 862.8 L1100.0 863.7 L1096.6 864.5 L1093.3 865.4 L1090.0 866.2 L1093.2 866.6 L1096.4 866.9 L1099.6 867.2 L1102.8 867.6 L1106.0 868.0 L1109.2 868.3 L1112.4 868.6 L1115.6 869.0 L1118.1 867.3 L1120.7 865.5 L1123.2 863.8 L1125.7 862.1 L1128.3 860.3 L1130.8 858.6 L1133.3 856.9 L1135.9 855.1 L1138.4 853.4 L1140.1 850.8 L1141.8 848.3 L1143.5 845.7 L1145.2 843.2 L1146.9 840.6 L1149.8 841.5 L1152.6 842.5 L1155.5 843.5 L1158.3 844.4 L1161.2 845.3 L1164.0 846.3 L1166.5 844.3 L1169.0 842.4 L1171.5 840.4 L1174.0 838.5 L1176.5 836.5 L1179.0 834.5 L1181.5 832.6 L1184.0 830.6 L1186.5 828.5 L1189.0 826.3 L1191.5 824.2 L1194.0 822.0 L1196.4 819.9 L1198.9 817.8 L1201.4 815.6 L1203.9 813.5 L1206.7 814.5 L1209.6 815.5 L1212.4 816.5 L1215.3 817.6 L1218.1 818.6 L1221.0 819.6 L1223.8 820.6 L1226.2 818.7 L1228.5 816.8 L1230.9 815.0 L1233.3 813.1 L1235.6 811.2 L1238.0 809.3 L1241.3 808.7 L1244.5 808.1 L1247.8 807.5 L1251.0 806.8 L1254.3 806.2 L1257.5 805.6 L1260.8 805.0 L1264.1 804.2 L1267.3 803.4 L1270.6 802.6 L1273.8 801.7 L1277.1 800.9 L1280.3 800.1 L1283.6 799.3 L1285.6 796.9 L1287.7 794.4 L1289.7 792.0 L1291.7 789.5 L1293.7 787.1 L1295.8 784.6 L1297.8 782.2 L1300.9 782.0 L1304.0 781.7 L1307.0 781.5 L1310.1 781.3 L1313.2 781.0 L1316.3 780.8 L1315.3 783.8 L1314.3 786.8 L1313.3 789.8 L1312.3 792.8 L1311.3 795.8 L1310.4 798.7 L1309.4 801.7 L1308.4 804.7 L1307.4 807.7 L1306.4 810.7 L1305.0 813.6 L1303.5 816.4 L1302.1 819.2 L1300.7 822.1 L1299.2 824.9 L1297.8 827.8 L1295.4 830.0 L1292.9 832.3 L1290.5 834.5 L1288.0 836.7 L1285.6 838.9 L1283.1 841.2 L1280.7 843.4 L1282.4 846.5 L1284.1 849.7 L1285.9 852.8 L1287.6 856.0 L1289.3 859.1 L1290.4 861.9 L1291.6 864.8 L1292.7 867.6 L1293.9 870.5 L1295.0 873.3 L1295.5 876.3 L1296.0 879.2 L1296.6 882.2 L1297.1 885.2 L1297.6 888.2 L1298.1 891.1 L1298.6 894.1 L1299.1 897.1 L1299.7 900.1 L1300.2 903.0 L1300.7 906.0 L1303.5 904.8 L1306.4 903.6 L1309.2 902.5 L1312.1 901.3 L1315.0 900.1 L1317.8 898.9 L1318.3 902.0 L1318.8 905.1 L1319.2 908.1 L1319.7 911.2 L1320.2 914.3 L1320.7 917.4 L1321.1 920.5 L1321.6 923.6 L1322.1 926.6 L1322.5 929.7 L1323.0 932.8 L1323.5 935.9 L1326.3 937.7 L1329.2 939.5 L1332.0 941.3 L1334.8 943.0 L1337.7 944.8 L1340.5 946.6 L1343.4 948.4 L1346.2 950.2 L1349.4 951.1 L1352.5 952.1 L1355.7 953.0 L1358.9 954.0 L1362.0 954.9 L1365.2 955.9 L1368.4 956.8 L1371.5 957.8 L1374.7 958.7 L1377.5 960.3 L1380.4 962.0 L1383.2 963.6 L1386.1 965.2 L1388.9 966.8 L1391.8 968.5 L1394.6 970.1 L1397.7 969.9 L1400.8 969.6 L1403.8 969.4 L1406.9 969.2 L1410.0 968.9 L1413.1 968.7 L1416.2 968.5 L1419.3 968.2 L1422.3 968.0 L1425.4 967.8 L1428.5 967.5 L1431.6 967.3 L1434.7 967.8 L1437.8 968.2 L1440.8 968.7 L1443.9 969.2 L1447.0 969.7 L1450.1 970.1 L1453.2 970.6 L1456.3 971.1 L1459.3 971.6 L1462.4 972.0 L1465.5 972.5 L1468.6 973.0 L1471.4 971.1 L1474.3 969.2 L1477.2 967.3 L1480.0 965.4 L1482.8 963.5 L1485.7 961.6 L1488.3 963.6 L1490.8 965.6 L1493.4 967.6 L1496.0 969.6 L1498.6 971.5 L1501.1 973.5 L1503.7 975.5 L1506.3 977.5 L1508.8 979.5 L1511.4 981.5 L1513.3 984.8 L1515.1 988.0 L1517.0 991.3 L1519.8 992.7 L1522.7 994.1 L1525.5 995.6 L1528.4 997.0 L1531.2 998.4 L1534.1 999.9 L1537.0 1001.3 L1539.8 1002.7 L1542.6 1004.0 L1545.5 1005.3 L1548.3 1006.5 L1551.2 1007.8 L1554.0 1009.1 L1556.9 1010.4 L1559.8 1011.7 L1562.6 1012.9 L1565.5 1014.2 L1568.3 1015.5 L1572.5 1016.2 L1576.8 1016.9 L1579.7 1015.5 L1582.5 1014.0 L1585.3 1012.6 L1588.2 1011.2 L1588.8 1007.8 L1589.4 1004.4 L1589.9 1001.0 L1590.5 997.6 L1591.1 994.2 L1594.6 995.2 L1598.2 996.3 L1601.8 997.4 L1605.3 998.4 L1608.2 997.0 L1611.0 995.6 L1613.8 994.1 L1616.7 992.7 L1619.6 991.3 L1622.4 989.9 L1625.5 989.0 L1628.6 988.2 L1631.8 987.3 L1634.9 986.5 L1638.0 985.6 L1642.3 985.1"/>
<path class="p" d="M96.5 742.1 L99.9 742.3 L103.3 742.5 L106.7 742.7 L110.2 742.9 L113.6 743.1 L117.0 743.3 L120.4 743.5 L123.7 743.9 L127.0 744.2 L130.2 744.6 L133.5 745.0 L136.8 745.4 L140.1 745.8 L143.3 746.1 L146.6 746.5 L149.2 748.0 L151.9 749.4 L154.5 750.9 L157.2 752.3 L159.8 753.8 L162.7 755.6 L165.6 757.4 L168.5 759.2 L171.4 761.0 L173.9 763.2 L176.5 765.4 L179.1 767.6 L181.6 769.8 L183.1 772.7 L184.5 775.6 L186.0 778.5 L183.8 782.1 L181.6 785.8 L179.1 787.6 L176.5 789.5 L173.9 791.3 L171.4 793.1 L168.5 795.5 L165.6 798.0 L162.7 800.4 L164.6 803.3 L166.6 806.3 L168.5 809.2 L170.3 812.1 L172.2 815.0 L174.0 817.9 L175.8 820.8 L176.8 824.2 L177.7 827.6 L178.7 831.0 L176.3 833.9 L173.8 836.9 L171.4 839.8 L170.4 842.7 L169.5 845.6 L168.5 848.5 L169.9 851.4 L171.4 854.4 L172.9 857.3 L174.3 860.2 L177.2 862.0 L180.2 863.9 L183.1 865.7 L186.0 867.5 L189.5 868.2 L193.0 868.9 L196.5 869.7 L200.0 870.4 L203.5 871.1 L206.5 870.9 L209.6 870.7 L212.6 870.5 L215.7 870.3 L218.7 870.1 L221.8 870.0 L224.8 869.8 L227.9 869.6 L230.9 869.4 L234.0 869.2 L237.0 869.0 L239.9 867.8 L242.8 866.6 L245.8 865.5 L248.7 864.3 L251.6 863.1 L254.5 862.4 L257.4 861.7 L260.4 860.9 L263.3 860.2 L266.7 861.2 L270.1 862.1 L273.5 863.1 L276.4 865.1 L279.3 867.2 L282.3 869.2 L285.2 871.3 L288.1 873.3 L291.0 875.1 L293.9 876.8 L296.9 878.6 L299.8 880.3 L302.7 882.1 L305.6 883.8 L308.5 885.6 L311.5 887.3 L314.4 889.1 L317.3 890.8 L320.2 892.3 L323.1 893.7 L326.0 895.2 L328.9 896.6 L331.8 898.1 L335.4 898.8 L339.1 899.5 L342.8 900.3 L346.4 901.0 L349.3 899.4 L352.2 897.8 L355.2 896.1 L358.1 894.5 L360.3 897.0 L362.5 899.6 L359.1 899.7 L355.7 899.8 L352.4 899.9 L349.0 900.0 L345.6 900.1 L348.0 898.2 L350.4 896.3 L352.8 894.4 L355.1 892.5 L357.5 890.6 L359.9 888.7 L361.0 891.5 L362.1 894.4 L363.3 897.2 L364.4 900.1 L365.5 902.9 L367.3 905.4 L369.1 907.9 L370.9 910.4 L372.6 912.9 L374.4 915.4 L376.2 917.9 L378.0 920.4 L379.8 922.9 L381.7 925.3 L383.6 927.6 L385.5 930.0 L387.4 932.4 L389.3 934.7 L391.2 937.1 L394.1 938.7 L396.9 940.3 L399.8 941.9 L402.6 943.6 L405.5 945.2 L408.3 946.8 L411.2 948.4 L413.7 950.2 L416.2 952.0 L418.7 953.7 L421.1 955.5 L423.6 957.3 L426.1 959.0 L428.6 960.8 L431.1 962.6 L433.4 964.9 L435.7 967.2 L437.9 969.4 L440.2 971.7 L442.5 974.0 L445.4 975.4 L448.2 976.9 L451.1 978.3 L453.9 979.7 L456.8 981.2 L459.6 982.6 L460.6 985.5 L461.5 988.3 L462.5 991.2 L463.4 994.0 L464.4 996.9 L465.3 999.7 L467.6 1002.0 L469.8 1004.2 L472.1 1006.5 L474.3 1008.7 L476.6 1011.0 L479.1 1013.0 L481.6 1014.9 L484.1 1016.9 L486.6 1018.9 L489.1 1020.8 L491.6 1022.8 L494.1 1024.7 L496.6 1026.7 L499.4 1028.1 L502.3 1029.6 L505.1 1031.0 L508.0 1032.4 L510.8 1033.8 L513.7 1035.3 L516.5 1036.7 L519.8 1037.2 L523.1 1037.6 L526.5 1038.1 L529.8 1038.6 L533.1 1039.0 L536.4 1039.5 L538.3 1042.4 L540.2 1045.2 L542.1 1048.1 L544.4 1050.4 L546.7 1052.6 L548.9 1054.9 L551.2 1057.1 L553.5 1059.4 L556.4 1060.8 L559.2 1062.3 L562.0 1063.7 L564.9 1065.1 L567.8 1066.6 L570.6 1068.0 L573.5 1069.4 L576.3 1070.8 L579.1 1072.3 L582.0 1073.7 L584.9 1075.1 L587.7 1076.5 L590.5 1078.0 L593.4 1079.4 L596.2 1080.8 L599.1 1082.2 L602.0 1083.6 L604.8 1085.1 L607.6 1086.5 L610.5 1087.9 L613.3 1089.3 L616.2 1090.7 L619.0 1092.2 L621.9 1093.6 L624.7 1095.0 L627.6 1096.4 L630.4 1097.9 L633.3 1099.3 L636.1 1100.7 L639.1 1100.1 L642.0 1099.6 L645.0 1099.0 L648.0 1099.5 L651.0 1100.0 L654.0 1100.5 L657.0 1101.0 L660.1 1101.3 L663.1 1101.7 L666.2 1102.0 L669.2 1102.4 L672.3 1102.8 L675.4 1103.1 L678.4 1103.5 L681.5 1103.8 L684.5 1103.6 L687.6 1103.5 L690.6 1103.3 L693.6 1103.2 L696.7 1103.0 L699.7 1102.9 L702.8 1102.8 L705.8 1102.6 L709.2 1102.1 L712.6 1101.6 L716.0 1101.0 L719.4 1100.5 L722.8 1100.0 L726.1 1101.7 L729.3 1103.3 L732.6 1105.0 L734.0 1101.8 L735.4 1098.6 L736.8 1095.4 L738.2 1092.2 L739.6 1089.0 L741.0 1085.8 L740.0 1082.8 L739.0 1079.9 L738.0 1076.9 L737.0 1074.0 L736.0 1071.0 L735.1 1067.4 L734.3 1063.8 L733.5 1060.3 L732.6 1056.7 L733.3 1053.8 L734.0 1050.8 L734.6 1047.9 L735.3 1044.9 L736.0 1042.0 L737.7 1039.1 L739.5 1036.2 L741.2 1033.3 L743.0 1030.4 L744.7 1027.5 L746.2 1024.6 L747.6 1021.7 L749.1 1018.8 L750.5 1015.9 L752.0 1013.0 L753.0 1009.8 L754.0 1006.5 L755.0 1003.2 L756.0 1000.0 L757.6 997.4 L759.2 994.8 L760.8 992.2 L762.5 989.6 L764.1 987.0 L765.7 984.4 L767.3 981.8 L769.3 979.6 L771.3 977.4 L773.4 975.1 L775.4 972.9 L777.4 970.7 L779.4 968.5 L781.5 966.2 L783.5 964.0 L785.5 961.8 L787.8 959.8 L790.0 957.7 L792.3 955.7 L794.5 953.6 L796.8 951.6 L799.1 949.6 L801.3 947.5 L803.6 945.5 L805.6 943.1 L807.6 940.6 L809.7 938.2 L811.7 935.8 L813.7 933.3 L815.7 930.9 L817.8 928.5 L819.8 926.0 L821.8 923.6 L824.8 922.7 L827.9 921.8 L830.9 920.9 L833.9 920.0 L837.0 919.1 L840.0 918.2 L842.8 917.0 L845.6 915.7 L848.4 914.5 L851.2 913.2 L854.0 912.0 L856.9 910.7 L859.7 909.5 L862.5 908.2 L865.3 907.0 L868.1 905.7 L870.9 904.5 L873.9 903.7 L876.8 902.9 L879.8 902.1 L882.7 901.4 L885.6 900.6 L888.6 899.8 L891.5 899.0 L894.5 898.2 L897.7 897.4 L900.9 896.6 L904.1 895.8 L907.2 895.0 L910.4 894.2 L913.6 893.4 L916.8 892.6 L920.0 891.8 L923.2 891.1 L926.4 890.5 L929.5 889.8 L932.7 889.1 L933.9 892.1 L935.1 895.2 L936.4 898.2 L937.6 901.2 L938.8 904.3 L940.0 907.3 L943.3 908.7 L946.6 910.2 L949.8 911.6 L953.1 913.1 L956.4 914.5 L959.4 915.6 L962.4 916.6 L965.5 917.7 L968.5 918.8 L971.5 919.8 L974.5 920.9 L977.7 920.3 L980.9 919.8 L984.1 919.2 L987.2 918.6 L990.4 918.1 L993.6 917.5 L996.8 917.0 L1000.0 916.4 L1003.1 915.8 L1006.2 915.1 L1009.3 914.5 L1012.4 913.8 L1015.5 913.2 M1061.1 906.1 L1064.3 905.2 L1067.5 904.3 L1070.7 903.4 L1073.9 902.5 L1077.1 901.7 L1080.3 900.8 L1083.5 899.9 L1086.7 899.0 L1090.0 896.1 L1093.2 895.1 L1096.3 894.2 L1099.5 893.2 L1102.7 892.3 L1105.8 891.3 L1109.0 890.4 L1112.2 889.4 L1115.3 888.5 L1118.5 887.5 L1121.3 885.7 L1124.2 884.0 L1127.0 882.2 L1129.8 880.4 L1132.7 878.6 L1135.5 876.8 L1138.4 875.1 L1141.2 873.3 L1144.1 871.5 L1146.9 869.6 L1149.8 867.8 L1152.6 866.0 L1155.5 864.2 L1158.3 862.3 L1161.2 860.5 L1164.4 860.1 L1167.6 859.8 L1170.8 859.5 L1174.0 859.1 L1177.2 858.8 L1180.4 858.4 L1183.6 858.1 L1186.8 857.7 L1189.6 858.9 L1192.5 860.2 L1195.3 861.4 L1198.2 862.7 L1201.0 863.9 L1203.9 865.1 L1206.8 866.4 L1209.6 867.6 L1213.1 866.5 L1216.7 865.5 L1220.2 864.4 L1223.8 863.3 L1225.0 866.4 L1226.2 869.4 L1227.4 872.5 L1228.7 875.5 L1229.9 878.6 L1231.1 881.6 L1232.3 884.7 L1233.4 887.5 L1234.6 890.4 L1235.7 893.2 L1236.9 896.1 L1238.0 898.9 L1239.2 901.8 L1240.5 904.6 L1241.7 907.5 L1242.9 910.3 L1244.1 913.2 L1245.4 916.0 L1246.6 918.9 L1244.9 921.7 L1243.2 924.6 L1241.4 927.4 L1239.7 930.3 L1238.0 933.1 L1240.8 934.2 L1243.7 935.2 L1246.5 936.3 L1249.4 937.4 L1252.2 938.4 L1255.1 939.5 L1258.0 940.5 L1260.8 941.6 L1263.7 943.0 L1266.5 944.5 L1269.3 945.9 L1272.2 947.3 L1275.1 948.8 L1277.9 950.2 L1279.0 953.0 L1280.2 955.9 L1281.3 958.7 L1282.5 961.6 L1283.6 964.4 L1285.5 967.7 L1287.4 970.9 L1289.3 974.2 L1292.2 976.0 L1295.0 977.8 L1297.8 979.6 L1300.7 981.4 L1303.5 979.7 L1306.4 978.0 L1309.2 976.2 L1312.1 974.5 L1314.9 972.8 L1316.9 975.4 L1319.0 978.1 L1321.0 980.7 L1323.0 983.4 L1325.0 986.0 L1327.1 988.7 L1329.1 991.3 L1332.5 990.7 L1335.9 990.2 L1339.4 989.6 L1342.8 989.1 L1346.2 988.5 L1349.4 988.8 L1352.5 989.1 L1355.7 989.4 L1358.9 989.7 L1362.0 990.1 L1365.2 990.4 L1368.4 990.7 L1371.5 991.0 L1374.7 991.3 L1378.0 991.7 L1381.2 992.1 L1384.5 992.5 L1387.7 993.0 L1391.0 993.4 L1394.2 993.8 L1397.5 994.2 L1399.8 996.8 L1402.1 999.3 L1404.3 1001.9 L1406.6 1004.4 L1408.9 1007.0 L1412.1 1006.8 L1415.4 1006.6 L1418.6 1006.4 L1421.9 1006.2 L1425.1 1006.0 L1428.4 1005.8 L1431.6 1005.6 L1434.9 1006.2 L1438.1 1006.8 L1441.4 1007.4 L1444.6 1008.0 L1447.9 1008.6 L1451.1 1009.2 L1454.4 1009.8 L1457.7 1008.8 L1460.9 1007.8 L1464.2 1006.8 L1467.4 1005.7 L1470.7 1004.7 L1473.9 1003.7 L1477.2 1002.7 L1480.5 1002.5 L1483.7 1002.3 L1487.0 1002.1 L1490.2 1001.9 L1493.5 1001.7 L1496.7 1001.5 L1500.0 1001.3 L1501.9 1003.9 L1503.8 1006.5 L1505.7 1009.1 L1507.6 1011.7 L1509.5 1014.3 L1511.4 1016.9 L1513.8 1018.9 L1516.3 1021.0 L1518.7 1023.0 L1521.1 1025.1 L1523.5 1027.1 L1526.0 1029.2 L1528.4 1031.2 L1531.2 1032.6 L1534.1 1034.0 L1537.0 1035.5 L1539.8 1036.9 L1542.7 1038.3 L1545.5 1039.8 L1548.4 1041.2 L1551.2 1042.6 L1554.0 1044.0 L1556.9 1045.4 L1559.8 1046.9 L1562.6 1048.3 L1565.5 1049.7 L1568.3 1051.2 L1571.2 1052.6 L1574.0 1054.0 L1576.8 1055.0 L1579.7 1056.0 L1582.5 1057.0 L1585.4 1058.0 L1588.2 1059.0 L1591.1 1059.9 L1594.0 1060.9 L1596.8 1061.9 L1599.7 1062.9 L1602.5 1063.9 L1605.5 1064.6 L1608.4 1065.3 L1611.4 1066.1 L1614.3 1066.8 L1617.3 1067.5 L1620.2 1068.2 L1623.2 1068.9 L1626.2 1069.6 L1629.1 1070.3 L1632.1 1071.1 L1635.0 1071.8 L1638.0 1072.5 L1642.3 1073.3"/>
<path class="p" d="M810.0 1119.0 L800.0 1115.0 L791.0 1107.7 L778.7 1098.0 L773.9 1085.8 L764.0 1071.0 L760.5 1056.7 L764.0 1042.0 L769.0 1027.5 L778.7 1013.0 L785.5 1000.0 L803.6 981.8 L821.8 969.1 L840.0 956.4 L854.5 947.3 L870.9 942.7 L887.3 943.6 L901.8 939.1 L923.6 944.5 L949.1 947.3 L976.4 948.2 L1000.0 950.9 L1015.5 953.1 L1044.0 944.6 L1072.5 941.7 L1089.5 933.2 L1086.7 918.9 L1120.0 910.4 L1115.6 911.7 L1132.7 926.0 L1146.9 921.7 L1161.2 913.2 L1175.4 913.2 L1184.0 927.4 L1181.1 947.3 L1192.5 950.2 L1198.2 967.3 L1206.7 981.5 L1205.3 998.6 L1206.7 979.9 L1201.0 1011.2 L1212.4 1025.5 L1209.6 1031.2"/>
<path class="p" d="M1090.0 1045.4 L1118.5 1039.7 L1144.1 1039.7 L1158.3 1054.0 L1175.4 1069.6 L1198.2 1065.3 L1203.9 1058.2 L1189.6 1045.4 L1195.3 1038.3 L1226.7 1036.9 L1249.4 1035.4 L1272.2 1035.4"/>
<path class="p" d="M1090.0 1058.2 L1093.0 1058.4 L1096.1 1058.6 L1099.2 1058.8 L1102.2 1059.0 L1105.2 1059.2 L1108.3 1059.4 L1111.3 1059.7 L1114.4 1059.9 L1117.5 1060.1 L1120.5 1060.3 L1123.5 1060.5 L1126.6 1060.7 L1129.7 1060.9 L1132.7 1061.1 L1135.1 1063.2 L1137.4 1065.4 L1139.8 1067.5 L1142.2 1069.6 L1144.5 1071.8 L1146.9 1073.9 L1148.7 1076.5 L1150.5 1079.1 L1152.4 1081.6 L1154.2 1084.2 L1156.0 1086.8 L1157.8 1089.4 L1159.6 1092.0 L1161.4 1094.6 L1163.3 1097.1 L1165.1 1099.7 L1166.9 1102.3 L1166.7 1105.6 L1166.5 1108.8 L1166.3 1112.1 L1166.0 1115.3 L1165.8 1118.6 L1165.6 1121.8 L1165.4 1125.1 L1166.2 1128.3 L1167.0 1131.4 L1167.8 1134.6 L1168.6 1137.8 L1169.4 1140.9 L1170.2 1144.1 L1171.0 1147.3 L1171.8 1150.4 L1172.6 1153.6 L1173.3 1156.8 L1174.0 1160.0 L1174.7 1163.2 L1175.4 1166.4 L1176.2 1169.6 L1176.9 1172.8 L1177.6 1176.0 L1178.3 1179.2 L1181.8 1180.3 L1185.4 1181.3 L1189.0 1182.4 L1192.5 1183.5 L1192.3 1180.4 L1192.0 1177.3 L1191.8 1174.2 L1191.6 1171.2 L1191.3 1168.1 L1191.1 1165.0 L1190.3 1161.8 L1189.5 1158.7 L1188.7 1155.5 L1187.9 1152.3 L1187.2 1149.2 L1186.4 1146.0 L1185.6 1142.8 L1184.8 1139.7 L1184.0 1136.5 L1184.0 1133.1 L1184.0 1129.7 L1184.0 1126.2 L1184.0 1122.8 L1184.0 1119.4 L1185.7 1116.8 L1187.4 1114.3 L1189.1 1111.7 L1190.8 1109.2 L1192.5 1106.6 L1194.9 1108.4 L1197.4 1110.3 L1199.8 1112.1 L1202.3 1113.9 L1204.7 1115.7 L1207.2 1117.6 L1209.6 1119.4 L1212.4 1120.5 L1215.3 1121.7 L1218.1 1122.8 L1221.0 1124.0 L1223.8 1125.1 L1225.8 1127.5 L1227.9 1130.0 L1229.9 1132.4 L1231.9 1134.9 L1233.9 1137.3 L1236.0 1139.8 L1238.0 1142.2 L1240.8 1144.3 L1243.7 1146.5 L1246.6 1148.6 L1249.4 1150.7 L1250.4 1153.5 L1251.3 1156.4 L1252.2 1159.2 L1253.2 1162.1 L1254.1 1165.0 L1255.1 1167.8 L1258.0 1168.9 L1260.8 1170.1 L1263.7 1171.2 L1266.5 1172.4 L1269.4 1173.5 L1272.8 1172.7 L1276.2 1171.8 L1279.6 1171.0 L1283.0 1170.1 L1286.4 1169.3 L1288.1 1171.9 L1289.8 1174.4 L1291.6 1177.0 L1293.3 1179.5 L1295.0 1182.1 L1296.1 1184.9"/>
<path class="p" d="M1332.0 1213.4 L1334.0 1215.8 L1336.1 1218.3 L1338.1 1220.7 L1340.1 1223.2 L1342.1 1225.6 L1344.2 1228.1 L1346.2 1230.5 L1348.2 1233.2 L1350.1 1235.8 L1352.1 1238.5 L1354.1 1241.2 L1356.0 1243.8 L1358.0 1246.5 L1359.9 1249.1 L1361.9 1251.8 L1365.0 1251.8 L1368.1 1251.8 L1371.3 1251.8 L1374.4 1251.8 L1377.5 1251.8 L1380.4 1249.8 L1383.2 1247.8 L1386.1 1245.9 L1388.9 1243.9 L1391.8 1241.9 L1394.2 1239.5 L1396.5 1237.1 L1398.9 1234.8 L1401.3 1232.4 L1403.6 1230.0 L1406.0 1227.6 L1409.4 1227.3 L1412.8 1227.0 L1416.3 1226.8 L1419.7 1226.5 L1423.1 1226.2 L1425.0 1228.6 L1426.9 1230.9 L1428.8 1233.3 L1430.7 1235.7 L1432.6 1238.0 L1434.5 1240.4 L1436.4 1242.8 L1438.3 1245.1 L1440.2 1247.5 L1442.6 1249.9 L1444.9 1252.3 L1447.3 1254.7 L1449.7 1257.0 L1452.0 1259.4 L1454.4 1261.8 L1456.2 1264.3 L1458.0 1266.8 L1459.7 1269.3 L1461.5 1271.8 L1463.3 1274.2 L1465.0 1276.7 L1466.8 1279.2 L1468.6 1281.7 L1470.7 1284.2 L1472.9 1286.7 L1475.0 1289.2 L1477.2 1291.7 L1479.3 1294.1 L1481.4 1296.6 L1483.6 1299.1 L1485.7 1301.6 L1484.8 1304.4 L1483.8 1307.3 L1482.8 1310.2 L1481.9 1313.0 L1481.0 1315.8 L1480.0 1318.7 L1480.8 1322.0 L1481.6 1325.2 L1482.4 1328.5 L1483.3 1331.7 L1484.1 1335.0 L1484.9 1338.2 L1485.7 1341.5 L1487.5 1344.3 L1489.3 1347.2 L1491.1 1350.0 L1492.8 1352.9 L1494.6 1355.8 L1496.4 1358.6 L1498.2 1361.5 L1500.0 1364.3"/>
<path class="p" d="M1314.9 1029.8 L1334.8 1042.6 L1340.5 1062.5 L1346.2 1076.7 L1369.0 1073.9 L1388.9 1069.6 L1397.5 1085.3 L1408.9 1102.3 L1425.9 1099.5 L1440.2 1110.9 L1434.5 1089.5 L1438.8 1079.6 L1451.6 1091.0 L1468.6 1095.2 L1485.7 1083.8 L1500.0 1089.5 L1517.0 1081.0 L1545.5 1082.4 L1558.3 1089.5 L1534.1 1105.2 L1556.9 1119.4 L1534.1 1135.1 L1545.5 1140.8 L1554.1 1136.5 L1559.8 1123.7 L1579.7 1122.3 L1591.1 1108.0 L1608.1 1112.3 L1622.4 1136.5 L1628.1 1130.8 L1630.9 1119.4 L1638.0 1113.7"/>
<path class="p" d="M1374.7 1156.4 L1391.8 1162.1 L1406.0 1182.1 L1417.4 1187.8 L1425.9 1183.5 L1451.6 1187.8 L1457.3 1184.9 L1482.9 1182.1 L1511.4 1187.8 L1545.5 1197.7 L1574.0 1217.7 L1586.8 1233.3 L1599.6 1234.7 L1611.0 1261.8 L1622.4 1293.1 L1638.0 1313.0"/>
<path class="p" d="M1417.4 1187.8 L1448.7 1202.0 L1454.4 1227.6 L1470.1 1257.5 L1484.3 1249.0 L1511.4 1250.4 L1545.5 1257.5 L1568.3 1273.2 L1579.7 1287.4 L1582.5 1301.6 L1591.1 1321.6 L1585.4 1341.5 L1574.0 1355.7 L1562.6 1364.3"/>
<path class="p" d="M100.0 1154.7 L103.3 1154.1 L106.5 1153.5 L109.8 1152.9 L113.0 1152.2 L116.3 1151.6 L119.5 1151.0 L122.8 1150.4 L125.6 1148.8 L128.5 1147.2 L131.3 1145.7 L134.2 1144.1 L137.0 1142.5 L139.9 1140.9 L142.7 1139.4 L145.6 1137.8 L148.4 1136.2 L150.1 1138.7 L151.9 1141.1 L153.6 1143.5 L155.4 1146.0 L157.1 1148.5 L158.8 1150.9 L160.6 1153.3 L162.3 1155.8 L164.0 1158.2 L165.8 1160.7 L167.5 1163.2 L169.3 1165.6 L171.0 1168.0 L172.7 1170.5 L174.5 1173.0 L176.2 1175.4 L178.0 1177.8 L179.7 1180.3 L182.8 1179.7 L186.0 1179.2 L189.1 1178.6 L192.2 1178.0 L195.3 1177.4 L198.5 1176.9 L201.6 1176.3 L204.7 1175.7 L207.9 1175.2 L211.0 1174.6 L214.1 1175.1 L217.1 1175.7 L220.2 1176.2 L223.3 1176.8 L226.3 1177.3 L229.4 1177.9 L232.5 1178.4 L235.6 1179.0 L238.6 1179.5 L241.7 1180.1 L244.8 1180.6 L247.8 1181.2 L250.9 1181.7"/>
<path class="p" d="M293.6 1190.2 L297.9 1188.8 L302.1 1187.4 L305.4 1188.1 L308.8 1188.8 L312.1 1189.6 L315.4 1190.3 L318.8 1191.0 L322.1 1191.7 L325.3 1191.2 L328.5 1190.6 L331.7 1190.1 L334.9 1189.6 L338.1 1189.0 L341.3 1188.5 L344.5 1187.9 L347.7 1187.4 L350.8 1189.1 L353.9 1190.8 L357.1 1192.5 L360.2 1194.2 L363.3 1195.9 L363.7 1192.4 L364.1 1188.8 L364.4 1185.2 L364.8 1181.7 L367.6 1180.4 L370.5 1179.1 L373.3 1177.8 L376.2 1176.5 L379.0 1175.2 L381.9 1174.0 L384.7 1172.7 L387.6 1171.4 L390.4 1170.1 L393.3 1168.8 L396.1 1167.5 L398.0 1164.7 L399.9 1161.8 L401.8 1159.0 L403.7 1156.1 L405.6 1153.2 L407.5 1150.4 L410.7 1149.5 L413.8 1148.5 L417.0 1147.6 L420.1 1146.6 L423.3 1145.7 L426.4 1144.7 L429.6 1143.8 L432.7 1142.8 L435.9 1141.9 L439.0 1141.2 L442.2 1140.5 L445.3 1139.7 L448.5 1139.0 L451.6 1138.3 L454.7 1137.6 L457.9 1136.9 L461.0 1136.1 L464.2 1135.4 L467.3 1134.7 L468.6 1131.7 L469.9 1128.8 L471.2 1125.8 L472.5 1122.8 L473.8 1119.8 L475.0 1116.9 L476.3 1113.9 L477.6 1110.9 L478.9 1107.9 L480.2 1105.0 L481.5 1102.0 L483.1 1099.2 L484.7 1096.3 L486.2 1093.5 L487.8 1090.6 L489.4 1087.8 L491.0 1084.9 L492.5 1082.1 L494.1 1079.2 L495.7 1076.4 L498.5 1074.5 L501.4 1072.6 L504.2 1070.7 L507.1 1068.8 L509.9 1066.9 L512.8 1065.0 L516.1 1064.2 L519.3 1063.4 L522.6 1062.6 L525.8 1061.7 L529.1 1060.9 L532.3 1060.1 L535.6 1059.3"/>
<path class="p" d="M111.4 1096.3 L114.2 1107.7 L128.5 1113.4 L142.7 1119.1 L148.4 1130.5 L159.8 1113.4 L168.3 1096.3 L166.9 1086.3 L156.9 1080.6"/>
<path class="p" d="M100.0 1240.1 L117.1 1241.5 L134.2 1234.4 L148.4 1242.9 L165.5 1242.9 L179.7 1224.4 L196.8 1238.6 L216.7 1257.2 L213.9 1270.0"/>
<path class="p" d="M924.4 1096.7 L930.1 1119.4 L938.6 1145.1 L947.2 1155.0 L950.0 1130.8 L964.3 1105.2 L961.4 1088.1 L951.5 1076.7"/>
<path class="p" d="M881.7 1150.7 L874.6 1182.1 L874.6 1196.3 L886.0 1199.1 L891.7 1184.9 L900.2 1170.7"/>
<path class="p" d="M841.9 960.0 L810.5 971.4 L787.8 991.3 L770.7 1022.6 L762.1 1054.0 L765.0 1079.6 L776.4 1096.7 L793.5 1113.7 L810.5 1119.4"/>
<path class="p" d="M100.0 792.1 L121.9 790.6 L143.8 792.1 L164.2 797.9 L170.0 806.7 L177.3 818.3 L180.2 828.5 L172.9 837.3 L170.0 846.0 L158.3 850.4 L136.5 847.5 L114.6 843.1 L100.0 841.7Z"/>
<path class="p" d="M133.5 795.0 L162.7 797.9 L170.0 806.7 L164.2 814.0 L148.1 827.1 L136.5 806.7Z"/>
<path class="p" d="M172.9 850.4 L187.5 865.0 L224.0 869.4 L253.1 860.6 L275.0 860.6 L304.2 879.6 L333.3 895.6 L347.9 898.5 L340.6 905.8 L304.2 905.8 L282.3 894.2 L253.1 872.3 L245.8 894.2 L209.4 900.0 L187.5 886.9 L175.8 872.3Z"/>
<path class="p" d="M171.2 874.2 L213.9 865.7 L270.8 868.5 L313.5 882.8 L356.2 899.9 L393.2 931.2 L430.2 954.0 L464.4 982.4 L478.6 1005.2 L498.6 1022.3 L532.7 1039.4 L555.5 1056.4 L535.6 1059.3 L515.7 1049.3 L492.9 1056.4 L455.9 1067.8 L441.6 1057.9 L424.6 1060.7 L420.3 1072.1 L441.6 1076.4 L448.8 1102.0 L426.0 1117.7 L410.3 1104.8 L401.8 1116.2 L361.9 1136.2 L333.5 1134.7 L310.7 1120.5 L282.2 1106.3 L270.8 1087.8 L263.7 1059.3 L269.4 1040.8 L242.3 1037.9 L225.3 1019.4 L208.2 1009.5 L185.4 1010.9 L162.6 1025.1 L131.3 1010.9 L139.9 982.4 L138.4 965.3 L162.6 958.2 L179.7 963.9 L211.0 951.1 L209.6 936.9 L185.4 928.3 L174.0 905.6 L182.6 882.8Z"/>
<path class="p" d="M97.2 897.0 L100.3 897.0 L103.5 897.0 L106.6 897.0 L109.7 897.0 L112.9 897.0 L116.0 897.0 L119.1 897.0 L122.2 897.0 L125.4 897.0 L128.5 897.0 L130.4 899.4"/>
<path class="p" d="M139.9 941.8 L139.9 944.8 L139.9 947.9 L139.9 950.9 L139.9 954.0 L136.9 954.4 L133.9 954.8 L130.9 955.3 L127.9 955.7 L125.0 956.1 L122.0 956.5 L119.0 956.9 L116.0 957.4 L113.0 957.8 L110.0 958.2 L106.8 957.2 L103.6 956.1 L100.4 955.0 L97.2 954.0 L97.2 951.0 L97.2 948.0 L97.2 945.0 L97.2 942.0 L97.2 939.0 L97.2 936.0 L97.2 933.0 L97.2 930.0 L97.2 927.0 L97.2 924.0 L97.2 921.0 L97.2 918.0 L97.2 915.0 L97.2 912.0 L97.2 909.0 L97.2 906.0 L97.2 903.0 L97.2 900.0 L97.2 897.0"/>
<path class="p" d="M312.1 965.3 L315.2 965.5 L318.2 965.7 L321.3 965.9 L324.3 966.2 L327.4 966.4 L330.4 966.6 L333.5 966.8 L336.3 965.2 L339.2 963.6 L342.0 962.0 L344.9 960.4 L347.7 958.8 L350.5 957.2 L353.4 955.6 L356.2 954.0 L359.1 952.6 L361.9 951.1 L364.8 949.7 L367.6 948.3 L370.4 946.9 L373.3 945.4 L376.1 944.0 L379.0 942.6 L381.8 941.1 L384.7 939.7 L388.9 938.3 L393.2 936.9 L393.2 940.2 L393.2 943.5"/>
<path class="p" d="M388.0 990.7 L387.5 993.8 L385.4 995.9 L383.2 998.0 L381.1 1000.2 L379.0 1002.3 L375.7 1003.3 L372.5 1004.4 L369.2 1005.4 L366.0 1006.4 L362.7 1007.4 L359.5 1008.5 L356.2 1009.5 L353.0 1010.5 L349.7 1011.5 L346.5 1012.5 L343.2 1013.6 L340.0 1014.6 L336.7 1015.6 L333.5 1016.6 L329.2 1015.9 L324.9 1015.2 L324.0 1012.2 L323.0 1009.2 L322.1 1006.2 L321.1 1003.2 L320.2 1000.1 L319.2 997.1 L318.3 994.1 L317.3 991.1 L316.4 988.1 L315.8 984.8 L315.2 981.6 L314.6 978.3 L313.9 975.1 L313.3 971.8 L312.7 968.6 L312.1 965.3"/>
<path class="p" d="M202.5 981.0 L213.9 976.7 L228.1 959.6 L248.0 945.4 L266.5 951.1 L262.3 965.3 L248.0 979.6 L225.3 985.3Z"/>
<path class="p" d="M435.9 965.3 L470.1 973.9 L498.6 993.8 L521.4 1019.4 L527.0 1033.7 L504.3 1025.1 L481.5 1008.0 L464.4 985.3Z"/>
<path class="p" d="M1418.8 765.1 L1421.0 763.0 L1423.2 761.0 L1425.4 758.9 L1427.6 756.8 L1429.8 754.7 L1432.0 752.7 L1434.2 750.6 L1436.4 748.5 L1438.6 746.4 L1440.8 744.4 L1443.0 742.3 L1445.2 739.5 L1447.3 736.6 L1449.4 733.8 L1451.6 731.0 L1449.3 728.7 L1447.0 726.4 L1444.8 724.2 L1442.5 721.9 L1440.2 719.6 L1442.8 717.8 L1445.4 716.0 L1447.9 714.1 L1450.5 712.3 L1453.1 710.5 L1455.7 708.7 L1458.3 706.9 L1460.9 705.1 L1463.4 703.2 L1466.0 701.4 L1468.6 699.6 L1471.4 701.5 L1474.3 703.4 L1477.2 705.3 L1480.0 707.2 L1482.8 709.1 L1485.7 711.0 L1487.1 713.9 L1488.6 716.7 L1490.0 719.5 L1491.4 722.4 L1490.7 725.6 L1490.0 728.8 L1489.3 732.0 L1488.6 735.2 L1487.8 738.4 L1487.1 741.6 L1486.4 744.8 L1485.7 748.0 L1482.8 749.0 L1480.0 749.9 L1477.2 750.9 L1474.3 751.8 L1471.4 752.8 L1468.6 753.7 L1467.9 757.3 L1467.2 760.9 L1466.5 764.4 L1465.8 768.0 L1463.7 770.1 L1461.5 772.2 L1459.4 774.4 L1457.3 776.5"/>
<path class="p" d="M1519.9 765.1 L1522.7 763.4 L1525.6 761.7 L1528.4 760.0 L1531.3 758.3 L1534.1 756.6 L1536.0 754.0 L1537.9 751.4 L1539.8 748.8 L1541.7 746.1 L1543.6 743.5 L1545.5 740.9 L1548.9 740.6 L1552.3 740.3 L1555.8 740.1 L1559.2 739.8 L1562.6 739.5 L1564.0 742.4 L1565.4 745.2 L1566.8 748.0 L1568.3 750.9"/>
<path class="p" d="M1563.8 790.2 L1561.2 792.2 L1558.6 794.1 L1556.1 796.1 L1553.5 798.1 L1551.0 800.1 L1548.4 802.1 L1547.5 798.8 L1546.5 795.5 L1545.6 792.2 L1544.6 788.8 L1543.7 785.5 L1542.7 782.2 L1540.2 780.3 L1537.6 778.4 L1535.1 776.5 L1532.6 774.6 L1530.0 772.7 L1527.5 770.8 L1525.0 768.9 L1522.4 767.0 L1519.9 765.1"/>
<path class="p" d="M963.6 834.2 L962.8 837.8 L962.1 841.4 L961.4 844.9 L964.8 845.8 L968.2 846.6 L971.7 847.5 L975.1 848.3 L978.5 849.2 L979.5 846.1 L980.4 843.0 L981.4 840.0 L982.3 836.9 L983.2 833.8 L984.2 830.7 L982.3 827.8 L980.4 825.0"/>
<path class="p" d="M1212.4 1073.9 L1232.3 1059.6 L1260.8 1071.0 L1266.5 1085.3 L1255.1 1093.8 L1232.3 1095.2 L1218.1 1088.1Z"/>
<path class="p" d="M1309.2 1147.9 L1317.8 1142.2 L1340.5 1153.6 L1357.6 1165.0 L1369.0 1196.3 L1346.2 1209.1 L1334.8 1190.6 L1317.8 1179.2 L1309.2 1165.0Z"/>
<path class="p" d="M190.4 800.8 L207.9 797.9 L225.4 814.0 L240.0 806.7 L248.8 840.2 L231.3 847.5 L224.0 859.2 L216.7 843.1 L193.3 835.8 L187.5 821.3Z"/>
<path class="n" d="M434.7 907.6 L436.9 894.7 L460.6 886.1 L482.1 884.0 L503.6 882.9 L525.1 881.8 L540.2 881.8 L548.8 888.3 L546.7 901.2 L540.2 914.1 L538.1 922.7 L516.5 922.7 L499.3 927.0 L490.7 916.3 L477.8 911.9 L460.6 916.3 L441.2 911.9Z"/>
<path class="p" d="M241.0 1291.0 L256.7 1283.0"/>
<path class="p" d="M214.0 1270.0 L215.6 1289.0 L225.6 1297.0 L241.0 1291.0"/>
<path class="p" d="M293.0 1306.0 L302.0 1306.7 L317.8 1320.0 L333.0 1316.7 L347.8 1317.0 L363.0 1333.0 L373.0 1350.0 L374.4 1365.0"/>
<path class="p" d="M317.8 1320.0 L318.0 1332.0"/>
<path class="p" d="M102.8 526.4 L113.9 536.1 L122.2 551.4"/>
<path class="p" d="M143.1 579.2 L145.4 582.4 L147.7 585.7 L150.0 588.9 L151.2 591.7 L152.3 594.4 L153.5 597.2 L152.3 600.0 L151.1 602.8 L149.8 605.5 L148.6 608.3 L145.4 609.1 L142.1 609.9 L138.9 610.8"/>
<path class="p" d="M148.6 623.6 L149.1 626.6 L149.5 629.6 L150.0 632.7 L150.5 635.7 L150.9 638.7 L151.4 641.7 L148.4 642.5 L145.4 643.3 L142.4 644.1 L139.3 644.9 L136.3 645.7 L133.3 646.5 L130.3 645.5 L127.2 644.6 L124.2 643.6 L121.1 642.7 L118.1 641.7 L116.2 639.3 L114.3 636.8 L112.4 634.4 L110.4 632.0 L108.5 629.5 L106.6 627.1 L104.7 624.6 L102.8 622.2"/>
<path class="p" d="M117.4 619.4 L113.2 629.2 L118.1 634.7 L129.2 634.0"/>
<path class="p" d="M137.5 661.8 L148.6 655.6 L166.7 657.6 L158.3 666.7 L148.6 675.0"/>
<path class="p" d="M1479.0 688.0 L1484.0 681.5 L1489.0 688.0 L1484.0 694.5Z"/>
<path class="p" d="M1542.0 723.0 L1547.0 716.5 L1552.0 723.0 L1547.0 729.5Z"/>
<path class="p" d="M1495.0 830.0 L1500.0 823.5 L1505.0 830.0 L1500.0 836.5Z"/>
<path class="p" d="M1450.0 930.0 L1455.0 923.5 L1460.0 930.0 L1455.0 936.5Z"/>
<path class="p" d="M1585.0 885.0 L1590.0 878.5 L1595.0 885.0 L1590.0 891.5Z"/>
<path class="p" d="M1585.0 920.0 L1590.0 913.5 L1595.0 920.0 L1590.0 926.5Z"/>
<path class="p" d="M1620.0 968.0 L1625.0 961.5 L1630.0 968.0 L1625.0 974.5Z"/>
<path class="p" d="M1479.0 1027.0 L1484.0 1020.5 L1489.0 1027.0 L1484.0 1033.5Z"/>
<path class="p" d="M835.0 1303.0 L840.0 1296.5 L845.0 1303.0 L840.0 1309.5Z"/>
<path class="p" d="M283.0 935.0 L288.0 928.5 L293.0 935.0 L288.0 941.5Z"/>
<path class="p" d="M313.0 935.0 L318.0 928.5 L323.0 935.0 L318.0 941.5Z"/>
<path class="p" d="M250.0 1101.0 L255.0 1094.5 L260.0 1101.0 L255.0 1107.5Z"/>
<path class="p" d="M1587.8 628.0 L1590.0 625.1 L1592.2 628.0 L1590.0 630.9Z"/>
<path class="p" d="M1619.8 628.0 L1622.0 625.1 L1624.2 628.0 L1622.0 630.9Z"/>
<path class="p" d="M1467.8 888.0 L1470.0 885.1 L1472.2 888.0 L1470.0 890.9Z"/>
<path class="p" d="M1497.8 888.0 L1500.0 885.1 L1502.2 888.0 L1500.0 890.9Z"/>
<path class="p" d="M1465.8 1042.0 L1468.0 1039.1 L1470.2 1042.0 L1468.0 1044.9Z"/>
<path class="p" d="M1496.8 1290.0 L1499.0 1287.1 L1501.2 1290.0 L1499.0 1292.9Z"/>
<path class="p" d="M1512.8 1319.0 L1515.0 1316.1 L1517.2 1319.0 L1515.0 1321.9Z"/>
<path class="c" d="M841.5 232.7 L843.5 238.7 L849.6 254.8 L854.6 266.9 L856.6 273.0 L854.6 281.0 L847.5 284.7 L839.5 287.1 L831.4 293.1 L825.4 301.2 L821.4 297.1 L813.3 298.7 L803.2 300.2 L797.2 303.2 L787.1 310.2 L781.1 317.3 L779.1 323.3 L769.0 323.7 L761.0 325.3 L750.9 331.4 L742.8 339.4 L738.8 347.5 L728.7 353.5 L718.7 359.6 L708.6 364.6 L700.5 367.6 L694.5 369.6 L690.5 377.7 L684.4 385.7 L678.4 395.8 L673.4 407.9 L670.3 420.0 L671.9 422.5 L673.4 434.8 L678.0 450.1 L685.7 468.6 L693.4 483.9 L699.5 491.6 L698.0 502.3 L704.1 517.7 L710.3 530.0 L714.9 542.2 L714.9 557.6 L713.3 572.9 L707.2 585.2 L704.1 591.4 L694.9 592.9 L682.6 592.9 L676.5 579.1 L664.2 569.9 L659.6 554.5 L651.9 545.3 L645.7 536.1 L636.5 523.8 L631.9 511.5 L630.4 499.3 L633.5 483.9 L630.4 474.7 L621.2 468.6 L612.0 456.3 L602.7 445.5 L590.4 440.9 L581.2 445.5 L562.8 454.7 L552.0 453.2 L544.4 442.5 L525.9 433.3 L501.4 433.3 L482.9 436.3 L470.6 434.8 L470.6 424.0 L467.6 433.3 L452.2 433.3 L433.8 433.3 L421.5 437.9 L427.6 442.5 L427.6 450.1 L421.5 456.3 L430.7 465.5 L436.8 471.6 L433.8 474.7 L424.6 468.6 L412.3 465.5 L406.1 470.1 L390.8 471.6 L375.4 468.6 L363.1 459.3 L350.8 454.7 L338.5 457.8 L320.1 454.7 L301.7 451.1 L290.9 453.2 L274.0 457.8 L263.3 464.0 L252.5 471.6 L237.2 482.4 L218.7 490.1 L206.4 496.2 L194.2 508.5 L186.5 520.8 L181.9 536.1 L184.9 551.5 L189.6 568.3 L181.9 585.2 L172.7 603.6 L171.1 628.2 L169.6 649.7 L168.0 674.2 L171.1 683.5 L178.8 698.8 L184.9 714.2 L188.0 729.5 L200.3 744.9 L212.6 763.3 L221.8 775.6 L231.0 787.8 L246.4 790.9 L261.7 795.5 L274.0 806.3 L292.5 801.7 L317.0 798.6 L332.4 792.4 L350.8 792.4 L363.1 797.0 L372.3 784.8 L384.6 772.5 L390.8 755.6 L395.4 735.6 L398.4 720.3 L409.2 714.2 L430.7 709.6 L455.3 704.9 L476.8 703.4 L498.3 703.4 L506.0 708.0 L509.0 717.2 L501.4 732.6 L489.1 744.9 L487.5 757.1 L482.9 766.4 L478.3 790.9 L475.2 804.7 L467.6 797.0 L461.4 800.1 L464.5 815.5 L463.0 827.8 L461.4 843.1 L455.3 858.4 L447.6 873.8 L443.0 878.4 L452.2 883.0 L464.5 882.4 L473.7 878.4 L486.0 879.9 L501.4 880.6 L516.7 879.9 L532.1 876.9 L547.4 876.9 L562.8 873.8 L578.2 878.4 L593.5 886.1 L605.8 895.3 L618.1 904.5 L615.0 919.9 L612.0 935.2 L608.9 950.5 L607.3 965.9 L605.8 981.2 L602.7 996.6 L601.2 1011.9 L602.7 1027.3 L612.0 1042.7 L622.7 1058.0 L636.5 1071.8 L648.8 1082.6 L661.1 1090.2 L679.5 1094.8 L694.9 1088.7 L713.3 1079.5 L728.7 1070.3 L747.1 1071.8 L762.5 1076.4 L777.8 1082.6 L796.3 1099.4 L808.6 1110.2 L814.7 1119.4 L811.6 1101.0 L827.0 1090.2 L842.4 1076.4 L851.6 1058.0 L854.6 1042.7 L870.0 1030.4 L876.1 1025.8 L891.5 1024.2 L894.6 1018.1 L916.1 1019.6 L934.5 1010.4 L952.9 999.7 L971.4 984.3 L986.7 984.3 L983.7 996.6 L965.2 1008.9 L965.2 1024.2 L974.4 1030.4 L983.7 1027.3 L999.0 1018.1 L1017.5 1011.9 L1014.4 996.6 L1023.6 990.5 L1029.7 1005.8 L1035.9 1013.5 L1054.3 1013.5 L1072.8 1021.2 L1078.9 1033.4 L1085.0 1042.7 L1115.8 1039.6 L1140.3 1039.6 L1146.5 1048.8 L1171.1 1054.9 L1186.4 1053.4 L1201.8 1044.2 L1217.1 1039.6 L1244.8 1036.5 L1272.4 1036.5 L1254.0 1042.7 L1238.6 1045.7 L1244.8 1058.0 L1260.1 1061.1 L1281.6 1064.1 L1300.1 1073.3 L1306.2 1088.7 L1318.5 1101.0 L1336.9 1110.2 L1358.4 1119.4 L1376.9 1140.9 L1386.1 1154.7 L1407.6 1171.6 L1419.9 1182.3 L1438.3 1183.9 L1456.8 1185.4 L1481.3 1182.3 L1505.9 1186.9 L1518.2 1190.0 L1536.6 1196.1 L1558.1 1211.5 L1576.6 1223.8 L1585.8 1236.1 L1601.1 1242.2 L1607.3 1266.8 L1616.5 1297.5 L1625.7 1309.7 L1644.1 1312.8"/>
<path class="c" d="M95.9 843.1 L102.0 844.6 L117.4 852.3 L138.9 856.9 L157.3 867.7 L175.7 875.3 L194.2 878.4 L209.5 884.5 L224.9 881.5 L243.3 873.8 L255.6 869.2 L274.0 867.7 L286.3 873.8 L301.7 886.1 L317.0 901.4 L332.4 913.7 L341.6 919.9 L360.0 932.1 L378.5 938.3 L396.9 939.8 L415.3 947.5 L430.7 952.1 L446.1 959.8 L461.4 961.3 L476.8 959.8 L486.0 955.2 L489.1 967.4 L498.3 981.2 L510.6 993.5 L525.9 1008.9 L538.2 1021.2 L541.3 1028.8 L536.7 1042.7 L541.3 1058.0 L556.7 1067.2 L565.9 1061.1 L573.6 1070.3 L590.4 1078.0 L602.7 1088.7 L605.8 1104.0 L618.1 1107.1 L627.3 1116.3 L642.7 1111.7 L661.1 1116.3 L673.4 1128.6 L685.7 1140.9 L704.1 1140.9 L716.4 1131.7 L707.2 1116.3 L719.5 1101.0 L731.8 1090.2 L747.1 1091.8 L765.6 1107.1 L771.7 1119.4 L768.6 1131.7 L780.9 1144.0 L796.3 1162.4 L796.3 1186.9 L799.3 1211.5 L802.4 1236.1 L805.5 1248.3 L793.2 1272.9 L774.8 1285.2 L759.4 1297.5 L753.3 1315.9 L747.1 1328.2 L728.7 1337.4 L716.4 1346.6 L713.3 1371.1"/>
<path class="c" d="M564.3 694.2 L581.2 686.5 L593.5 674.2 L612.0 662.0 L630.4 657.4 L645.7 653.7 L667.2 654.3 L679.5 655.8 L698.0 657.4 L716.4 662.0 L731.8 674.2 L750.2 677.3 L768.6 680.4 L787.1 692.7 L802.4 700.3 L817.8 711.1 L836.2 715.7 L848.5 717.2 L851.6 728.0 L870.0 729.5 L885.4 740.3 L896.1 743.3 L891.5 749.5 L870.0 754.1 L845.4 752.5 L823.9 752.5 L802.4 754.1 L787.1 756.2 L802.4 741.8 L802.4 731.0 L780.9 729.5 L768.6 720.3 L759.4 704.9 L737.9 701.9 L716.4 697.3 L701.0 688.1 L679.5 685.0 L661.1 683.5 L651.9 677.3 L636.5 668.7 L624.2 678.9 L608.9 683.5 L593.5 691.1 L578.2 695.7Z"/>
<path class="c" d="M638.1 701.9 L627.3 706.5 L621.2 703.4 L624.2 692.7 L633.5 692.7Z"/>
<path class="c" d="M886.9 801.7 L900.7 792.4 L919.2 794.0 L937.6 798.6 L949.9 795.5 L951.4 790.9 L937.6 781.7 L939.1 769.4 L922.2 761.7 L919.2 755.6 L937.6 752.5 L962.2 757.1 L974.4 754.1 L992.9 755.6 L1008.2 758.7 L1023.6 761.7 L1026.7 771.0 L1045.1 771.0 L1035.9 778.6 L1054.3 781.7 L1063.5 787.8 L1074.3 794.0 L1066.6 804.7 L1054.3 800.1 L1026.7 798.6 L1008.2 806.3 L992.9 803.2 L989.8 813.9 L980.6 824.7 L971.4 817.0 L962.2 806.3 L937.6 807.8 L919.2 806.3 L900.7 806.3Z"/>
<path class="c" d="M767.1 804.7 L771.7 798.6 L793.2 797.0 L811.6 800.1 L830.1 807.8 L833.1 815.5 L811.6 817.0 L802.4 821.6 L784.0 817.0 L774.8 809.3Z"/>
<path class="c" d="M1109.6 797.0 L1146.5 798.0 L1158.8 801.7 L1155.7 812.4 L1131.1 813.9 L1109.6 813.9 L1108.1 803.2Z"/>
<path class="c" d="M771.7 591.4 L780.9 594.4 L787.1 609.8 L790.1 623.6 L780.9 625.1 L771.7 612.8 L765.6 600.6Z"/>
<path class="c" d="M747.1 545.3 L765.6 542.9 L780.9 545.3 L768.6 549.9 L750.2 551.5Z"/>
<path class="c" d="M784.0 539.2 L799.3 546.8 L808.6 557.6 L804.0 569.9 L797.8 563.7 L802.4 553.0"/>
<path class="k" d="M817.8 582.1 L833.1 592.9 L834.7 606.7"/>
<path class="k" d="M848.5 608.2 L859.2 622.1"/>
<path class="k" d="M860.8 640.5 L873.1 655.8"/>
<path class="k" d="M836.2 637.4 L848.5 645.1"/>
<path class="k" d="M891.5 665.0 L903.8 674.2 L894.6 683.5"/>
<path class="c" d="M909.9 717.2 L928.4 714.2 L931.4 721.8 L913.0 721.8Z"/>
<path class="k" d="M928.4 677.3 L937.6 680.4"/>
<path class="k" d="M962.2 694.2 L974.4 697.3"/>
<path class="c" d="M1272.4 1056.5 L1300.1 1053.4 L1303.2 1033.4 L1281.6 1036.5 L1284.7 1048.8Z"/>
<path class="k" d="M1183.3 371.9 L1188.0 373.4"/>
<path class="k" d="M1274.9 863.1 L1281.0 864.6 L1281.6 872.3 L1275.5 871.3Z"/>
<path class="k" d="M1287.2 887.6 L1293.3 889.1 L1293.9 896.8 L1287.8 895.9Z"/>
<path class="k" d="M1296.4 910.6 L1302.5 912.2 L1303.2 919.9 L1297.0 918.9Z"/>
<path class="k" d="M1296.4 933.7 L1302.5 935.2 L1303.2 942.9 L1297.0 942.0Z"/>
<path class="k" d="M1290.2 955.2 L1296.4 956.7 L1297.0 964.4 L1290.9 963.4Z"/>
<path class="k" d="M1274.9 988.9 L1281.0 990.5 L1281.6 998.1 L1275.5 997.2Z"/>
<path class="k" d="M1340.9 956.7 L1347.1 958.2 L1347.7 965.9 L1341.6 965.0Z"/>
<path class="k" d="M1271.8 835.4 L1278.0 837.0 L1278.6 844.6 L1272.4 843.7Z"/>
<path class="k" d="M1244.2 829.3 L1250.3 830.8 L1250.9 838.5 L1244.8 837.6Z"/>
<path class="k" d="M1233.4 806.3 L1239.6 807.8 L1240.2 815.5 L1234.0 814.5Z"/>
<path class="k" d="M1179.7 815.5 L1185.8 817.0 L1186.4 824.7 L1180.3 823.8Z"/>
<path class="k" d="M1176.6 797.7 L1182.7 799.2 L1183.3 806.9 L1177.2 806.0Z"/>
<path class="k" d="M1053.7 987.4 L1059.8 988.9 L1060.5 996.6 L1054.3 995.7Z"/>
<path class="k" d="M1072.1 987.4 L1078.3 988.9 L1078.9 996.6 L1072.8 995.7Z"/>
<path class="k" d="M1019.9 976.6 L1026.1 978.2 L1026.7 985.9 L1020.5 984.9Z"/>
<path class="k" d="M1204.2 1022.7 L1210.4 1024.2 L1211.0 1031.9 L1204.8 1031.0Z"/>
<path class="c" d="M974.4 1030.4 L963.7 1048.8 L965.2 1070.3 L983.7 1085.6 L992.9 1076.4 L991.3 1058.0 L980.6 1036.5 L977.5 1028.8"/>
<path class="c" d="M899.9 137.0 L898.9 142.1 L893.9 148.1 L887.8 154.2 L879.8 164.2 L871.7 169.3 L867.7 162.2 L857.6 158.2 L853.6 152.2 L852.6 146.1 L857.6 141.1 L868.7 137.0"/>
<path class="c" d="M853.6 152.2 L859.6 160.2 L864.7 170.3 L868.7 176.3 L869.7 182.4 L865.7 188.4 L859.6 194.4 L853.6 204.5 L847.5 212.6 L842.5 220.6 L840.5 224.6 L841.5 216.6 L845.5 210.5 L849.6 200.5 L845.5 196.5 L843.5 189.4 L837.5 186.4 L839.5 180.3 L833.5 178.3 L831.4 170.3 L832.4 162.2 L836.5 156.2 L842.5 154.2 L839.5 150.1 L831.4 156.2 L825.4 162.2 L822.4 168.3 L823.4 175.3 L819.4 182.4 L813.3 185.4 L805.3 178.3 L808.3 172.3 L803.2 176.3 L799.2 180.3 L801.2 186.4 L813.3 186.4 L805.3 192.4 L813.3 188.4 L821.4 190.4 L825.4 196.5 L819.4 206.5 L813.3 214.6 L819.4 210.5 L825.4 204.5 L829.4 198.5 L831.4 202.5 L827.4 210.5 L821.4 216.6 L811.3 219.6 L801.2 218.6 L813.3 222.6 L823.4 220.6 L831.4 218.6 L827.4 224.6 L820.4 226.7 L825.4 231.7 L833.5 230.7 L841.5 232.7"/>
<path class="c" d="M841.5 232.7 L843.5 242.8 L837.5 251.8 L831.4 252.8 L823.4 256.9 L818.3 252.8 L817.3 258.9 L821.4 260.9 L829.4 257.9 L837.5 258.9 L839.5 260.9 L837.5 268.9 L841.5 268.9 L843.5 262.9 L846.5 260.9 L847.5 266.9 L841.5 275.0 L833.5 280.0 L823.4 278.0 L817.3 276.0 L808.3 275.0 L813.3 278.0 L819.4 277.0 L823.4 279.0 L821.4 283.0 L813.3 285.1 L807.3 286.1 L811.3 289.1 L819.4 291.1 L829.4 291.1 L831.4 293.1"/>
<path class="k" d="M660.0 611.8 L674.5 607.0"/>
<path class="k" d="M681.8 606.0 L689.0 604.5"/>
<path class="k" d="M694.5 601.8 L702.0 596.0 L707.0 591.0"/>
<path class="k" d="M1183.0 371.0 L1187.0 373.0"/>
<path class="b" d="M535.2 996.6 L550.5 996.6 L565.9 1015.0 L559.7 1024.2 L541.3 1015.0Z"/>
<path class="b" d="M95.9 496.2 L117.4 520.8 L126.6 551.5 L154.2 565.3 L175.7 568.3 L189.6 568.3"/>
<path class="b" d="M341.6 919.9 L344.7 901.4 L355.4 872.3 L395.4 871.7 L395.4 861.5 L366.2 835.4 L378.5 835.4 L379.1 817.9 L435.3 817.9 L435.3 843.1 L433.8 876.9 L443.0 878.4"/>
<path class="b" d="M435.3 817.9 L443.0 815.5 L455.3 798.6 L461.4 800.1"/>
<path class="b" d="M433.8 876.9 L435.3 903.0 L429.2 921.4 L406.1 942.9"/>
<path class="b" d="M429.2 921.4 L455.3 936.7 L476.8 938.3 L476.8 953.6"/>
<path class="b" d="M489.1 967.4 L510.6 956.7 L529.0 936.7 L556.7 926.0 L578.2 915.2 L618.1 904.5"/>
<path class="b" d="M541.3 1025.8 L562.8 1027.3 L584.3 1028.8 L602.7 1031.9"/>
<path class="b" d="M627.3 1116.3 L627.3 1088.7 L636.5 1071.8"/>
<path class="b" d="M796.3 1099.4 L799.3 1122.5 L780.9 1144.0"/>
<path class="b" d="M983.7 996.6 L946.8 1024.2 L922.2 1082.6 L946.8 1110.2 L952.9 1137.8 L1020.5 1150.1 L1042.0 1177.7 L1100.4 1174.7 L1091.2 1202.3 L1089.6 1226.8 L1106.5 1260.6 L1091.2 1279.0 L1109.6 1294.4 L1118.8 1328.2"/>
<path class="b" d="M1306.2 1088.7 L1330.8 1101.0 L1287.8 1180.8 L1300.1 1205.4 L1309.3 1225.3 L1247.9 1242.2 L1204.8 1239.1 L1192.6 1291.3 L1226.4 1297.5 L1207.9 1305.1 L1161.8 1340.4 L1118.8 1328.2"/>
<path class="b" d="M1330.8 1101.0 L1336.9 1110.2"/>
<path class="b" d="M1419.9 1182.3 L1413.7 1202.3 L1392.2 1242.2 L1390.7 1319.0 L1438.3 1306.7"/>
<path class="b" d="M1309.3 1225.3 L1333.9 1211.5 L1343.1 1245.3 L1336.9 1294.4 L1361.5 1325.1 L1390.7 1319.0"/>
<path class="b" d="M1505.9 1186.9 L1501.3 1211.5 L1515.1 1257.5 L1496.7 1294.4 L1456.8 1288.2 L1438.3 1306.7"/>
<path class="b" d="M1585.8 1236.1 L1576.6 1251.4 L1548.9 1297.5 L1496.7 1294.4"/>
<path class="b" d="M753.3 1322.0 L787.1 1340.4 L830.1 1352.7 L860.8 1368.1"/>
<path class="b" d="M969.8 760.2 L971.4 790.9 L969.8 810.9"/>
<path class="b" d="M1118.8 1328.2 L1112.7 1312.8 L1029.7 1312.8 L1029.7 1331.2 L1048.2 1334.3 L1023.6 1349.6 L1022.1 1371.1"/>
<path class="b" d="M860.8 1368.1 L851.6 1363.5 L830.1 1352.7"/>
<text class="cl" transform="translate(1253.0 436.0) rotate(-20.0) scale(1.1 1)">-24</text>
<text class="cl" transform="translate(1009.0 475.0) rotate(3.0) scale(1.1 1)">-22</text>
<text class="cl" transform="translate(1561.0 318.0) rotate(-35.0) scale(1.1 1)">-20</text>
<text class="cl" transform="translate(932.0 514.0) rotate(5.0) scale(1.1 1)">-18</text>
<text class="cl" transform="translate(1550.0 381.0) rotate(-28.0) scale(1.1 1)">-16</text>
<text class="cl" transform="translate(1361.0 494.0) rotate(-22.0) scale(1.1 1)">-14</text>
<text class="cl" transform="translate(932.0 598.0) rotate(5.0) scale(1.1 1)">-12</text>
<text class="cl" transform="translate(1131.0 592.0) rotate(0.0) scale(1.1 1)">-10</text>
<text class="cl" transform="translate(1240.0 578.0) rotate(-15.0) scale(1.1 1)">-8</text>
<text class="cl" transform="translate(1347.0 554.0) rotate(-25.0) scale(1.1 1)">-6</text>
<text class="cl" transform="translate(1239.0 606.0) rotate(-12.0) scale(1.1 1)">-4</text>
<text class="cl" transform="translate(1347.0 583.0) rotate(-22.0) scale(1.1 1)">-2</text>
<text class="cl" transform="translate(1392.0 576.0) rotate(-25.0) scale(1.1 1)">0</text>
<text class="cl" transform="translate(1428.0 627.0) rotate(-20.0) scale(1.1 1)">6</text>
<text class="cl" transform="translate(1177.0 782.0) rotate(-25.0) scale(1.1 1)">8</text>
<text class="cl" transform="translate(1265.0 766.0) rotate(-22.0) scale(1.1 1)">10</text>
<text class="cl" transform="translate(1435.0 781.0) rotate(-30.0) scale(1.1 1)">10</text>
<text class="cl" transform="translate(1576.0 771.0) rotate(-60.0) scale(1.1 1)">10</text>
<text class="cl" transform="translate(1603.0 688.0) rotate(80.0) scale(1.1 1)">10</text>
<text class="cl" transform="translate(962.0 813.0) rotate(0.0) scale(1.1 1)">12</text>
<text class="cl" transform="translate(1038.0 909.0) rotate(-5.0) scale(1.1 1)">14</text>
<text class="cl" transform="translate(700.0 788.0) rotate(-15.0) scale(1.1 1)">2</text>
<text class="cl" transform="translate(485.0 862.0) rotate(-20.0) scale(1.1 1)">0</text>
<text class="cl" transform="translate(365.0 843.0) rotate(0.0) scale(1.1 1)">-4</text>
<text class="cl" transform="translate(397.0 893.0) rotate(10.0) scale(1.1 1)">-4</text>
<text class="cl" transform="translate(210.0 720.0) rotate(-20.0) scale(1.1 1)">2</text>
<text class="cl" transform="translate(301.0 770.0) rotate(-20.0) scale(1.1 1)">2</text>
<text class="cl" transform="translate(208.0 767.0) rotate(0.0) scale(1.1 1)">0</text>
<text class="cl" transform="translate(215.0 827.0) rotate(0.0) scale(1.1 1)">0</text>
<text class="cl" transform="translate(286.0 832.0) rotate(0.0) scale(1.1 1)">0</text>
<text class="cl" transform="translate(133.0 674.0) rotate(-20.0) scale(1.1 1)">0</text>
<text class="cl" transform="translate(133.0 697.0) rotate(0.0) scale(1.1 1)">0</text>
<text class="cl" transform="translate(133.0 563.0) rotate(-50.0) scale(1.1 1)">2</text>
<text class="cl" transform="translate(133.0 597.0) rotate(0.0) scale(1.1 1)">4</text>
<text class="cl" transform="translate(133.0 625.0) rotate(-30.0) scale(1.1 1)">4</text>
<text class="cl" transform="translate(142.0 920.0) rotate(80.0) scale(1.1 1)">14</text>
<text class="cl" transform="translate(239.0 940.0) rotate(-15.0) scale(1.1 1)">12</text>
<text class="cl" transform="translate(391.0 967.0) rotate(80.0) scale(1.1 1)">14</text>
<text class="cl" transform="translate(302.0 1008.0) rotate(-15.0) scale(1.1 1)">14</text>
<text class="cl" transform="translate(212.0 1057.0) rotate(70.0) scale(1.1 1)">16</text>
<text class="cl" transform="translate(134.0 1084.0) rotate(-10.0) scale(1.1 1)">16</text>
<text class="cl" transform="translate(271.0 1190.0) rotate(15.0) scale(1.1 1)">16</text>
<text class="cl" transform="translate(271.0 1300.0) rotate(25.0) scale(1.1 1)">16</text>
<text class="cl" transform="translate(516.0 1317.0) rotate(15.0) scale(1.1 1)">16</text>
<text class="cl" transform="translate(929.0 1073.0) rotate(-40.0) scale(1.1 1)">16</text>
<text class="cl" transform="translate(900.0 1148.0) rotate(45.0) scale(1.1 1)">16</text>
<text class="cl" transform="translate(1316.0 1196.0) rotate(40.0) scale(1.1 1)">14</text>
<text class="cl" transform="translate(1349.0 1119.0) rotate(10.0) scale(1.1 1)">16</text>
<text class="cl" transform="translate(1484.0 1116.0) rotate(15.0) scale(1.1 1)">16</text>
<text class="cl" transform="translate(1441.0 1043.0) rotate(60.0) scale(1.1 1)">16</text>
<text class="cl" transform="translate(1410.0 1288.0) rotate(15.0) scale(1.1 1)">16</text>
<text class="cl" transform="translate(1546.0 1344.0) rotate(15.0) scale(1.1 1)">16</text>
<text class="cl" transform="translate(1243.0 1053.0) rotate(30.0) scale(1.1 1)">14</text>
<text class="cl" transform="translate(1483.0 860.0) rotate(90.0) scale(1.1 1)">8</text>
</g>
<rect x="102" y="137" width="1536" height="1228" fill="none" stroke="#000" stroke-width="1.8"/>
<text transform="translate(410.5 1397.5) scale(1.100 1)" font-size="23.7" text-anchor="middle">90°W</text><text transform="translate(717.5 1397.5) scale(1.100 1)" font-size="23.7" text-anchor="middle">80°W</text><text transform="translate(1024.5 1397.5) scale(1.100 1)" font-size="23.7" text-anchor="middle">70°W</text><text transform="translate(1331.5 1397.5) scale(1.100 1)" font-size="23.7" text-anchor="middle">60°W</text><text transform="translate(89.0 299.2) scale(1.100 1)" font-size="23.7" text-anchor="end">35°N</text><text transform="translate(89.0 452.7) scale(1.100 1)" font-size="23.7" text-anchor="end">30°N</text><text transform="translate(89.0 606.2) scale(1.100 1)" font-size="23.7" text-anchor="end">25°N</text><text transform="translate(89.0 759.7) scale(1.100 1)" font-size="23.7" text-anchor="end">20°N</text><text transform="translate(89.0 913.2) scale(1.100 1)" font-size="23.7" text-anchor="end">15°N</text><text transform="translate(89.0 1066.7) scale(1.100 1)" font-size="23.7" text-anchor="end">10°N</text><text transform="translate(89.0 1220.2) scale(1.100 1)" font-size="23.7" text-anchor="end">5°N</text>
<g shape-rendering="crispEdges"><rect x="1675.5" y="1287.47" width="59.5" height="59.92" fill="#5e4fa2"/><rect x="1675.5" y="1227.95" width="59.5" height="59.92" fill="#486cb0"/><rect x="1675.5" y="1168.42" width="59.5" height="59.92" fill="#3389bd"/><rect x="1675.5" y="1108.90" width="59.5" height="59.92" fill="#50a9af"/><rect x="1675.5" y="1049.38" width="59.5" height="59.92" fill="#6bc4a5"/><rect x="1675.5" y="989.85" width="59.5" height="59.92" fill="#91d3a4"/><rect x="1675.5" y="930.33" width="59.5" height="59.92" fill="#b3e0a2"/><rect x="1675.5" y="870.80" width="59.5" height="59.92" fill="#d1ed9c"/><rect x="1675.5" y="811.27" width="59.5" height="59.92" fill="#ebf7a0"/><rect x="1675.5" y="751.75" width="59.5" height="59.92" fill="#f8fcb4"/><rect x="1675.5" y="692.23" width="59.5" height="59.92" fill="#fff7b2"/><rect x="1675.5" y="632.70" width="59.5" height="59.92" fill="#fee797"/><rect x="1675.5" y="573.18" width="59.5" height="59.92" fill="#fed07e"/><rect x="1675.5" y="513.65" width="59.5" height="59.92" fill="#fdb768"/><rect x="1675.5" y="454.12" width="59.5" height="59.92" fill="#fa9857"/><rect x="1675.5" y="394.60" width="59.5" height="59.92" fill="#f57547"/><rect x="1675.5" y="335.08" width="59.5" height="59.92" fill="#e85b48"/><rect x="1675.5" y="275.55" width="59.5" height="59.92" fill="#d7414e"/><rect x="1675.5" y="216.03" width="59.5" height="59.92" fill="#bc2249"/><rect x="1675.5" y="156.50" width="59.5" height="59.92" fill="#9e0142"/></g>
<rect x="1675.5" y="156.5" width="59.5" height="1190.5" fill="none" stroke="#000" stroke-width="1.8"/>
<line x1="1735.0" y1="1347.0" x2="1742.0" y2="1347.0" stroke="#000" stroke-width="1.6"/><text transform="translate(1753.5 1355.7) scale(1.130 1)" font-size="23.7" text-anchor="start">−24</text><line x1="1735.0" y1="1287.5" x2="1742.0" y2="1287.5" stroke="#000" stroke-width="1.6"/><text transform="translate(1753.5 1296.2) scale(1.130 1)" font-size="23.7" text-anchor="start">−22</text><line x1="1735.0" y1="1228.0" x2="1742.0" y2="1228.0" stroke="#000" stroke-width="1.6"/><text transform="translate(1753.5 1236.7) scale(1.130 1)" font-size="23.7" text-anchor="start">−20</text><line x1="1735.0" y1="1168.4" x2="1742.0" y2="1168.4" stroke="#000" stroke-width="1.6"/><text transform="translate(1753.5 1177.1) scale(1.130 1)" font-size="23.7" text-anchor="start">−18</text><line x1="1735.0" y1="1108.9" x2="1742.0" y2="1108.9" stroke="#000" stroke-width="1.6"/><text transform="translate(1753.5 1117.6) scale(1.130 1)" font-size="23.7" text-anchor="start">−16</text><line x1="1735.0" y1="1049.4" x2="1742.0" y2="1049.4" stroke="#000" stroke-width="1.6"/><text transform="translate(1753.5 1058.1) scale(1.130 1)" font-size="23.7" text-anchor="start">−14</text><line x1="1735.0" y1="989.9" x2="1742.0" y2="989.9" stroke="#000" stroke-width="1.6"/><text transform="translate(1753.5 998.6) scale(1.130 1)" font-size="23.7" text-anchor="start">−12</text><line x1="1735.0" y1="930.3" x2="1742.0" y2="930.3" stroke="#000" stroke-width="1.6"/><text transform="translate(1753.5 939.0) scale(1.130 1)" font-size="23.7" text-anchor="start">−10</text><line x1="1735.0" y1="870.8" x2="1742.0" y2="870.8" stroke="#000" stroke-width="1.6"/><text transform="translate(1753.5 879.5) scale(1.130 1)" font-size="23.7" text-anchor="start">−8</text><line x1="1735.0" y1="811.3" x2="1742.0" y2="811.3" stroke="#000" stroke-width="1.6"/><text transform="translate(1753.5 820.0) scale(1.130 1)" font-size="23.7" text-anchor="start">−6</text><line x1="1735.0" y1="751.8" x2="1742.0" y2="751.8" stroke="#000" stroke-width="1.6"/><text transform="translate(1753.5 760.5) scale(1.130 1)" font-size="23.7" text-anchor="start">−4</text><line x1="1735.0" y1="692.2" x2="1742.0" y2="692.2" stroke="#000" stroke-width="1.6"/><text transform="translate(1753.5 700.9) scale(1.130 1)" font-size="23.7" text-anchor="start">−2</text><line x1="1735.0" y1="632.7" x2="1742.0" y2="632.7" stroke="#000" stroke-width="1.6"/><text transform="translate(1753.5 641.4) scale(1.130 1)" font-size="23.7" text-anchor="start">0</text><line x1="1735.0" y1="573.2" x2="1742.0" y2="573.2" stroke="#000" stroke-width="1.6"/><text transform="translate(1753.5 581.9) scale(1.130 1)" font-size="23.7" text-anchor="start">2</text><line x1="1735.0" y1="513.6" x2="1742.0" y2="513.6" stroke="#000" stroke-width="1.6"/><text transform="translate(1753.5 522.4) scale(1.130 1)" font-size="23.7" text-anchor="start">4</text><line x1="1735.0" y1="454.1" x2="1742.0" y2="454.1" stroke="#000" stroke-width="1.6"/><text transform="translate(1753.5 462.8) scale(1.130 1)" font-size="23.7" text-anchor="start">6</text><line x1="1735.0" y1="394.6" x2="1742.0" y2="394.6" stroke="#000" stroke-width="1.6"/><text transform="translate(1753.5 403.3) scale(1.130 1)" font-size="23.7" text-anchor="start">8</text><line x1="1735.0" y1="335.1" x2="1742.0" y2="335.1" stroke="#000" stroke-width="1.6"/><text transform="translate(1753.5 343.8) scale(1.130 1)" font-size="23.7" text-anchor="start">10</text><line x1="1735.0" y1="275.5" x2="1742.0" y2="275.5" stroke="#000" stroke-width="1.6"/><text transform="translate(1753.5 284.2) scale(1.130 1)" font-size="23.7" text-anchor="start">12</text><line x1="1735.0" y1="216.0" x2="1742.0" y2="216.0" stroke="#000" stroke-width="1.6"/><text transform="translate(1753.5 224.7) scale(1.130 1)" font-size="23.7" text-anchor="start">14</text><line x1="1735.0" y1="156.5" x2="1742.0" y2="156.5" stroke="#000" stroke-width="1.6"/><text transform="translate(1753.5 165.2) scale(1.130 1)" font-size="23.7" text-anchor="start">16</text>
<text transform="translate(1834.5 1099.5) rotate(-90)" font-size="24" textLength="698" lengthAdjust="spacingAndGlyphs">Anomalía de θe de saturación media 1000–700 hPa [°C]</text>
</svg></body></html>
